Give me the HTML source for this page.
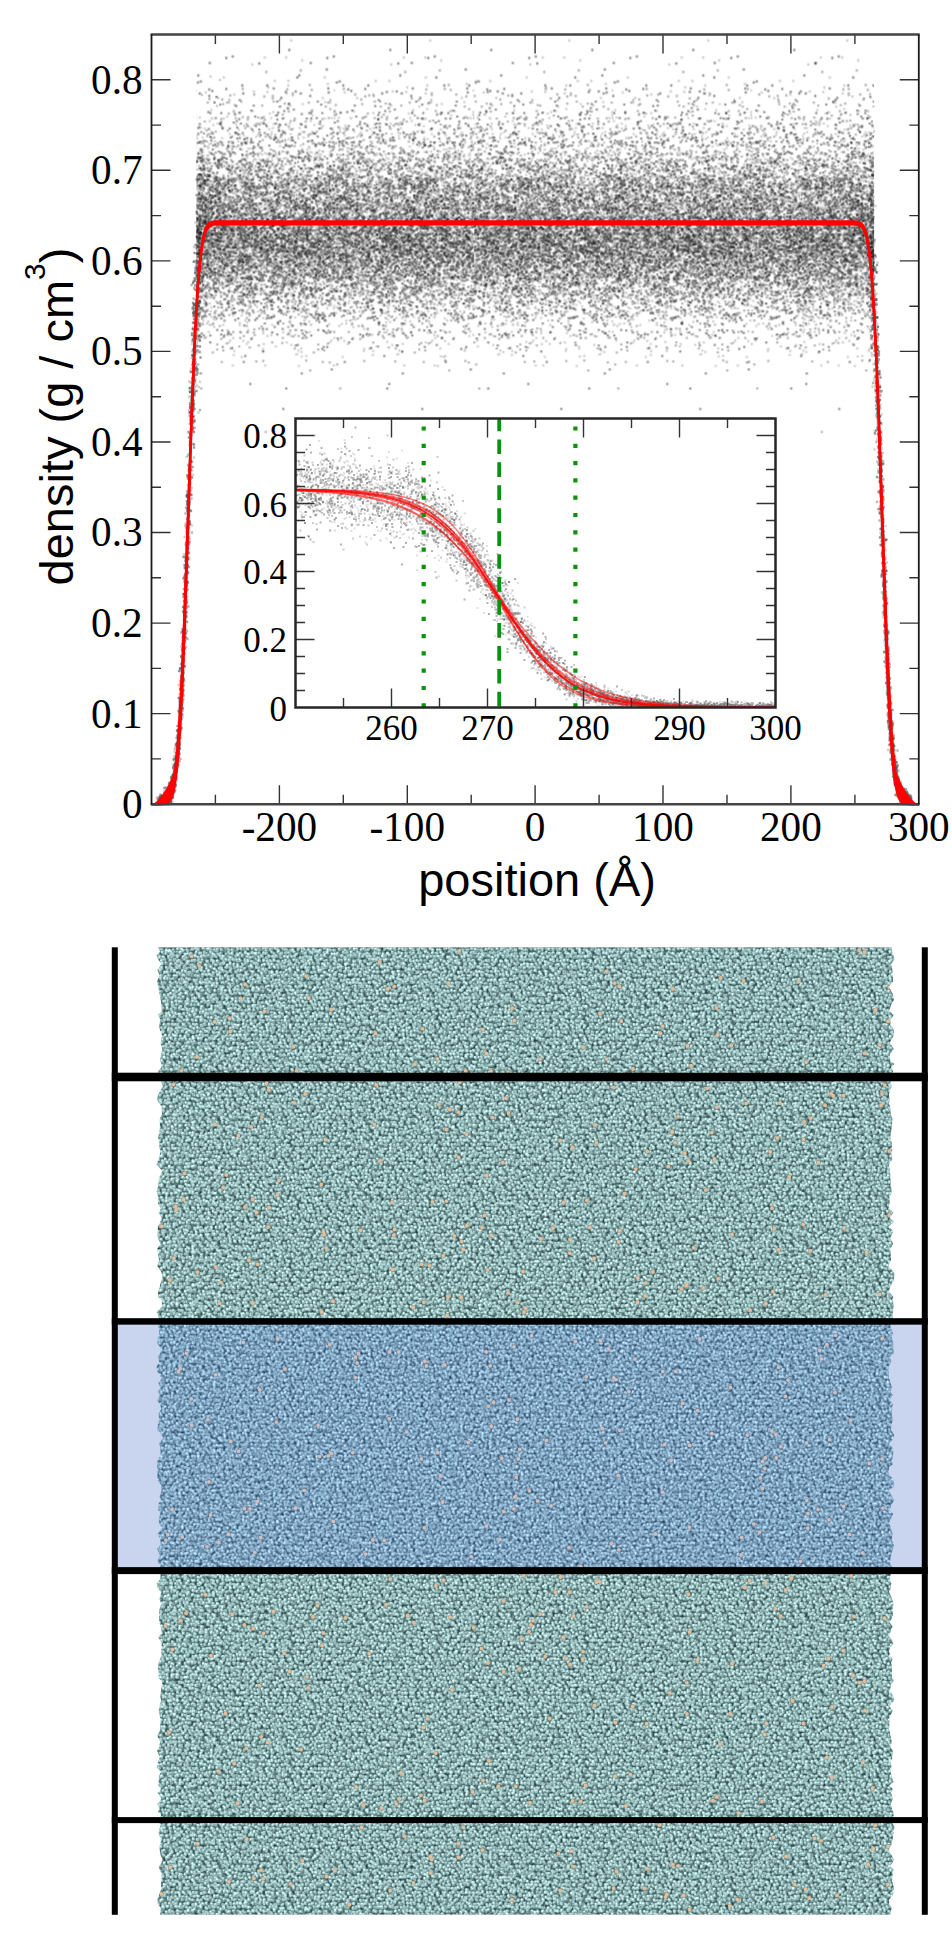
<!DOCTYPE html>
<html><head><meta charset="utf-8"><title>density profile</title>
<style>
html,body{margin:0;padding:0;background:#fff;}
body{width:952px;height:1936px;overflow:hidden;}
svg{display:block;}
</style></head>
<body>
<svg width="952" height="1936" viewBox="0 0 952 1936">
<defs>
<pattern id="cp1" patternUnits="userSpaceOnUse" x="196.3" y="34.5" width="101" height="769.7"><g transform="scale(.5)" stroke="#000" stroke-width="4.6" stroke-linecap="square"><path d="M13 320h0M54 291h0M140 569h0M194 344h0M116 430h0M105 502h0M52 421h0M23 521h0M101 440h0M76 452h0M20 412h0M25 498h0M153 187h0M5 187h0M42 365h0M171 500h0M162 334h0M202 392h0M200 445h0M146 273h0M97 471h0M131 345h0M24 396h0M159 394h0M67 507h0M196 464h0M62 346h0M128 520h0M18 534h0M140 356h0M60 414h0M137 409h0M66 234h0M46 286h0M60 418h0M8 302h0M171 259h0M63 520h0M128 388h0M179 316h0M74 255h0M56 439h0M43 178h0M110 343h0M22 399h0M109 279h0M173 455h0M40 304h0M14 408h0M21 468h0M109 503h0M174 499h0M50 404h0M97 328h0M103 470h0M156 317h0M98 260h0M35 258h0M58 355h0M134 426h0M106 347h0M99 328h0M41 491h0M84 487h0M86 157h0M129 476h0M191 209h0M86 335h0M89 416h0M102 335h0M185 376h0M108 461h0M112 514h0M79 457h0M187 189h0M41 425h0M127 204h0M45 430h0M185 347h0M67 199h0M9 375h0M146 189h0M103 379h0M187 259h0M23 394h0M157 458h0M52 445h0M16 554h0M104 533h0M19 357h0M78 477h0M162 319h0M6 433h0M148 333h0M183 306h0M64 425h0M186 575h0M135 301h0M185 310h0M201 369h0M174 476h0M55 86h0M9 384h0M191 407h0M190 206h0M153 431h0M87 400h0M116 268h0M100 376h0M125 292h0M36 431h0M9 282h0M42 385h0M98 572h0M11 324h0M46 444h0M156 319h0M1 470h0M99 218h0M155 512h0M58 426h0M122 468h0M49 409h0M49 259h0M178 403h0M140 364h0M166 381h0M105 285h0M74 477h0M142 282h0M64 446h0M126 357h0M142 263h0M122 510h0M112 424h0M185 517h0M102 552h0M193 390h0M113 468h0M194 421h0M129 559h0M48 539h0M101 619h0M124 316h0M12 405h0M118 410h0M6 337h0M48 259h0M139 330h0M23 429h0M174 596h0M169 385h0M178 326h0M141 316h0M146 348h0M137 513h0M113 228h0M116 422h0M33 433h0M187 390h0M113 334h0M46 378h0M39 478h0M102 246h0M26 411h0M173 498h0M15 321h0M18 428h0M123 459h0M189 428h0M171 476h0M14 380h0M147 352h0M152 464h0M24 329h0M106 321h0M37 555h0M0 544h0M25 595h0M198 462h0M27 414h0M11 442h0M72 348h0M34 301h0M98 450h0M111 456h0M199 292h0M76 358h0M61 493h0M14 251h0M86 455h0M122 395h0M4 348h0M54 487h0M171 264h0M103 406h0M33 345h0M197 352h0M13 206h0M13 252h0M176 350h0M119 354h0M91 230h0M74 404h0M40 258h0M132 240h0M103 302h0M25 461h0M156 377h0M188 381h0M84 396h0M110 459h0M104 240h0M73 473h0M106 351h0M105 267h0M30 218h0M14 403h0M190 415h0M10 195h0M179 413h0M78 467h0M53 393h0M152 251h0M16 408h0M151 459h0M76 304h0M83 368h0M172 405h0M162 430h0M27 333h0M13 405h0M152 284h0M54 422h0M123 449h0M55 168h0M9 403h0M83 386h0M199 358h0M57 297h0M24 462h0M34 503h0M102 482h0M153 368h0M27 581h0M188 142h0M127 275h0M21 439h0M142 548h0M155 342h0M15 348h0M16 262h0M64 416h0M182 378h0M10 564h0M46 488h0M191 321h0M153 424h0M70 444h0M40 433h0M143 394h0M55 355h0M64 296h0M161 338h0M135 254h0M200 418h0M73 548h0M1 285h0M34 181h0M83 413h0M1 440h0M48 438h0M121 319h0M92 471h0M43 349h0M142 445h0M91 412h0M43 511h0M43 361h0M102 456h0M165 435h0M21 365h0M142 603h0M130 443h0M195 485h0M67 500h0M8 383h0M195 301h0M28 350h0M200 640h0M124 554h0M78 377h0M183 249h0M51 309h0M58 489h0M47 302h0M51 183h0M66 425h0M160 429h0M118 510h0M162 459h0M102 447h0M24 574h0M81 401h0M145 457h0M129 402h0M16 538h0M67 316h0M199 344h0M7 507h0M169 266h0M40 442h0M169 453h0M67 272h0M134 433h0M22 342h0M178 381h0M199 454h0M81 437h0M157 264h0M14 427h0M72 514h0M22 442h0M4 198h0M97 368h0M98 462h0M189 363h0M23 551h0M174 400h0M77 287h0M190 522h0M23 224h0M98 340h0M72 426h0M32 348h0M11 376h0M98 372h0M77 341h0M7 322h0M7 423h0M101 514h0M82 480h0M56 337h0M29 268h0M23 473h0M87 449h0M194 386h0M178 288h0M198 506h0M110 471h0M174 264h0M72 279h0M25 439h0M58 504h0M98 509h0M114 442h0M188 324h0M52 207h0M128 379h0M101 432h0M43 251h0M7 426h0M11 304h0M106 340h0M72 420h0M117 338h0M114 194h0M134 629h0M129 488h0M8 635h0M50 470h0M8 423h0M151 262h0M150 255h0M19 444h0M201 397h0M73 662h0M19 505h0M119 325h0M76 464h0M174 358h0M111 527h0M69 428h0M187 399h0M29 236h0M143 428h0M65 616h0M182 496h0M21 507h0M97 387h0M159 241h0M75 370h0M74 607h0M175 459h0M50 251h0M115 343h0M137 449h0M177 367h0M73 346h0M183 312h0M124 243h0M101 414h0M20 433h0M174 315h0M107 228h0M146 416h0M190 603h0M136 375h0M24 370h0M180 349h0M157 479h0M189 199h0M140 469h0M33 324h0M180 358h0M150 369h0M86 427h0M160 364h0M47 219h0M166 285h0M124 200h0M137 407h0M149 265h0M126 383h0M162 387h0M79 427h0M66 136h0M34 291h0M83 469h0M74 372h0M59 392h0M39 321h0M27 173h0M187 447h0M108 512h0M182 437h0M41 440h0M6 475h0M183 412h0M120 414h0M37 374h0M179 247h0M195 529h0M171 409h0M129 391h0M41 412h0M8 581h0M9 306h0M61 344h0M195 317h0M13 514h0M126 481h0M23 475h0M185 474h0M96 182h0M43 382h0M26 506h0M145 369h0M149 293h0M120 204h0M74 562h0M36 431h0M13 579h0M190 621h0M19 370h0M104 228h0M25 441h0M119 408h0M58 400h0M59 384h0M102 299h0M19 374h0M39 448h0M2 632h0M55 464h0M47 314h0M26 467h0M52 431h0M165 319h0M89 408h0M143 337h0M173 441h0M177 558h0M121 409h0M17 352h0M131 330h0M51 402h0M191 310h0M112 607h0M190 310h0M80 321h0M82 377h0M72 457h0M94 613h0M91 222h0M177 389h0M151 461h0M33 361h0M112 450h0M6 325h0M100 326h0M137 481h0M124 498h0M65 447h0M34 358h0M11 433h0M67 441h0M142 439h0M37 385h0M196 430h0M147 396h0M170 457h0M134 589h0M119 361h0M132 367h0M34 508h0M191 460h0M106 403h0M60 399h0M39 352h0M15 400h0M104 471h0M38 289h0M127 436h0M66 387h0M4 435h0M187 401h0M91 645h0M159 624h0M113 153h0M124 459h0M84 389h0M186 402h0M48 290h0M64 357h0M141 406h0M183 367h0M158 322h0M41 466h0M106 404h0M23 550h0M65 326h0M4 348h0M144 396h0M183 478h0M95 494h0M85 359h0M155 179h0M85 190h0M178 480h0M80 351h0M124 303h0M174 333h0M7 370h0M94 348h0M127 286h0M14 572h0M49 399h0M58 416h0M39 444h0M14 546h0M32 423h0M59 495h0M109 514h0M56 395h0M158 332h0M69 290h0M2 389h0M54 422h0M168 431h0M197 364h0M28 580h0M80 504h0M86 392h0M149 565h0M113 310h0M163 501h0M3 310h0M93 412h0M135 382h0M129 225h0M147 494h0M185 420h0M10 229h0M99 422h0M22 362h0M113 536h0M183 407h0M19 379h0M144 429h0M98 444h0M54 373h0M44 339h0M104 282h0M179 247h0M114 453h0M119 281h0M67 330h0M171 401h0M105 483h0M183 502h0M193 410h0M180 301h0M83 285h0M129 397h0M26 290h0M97 413h0M2 208h0M182 556h0M33 311h0M4 549h0M87 387h0M104 340h0M154 495h0M121 402h0M174 431h0M139 374h0M18 346h0M149 344h0M33 355h0M77 161h0M179 466h0M80 438h0M49 302h0M133 633h0M121 433h0M167 433h0M165 298h0M184 453h0M189 295h0M114 506h0M116 433h0M186 599h0M73 394h0M24 498h0M101 278h0M30 455h0M107 369h0M48 415h0M195 375h0M87 356h0M176 380h0M122 366h0M90 340h0M46 312h0M92 479h0M171 454h0M28 300h0M142 398h0M136 341h0M7 385h0M166 469h0M45 475h0M19 300h0M116 444h0M58 312h0M7 459h0M77 444h0M87 395h0M60 519h0M6 423h0M170 422h0M117 314h0M147 287h0M72 558h0M187 178h0M82 383h0M37 370h0M196 352h0M96 283h0M69 491h0M150 200h0M30 151h0M150 601h0M126 372h0M187 390h0M184 508h0M130 304h0M150 412h0M26 349h0M160 238h0M64 340h0M101 352h0M127 196h0M166 326h0M102 338h0M38 293h0M78 557h0M172 450h0M183 439h0M13 431h0M31 306h0M57 440h0M16 334h0M72 339h0M134 512h0M133 367h0M49 407h0M103 408h0M9 444h0M148 426h0M93 407h0M159 402h0M25 315h0M56 353h0M108 485h0M5 393h0M32 322h0M181 454h0M92 371h0M14 441h0M157 357h0M151 368h0M186 344h0M92 384h0M69 389h0M60 548h0M28 385h0M102 487h0M148 319h0M145 448h0M47 425h0M111 466h0M56 405h0M68 612h0M130 428h0M197 414h0M95 202h0M36 239h0M181 308h0M7 297h0M128 314h0M195 431h0M0 452h0M166 364h0M44 219h0M80 438h0M24 452h0M161 507h0M184 93h0M103 456h0M166 498h0M0 639h0M58 385h0M151 195h0M183 359h0M134 326h0M109 447h0M20 326h0M82 511h0M104 282h0M199 374h0M43 410h0M2 389h0M163 330h0M131 371h0M100 362h0M159 307h0M190 459h0M165 391h0M21 248h0M110 468h0M156 368h0M82 379h0M43 417h0M60 269h0M94 272h0M140 348h0M50 525h0M115 366h0M73 410h0M74 273h0M122 518h0M186 367h0M35 416h0M182 475h0M84 214h0M7 237h0M13 469h0M24 403h0M59 440h0M59 394h0M117 505h0M143 287h0M78 398h0M157 93h0M71 224h0M79 513h0M31 565h0M43 321h0M109 387h0M39 386h0M63 361h0M155 376h0M54 281h0M4 397h0M24 474h0M11 300h0M29 333h0M5 433h0M83 529h0M187 279h0M37 338h0M72 262h0M26 235h0M50 421h0M26 250h0M57 292h0M101 376h0M56 346h0M182 345h0M177 425h0M40 511h0M119 250h0M2 302h0M96 314h0M124 477h0M93 466h0M23 362h0M148 349h0M142 406h0M4 361h0" stroke-opacity="0.18"/><path d="M105 391h0M42 620h0M75 472h0M197 245h0M74 557h0M187 463h0M176 407h0M97 485h0M178 376h0M160 444h0M23 525h0M110 395h0M26 423h0M142 379h0M170 456h0M103 595h0M101 346h0M66 361h0M16 473h0M185 428h0M114 385h0M71 527h0M31 306h0M44 396h0M42 368h0M193 368h0M142 256h0M116 466h0M27 457h0M114 398h0M65 436h0M163 318h0M47 300h0M131 410h0M11 438h0M31 424h0M173 607h0M101 370h0M74 595h0M118 370h0M56 439h0M27 396h0M99 317h0M53 458h0M6 453h0M30 385h0M73 470h0M140 263h0M10 471h0M79 476h0M1 356h0M183 315h0M188 479h0M52 337h0M193 402h0M1 423h0M6 406h0M108 376h0M91 219h0M120 485h0M11 415h0M18 557h0M14 461h0M188 482h0M78 350h0M142 387h0M47 369h0M183 404h0M182 238h0M106 328h0M132 440h0M37 558h0M177 364h0M30 432h0M191 491h0M68 457h0M58 424h0M172 475h0M143 438h0M92 368h0M179 444h0M46 406h0M18 371h0M144 332h0M160 482h0M137 452h0M115 372h0M117 389h0M142 462h0M156 467h0M145 316h0M45 294h0M63 458h0M110 280h0M133 211h0M9 367h0M27 375h0M152 384h0M13 470h0M189 411h0M118 457h0M59 445h0M80 389h0M154 434h0M29 459h0M46 454h0M162 377h0M71 462h0M85 540h0M121 313h0M186 401h0M10 303h0M34 327h0M111 507h0M24 462h0M18 524h0M146 297h0M64 406h0M157 301h0M81 329h0M19 606h0M32 522h0M20 481h0M102 331h0M189 401h0M188 565h0M122 400h0M154 370h0M93 109h0M69 388h0M197 223h0M54 632h0M137 404h0M143 327h0M32 300h0M21 527h0M110 367h0M10 232h0M95 278h0M130 338h0M96 421h0M115 398h0M146 531h0M95 391h0M57 306h0M4 387h0M36 469h0M102 271h0M124 283h0M64 534h0M131 468h0M106 349h0M93 361h0M128 436h0M115 537h0M24 370h0M135 298h0M132 425h0M92 316h0M127 226h0M196 435h0M99 317h0M198 372h0M109 438h0M98 250h0M17 607h0M86 456h0M71 344h0M163 286h0M36 322h0M42 411h0M92 249h0M42 312h0M19 395h0M24 426h0M128 399h0M11 309h0M144 274h0M183 600h0M190 335h0M0 203h0M171 413h0M23 242h0M94 462h0M174 491h0M92 477h0M81 329h0M36 400h0M8 514h0M29 374h0M35 442h0M180 297h0M129 417h0M114 521h0M4 376h0M64 352h0M122 402h0M175 373h0M196 405h0M158 206h0M5 438h0M27 307h0M46 414h0M36 489h0M177 498h0M164 488h0M6 376h0M42 352h0M193 509h0M102 256h0M92 347h0M79 303h0M61 419h0M176 433h0M134 653h0M102 312h0M101 298h0M11 506h0M161 320h0M164 575h0M89 362h0M96 380h0M114 372h0M202 398h0M91 426h0M96 430h0M39 447h0M173 234h0M180 463h0M70 391h0M35 508h0M60 478h0M196 341h0M86 552h0M109 443h0M15 565h0M133 251h0M117 502h0M96 419h0M63 592h0M66 131h0M109 504h0M196 427h0M62 136h0M57 456h0M77 329h0M1 410h0M12 286h0M171 261h0M197 423h0M39 553h0M43 354h0M43 297h0M173 380h0M87 425h0M112 408h0M88 412h0M90 379h0M190 505h0M128 410h0M96 381h0M10 476h0M6 341h0M15 336h0M112 385h0M70 291h0M116 398h0M140 434h0M100 441h0M150 567h0M50 169h0M41 445h0M97 488h0M14 311h0M166 405h0M3 387h0M20 564h0M140 519h0M75 153h0M157 402h0M178 346h0M104 387h0M199 534h0M42 487h0M20 390h0M166 482h0M163 391h0M92 304h0M149 279h0M119 432h0M82 462h0M196 365h0M15 363h0M16 378h0M64 306h0M120 183h0M191 485h0M15 449h0M131 406h0M199 418h0M67 343h0M136 304h0M30 368h0M8 555h0M75 318h0M22 203h0M21 214h0M23 200h0M11 328h0M90 501h0M182 459h0M66 289h0M182 456h0M93 296h0M72 326h0M101 234h0M136 465h0M64 284h0M35 419h0M37 497h0M44 382h0M56 332h0M152 616h0M56 564h0M170 409h0M98 409h0M94 456h0M181 390h0M197 397h0M79 487h0M14 301h0M85 291h0M125 415h0M197 445h0M17 433h0M128 340h0M64 299h0M153 482h0M57 369h0M91 454h0M182 415h0M158 366h0M154 426h0M68 411h0M21 249h0M117 352h0M77 141h0M32 327h0M37 287h0M61 494h0M108 486h0M190 435h0M72 229h0M108 312h0M118 541h0M83 311h0M28 398h0M3 560h0M171 383h0M186 410h0M92 428h0M106 397h0M100 242h0M175 431h0M19 414h0M177 138h0M183 223h0M72 378h0M79 314h0M148 254h0M150 400h0M130 389h0M104 520h0M184 278h0M65 425h0M69 409h0M160 346h0M172 469h0M75 529h0M142 536h0M142 398h0M2 396h0M200 424h0M184 453h0M153 351h0M11 432h0M81 425h0M88 273h0M201 427h0M75 288h0M153 502h0M51 403h0M142 282h0M178 413h0M182 554h0M201 508h0M120 506h0M76 531h0M30 509h0M29 335h0M18 343h0M69 398h0M138 416h0M3 370h0M29 461h0M65 539h0M55 396h0M146 384h0M109 498h0M194 339h0M136 400h0M19 331h0M132 555h0M57 316h0M149 230h0M153 383h0M1 467h0M42 381h0M33 636h0M65 513h0M162 514h0M59 391h0M72 254h0M97 520h0M135 297h0M173 495h0M155 415h0M46 512h0M191 452h0M4 532h0M177 290h0M73 344h0M190 564h0M196 322h0M156 465h0M104 455h0M135 545h0M192 495h0M80 388h0M54 321h0M164 394h0M195 554h0M187 365h0M72 204h0M197 392h0M72 443h0M153 123h0M73 386h0M40 423h0M32 478h0M86 441h0M156 272h0M8 463h0M88 607h0M188 275h0M61 618h0M155 134h0M29 443h0M134 367h0M183 433h0M127 362h0M61 522h0M9 290h0M55 470h0M73 216h0M37 437h0M60 426h0M131 429h0M137 475h0M202 288h0M41 403h0M91 451h0M98 187h0M108 378h0M85 366h0M146 204h0M56 573h0M54 402h0M20 439h0M37 479h0M137 381h0M27 199h0M59 371h0M116 120h0M140 408h0M155 241h0M45 471h0M6 424h0M153 425h0M59 462h0M12 325h0M110 414h0M17 295h0M2 410h0M171 306h0M164 579h0M115 389h0M145 529h0M191 419h0M89 444h0M136 367h0M26 344h0M12 525h0M139 528h0M182 313h0M190 378h0M81 355h0M84 222h0M0 419h0M2 290h0M181 453h0M160 462h0M117 412h0M154 397h0M169 296h0M48 436h0M22 450h0M41 421h0M5 289h0M135 377h0M63 502h0M169 205h0M11 254h0M129 378h0M195 272h0M200 508h0M165 471h0M87 283h0M166 193h0M147 487h0M176 501h0M142 255h0M97 474h0M39 236h0M7 344h0M44 261h0M90 330h0M129 508h0M160 431h0M2 478h0M22 404h0M42 366h0M172 315h0M65 494h0M48 534h0M1 457h0M119 273h0M136 417h0M94 497h0M159 416h0M159 400h0M160 382h0M65 443h0M178 453h0M106 489h0M156 372h0M54 432h0M118 273h0M28 409h0M98 476h0M78 493h0M46 448h0M135 165h0M176 395h0M169 552h0M37 454h0M202 430h0M199 344h0M126 258h0M39 194h0M93 438h0M61 256h0M162 483h0M96 326h0M31 351h0M66 349h0M57 458h0M146 363h0M195 379h0M165 480h0M138 272h0M12 486h0M193 361h0M61 447h0M164 291h0M146 377h0M58 441h0M14 467h0M131 584h0M184 388h0M33 463h0M70 347h0M48 335h0M43 217h0M178 381h0M94 552h0M186 472h0M179 520h0M4 320h0M116 297h0M17 174h0M52 413h0M107 316h0M187 340h0M145 429h0M99 522h0M69 390h0M149 532h0M141 465h0M81 267h0M75 292h0M132 321h0M194 604h0M180 382h0M140 431h0M158 295h0M53 474h0M49 480h0M89 449h0M129 476h0M93 473h0M87 433h0M186 455h0M40 374h0M70 346h0M96 404h0M107 257h0M62 369h0M116 521h0M175 368h0M98 208h0M97 428h0M150 463h0M32 304h0M77 512h0M55 413h0M10 437h0M35 374h0M54 377h0M36 525h0M143 444h0M18 402h0M93 540h0M121 419h0M101 558h0M67 494h0M27 363h0M128 513h0M44 388h0M89 500h0M14 521h0M12 493h0M97 434h0M168 296h0M76 348h0M185 222h0M191 435h0M178 334h0M57 572h0M43 368h0M42 630h0M118 422h0M83 323h0M155 478h0M158 471h0M130 464h0M189 430h0M98 274h0M96 437h0M201 464h0M114 289h0M151 373h0M72 312h0M5 308h0M24 373h0M30 353h0M138 450h0M197 168h0M112 449h0M23 414h0M86 388h0M185 184h0M126 338h0M120 304h0M17 350h0M8 334h0M137 332h0M178 198h0M31 476h0M126 271h0M155 324h0M122 358h0M186 454h0M47 501h0M130 501h0M7 396h0M115 556h0M19 399h0M174 384h0M166 374h0M145 522h0M89 378h0M36 507h0M131 501h0M44 400h0M43 508h0M81 496h0M93 341h0M23 136h0M57 304h0M81 315h0M139 475h0M168 398h0M75 416h0M33 454h0M3 492h0M187 331h0M197 399h0M26 371h0M167 485h0M116 484h0M156 423h0M67 349h0M195 453h0M38 323h0M42 428h0M66 561h0M56 373h0M136 393h0M49 381h0M54 383h0M27 309h0M50 561h0M114 556h0M47 356h0M10 421h0M143 249h0M73 392h0M157 308h0M91 267h0M71 287h0M6 400h0M51 250h0M162 311h0M151 495h0M106 421h0M2 438h0M72 355h0M95 440h0M37 512h0M57 388h0M109 484h0M173 160h0M41 567h0M147 318h0M77 364h0M97 477h0M136 124h0M60 491h0M165 424h0M75 487h0M99 346h0M191 367h0M102 417h0M17 481h0M167 144h0M33 392h0M1 296h0M169 373h0M146 305h0M188 416h0M93 525h0M39 412h0M121 568h0M70 331h0M2 385h0M62 376h0M58 363h0M141 184h0M199 387h0M106 518h0M197 628h0M15 413h0M8 268h0M51 655h0M125 452h0M106 341h0M30 408h0M172 424h0M59 326h0M76 362h0M66 311h0M52 495h0M64 445h0M12 343h0M61 363h0M49 464h0M113 431h0M44 358h0M79 301h0M40 262h0M200 550h0M96 261h0M55 466h0M184 426h0M18 342h0M62 465h0M11 508h0M176 395h0M53 356h0M76 385h0M179 403h0M31 195h0M16 282h0M16 327h0M154 496h0M171 302h0M108 471h0M23 496h0M78 159h0M82 464h0M106 572h0M43 266h0M39 414h0M133 323h0M141 184h0M86 288h0M84 385h0M102 400h0M25 455h0M118 359h0M139 339h0M193 543h0M65 292h0M113 305h0M194 277h0M138 375h0M54 499h0M48 368h0M185 154h0M90 451h0M164 211h0M72 389h0M32 346h0M14 358h0M51 308h0M80 340h0M58 386h0M109 545h0M171 524h0M57 288h0M35 490h0M189 504h0M58 445h0M130 470h0M82 347h0M110 238h0M22 415h0" stroke-opacity="0.28"/><path d="M91 454h0M38 436h0M164 156h0M13 552h0M37 288h0M28 439h0M42 276h0M48 140h0M55 338h0M44 429h0M113 298h0M106 558h0M106 486h0M110 353h0M179 180h0M131 271h0M85 358h0M54 309h0M72 490h0M126 351h0M150 361h0M166 430h0M93 381h0M136 481h0M15 602h0M143 411h0M33 314h0M59 302h0M44 305h0M135 435h0M143 447h0M191 393h0M66 452h0M53 625h0M95 402h0M169 424h0M110 361h0M165 388h0M141 279h0M200 477h0M122 257h0M9 512h0M26 512h0M70 302h0M137 374h0M104 401h0M28 471h0M103 183h0M89 399h0M164 390h0M155 380h0M81 173h0M164 337h0M127 376h0M58 379h0M45 326h0M78 273h0M196 386h0M119 368h0M7 578h0M199 622h0M152 565h0M35 434h0M132 369h0M97 296h0M194 346h0M178 418h0M47 296h0M155 392h0M115 142h0M99 470h0M139 435h0M178 421h0M38 476h0M11 348h0M107 464h0M124 393h0M83 444h0M201 382h0M51 483h0M129 286h0M185 493h0M6 280h0M138 444h0M46 329h0M63 425h0M11 598h0M179 115h0M24 352h0M67 488h0M114 235h0M15 509h0M160 400h0M200 284h0M49 412h0M148 448h0M12 341h0M166 337h0M131 363h0M172 357h0M78 276h0M42 491h0M111 311h0M53 221h0M188 468h0M89 253h0M117 461h0M24 434h0M8 482h0M18 292h0M189 432h0M27 305h0M155 497h0M114 436h0M116 349h0M84 399h0M151 376h0M5 443h0M197 548h0M186 436h0M172 213h0M167 317h0M100 348h0M196 469h0M124 415h0M138 334h0M106 309h0M51 540h0M109 423h0M91 390h0M28 483h0M155 482h0M114 243h0M35 494h0M42 263h0M87 441h0M6 317h0M136 303h0M121 466h0M64 292h0M127 373h0M119 339h0M93 426h0M190 493h0M107 378h0M171 454h0M118 384h0M86 447h0M72 310h0M78 450h0M7 268h0M164 336h0M54 507h0M145 439h0M172 391h0M124 436h0M65 596h0M133 486h0M185 397h0M26 369h0M162 430h0M152 531h0M87 156h0M68 243h0M13 352h0M32 322h0M100 385h0M48 413h0M100 452h0M150 453h0M198 378h0M20 408h0M60 248h0M154 364h0M154 382h0M98 265h0M3 342h0M100 404h0M86 324h0M66 415h0M198 257h0M77 302h0M131 493h0M155 499h0M52 399h0M117 369h0M138 436h0M65 489h0M38 323h0M137 349h0M131 508h0M24 355h0M156 395h0M30 366h0M73 473h0M176 389h0M36 308h0M95 519h0M173 510h0M47 262h0M111 464h0M43 307h0M110 609h0M142 442h0M149 454h0M99 414h0M37 391h0M98 444h0M152 361h0M62 365h0M61 267h0M60 47h0M163 470h0M66 343h0M40 316h0M105 278h0M21 540h0M92 240h0M19 459h0M181 434h0M176 434h0M5 302h0M108 343h0M197 403h0M124 402h0M98 370h0M67 188h0M165 191h0M21 432h0M143 370h0M174 425h0M143 457h0M162 161h0M146 267h0M18 436h0M32 360h0M142 311h0M91 365h0M16 353h0M14 291h0M152 484h0M36 544h0M42 460h0M117 371h0M82 537h0M133 386h0M177 402h0M121 374h0M57 364h0M124 266h0M98 398h0M53 342h0M152 414h0M111 489h0M104 445h0M112 291h0M45 450h0M160 300h0M179 369h0M42 318h0M181 395h0M172 385h0M81 371h0M149 452h0M21 283h0M27 381h0M52 454h0M140 505h0M161 215h0M30 212h0M54 388h0M73 354h0M108 444h0M187 499h0M71 403h0M170 201h0M174 324h0M95 503h0M122 402h0M86 354h0M178 407h0M143 434h0M3 290h0M57 388h0M142 102h0M38 220h0M162 170h0M183 278h0M20 401h0M36 249h0M164 309h0M73 392h0M175 437h0M185 139h0M104 306h0M110 419h0M60 366h0M89 348h0M71 411h0M121 534h0M102 509h0M22 346h0M199 463h0M187 403h0M92 441h0M146 222h0M31 366h0M63 408h0M8 411h0M81 340h0M96 402h0M131 428h0M159 178h0M143 299h0M110 152h0M29 520h0M194 390h0M87 452h0M47 408h0M194 457h0M171 428h0M149 534h0M74 465h0M198 395h0M201 399h0M123 414h0M28 448h0M29 419h0M111 264h0M55 399h0M23 412h0M119 321h0M97 393h0M46 562h0M54 561h0M54 358h0M130 319h0M135 271h0M184 299h0M162 275h0M59 389h0M14 484h0M191 418h0M107 375h0M48 396h0M164 527h0M51 557h0M134 330h0M193 444h0M88 333h0M3 525h0M23 438h0M11 451h0M140 305h0M123 420h0M130 538h0M113 290h0M7 365h0M131 167h0M119 402h0M195 394h0M199 342h0M111 332h0M20 378h0M63 409h0M56 352h0M176 342h0M202 321h0M74 437h0M23 267h0M158 306h0M93 365h0M110 398h0M141 543h0M31 473h0M128 462h0M143 458h0M155 315h0M10 398h0M36 459h0M160 408h0M8 498h0M11 298h0M32 421h0M3 246h0M75 393h0M44 413h0M18 386h0M163 408h0M75 400h0M190 442h0M141 589h0M93 402h0M193 376h0M199 435h0M119 486h0M8 457h0M105 467h0M197 357h0M38 482h0M98 216h0M56 429h0M59 320h0M97 359h0M149 521h0M124 221h0M1 255h0M48 318h0M65 215h0M197 477h0M194 473h0M26 391h0M186 420h0M50 157h0M57 484h0M140 181h0M188 330h0M49 316h0M88 281h0M28 507h0M5 538h0M182 394h0M165 435h0M40 287h0M148 421h0M132 394h0M136 382h0M202 328h0M7 179h0M34 409h0M64 270h0M170 408h0M199 591h0M148 426h0M73 435h0M167 550h0M136 430h0M19 339h0M0 543h0M8 247h0M106 375h0M169 464h0M178 446h0M91 378h0M124 219h0M179 328h0M0 367h0M61 424h0M141 447h0M189 326h0M53 379h0M139 407h0M41 300h0M167 268h0M152 360h0M11 252h0M193 497h0M58 381h0M200 343h0M199 114h0M2 393h0M104 444h0M109 322h0M148 515h0M106 417h0M113 552h0M190 350h0M58 361h0M60 344h0M18 297h0M172 433h0M42 411h0M48 430h0M101 443h0M80 309h0M50 261h0M156 373h0M182 377h0M124 404h0M70 456h0M176 409h0M127 214h0M166 360h0M32 326h0M117 426h0M86 388h0M183 147h0M19 332h0M0 340h0M7 118h0M61 448h0M2 437h0M94 320h0M122 488h0M163 577h0M139 319h0M169 455h0M182 355h0M190 499h0M49 351h0M113 355h0M163 467h0M60 343h0M187 270h0M156 489h0M28 602h0M94 323h0M133 482h0M63 291h0M6 383h0M69 240h0M4 82h0M92 102h0M186 415h0M26 123h0M199 487h0M163 463h0M99 394h0M176 153h0M154 515h0M195 150h0M18 355h0M173 589h0M98 331h0M132 419h0M202 367h0M166 239h0M147 453h0M26 348h0M202 451h0M102 207h0M129 457h0M105 470h0M117 418h0M67 419h0M155 476h0M190 293h0M202 408h0M116 419h0M74 296h0M148 386h0M19 410h0M33 422h0M173 328h0M166 408h0M6 472h0M22 481h0M76 335h0M164 322h0M54 476h0M132 452h0M92 410h0M13 485h0M66 312h0M184 319h0M118 164h0M19 365h0M94 412h0M162 600h0M57 433h0M193 428h0M175 326h0M130 442h0M119 349h0M12 235h0M175 407h0M80 289h0M160 474h0M163 408h0M152 515h0M124 420h0M193 245h0M141 452h0M24 290h0M64 297h0M191 212h0M190 416h0M75 437h0M173 425h0M94 421h0M91 408h0M174 485h0M137 257h0M170 466h0M42 316h0M11 427h0M194 498h0M42 477h0M150 337h0M76 332h0M35 356h0M160 271h0M111 313h0M153 259h0M23 379h0M18 466h0M28 157h0M144 394h0M160 339h0M196 426h0M40 398h0M124 285h0M68 271h0M113 216h0M144 475h0M182 482h0M90 289h0M85 444h0M190 333h0M169 429h0M85 463h0M63 381h0M135 492h0M9 409h0M114 384h0M91 374h0M169 408h0M53 384h0M17 440h0M136 403h0M121 366h0M132 413h0M157 450h0M155 430h0M119 499h0M8 437h0M112 342h0M87 504h0M178 446h0M131 394h0M120 465h0M175 504h0M176 500h0M44 420h0M4 517h0M38 487h0M100 285h0M2 467h0M68 363h0M198 414h0M84 386h0M125 361h0M51 216h0M39 514h0M58 400h0M197 429h0M9 445h0M75 176h0M90 327h0M139 253h0M65 341h0M90 487h0M17 268h0M31 392h0M72 468h0M111 397h0M60 439h0M84 452h0M30 336h0M180 316h0M178 342h0M87 530h0M27 57h0M50 568h0M181 412h0M82 478h0M69 435h0M163 342h0M119 500h0M80 437h0M178 357h0M99 304h0M70 477h0M201 447h0M39 366h0M200 414h0M180 376h0M27 283h0M130 411h0M151 330h0M151 346h0M108 500h0M148 534h0M137 386h0M55 450h0M156 564h0M64 222h0M142 396h0M43 507h0M6 533h0M32 349h0M46 372h0M127 492h0M83 267h0M141 316h0M155 354h0M61 374h0M64 482h0M189 442h0M133 413h0M39 308h0M185 300h0M28 311h0M49 467h0M4 237h0M170 397h0M120 351h0M92 260h0M46 386h0M14 502h0M162 333h0M93 391h0M62 382h0M12 415h0M117 314h0M42 591h0M16 337h0M174 406h0M198 337h0M18 373h0M198 456h0M151 549h0M39 167h0M170 557h0M96 315h0M43 303h0M157 370h0M145 376h0M148 487h0M109 216h0M118 395h0M149 489h0M199 480h0M121 343h0M165 251h0M67 376h0M51 265h0M120 340h0M145 342h0M36 469h0M123 239h0M88 408h0M72 523h0M180 708h0M135 178h0M149 484h0M52 592h0M201 488h0M169 552h0M78 293h0M11 510h0M111 300h0M82 208h0M191 413h0M18 479h0M190 348h0M154 519h0M135 284h0M200 350h0M25 273h0M54 288h0M16 308h0M15 479h0M142 567h0M158 476h0M155 488h0M151 354h0M70 420h0M46 315h0M64 433h0M100 456h0M126 563h0M169 517h0M175 325h0M11 297h0M35 357h0M161 422h0M14 261h0M75 427h0M178 492h0M195 449h0M114 339h0M93 197h0M2 344h0M48 371h0M94 394h0M66 385h0M81 482h0M7 442h0M129 201h0M34 425h0M10 390h0M157 441h0M58 462h0M190 315h0M5 439h0M98 309h0M46 465h0M22 460h0M104 452h0M86 411h0M55 348h0M92 417h0M179 524h0M60 503h0M165 185h0M37 409h0M8 349h0M78 426h0M107 417h0M116 397h0M13 460h0M165 366h0M83 375h0M79 419h0M171 372h0M200 426h0M41 291h0M9 407h0M81 197h0M123 308h0M154 351h0M66 264h0M72 485h0M134 456h0M15 399h0M59 435h0M108 330h0M27 560h0M146 567h0M46 474h0M47 463h0M194 212h0M51 316h0M83 407h0M114 349h0M45 482h0M167 318h0M9 678h0M131 510h0M193 306h0M157 444h0M49 480h0M66 337h0M1 404h0M201 447h0M108 336h0M18 352h0M62 400h0M159 320h0M123 305h0M200 392h0M151 286h0M11 549h0M15 376h0M184 532h0M33 198h0M118 464h0M78 376h0M73 44h0M159 498h0M7 407h0M49 424h0M92 486h0M16 509h0M71 336h0M120 338h0M87 450h0M18 506h0M1 551h0M197 285h0M17 391h0M172 460h0M126 379h0M3 526h0M169 473h0M132 331h0M171 200h0M126 426h0M194 434h0M180 536h0M15 293h0M199 443h0M112 190h0M29 294h0M45 561h0M46 447h0M59 296h0M96 455h0M104 335h0M178 364h0M24 252h0M192 206h0M51 365h0M85 265h0M85 325h0M186 31h0M89 403h0M110 333h0M195 522h0M49 441h0M25 432h0M95 655h0M38 333h0M141 421h0M23 381h0M50 387h0M20 404h0M115 305h0M61 425h0" stroke-opacity="0.4"/></g></pattern>
<pattern id="cp2" patternUnits="userSpaceOnUse" x="196.3" y="34.5" width="139" height="769.7"><g transform="scale(.5)" stroke="#000" stroke-width="4.6" stroke-linecap="square"><path d="M228 330h0M61 489h0M45 479h0M165 446h0M261 532h0M101 486h0M221 367h0M163 480h0M111 359h0M231 518h0M34 478h0M41 515h0M52 351h0M109 339h0M99 364h0M95 263h0M184 468h0M173 381h0M235 437h0M221 440h0M278 465h0M246 232h0M6 329h0M58 466h0M42 434h0M113 402h0M150 375h0M170 313h0M58 476h0M103 423h0M79 410h0M24 301h0M30 546h0M120 414h0M230 453h0M139 413h0M197 334h0M126 430h0M72 357h0M40 308h0M211 644h0M28 484h0M75 500h0M114 253h0M278 337h0M31 410h0M236 381h0M276 155h0M185 304h0M272 429h0M112 464h0M53 248h0M101 218h0M167 359h0M64 396h0M69 458h0M54 358h0M162 522h0M222 362h0M112 426h0M116 249h0M125 257h0M93 475h0M122 393h0M3 545h0M260 216h0M186 482h0M26 468h0M54 365h0M26 413h0M163 404h0M139 307h0M207 494h0M246 448h0M221 244h0M190 284h0M2 406h0M249 257h0M261 482h0M91 562h0M107 390h0M230 513h0M47 328h0M114 439h0M194 481h0M181 616h0M227 282h0M227 227h0M29 443h0M20 328h0M92 556h0M229 350h0M207 320h0M91 409h0M177 331h0M244 558h0M106 509h0M122 411h0M3 284h0M10 547h0M72 300h0M122 384h0M135 174h0M196 291h0M153 429h0M200 463h0M62 473h0M75 427h0M232 497h0M175 248h0M257 382h0M134 567h0M195 493h0M104 591h0M192 485h0M155 363h0M211 399h0M69 466h0M223 444h0M181 428h0M180 518h0M255 420h0M115 308h0M13 579h0M3 494h0M246 376h0M149 405h0M276 543h0M144 387h0M193 504h0M26 327h0M83 354h0M67 312h0M153 344h0M184 102h0M99 376h0M130 176h0M7 252h0M257 400h0M142 115h0M89 316h0M205 498h0M164 434h0M277 354h0M131 428h0M56 387h0M69 433h0M79 483h0M190 12h0M277 311h0M143 352h0M137 46h0M158 350h0M184 433h0M207 460h0M142 300h0M244 445h0M183 289h0M19 367h0M262 366h0M215 402h0M7 368h0M85 402h0M56 412h0M209 335h0M27 489h0M198 371h0M270 594h0M155 423h0M248 356h0M50 522h0M14 408h0M73 498h0M153 475h0M31 264h0M116 310h0M133 296h0M222 230h0M170 447h0M89 537h0M66 545h0M51 312h0M274 457h0M39 398h0M197 444h0M91 457h0M18 360h0M74 374h0M161 441h0M212 287h0M60 421h0M6 322h0M91 308h0M22 578h0M15 325h0M161 286h0M183 336h0M142 455h0M255 368h0M209 222h0M277 112h0M180 46h0M249 240h0M23 413h0M256 316h0M174 441h0M242 236h0M220 364h0M114 345h0M141 362h0M255 290h0M101 555h0M149 533h0M156 357h0M72 390h0M233 519h0M123 422h0M128 361h0M249 397h0M225 464h0M24 450h0M104 367h0M197 478h0M107 296h0M35 570h0M109 187h0M6 612h0M229 410h0M272 352h0M96 386h0M207 366h0M83 422h0M191 252h0M140 447h0M44 301h0M91 257h0M182 380h0M50 300h0M0 354h0M269 542h0M210 369h0M184 149h0M205 314h0M245 389h0M36 585h0M247 462h0M17 402h0M100 430h0M128 486h0M8 583h0M100 401h0M181 118h0M246 477h0M197 308h0M199 298h0M50 325h0M153 466h0M151 333h0M40 447h0M131 400h0M36 497h0M73 334h0M86 352h0M239 415h0M225 319h0M162 247h0M226 455h0M149 338h0M220 551h0M102 434h0M19 467h0M188 439h0M24 452h0M134 598h0M92 374h0M25 336h0M88 342h0M213 139h0M32 285h0M265 395h0M188 386h0M225 447h0M233 355h0M138 662h0M219 568h0M269 386h0M258 135h0M266 491h0M119 321h0M108 385h0M276 161h0M214 463h0M183 275h0M12 351h0M100 299h0M121 395h0M42 421h0M213 293h0M221 308h0M264 542h0M245 441h0M231 313h0M52 454h0M129 432h0M253 301h0M170 394h0M58 552h0M130 306h0M212 279h0M8 356h0M185 500h0M231 357h0M228 412h0M137 410h0M184 288h0M154 392h0M95 446h0M221 293h0M156 506h0M3 322h0M35 344h0M26 516h0M88 284h0M8 339h0M63 474h0M140 399h0M7 453h0M236 370h0M224 498h0M146 242h0M203 243h0M70 492h0M166 459h0M185 597h0M229 451h0M2 353h0M141 347h0M212 537h0M62 249h0M111 420h0M245 354h0M62 386h0M200 349h0M199 371h0M210 628h0M267 241h0M44 127h0M97 432h0M154 339h0M20 424h0M62 456h0M65 311h0M109 322h0M232 445h0M1 495h0M102 576h0M92 251h0M90 293h0M275 427h0M100 361h0M222 359h0M111 394h0M107 373h0M89 302h0M118 226h0M165 473h0M70 364h0M104 309h0M83 314h0M191 445h0M16 297h0M154 155h0M63 482h0M39 454h0M235 522h0M118 340h0M95 444h0M210 277h0M126 474h0M274 320h0M70 487h0M36 393h0M218 327h0M16 415h0M33 406h0M168 144h0M243 392h0M248 452h0M205 663h0M222 442h0M83 428h0M190 533h0M72 475h0M238 374h0M186 400h0M117 507h0M115 377h0M198 566h0M189 496h0M7 371h0M54 581h0M89 535h0M97 353h0M121 412h0M12 418h0M132 283h0M93 386h0M203 328h0M49 321h0M22 298h0M266 358h0M95 342h0M265 518h0M85 254h0M274 274h0M156 365h0M47 361h0M225 558h0M235 449h0M53 246h0M247 444h0M6 362h0M13 230h0M96 250h0M185 298h0M237 408h0M48 405h0M220 643h0M228 381h0M62 377h0M21 271h0M117 508h0M8 232h0M14 482h0M8 406h0M42 468h0M59 421h0M270 447h0M45 421h0M139 375h0M212 412h0M135 178h0M147 408h0M185 375h0M232 416h0M103 459h0M3 388h0M143 431h0M196 325h0M161 519h0M179 402h0M33 335h0M102 497h0M270 408h0M145 331h0M124 393h0M251 299h0M146 373h0M234 565h0M262 531h0M112 260h0M264 519h0M253 341h0M139 304h0M193 394h0M121 406h0M87 200h0M196 494h0M159 363h0M220 348h0M123 341h0M209 325h0M194 315h0M50 340h0M80 352h0M67 514h0M196 416h0M200 306h0M125 378h0M81 335h0M263 404h0M102 596h0M105 570h0M104 615h0M76 404h0M63 427h0M93 286h0M79 490h0M139 345h0M262 522h0M263 99h0M103 498h0M166 279h0M77 387h0M250 508h0M276 444h0M147 158h0M73 451h0M16 494h0M102 379h0M130 367h0M239 506h0M93 555h0M120 359h0M254 405h0M230 447h0M137 462h0M57 366h0M118 389h0M55 301h0M212 331h0M238 453h0M275 471h0M174 487h0M26 517h0M124 374h0M237 368h0M17 188h0M210 234h0M141 239h0M28 366h0M216 382h0M238 562h0M4 282h0M29 418h0M69 392h0M266 464h0M208 348h0M18 212h0M177 474h0M212 380h0M49 325h0M240 295h0M8 420h0M101 341h0M50 304h0M204 301h0M265 280h0M253 433h0M100 347h0M17 272h0M277 414h0M60 453h0M176 364h0M148 363h0M16 418h0M127 433h0M10 300h0M58 409h0M155 561h0M148 291h0M92 305h0M167 305h0M1 370h0M1 358h0M231 464h0M133 435h0M89 360h0M52 247h0M215 295h0M110 408h0M32 415h0M229 419h0M177 369h0M252 279h0M267 421h0M125 360h0M126 373h0M23 506h0M147 263h0M221 401h0M103 318h0M110 335h0M16 433h0M131 398h0M252 360h0M52 504h0M85 388h0M261 478h0M129 425h0M138 408h0M247 498h0M87 282h0M222 507h0M25 318h0M83 516h0M211 426h0M76 364h0M19 376h0M121 425h0M107 400h0M18 554h0M137 403h0M156 357h0M8 426h0M11 368h0M44 384h0M128 237h0M186 319h0M123 415h0M199 430h0M179 235h0M218 246h0M211 511h0M204 323h0M203 340h0M247 390h0M56 364h0M157 267h0M86 472h0M196 458h0M218 301h0M188 574h0M72 406h0M157 307h0M70 399h0M241 473h0M81 366h0M129 396h0M49 523h0M159 297h0M233 383h0M53 286h0M39 411h0M96 338h0M9 296h0M67 463h0M97 541h0M108 542h0M209 462h0M168 223h0M150 415h0M39 498h0M55 516h0M92 444h0M267 309h0M179 498h0M240 323h0M12 487h0M155 210h0M43 336h0M73 214h0M277 261h0M189 579h0M126 444h0M194 364h0M34 314h0M216 313h0M55 315h0M260 326h0M220 348h0M245 239h0M29 436h0M1 377h0M239 528h0M247 456h0M71 469h0M123 280h0M253 127h0M172 507h0M149 540h0M90 341h0M227 354h0M109 446h0M234 479h0M133 486h0M184 426h0M237 377h0M54 553h0M133 416h0M158 346h0M72 315h0M274 485h0M184 498h0M270 467h0M173 490h0M129 306h0M254 568h0M218 184h0M32 394h0M162 344h0M46 485h0M111 340h0M160 331h0M219 182h0M70 314h0M27 538h0M190 517h0M32 168h0M255 333h0M154 418h0M115 330h0M26 249h0M124 282h0M164 371h0M278 407h0M236 381h0M132 393h0M87 581h0M277 481h0M24 423h0M161 421h0M22 412h0M182 454h0M17 294h0M127 397h0M13 426h0M76 120h0M216 544h0M248 435h0M264 400h0M40 385h0M75 494h0M71 268h0M269 282h0M7 166h0M100 320h0M5 407h0M167 397h0M115 442h0M69 305h0M30 426h0M198 339h0M56 352h0M53 460h0M83 427h0M76 157h0M236 362h0M232 477h0M243 433h0M64 281h0M13 399h0M53 452h0M188 327h0M133 445h0M49 464h0M29 554h0M89 596h0M33 479h0M209 421h0M237 304h0M127 250h0M93 271h0M275 383h0M151 437h0M75 383h0M43 397h0M14 500h0M58 424h0M104 428h0M22 287h0M218 529h0M224 520h0M87 577h0M83 409h0M162 435h0M40 378h0M55 410h0M98 415h0M19 362h0M249 366h0M198 316h0M138 348h0M152 245h0M144 332h0M156 367h0M74 263h0M274 529h0M230 213h0M40 534h0M118 373h0M144 106h0M230 326h0M239 481h0M269 445h0M97 216h0M70 214h0M264 379h0M245 357h0M262 486h0M190 259h0M179 518h0M126 267h0M180 345h0M178 388h0M267 314h0M119 274h0M177 418h0M11 468h0M72 304h0M16 326h0M258 386h0M131 399h0M271 167h0M238 445h0M212 372h0M217 437h0M193 399h0M135 619h0M9 186h0M232 281h0M275 269h0M197 368h0M232 294h0M175 167h0M131 327h0M189 358h0M79 405h0M181 531h0M114 474h0M27 401h0M15 552h0M49 524h0M31 167h0M22 455h0M175 388h0M99 426h0M269 537h0M22 427h0M201 334h0M36 359h0M202 484h0M55 314h0M196 360h0M93 390h0M230 391h0M110 348h0M103 509h0M37 294h0M177 502h0M55 431h0M133 414h0M214 301h0M0 431h0M106 548h0M79 198h0M75 641h0M143 333h0M24 227h0M82 366h0M210 426h0M255 480h0M10 373h0M234 523h0M64 597h0M236 246h0M119 449h0M178 439h0M7 436h0M141 372h0M133 515h0M109 315h0M68 378h0M3 347h0M62 322h0M121 424h0M29 328h0M109 321h0M151 299h0M249 511h0M51 473h0M240 437h0M207 481h0M178 318h0M22 437h0M173 318h0M99 364h0M134 407h0M26 219h0M183 330h0M4 456h0M81 225h0M245 316h0M242 376h0M178 410h0M128 357h0M261 471h0M62 471h0M13 460h0M18 325h0M155 361h0M72 358h0M66 290h0M206 383h0M81 466h0M29 274h0M40 570h0M102 416h0M140 439h0M21 480h0M204 372h0M202 272h0M269 242h0M252 372h0M232 162h0M193 188h0M181 487h0M163 340h0M50 414h0M22 399h0M238 369h0M266 358h0M156 396h0M161 513h0M18 351h0M190 395h0M185 209h0M37 214h0M160 456h0M107 378h0M197 478h0M215 291h0M49 537h0M188 387h0M202 461h0M169 286h0M239 301h0M92 448h0M134 321h0M120 362h0M9 393h0M180 291h0M165 497h0M89 344h0M154 383h0M31 405h0M29 322h0M209 322h0M203 551h0M245 464h0M80 180h0M164 461h0M260 479h0M160 419h0M150 167h0M218 593h0M4 410h0M262 478h0M272 446h0M258 595h0M212 52h0M242 441h0M196 426h0M203 433h0M159 479h0M168 367h0M130 338h0M83 380h0M16 386h0M165 367h0M157 381h0M174 323h0M249 400h0M139 364h0M186 554h0M93 438h0M19 296h0M202 377h0M247 453h0M275 456h0M97 317h0M209 534h0M57 439h0M106 340h0M226 253h0M10 195h0M138 237h0M31 401h0M169 339h0M237 288h0M176 321h0M99 505h0M238 416h0M6 328h0M119 458h0M110 272h0M115 114h0M128 368h0M161 277h0M238 370h0M94 326h0M23 363h0M221 434h0M2 328h0M257 340h0M111 423h0M61 331h0M25 501h0M30 366h0M107 483h0M256 507h0M121 321h0M102 213h0M144 533h0M104 509h0M76 394h0M154 303h0M204 541h0M90 419h0M136 468h0M129 364h0M70 280h0M25 485h0M83 258h0M164 454h0M136 448h0M96 402h0M76 633h0M134 594h0M262 259h0M214 455h0M229 346h0M173 311h0M139 321h0M33 375h0M201 400h0M28 418h0M103 448h0M14 371h0M132 319h0M152 383h0M173 420h0M198 480h0M264 435h0M19 116h0M131 428h0M10 291h0M213 387h0M100 300h0M82 342h0M67 261h0M155 484h0M269 238h0M191 287h0M94 446h0M269 413h0M230 326h0M214 426h0M71 294h0M143 519h0M148 389h0M210 380h0M15 278h0M85 334h0M31 413h0M266 579h0M81 322h0M150 427h0M162 362h0M271 471h0M104 527h0M128 389h0M150 432h0M275 197h0M63 491h0M176 431h0M118 430h0M162 378h0M229 307h0M230 323h0M57 369h0M147 386h0M66 313h0M276 559h0M152 581h0M270 463h0M4 415h0M114 237h0M206 359h0M74 350h0M196 471h0M34 452h0M243 491h0M24 367h0M142 447h0M215 407h0M23 407h0M122 567h0M216 473h0M28 339h0M174 422h0M101 240h0M41 279h0M259 350h0M191 472h0M171 507h0M223 318h0M112 60h0M96 502h0M99 451h0M79 444h0M94 467h0M213 395h0M274 482h0M222 423h0M25 446h0M129 375h0M91 371h0M188 313h0M239 265h0M172 555h0M237 485h0M169 410h0M56 453h0M278 508h0M246 388h0M62 164h0M18 317h0M185 413h0M217 519h0M182 433h0M122 545h0M170 430h0M236 371h0M41 341h0M220 463h0M219 428h0M111 431h0M126 196h0M164 336h0M243 371h0M170 536h0M195 345h0M167 330h0M22 421h0M198 601h0M92 359h0M104 543h0M81 382h0M23 453h0M147 505h0M145 408h0M56 449h0M250 474h0M127 337h0M264 380h0M104 458h0M17 438h0M41 421h0M123 317h0M238 515h0M42 298h0M197 440h0M260 417h0M16 366h0M27 401h0" stroke-opacity="0.18"/><path d="M132 142h0M5 496h0M131 304h0M101 488h0M9 217h0M202 501h0M274 408h0M262 274h0M234 487h0M47 419h0M73 397h0M147 456h0M97 330h0M222 382h0M265 332h0M95 603h0M166 304h0M83 325h0M146 473h0M65 383h0M220 308h0M152 405h0M253 310h0M181 547h0M256 397h0M111 486h0M272 404h0M275 348h0M181 361h0M8 418h0M253 279h0M212 423h0M74 472h0M172 617h0M164 444h0M62 308h0M225 417h0M78 422h0M199 417h0M213 332h0M13 481h0M22 441h0M222 368h0M7 373h0M50 345h0M14 501h0M256 339h0M247 443h0M92 522h0M19 521h0M266 481h0M252 276h0M241 541h0M117 601h0M193 535h0M216 313h0M259 333h0M257 315h0M9 254h0M99 270h0M195 492h0M103 291h0M162 407h0M104 334h0M175 314h0M260 297h0M131 442h0M114 228h0M91 461h0M65 533h0M135 286h0M250 315h0M266 462h0M258 379h0M6 263h0M9 312h0M186 384h0M199 412h0M186 298h0M263 340h0M81 431h0M91 349h0M63 413h0M176 426h0M183 381h0M206 460h0M41 407h0M165 286h0M232 510h0M151 352h0M4 280h0M138 390h0M239 484h0M146 273h0M86 624h0M197 480h0M245 430h0M241 510h0M209 72h0M81 506h0M219 395h0M134 307h0M4 292h0M69 315h0M150 516h0M107 256h0M128 430h0M52 186h0M217 578h0M247 245h0M44 546h0M93 369h0M107 305h0M171 289h0M82 331h0M36 436h0M121 534h0M103 423h0M154 232h0M64 294h0M166 381h0M214 428h0M271 398h0M271 198h0M24 299h0M121 445h0M33 376h0M45 393h0M71 415h0M57 343h0M85 460h0M211 268h0M265 326h0M100 309h0M37 372h0M32 421h0M121 377h0M36 206h0M106 416h0M214 379h0M142 451h0M215 364h0M245 477h0M264 342h0M135 414h0M21 192h0M141 359h0M71 390h0M158 201h0M161 481h0M147 524h0M194 412h0M220 395h0M218 438h0M210 519h0M160 450h0M111 278h0M90 501h0M175 326h0M179 370h0M68 389h0M271 438h0M71 365h0M67 435h0M109 455h0M116 423h0M275 323h0M24 310h0M51 456h0M21 363h0M214 219h0M71 348h0M261 344h0M210 480h0M272 472h0M278 514h0M92 297h0M26 478h0M107 379h0M31 522h0M206 367h0M237 436h0M186 441h0M198 443h0M79 167h0M156 447h0M202 371h0M263 281h0M31 348h0M112 490h0M107 345h0M72 235h0M106 398h0M126 588h0M98 393h0M43 329h0M134 452h0M26 335h0M197 514h0M128 338h0M144 282h0M13 564h0M66 276h0M257 349h0M20 447h0M232 498h0M22 454h0M205 402h0M95 358h0M171 400h0M220 652h0M34 502h0M16 382h0M9 384h0M178 211h0M198 344h0M191 376h0M80 510h0M45 321h0M259 280h0M88 311h0M22 349h0M36 507h0M105 402h0M28 356h0M230 427h0M19 537h0M274 271h0M88 453h0M264 490h0M110 481h0M263 347h0M221 550h0M159 162h0M111 259h0M101 179h0M224 358h0M100 440h0M192 244h0M260 359h0M127 414h0M207 346h0M6 432h0M208 471h0M46 430h0M91 358h0M83 468h0M153 381h0M268 410h0M10 527h0M110 425h0M240 572h0M96 341h0M185 342h0M44 423h0M18 343h0M205 443h0M152 371h0M49 382h0M94 533h0M132 441h0M52 407h0M225 241h0M274 195h0M101 567h0M135 452h0M130 253h0M31 462h0M115 533h0M44 330h0M100 217h0M116 590h0M8 441h0M275 277h0M15 458h0M113 462h0M107 562h0M267 225h0M107 418h0M142 430h0M253 454h0M275 400h0M207 434h0M241 405h0M68 411h0M129 408h0M245 348h0M216 431h0M207 200h0M142 374h0M266 563h0M4 334h0M6 185h0M213 517h0M119 424h0M183 545h0M14 439h0M150 385h0M43 380h0M10 324h0M65 438h0M97 398h0M43 347h0M175 401h0M24 378h0M69 437h0M211 180h0M42 398h0M259 297h0M7 285h0M102 375h0M111 402h0M16 531h0M87 367h0M2 395h0M11 256h0M205 240h0M231 435h0M145 493h0M255 416h0M67 443h0M22 292h0M249 427h0M101 308h0M90 403h0M178 453h0M151 405h0M187 473h0M55 309h0M90 445h0M171 368h0M147 347h0M8 408h0M26 327h0M266 464h0M106 320h0M181 455h0M128 427h0M51 258h0M112 327h0M260 409h0M180 485h0M265 351h0M245 453h0M159 263h0M271 208h0M229 244h0M186 138h0M111 378h0M273 404h0M70 379h0M178 212h0M148 403h0M74 353h0M180 522h0M9 486h0M244 566h0M140 404h0M238 412h0M52 498h0M61 461h0M197 501h0M17 371h0M220 436h0M48 362h0M141 296h0M196 374h0M38 388h0M61 300h0M244 459h0M65 325h0M171 341h0M65 447h0M272 329h0M65 158h0M223 410h0M19 357h0M199 462h0M181 445h0M240 500h0M133 370h0M179 490h0M201 342h0M176 427h0M243 353h0M84 371h0M99 337h0M249 219h0M69 450h0M53 356h0M104 462h0M31 207h0M164 359h0M124 178h0M186 460h0M224 369h0M101 583h0M189 364h0M178 341h0M58 328h0M258 294h0M105 396h0M120 464h0M206 389h0M249 511h0M103 170h0M254 445h0M28 470h0M171 447h0M242 275h0M193 118h0M236 420h0M274 338h0M218 472h0M77 379h0M235 487h0M60 323h0M164 435h0M70 427h0M205 329h0M203 413h0M45 409h0M140 522h0M243 400h0M113 355h0M255 461h0M73 433h0M35 324h0M193 121h0M238 313h0M97 414h0M192 453h0M195 398h0M84 369h0M153 128h0M54 374h0M238 329h0M191 408h0M191 267h0M18 467h0M194 519h0M26 273h0M21 387h0M240 423h0M24 462h0M37 283h0M94 451h0M209 400h0M247 379h0M121 490h0M120 179h0M216 195h0M116 393h0M243 349h0M205 603h0M188 450h0M11 241h0M8 335h0M22 441h0M263 339h0M201 431h0M130 519h0M111 489h0M259 450h0M194 381h0M147 333h0M158 465h0M274 399h0M227 483h0M168 251h0M264 341h0M153 519h0M56 263h0M167 347h0M265 167h0M174 381h0M196 455h0M35 278h0M231 436h0M64 421h0M107 355h0M255 364h0M168 343h0M216 377h0M25 361h0M10 708h0M250 415h0M104 484h0M108 238h0M176 290h0M180 221h0M157 359h0M157 234h0M52 450h0M198 335h0M35 296h0M20 257h0M250 187h0M220 407h0M185 447h0M84 363h0M195 331h0M74 425h0M239 503h0M2 304h0M139 795h0M92 469h0M8 427h0M147 289h0M229 423h0M94 537h0M47 414h0M56 371h0M92 379h0M82 510h0M94 519h0M272 440h0M274 444h0M125 272h0M170 424h0M265 420h0M268 324h0M29 327h0M261 327h0M106 514h0M138 440h0M4 199h0M248 447h0M205 459h0M273 215h0M188 567h0M17 419h0M258 415h0M2 332h0M174 578h0M231 373h0M272 509h0M101 407h0M55 284h0M63 233h0M136 475h0M102 413h0M97 330h0M269 225h0M81 362h0M3 342h0M262 470h0M278 495h0M268 532h0M197 488h0M104 361h0M138 433h0M79 268h0M130 412h0M197 474h0M81 259h0M194 453h0M276 463h0M131 352h0M110 396h0M68 426h0M177 195h0M38 508h0M73 542h0M133 589h0M231 561h0M52 244h0M93 165h0M5 466h0M208 519h0M165 302h0M71 277h0M241 245h0M194 387h0M88 296h0M154 364h0M47 583h0M88 495h0M25 387h0M84 312h0M28 280h0M266 320h0M40 224h0M76 389h0M95 421h0M116 518h0M68 122h0M23 501h0M224 462h0M231 111h0M222 446h0M22 259h0M83 374h0M46 435h0M64 346h0M172 499h0M233 447h0M132 439h0M227 101h0M102 425h0M238 516h0M104 457h0M18 411h0M272 414h0M39 322h0M14 382h0M246 527h0M123 275h0M66 483h0M4 392h0M274 284h0M257 300h0M106 450h0M243 390h0M210 362h0M61 228h0M278 167h0M256 594h0M145 431h0M268 461h0M7 379h0M90 533h0M17 448h0M131 365h0M88 395h0M44 323h0M23 366h0M149 473h0M49 482h0M115 361h0M59 442h0M65 437h0M152 389h0M258 469h0M152 300h0M141 368h0M4 660h0M116 476h0M184 307h0M154 430h0M277 226h0M2 250h0M44 412h0M186 319h0M239 249h0M120 424h0M221 479h0M43 223h0M74 326h0M257 457h0M277 220h0M164 485h0M254 337h0M62 444h0M99 289h0M48 214h0M108 537h0M49 439h0M184 409h0M68 414h0M175 466h0M116 430h0M54 395h0M189 421h0M64 402h0M176 473h0M166 235h0M146 336h0M48 341h0M231 153h0M195 529h0M223 347h0M215 392h0M19 369h0M209 482h0M167 366h0M184 535h0M107 626h0M198 539h0M83 336h0M194 499h0M142 319h0M55 354h0M119 373h0M30 411h0M264 430h0M225 317h0M103 458h0M150 296h0M83 415h0M175 495h0M116 303h0M51 303h0M48 430h0M261 333h0M248 522h0M211 426h0M215 379h0M14 378h0M228 486h0M203 429h0M196 172h0M87 428h0M232 446h0M252 416h0M234 435h0M191 426h0M114 285h0M192 251h0M243 473h0M159 402h0M186 346h0M166 180h0M20 256h0M35 474h0M54 139h0M158 355h0M117 385h0M103 376h0M173 270h0M12 389h0M163 332h0M244 353h0M4 485h0M28 321h0M71 379h0M252 370h0M167 131h0M226 436h0M138 538h0M70 493h0M163 330h0M179 278h0M225 213h0M23 391h0M55 459h0M263 376h0M87 383h0M252 449h0M63 261h0M119 317h0M152 499h0M55 254h0M191 190h0M192 321h0M6 462h0M69 273h0M180 561h0M146 342h0M28 487h0M50 248h0M204 400h0M14 414h0M189 387h0M65 412h0M184 366h0M202 277h0M97 443h0M259 403h0M267 390h0M110 208h0M6 492h0M19 407h0M98 302h0M70 467h0M35 398h0M140 393h0M39 313h0M219 340h0M71 415h0M29 356h0M69 628h0M239 224h0M128 378h0M157 206h0M16 298h0M250 433h0M78 302h0M262 462h0M11 450h0M178 524h0M78 377h0M30 412h0M241 418h0M181 383h0M17 366h0M174 367h0M6 429h0M123 407h0M2 461h0M275 453h0M201 336h0M9 229h0M11 351h0M67 451h0M71 534h0M137 500h0M187 287h0M81 392h0M157 508h0M177 426h0M165 419h0M250 330h0M29 371h0M203 445h0M153 549h0M225 364h0M20 404h0M179 219h0M93 291h0M5 328h0M165 279h0M96 416h0M106 454h0M169 466h0M11 449h0M211 434h0M11 323h0M180 459h0M171 391h0M71 341h0M214 370h0M140 297h0M214 273h0M70 251h0M230 537h0M64 413h0M169 441h0M236 252h0M89 438h0M188 592h0M257 416h0M133 490h0M94 488h0M99 252h0M196 264h0M269 268h0M78 423h0M265 518h0M172 445h0M165 388h0M161 457h0M115 369h0M44 446h0M265 446h0M173 368h0M58 429h0M272 515h0M38 423h0M208 493h0M121 273h0M242 417h0M193 410h0M61 398h0M51 346h0M95 341h0M49 329h0M94 284h0M9 389h0M197 473h0M72 498h0M101 500h0M223 394h0M208 334h0M114 339h0M265 393h0M132 410h0M268 149h0M230 268h0M149 414h0M274 376h0M3 409h0M140 75h0M121 504h0M130 316h0M117 182h0M147 405h0M277 329h0M53 342h0M184 585h0M50 435h0M128 490h0M128 420h0M17 331h0M183 433h0M177 361h0M66 403h0M243 547h0M222 523h0M115 416h0M137 558h0M13 361h0M232 418h0M144 422h0M192 417h0M6 390h0M138 328h0M102 423h0M165 325h0M222 281h0M202 441h0M169 407h0M268 423h0M108 358h0M142 401h0M212 323h0M259 341h0M37 303h0M272 232h0M249 284h0M78 238h0M217 356h0M199 416h0M179 259h0M99 371h0M202 337h0M88 595h0M1 285h0M102 306h0M104 165h0M125 534h0M51 389h0M267 462h0M186 480h0M220 287h0M38 331h0M199 407h0M103 507h0M128 426h0M118 316h0M68 497h0M117 413h0M237 425h0M228 399h0M266 392h0M233 535h0M1 475h0M66 515h0M91 347h0M220 381h0M93 440h0M220 442h0M151 355h0M27 374h0M167 518h0M120 368h0M67 399h0M193 373h0M103 167h0M63 192h0M220 332h0M115 450h0M215 449h0M241 288h0M193 273h0M5 452h0M119 263h0M74 444h0M170 414h0M27 384h0M136 415h0M2 371h0M45 472h0M173 325h0M180 500h0M50 436h0M67 411h0M7 301h0M277 417h0M182 539h0M65 499h0M102 484h0M55 470h0M18 479h0M196 438h0M1 294h0M175 306h0M2 425h0M63 227h0M70 531h0M39 521h0M98 300h0M32 400h0M228 672h0M122 318h0M137 349h0M248 179h0M134 406h0M255 374h0M72 387h0M183 346h0M106 501h0M18 256h0M25 323h0M40 385h0M98 488h0M103 457h0M70 385h0M132 232h0M157 478h0M133 481h0M63 502h0M68 334h0M29 526h0M4 240h0M278 487h0M159 437h0M63 339h0M138 427h0M240 371h0M186 288h0M238 395h0M197 371h0M267 284h0M149 239h0M15 269h0M236 323h0M62 452h0M93 425h0M267 405h0M21 319h0M167 249h0M44 479h0M249 366h0M9 427h0M106 378h0M151 542h0M166 336h0M21 345h0M274 224h0M130 396h0M265 410h0M57 439h0M10 514h0M15 277h0M147 417h0M45 336h0M50 382h0M197 403h0M39 378h0M143 419h0M89 376h0M276 367h0M189 173h0M125 622h0M137 170h0M141 370h0M69 498h0M197 347h0M216 489h0M124 166h0M183 291h0M172 515h0M140 314h0M43 352h0M50 609h0M176 317h0M212 495h0M62 384h0M215 248h0M246 334h0M67 348h0M119 505h0M44 455h0M0 495h0M137 360h0M2 513h0M264 382h0M75 403h0M236 316h0M164 420h0M117 402h0M236 362h0M157 413h0M151 400h0M106 440h0M44 317h0M125 347h0M46 370h0M65 538h0M141 394h0M33 580h0M34 334h0M259 144h0M94 449h0M100 425h0M129 435h0M162 420h0M52 130h0M252 387h0M26 310h0M120 387h0M43 287h0M104 346h0M224 393h0M229 388h0M210 498h0M105 408h0M143 297h0M227 425h0M193 364h0M65 512h0M152 429h0M11 250h0M169 531h0M81 447h0M167 431h0M31 381h0M139 204h0M278 308h0M191 353h0M12 270h0M63 462h0M29 238h0M97 389h0M136 421h0M83 452h0M67 418h0M163 366h0M90 134h0M59 256h0M73 218h0M84 283h0M148 387h0M228 386h0M94 456h0M34 578h0M116 390h0M239 266h0M59 377h0M46 255h0M272 429h0M163 357h0M105 267h0M209 479h0M272 189h0M218 365h0M272 503h0M2 507h0M2 217h0M173 193h0M83 495h0M173 513h0M244 367h0M5 315h0M174 560h0M276 440h0M109 346h0M235 467h0M230 388h0M182 110h0M136 439h0M88 287h0M214 363h0M63 460h0M141 469h0M262 377h0M72 382h0M176 421h0M170 484h0M66 299h0M73 465h0M86 536h0M82 280h0M251 389h0M22 463h0M1 298h0M145 411h0M127 354h0M118 386h0M57 329h0M33 450h0M177 423h0M117 424h0M269 457h0M16 253h0M123 307h0M24 341h0M235 217h0M7 491h0M164 257h0M98 330h0M163 275h0M101 394h0M14 217h0M44 254h0M62 524h0M88 464h0M51 499h0M5 439h0M25 375h0M149 326h0M258 418h0M246 439h0M70 380h0M71 551h0M243 311h0M29 337h0M196 369h0M24 444h0M120 654h0M40 386h0M117 508h0M108 347h0M237 264h0M115 596h0M253 234h0M118 408h0M76 365h0M137 438h0M249 301h0M35 528h0M31 461h0M267 409h0M267 656h0M21 360h0M143 450h0M65 331h0M267 395h0M37 368h0M174 279h0M7 399h0M272 379h0M261 421h0M157 463h0M93 242h0M224 369h0M129 488h0M221 478h0M212 399h0M34 436h0M141 529h0M209 466h0M52 248h0M185 440h0M96 249h0M122 403h0M127 180h0M137 422h0M257 244h0M145 379h0M178 361h0" stroke-opacity="0.28"/><path d="M134 332h0M263 391h0M10 271h0M78 356h0M219 360h0M149 433h0M82 503h0M92 488h0M260 314h0M9 370h0M237 358h0M107 409h0M262 583h0M12 322h0M48 428h0M76 473h0M171 300h0M35 433h0M221 398h0M32 491h0M230 168h0M157 421h0M175 544h0M88 383h0M17 223h0M200 330h0M121 510h0M38 469h0M68 482h0M55 605h0M243 462h0M136 360h0M86 453h0M205 347h0M237 454h0M202 397h0M187 255h0M63 538h0M145 356h0M262 316h0M112 511h0M36 342h0M265 302h0M14 297h0M35 442h0M31 344h0M212 433h0M233 543h0M12 327h0M232 416h0M14 352h0M154 416h0M142 473h0M22 302h0M192 474h0M153 421h0M181 338h0M0 470h0M245 456h0M92 372h0M4 347h0M78 556h0M184 465h0M100 381h0M106 274h0M234 270h0M153 380h0M217 378h0M140 285h0M209 500h0M246 314h0M161 437h0M50 391h0M115 224h0M144 375h0M42 312h0M225 399h0M203 447h0M209 392h0M121 377h0M237 543h0M130 388h0M45 254h0M58 391h0M115 533h0M66 476h0M249 249h0M96 582h0M42 355h0M207 489h0M32 305h0M188 321h0M270 466h0M54 415h0M29 269h0M45 292h0M4 329h0M101 317h0M210 393h0M99 361h0M29 467h0M58 365h0M70 293h0M33 230h0M64 269h0M138 416h0M108 410h0M129 270h0M227 340h0M171 417h0M140 379h0M115 526h0M160 440h0M108 310h0M261 532h0M13 485h0M110 304h0M275 477h0M13 286h0M25 189h0M76 516h0M242 343h0M268 409h0M209 441h0M192 501h0M192 504h0M151 437h0M150 315h0M240 481h0M36 248h0M275 376h0M142 504h0M187 461h0M168 181h0M87 131h0M45 330h0M55 366h0M138 416h0M189 334h0M8 350h0M131 431h0M115 476h0M85 417h0M140 295h0M262 202h0M107 447h0M12 377h0M58 301h0M171 370h0M43 537h0M204 439h0M196 305h0M171 367h0M7 431h0M159 498h0M182 443h0M243 470h0M187 452h0M90 400h0M170 469h0M64 494h0M109 270h0M198 290h0M253 456h0M77 308h0M222 403h0M150 352h0M63 484h0M98 411h0M209 503h0M7 246h0M207 521h0M78 571h0M135 530h0M84 400h0M90 536h0M20 537h0M42 351h0M51 546h0M238 221h0M47 251h0M177 425h0M205 264h0M12 513h0M87 330h0M17 325h0M33 481h0M187 326h0M183 281h0M276 262h0M218 494h0M237 470h0M36 499h0M271 282h0M108 699h0M156 516h0M117 239h0M239 358h0M143 433h0M185 449h0M120 467h0M273 369h0M5 474h0M60 354h0M245 444h0M128 260h0M270 425h0M56 519h0M198 349h0M232 365h0M143 562h0M12 491h0M158 308h0M39 402h0M150 284h0M110 496h0M262 475h0M262 625h0M27 477h0M88 436h0M277 442h0M129 445h0M153 444h0M106 515h0M183 294h0M158 322h0M66 404h0M54 239h0M78 419h0M160 437h0M168 481h0M136 292h0M28 405h0M268 351h0M43 426h0M34 417h0M127 308h0M203 425h0M136 277h0M235 486h0M142 370h0M244 375h0M89 406h0M174 506h0M15 475h0M152 409h0M133 386h0M200 416h0M132 378h0M174 749h0M119 473h0M168 357h0M257 425h0M158 304h0M254 419h0M148 402h0M260 317h0M148 456h0M84 507h0M91 462h0M159 519h0M125 473h0M161 504h0M221 168h0M193 469h0M163 420h0M5 608h0M250 374h0M55 305h0M3 514h0M193 292h0M98 494h0M63 600h0M242 426h0M118 520h0M256 221h0M103 358h0M263 347h0M233 425h0M31 399h0M165 326h0M149 382h0M156 210h0M7 548h0M190 399h0M165 554h0M15 213h0M32 113h0M84 457h0M36 441h0M7 288h0M22 486h0M267 337h0M163 374h0M235 438h0M255 472h0M224 459h0M20 517h0M157 453h0M27 427h0M19 441h0M262 400h0M121 427h0M170 295h0M45 258h0M191 222h0M197 547h0M19 524h0M119 438h0M103 423h0M155 108h0M139 308h0M34 222h0M109 451h0M180 303h0M60 109h0M179 311h0M230 519h0M107 306h0M251 380h0M75 343h0M50 406h0M137 389h0M107 368h0M84 568h0M55 385h0M254 566h0M232 441h0M79 425h0M36 425h0M88 480h0M18 301h0M208 449h0M246 484h0M56 246h0M28 441h0M58 529h0M67 374h0M218 244h0M148 450h0M126 58h0M221 510h0M39 418h0M266 459h0M246 188h0M106 405h0M71 390h0M131 227h0M98 643h0M23 437h0M157 514h0M215 310h0M54 380h0M45 364h0M166 465h0M157 350h0M87 254h0M197 422h0M166 467h0M156 353h0M110 508h0M90 388h0M167 366h0M194 475h0M50 399h0M91 515h0M39 402h0M261 278h0M244 333h0M92 450h0M190 271h0M174 425h0M164 530h0M114 368h0M82 350h0M20 347h0M89 516h0M241 262h0M65 545h0M214 386h0M196 499h0M277 562h0M203 621h0M2 384h0M232 407h0M130 424h0M251 510h0M89 396h0M27 427h0M213 607h0M255 314h0M6 397h0M21 502h0M220 355h0M123 360h0M237 453h0M265 319h0M271 558h0M121 280h0M225 276h0M163 427h0M208 412h0M228 433h0M217 428h0M266 438h0M182 337h0M54 366h0M246 575h0M40 496h0M212 334h0M45 234h0M140 483h0M123 489h0M98 541h0M233 525h0M11 490h0M76 548h0M142 527h0M91 386h0M145 441h0M129 482h0M183 235h0M202 408h0M258 394h0M160 207h0M237 567h0M225 302h0M122 391h0M171 354h0M225 371h0M125 451h0M235 347h0M257 479h0M15 268h0M102 488h0M266 444h0M143 332h0M157 468h0M114 383h0M168 573h0M177 300h0M37 476h0M82 186h0M38 257h0M74 399h0M152 596h0M244 304h0M111 298h0M241 339h0M72 266h0M195 477h0M121 390h0M87 504h0M143 200h0M115 303h0M142 358h0M2 391h0M165 401h0M190 451h0M20 329h0M71 352h0M66 369h0M258 485h0M86 169h0M249 396h0M194 332h0M247 413h0M95 413h0M104 375h0M27 257h0M232 471h0M181 434h0M186 409h0M95 427h0M104 389h0M222 348h0M23 336h0M233 437h0M64 224h0M258 538h0M262 447h0M230 423h0M170 127h0M269 431h0M95 304h0M226 329h0M214 373h0M79 351h0M147 421h0M88 380h0M228 391h0M112 332h0M236 543h0M161 464h0M152 300h0M211 592h0M243 204h0M161 401h0M214 422h0M169 332h0M50 237h0M148 298h0M29 428h0M85 503h0M162 350h0M205 438h0M257 414h0M110 297h0M98 359h0M219 185h0M53 188h0M126 190h0M22 447h0M270 325h0M157 394h0M125 258h0M123 445h0M186 480h0M39 514h0M152 493h0M164 545h0M276 510h0M104 444h0M198 216h0M54 391h0M142 432h0M103 401h0M273 308h0M102 520h0M243 376h0M69 409h0M13 490h0M199 295h0M16 446h0M89 435h0M56 602h0M240 333h0M243 134h0M227 369h0M94 396h0M82 348h0M206 394h0M9 214h0M64 391h0M77 437h0M240 417h0M1 432h0M78 196h0M276 447h0M13 288h0M75 236h0M165 527h0M76 371h0M47 357h0M93 466h0M274 288h0M52 446h0M197 431h0M23 458h0M146 405h0M246 264h0M2 368h0M37 246h0M171 374h0M149 207h0M58 383h0M202 374h0M121 397h0M206 464h0M94 414h0M105 474h0M19 364h0M21 553h0M194 523h0M126 300h0M210 371h0M116 388h0M188 359h0M86 457h0M202 424h0M249 348h0M76 423h0M101 525h0M20 395h0M205 387h0M21 331h0M1 368h0M275 450h0M114 373h0M107 291h0M252 484h0M48 449h0M49 236h0M43 439h0M215 515h0M192 583h0M25 412h0M222 392h0M252 629h0M190 337h0M217 389h0M166 479h0M46 496h0M23 292h0M26 110h0M40 449h0M192 547h0M53 423h0M215 391h0M194 474h0M8 524h0M222 397h0M252 370h0M60 458h0M103 297h0M5 473h0M155 536h0M248 459h0M228 479h0M235 357h0M258 414h0M155 411h0M21 432h0M102 450h0M154 334h0M183 253h0M116 439h0M174 400h0M203 380h0M67 313h0M230 323h0M225 247h0M218 338h0M158 410h0M255 436h0M9 385h0M130 479h0M9 449h0M261 597h0M18 375h0M57 322h0M119 443h0M262 309h0M140 262h0M212 458h0M172 422h0M229 268h0M70 417h0M171 481h0M100 446h0M252 529h0M16 424h0M87 393h0M184 403h0M13 364h0M217 342h0M268 312h0M155 243h0M248 174h0M216 427h0M172 384h0M220 344h0M14 271h0M52 347h0M271 670h0M238 378h0M246 356h0M207 370h0M179 429h0M74 426h0M68 443h0M25 315h0M77 464h0M115 322h0M80 143h0M98 407h0M201 402h0M234 404h0M67 347h0M12 363h0M105 491h0M119 426h0M10 547h0M102 410h0M14 439h0M25 415h0M57 239h0M187 254h0M101 371h0M55 430h0M56 530h0M226 157h0M11 346h0M153 471h0M88 229h0M54 382h0M150 505h0M130 288h0M232 359h0M155 459h0M24 155h0M101 259h0M40 498h0M176 380h0M244 282h0M129 428h0M189 352h0M114 514h0M128 292h0M70 394h0M190 268h0M153 457h0M81 475h0M51 373h0M19 327h0M132 360h0M186 510h0M186 376h0M151 389h0M267 378h0M259 352h0M177 388h0M163 504h0M121 423h0M9 94h0M214 411h0M173 368h0M222 328h0M84 200h0M72 452h0M239 470h0M186 427h0M11 441h0M171 434h0M151 389h0M41 366h0M173 168h0M119 385h0M150 426h0M215 348h0M227 439h0M36 432h0M142 460h0M142 260h0M265 392h0M71 372h0M257 372h0M63 394h0M175 387h0M213 367h0M76 352h0M162 329h0M213 322h0M200 351h0M159 274h0M164 362h0M154 423h0M167 215h0M232 403h0M179 222h0M158 364h0M218 438h0M115 459h0M180 442h0M214 427h0M264 108h0M257 571h0M126 479h0M276 348h0M25 397h0M132 460h0M9 396h0M128 453h0M263 435h0M241 560h0M188 355h0M119 416h0M119 308h0M222 444h0M164 361h0M260 521h0M253 373h0M106 490h0M218 364h0M70 491h0M222 405h0M112 409h0M22 460h0M110 291h0M101 469h0M97 425h0M184 327h0M225 346h0M50 175h0M130 359h0M159 335h0M7 280h0M271 379h0M240 321h0M23 280h0M215 408h0M96 301h0M49 516h0M89 393h0M1 371h0M58 340h0M201 424h0M151 430h0M1 400h0M169 434h0M142 289h0M108 522h0M137 578h0M169 511h0M268 483h0M187 224h0M221 596h0M38 310h0M89 524h0M205 440h0M125 463h0M183 519h0M254 486h0M31 456h0M216 393h0M163 389h0M224 431h0M238 198h0M125 324h0M108 387h0M268 287h0M276 562h0M98 295h0M46 349h0M128 320h0M112 406h0M41 413h0M112 365h0M142 412h0M133 264h0M185 282h0M115 441h0M162 405h0M56 468h0M127 264h0M184 548h0M128 305h0M146 462h0M160 368h0M134 251h0M79 336h0M201 448h0M228 507h0M87 207h0M183 453h0M161 420h0M217 455h0M266 357h0M222 237h0M223 387h0M270 514h0M96 521h0M15 264h0M168 382h0M69 600h0M264 533h0M25 420h0M199 247h0M139 406h0M264 347h0M244 415h0M228 399h0M169 504h0M168 314h0M20 502h0M275 437h0M161 303h0M277 384h0M40 412h0M208 458h0M109 373h0M177 488h0M149 340h0M270 528h0M165 404h0M89 362h0M58 462h0M94 509h0M101 353h0M162 516h0M153 407h0M117 410h0M183 299h0M171 434h0M171 282h0M45 492h0M238 426h0M155 277h0M10 333h0M62 406h0M78 510h0M112 396h0M247 303h0M261 387h0M18 397h0M47 399h0M185 377h0M242 535h0M161 493h0M136 553h0M151 535h0M91 217h0M172 254h0M50 453h0M169 456h0M264 411h0M137 197h0M96 477h0M181 353h0M120 327h0M266 367h0M63 462h0M151 411h0M89 178h0M244 570h0M113 375h0M144 370h0M204 423h0M258 371h0M236 418h0M174 384h0M176 444h0M172 301h0M100 460h0M253 423h0M233 426h0M219 580h0M85 524h0M22 485h0M1 397h0M107 266h0M195 437h0M21 381h0M256 210h0M264 425h0M74 290h0M83 420h0M264 284h0M194 522h0M275 338h0M146 238h0M110 489h0M62 537h0M10 328h0M180 476h0M242 472h0M96 444h0M119 413h0M197 350h0M173 403h0M136 546h0M21 473h0M178 456h0M156 350h0M246 420h0M253 518h0M24 374h0M65 305h0M160 450h0M91 551h0M176 313h0M142 288h0M101 299h0M82 391h0M27 415h0M169 380h0M226 478h0M174 294h0M170 418h0M126 451h0M32 239h0M3 96h0M88 471h0M204 392h0M200 461h0M23 465h0M268 263h0M94 344h0M32 398h0M254 454h0M102 288h0M255 440h0M237 308h0M14 306h0M221 420h0M192 475h0M105 476h0M236 328h0M68 325h0M154 382h0M61 551h0M173 305h0M256 459h0M148 400h0M93 455h0M212 343h0M265 116h0M50 372h0M129 551h0M137 518h0M236 320h0M114 393h0M67 440h0M30 473h0M35 387h0M107 262h0M88 272h0M258 439h0M165 317h0M7 489h0M182 414h0M207 393h0M153 346h0M119 350h0M116 391h0M142 432h0M199 498h0M137 321h0M83 430h0M185 488h0M63 423h0M209 444h0M122 375h0M243 369h0M246 392h0M19 542h0M58 320h0M112 517h0M204 496h0M189 314h0M73 454h0M147 413h0M145 492h0M153 368h0M46 298h0M185 365h0M216 409h0M183 387h0M211 159h0M201 283h0M75 557h0M168 375h0M201 312h0M193 582h0M140 422h0M141 301h0M221 527h0M134 316h0M17 562h0M26 469h0M46 318h0M29 484h0M64 350h0M270 347h0M242 431h0M202 86h0M171 533h0M274 358h0M252 298h0M25 358h0M230 513h0M241 370h0M54 481h0M162 134h0M50 600h0M140 358h0M104 328h0M16 328h0M161 261h0M238 541h0M277 354h0M238 441h0M189 243h0M53 437h0M223 410h0M112 422h0M69 206h0M217 435h0M206 246h0M178 383h0M49 180h0M151 542h0M11 343h0M26 283h0M179 486h0M266 404h0M118 571h0M107 534h0M17 292h0M195 522h0M262 404h0M107 303h0M234 328h0M204 386h0M94 118h0M143 332h0M83 471h0M175 226h0M151 477h0M13 372h0M31 475h0M69 364h0M275 364h0M110 212h0M77 434h0M37 447h0M6 247h0M196 295h0M63 421h0M228 417h0M126 492h0M246 561h0M54 298h0M78 413h0M244 407h0M190 497h0M116 348h0M174 196h0M127 355h0M213 360h0M223 275h0M93 530h0M205 233h0M44 343h0M119 360h0M152 390h0M99 383h0M277 355h0M199 412h0M67 237h0M200 297h0M96 379h0M11 465h0M193 362h0M159 413h0M41 401h0M28 348h0M109 466h0M168 374h0M96 210h0M227 302h0M75 224h0M72 627h0M199 414h0M157 585h0M221 372h0M182 330h0M261 70h0M108 324h0M28 616h0M37 565h0M266 408h0M50 374h0M123 422h0M226 457h0M134 634h0M198 548h0M180 327h0M202 461h0M130 419h0M152 390h0M98 542h0M174 408h0M71 377h0M144 254h0M206 447h0" stroke-opacity="0.4"/></g></pattern>
<path id="molp" d="M59.4 31h0M104.5 44.1h0M83.1 91.5h0M139.4 15.7h0M109.6 74.8h0M38.2 112.4h0M74.8 108.7h0M86.5 119.5h0M63.1 115.2h0M109.9 116.6h0M82.1 105.2h0M25.1 56.9h0M118.5 27.5h0M112.8 38.3h0M55.3 19.7h0M5 -0.5h0M5 123.5h0M113.9 101.4h0M140.9 109.8h0M38.9 57.3h0M-2.5 119.4h0M144.5 119.4h0M118.2 93.4h0M120.3 -2.8h0M120.3 121.2h0M34.8 42.4h0M76.7 26.2h0M143.4 61.2h0M91.7 13.8h0M84.3 94.4h0M13.4 85.5h0M68.9 29h0M-2.6 83.5h0M144.4 83.5h0M16.3 2.8h0M16.3 126.8h0M42.5 29.5h0M80.2 68.1h0M43 34.8h0M75 31.1h0M60.3 82.3h0M100 72.3h0M57.7 100.5h0M120.6 53.4h0M123.4 52.2h0M17.2 55.3h0M73.4 5h0M90.6 1.2h0M90.6 125.2h0M94.3 76.3h0M55.6 93h0M56.8 16.1h0M129.5 71h0M133.2 37h0M91.8 41.6h0M54.4 70.4h0M128.7 59.6h0M21.9 48.9h0M34.9 46h0M-1.3 72.3h0M145.7 72.3h0M42 0.2h0M42 124.2h0M49 91.5h0M129 63.8h0M61.6 100.5h0M69.8 108.7h0M55.3 90.2h0M27.7 117.2h0M127.1 116.6h0M44.2 97.7h0M65.7 3.7h0M90.3 105.1h0M63.1 0.8h0M63.1 124.8h0M5 86.7h0M16.3 41.3h0M127 3.6h0M119.5 105.9h0M72.7 10.8h0M85.3 85.2h0M95.7 4h0M137.8 40.2h0M142.3 95h0M105.7 0.1h0M105.7 124.1h0M121.6 41h0M124 98h0M132.4 105.7h0M85.9 71.5h0M32.3 86.7h0M127.1 34.2h0M87.5 105.8h0M96.9 116.3h0M15.4 44.6h0M70.5 25.7h0M55.3 22.2h0M58.6 109.3h0M17.9 83.2h0M39.5 40.6h0M106.6 94.5h0M115.6 27.1h0M92.9 63.1h0M42.8 102.3h0M138.1 34h0M110.3 51.5h0M70.4 -0.3h0M70.4 123.7h0M81.6 99h0M-0.7 56.4h0M146.3 56.4h0M0.8 98.5h0M147.8 98.5h0M52 96.5h0M37.4 14.4h0M44.9 45.8h0M113.9 29.3h0M31 19.6h0M21.9 114h0M89 25h0M94.7 61.1h0M66.2 49.8h0M87.8 80.1h0M98.2 22.2h0M19.5 -0.6h0M19.5 123.4h0M133.1 86.3h0M131.3 60.4h0M19.9 8.4h0M15.8 94.8h0M5 113.2h0M79.1 106.3h0M6.5 42.3h0M15.1 59.9h0M87.6 -0.7h0M87.6 123.3h0M133.1 91.3h0M49 21.8h0M31.7 94.8h0M49.8 78.6h0M119.6 79.8h0M59.7 49h0M16.4 6.5h0M141.4 25.2h0M138.6 57.2h0M101.1 17.5h0M131.8 16h0M10.6 51.9h0M29.2 104.5h0M76 66.7h0M122.3 32.7h0M38.8 33.9h0M114.1 63.2h0M130.9 87.2h0M22 37.1h0M72 112.9h0M56.3 -2.8h0M56.3 121.2h0M93.5 71.2h0M97.2 44.9h0M133.9 3.7h0M119.8 68.1h0M11.7 89.7h0M106.6 28.8h0M121.3 77.9h0M46.1 112.7h0M80.3 17.8h0M139.4 46.3h0M53.1 91.2h0M124.8 22.9h0M28.5 108h0M1.3 10.6h0M148.3 10.6h0M33.2 98.7h0M114.3 55.4h0M122.5 11.1h0M95.2 105.8h0M79.6 22.3h0M5.5 93.9h0M60.9 37.1h0M8.2 0.5h0M8.2 124.5h0M88 37.3h0M74.2 23.2h0M47.2 93.7h0M98.4 38h0M24.2 35h0M84.8 11.1h0M49.1 8.3h0M38.7 -0.9h0M38.7 123.1h0M82.1 47.7h0M115.6 68.4h0M54 7.3h0M96.4 48.3h0M60.2 1.3h0M60.2 125.3h0M126.6 10.3h0M35.2 83.9h0M-1.3 100.8h0M145.7 100.8h0M41.4 96.8h0M127.9 7.8h0M71.4 44.1h0M10 25.8h0M96.5 87.2h0M0.8 33.8h0M147.8 33.8h0M1.5 116.4h0M148.5 116.4h0M2.1 42.5h0M149.1 42.5h0M134 108.7h0M124.2 83.8h0M127.7 67.6h0M80 14h0M131.2 29.4h0M88.3 109.8h0M85.7 91.1h0M35.3 12.2h0M34.6 89.7h0M128.8 37h0M63.7 60.8h0M7.3 74.6h0M10.6 4h0M108.3 63.9h0M86.1 45.5h0M113.4 83.9h0M107.1 42.4h0M102.4 94.4h0M132.9 -2.7h0M132.9 121.3h0M22 67.8h0M98.1 81.9h0M8.8 15h0M23.2 48.8h0M29 86.9h0M21.6 109.4h0M128.7 82.3h0M70.6 120.4h0M19.9 12.4h0M6.8 19.4h0M27.6 53.3h0M14.9 53.1h0M60.2 68.2h0M-2.1 48.7h0M144.9 48.7h0M77.3 55.3h0M110.7 33.6h0M6.1 48.3h0M136.6 75.9h0M38.5 67.5h0M45.6 59.3h0M59.7 104h0M97.2 61.3h0M73.3 86.2h0M15.5 82h0M57.3 111.6h0M0.6 82.1h0M147.6 82.1h0M126.2 101.9h0M104.6 12.4h0M8.1 10.3h0M35.7 95.1h0M9.6 101.8h0M90.9 53.8h0M40.2 75.3h0M55.5 1.1h0M55.5 125.1h0M6.3 64h0M120 57.6h0M6.3 7.4h0M26.5 29.3h0M129.4 115.3h0M95.9 94.6h0M138.1 19.9h0M92.9 115.2h0M49.4 75.6h0M84.3 115.4h0M20.1 33.2h0M132.9 18.8h0M112 19.2h0M131.1 34h0M100.2 25.9h0M28.9 93.6h0M51.8 113.8h0M135.8 14.6h0M121.9 59.8h0M85.9 74.5h0M134.7 30.1h0M68.4 74h0M46.4 -0.8h0M46.4 123.2h0M127.1 52.9h0M96.1 102h0M51.3 56.8h0M88.3 86.1h0M123.2 37.3h0M76.6 13.8h0M4.5 78.8h0M20.9 71.8h0M88.1 48.2h0M79.7 82h0M104.9 101.3h0M139.5 105.4h0M62.8 113.2h0M49.1 16.1h0M143.5 45.2h0M133.9 116.8h0M143 90.9h0M133.1 11h0M54 101.3h0M6.6 29.9h0M59.2 70.4h0M93.5 108.4h0M70.7 56.4h0M43.9 72.4h0M10.4 36.5h0M13.8 -0.3h0M13.8 123.7h0M89.9 45.7h0M41.6 15.8h0M27 83.3h0M137.6 26.5h0M77.1 95.1h0M21.7 74.7h0M97.7 52.9h0M68.7 51.5h0M79.3 112.4h0M79.9 64h0M68.4 97.5h0M86.4 15.3h0M105.8 119.7h0M1.9 108.3h0M148.9 108.3h0M74.2 0.7h0M74.2 124.7h0M2.4 56.1h0M149.4 56.1h0M105.1 60.5h0M100.8 63.7h0M0.2 120.9h0M147.2 120.9h0M100.4 116.6h0M69.5 12.3h0M127.8 -0.1h0M127.8 123.9h0M44.3 105.7h0M23.3 64.2h0M75.8 61h0M112.1 14h0M16 25.6h0M41.4 90.5h0M2.1 4.2h0M149.1 4.2h0M119.8 72.5h0M43.4 56.3h0M69.6 63.8h0M78.3 48.6h0M88.3 57.2h0M-2.5 26.6h0M144.5 26.6h0M44.6 7.1h0M131.1 40.7h0M70.9 35h0M125.2 75.9h0M59.8 59h0M-0.8 6.9h0M146.2 6.9h0M68 119h0M14.9 68.7h0M28.9 79.6h0M61.5 15.7h0M24.8 94.3h0M0.5 60.1h0M147.5 60.1h0M140.2 119.8h0M95.3 70.9h0M74.2 -2.9h0M74.2 121.1h0M10.8 59.9h0M39 49.1h0M65.4 86.6h0M134.8 65.1h0M143.4 67.3h0M63.2 120.6h0M19.8 19.9h0M132.1 22.4h0M127.5 90.8h0M101 15.8h0M116 109.6h0M81.9 6.9h0M62.4 55.7h0M34.9 115.7h0M0.6 89.4h0M147.6 89.4h0M74.7 27.2h0M95 110.1h0M25.1 117h0M12.4 29.6h0M101.2 7.3h0M51.6 21.5h0M23.6 120.5h0M68.9 83.1h0M80.7 94.4h0M16.4 112.9h0M6.9 25.1h0M36.6 75.6h0M1.3 70.8h0M148.3 70.8h0M51.1 116.2h0M30.6 112.4h0M142.1 52.1h0M138.8 63.3h0M86.7 98.7h0M15.4 38.3h0M68.4 7h0M29.6 46.1h0M120.1 8.3h0M33.3 14.5h0M130.9 109.8h0M59.9 21.8h0M78.8 1.2h0M78.8 125.2h0M140.6 29.1h0M85.9 102.1h0M119.1 109.8h0M18.1 85.8h0M57.4 66.4h0M64.9 102.1h0M11.6 82.9h0M125.4 8.7h0M85.5 26.1h0M71.2 7.1h0M22.6 -0.5h0M22.6 123.5h0M48.6 82.6h0M94.9 30h0M65.7 57.6h0M42.4 10.2h0M28.4 48.6h0M42.9 85.4h0M97.4 0.7h0M97.4 124.7h0M48.3 57.1h0M108.5 34.4h0M123.1 90h0M11.7 -1h0M11.7 123h0M66.6 105.7h0M107.2 56.6h0M8.2 97.3h0M141.6 33.5h0M54.4 48.3h0M40.7 11.3h0M101.2 36.6h0M64.8 98.2h0M27.7 18.6h0M6.5 71.9h0M61.1 107.8h0M121 14.5h0M33.2 11.9h0M85.9 113.1h0M112.3 48.8h0M40.1 64.4h0M118.2 86.9h0M80.8 72.5h0M106.1 53.8h0M110.7 71h0M65 25.8h0M13.9 76.3h0M70.2 70.3h0M48.5 96.5h0M51.6 120h0M77.7 34.8h0M38.5 116.7h0M51.3 12h0M136.3 -0.5h0M136.3 123.5h0M132.6 74h0M25.4 3.9h0M88 19.3h0M114 59.8h0M-2.8 14h0M144.2 14h0M66.4 64.8h0M141.8 10.6h0M75.8 106.2h0M24.4 85.8h0M49.8 120.1h0M117.1 83.8h0M95.6 26.6h0M119.8 99h0M110.3 78.1h0M131.3 48.7h0M88 10.8h0M19.9 119.8h0M72.4 106.4h0M64.9 6.3h0M134.8 25.7h0M4.4 108.2h0M62 49.9h0M25.4 22.5h0M119.7 37.2h0M29.3 100.5h0M67.4 111.5h0M127.5 110.1h0M110.4 36.3h0M-0.7 12.4h0M146.3 12.4h0M-3 74.5h0M144 74.5h0M28.9 38.6h0M109.4 8.2h0M127.1 13.7h0M72.8 33h0M117.3 30.8h0M50.7 48.4h0M-2.4 85.3h0M144.6 85.3h0M47 107.9h0M5 10.5h0M33.1 74.1h0M66.4 70.7h0M-0.3 22h0M146.7 22h0M119.3 42.4h0M50.3 93.3h0M5.6 100.2h0M70.3 23.6h0M49.1 30.2h0M122.8 19.6h0M40.8 51.4h0M4.8 55.4h0M86 40.9h0M84.5 2.5h0M84.5 126.5h0M80.8 102.2h0M53.7 53.4h0M0.7 44.8h0M147.7 44.8h0M125.5 72.3h0M18.5 29.3h0M67.8 14.6h0M106.5 105.8h0M40.3 95.2h0M50.2 36.7h0M86.6 30.6h0M131 83.2h0M32.1 78.3h0M80.9 110.1h0M72.8 82.4h0M21.6 90.9h0M117.9 111.9h0M117.8 38.3h0M51.7 71.2h0M38.7 31.3h0M125.9 49.9h0M100.6 23.4h0M12.8 33h0M139.5 38.1h0M125.6 119.8h0M114.6 33.1h0M108.2 112.5h0M57.4 116.7h0M66.4 79h0M82.5 22.7h0M108.6 49.5h0M102.5 82.1h0M29.1 4.9h0M93 67.2h0M82.6 0.7h0M82.6 124.7h0M78.2 108.8h0M72.7 18.6h0M109.4 58.9h0M12.4 7.8h0M19.3 98.7h0M111.1 42.6h0M102.3 75.4h0M135.1 48h0M24.2 26.3h0M53.4 59.8h0M104.7 97h0M104.8 116h0M91.3 86.5h0M106.9 25.6h0M131.1 8.1h0M101 0.3h0M101 124.3h0M21.9 27.1h0M59.3 120.7h0M-2.7 -1.2h0M-2.7 122.8h0M144.3 -1.2h0M144.3 122.8h0M81.9 79.3h0M136.1 104.5h0M-0.7 75.5h0M146.3 75.5h0M54.7 116h0M23.4 10.9h0M59.2 94h0M4.9 83.8h0M125 29.1h0M66.8 40.4h0M46 2.7h0M46 126.7h0M3.8 8h0M59.3 19.2h0M104.9 49.4h0M2.9 89.2h0M149.9 89.2h0M74.7 46.2h0M119.5 117h0M62.4 33.4h0M99 90.1h0M20 90.2h0M49.3 112.6h0M29 10.8h0M117.5 52.3h0M95 82.1h0M92.1 4.8h0M49.1 1h0M49.1 125h0M63.2 23.4h0M57.7 57.1h0M14.4 71.5h0M89 40.9h0M78.4 74h0M22.5 21.5h0M102.4 70.8h0M3.7 67.7h0M90.9 90.5h0M135.2 112.4h0M108.3 0.4h0M108.3 124.4h0M121.9 70.7h0M106.3 82h0M57.5 83.6h0M16 63.4h0M39.6 18.6h0M10.5 105.7h0M129.8 93.6h0M111.6 64.1h0M83 14.1h0M46.4 18.8h0M139.5 52.4h0M8.1 51.5h0M121.4 63.7h0M-2.2 19.2h0M144.8 19.2h0M116 7.6h0M77.9 3.1h0M70.2 79.1h0M48.8 60.1h0M25.5 -2.9h0M25.5 121.1h0M0.1 0.8h0M0.1 124.8h0M147.1 0.8h0M147.1 124.8h0M46.1 115.7h0M74.6 70.9h0M47.9 27.4h0M69.1 42.4h0M34.5 120.3h0M84.3 35h0M83.7 48.1h0M116 98.5h0M18.9 52.3h0M143.3 31.1h0M21.4 14.1h0M127.5 55.6h0M72.9 49.3h0M76.1 74.3h0M40 109.3h0M38.6 71.7h0M19.5 112.9h0M122.8 101.7h0M67.2 68.2h0M37.6 119.3h0M37 45h0M69 59.8h0M12.9 3h0M12.9 127h0M80.1 33.9h0M8.6 37.1h0M65.1 34h0M79.8 119.7h0M44.1 49.1h0M7.8 23.7h0M33 36.5h0M3.7 14.8h0M30.9 71h0M59 45.9h0M16.5 17.6h0M45.6 30.2h0M63 52.8h0M62.1 70.4h0M55.4 10.6h0M127.6 31h0M68.8 95.2h0M121.5 116.5h0M23.3 40.8h0M28.5 25.8h0M72.3 115.7h0M45.7 90.6h0M18 45h0M55 42h0M115.1 40.7h0M97.8 105h0M42.8 66.8h0M62.8 3.7h0M27 67.5h0M6.3 66.5h0M13.2 11.1h0M110.5 26.3h0M29.6 51.5h0M88.6 95.1h0M134.2 41.7h0M142.8 98.9h0M47.4 77.9h0M48.3 106h0M21.4 41.3h0M133.1 111.4h0M132.3 97.9h0M21.9 97.4h0M24.1 109.6h0M112.4 91.5h0M91.7 48.9h0M57.2 62.9h0M116 104.6h0M143.8 23.3h0M22.4 53.5h0M120.8 -0.6h0M120.8 123.4h0M141.6 117h0M71.8 66.3h0M103.9 34.2h0M65.8 93.9h0M110.7 109.8h0M66.9 115.5h0M10.6 48.2h0M57.1 42.3h0M83.7 113h0M39 102.2h0M107 19h0M37.4 104.5h0M104.2 63.2h0M52.6 68.7h0M34.2 51.3h0M136.9 83.5h0M37 51.6h0M134.5 53.7h0M32.8 0.8h0M32.8 124.8h0M139 8.2h0M116.4 21.9h0M78.8 45.8h0M50 51.3h0M14 30.8h0M17.9 79.8h0M25.8 60.6h0M26 44.2h0M75.2 51.8h0M41.6 36.4h0M-2.5 32.6h0M144.5 32.6h0M94.3 -0.4h0M94.3 123.6h0M39.9 27.1h0M57.5 106.4h0M136.1 59.9h0M55.5 108.2h0M54.7 3.1h0M53.8 56.5h0M110.9 11.2h0M108 117.4h0M-2 4.4h0M145 4.4h0M96.8 10.5h0M-0.2 37.6h0M146.8 37.6h0M128.7 21.8h0M43.8 3.5h0M3.1 44.3h0M53.5 26.5h0M114.9 94h0M123.7 112.4h0M40.2 -2.7h0M40.2 121.3h0M111.5 102.3h0M108.7 16.3h0M137.9 109.1h0M116.4 1.1h0M116.4 125.1h0M72.3 38.4h0M78.8 52.2h0M27.7 33h0M31.1 98.6h0M13 40.5h0M80 61.3h0M110.1 66.8h0M28.8 64h0M19.6 93.1h0M74.5 77.6h0M2.9 38.7h0M149.9 38.7h0M63.4 37.1h0M96.9 74h0M-0.3 30.6h0M146.7 30.6h0M104.7 75.1h0M113.7 53.1h0M135.9 44.8h0M1.3 50h0M148.3 50h0M114 23.7h0M59.6 74.9h0M132.7 72.3h0M7.9 113.3h0M30.8 48h0M135.7 37.7h0M31 108.8h0M53.1 -0.5h0M53.1 123.5h0M30.8 89.5h0M43.9 108.8h0M65.2 17.7h0M116.3 45h0M45.5 76.4h0M95.1 63.5h0M101 120h0M42.5 59.5h0M121.5 82.2h0M82.1 40.3h0M138.5 71.8h0M101 51.7h0M3 23.1h0M150 23.1h0M136.7 22.1h0M25.4 71.3h0M18 60.3h0M138.4 1.3h0M138.4 125.3h0M89.6 119.9h0M105.6 7.2h0M94.6 119.5h0M81.8 25h0M124.3 68.2h0M-2.9 63.5h0M144.1 63.5h0M40.9 85.8h0M135.5 98.9h0M142 57.4h0M141.6 64.9h0M10.9 22.5h0M18 11h0M129 97.9h0M14.2 102.3h0M62.1 19.5h0M56.6 59.8h0M118.3 34.3h0M112.2 7.7h0M81.8 45.9h0M81.2 56.4h0M104.4 16h0M103.4 109.2h0M20 66.9h0M83.7 119.7h0M89.7 7.2h0M2.9 79.6h0M149.9 79.6h0M137.7 78.3h0M19.7 3h0M95.1 52.7h0M22.7 83.5h0M127.1 94.2h0M127.3 64.6h0M98.9 98.2h0M116.8 14.5h0M12.6 63h0M84.7 57.1h0M134.6 100.7h0M53.9 64.5h0M46.7 71.3h0M76.8 40.4h0M116.4 89.2h0M121.4 113h0M85.3 78.4h0M8.5 -2.8h0M8.5 121.2h0M2.3 18.3h0M149.3 18.3h0M76.1 11.5h0M63.3 89h0M3.4 104.6h0M123.1 55.9h0M34.7 67h0M98.6 77.7h0M80.3 117.3h0M128 106h0M30.5 8.4h0M93.5 32.9h0M66.2 109.9h0M38.1 37.1h0M32.4 56.7h0M33.6 111.8h0M59.8 53.2h0M103.9 3.4h0M32.8 2.6h0M32.8 126.6h0M70.5 50.1h0M36.5 7.6h0M21.6 55.5h0M15.6 -2.7h0M15.6 121.3h0M94.9 18.9h0M8.9 116.8h0M19.6 101.9h0M112.2 97h0M119.3 49.3h0M88.4 101.9h0M43.1 93.9h0M72.5 59.2h0M50.6 33.6h0M15.7 109.9h0M63.8 105.4h0M17.8 48.3h0M108.1 29.6h0M8.5 45.4h0M57.4 85.3h0M54.8 85.6h0M103.2 55.1h0M108.9 104.3h0M43.7 64.1h0M101.5 29.3h0M103.2 85.8h0M96 56.2h0M77.8 72.5h0M119.5 12.4h0M140.1 74.1h0M18.2 23.1h0M110.1 97.3h0M32.1 115.2h0M56.4 46.1h0M125.5 87.5h0M127.1 45.9h0M14.4 50h0M33.3 31.3h0M134.5 89.1h0M43 79.2h0M62.3 25.9h0M132.8 94.5h0M35.5 71.7h0M34.1 105h0M70.8 90.8h0M114.1 71.8h0M91.7 57.1h0M89.2 3.9h0M123.9 13.8h0M98.6 14.1h0M64.5 29.6h0M47.9 68h0M102.8 45.4h0M97.1 78.1h0M102.1 113.6h0M110 89.5h0M126.2 42.4h0M87.2 7h0M104.4 38.1h0M101.1 93.2h0M34.8 59h0M59 79.9h0M114.2 11.8h0M138.4 97.9h0M29.7 21.9h0M13.9 15h0M55.4 30.6h0M16.3 23.1h0M99.4 101.1h0M35.9 85.4h0M114.2 -0.5h0M114.2 123.5h0M69.9 3.8h0M61.7 94.3h0M9 94.6h0M69.2 116.1h0M90.1 98.1h0M10.6 41.7h0M120.5 23.4h0M123.8 93.6h0M105.4 68.2h0M85.7 108.1h0M47.2 48.1h0M98.7 6.6h0M48 101h0M-1.6 79.5h0M145.4 79.5h0M75.8 36.8h0M131.3 0.3h0M131.3 124.3h0M129.7 55.1h0M35.2 108.1h0M100.9 50.1h0M112 45h0M18.7 38.3h0M22.6 31.1h0M40.3 4.6h0M0.6 51.4h0M147.6 51.4h0M50.2 44.2h0M86.9 23.4h0M92.5 93.7h0M19.9 116.6h0M112.4 85.8h0M68 22.8h0M50.8 65.1h0M56.7 75.1h0M100.2 108.4h0M8.7 63.3h0M88.6 64h0M143.9 8.3h0M123.5 46.2h0M89.3 21.5h0M-1.8 116.8h0M145.2 116.8h0M12.2 44.9h0M89.8 68.3h0M21.3 61.4h0M131 12h0M73.4 102.2h0M137.3 93.1h0M55.5 79.3h0M31.1 26.2h0M34.7 7.3h0M119 19.2h0M29.3 67.8h0M0.9 15h0M147.9 15h0M24.7 18h0M5.4 4.4h0M39.7 78.4h0M1.1 87.1h0M148.1 87.1h0M9.4 85.8h0M63.1 14.7h0M50.4 110h0M36.9 2.7h0M36.9 126.7h0M77 78.7h0M95.5 35h0M35.1 48.4h0M7.5 82.5h0M102.3 105.4h0M29.1 -2.7h0M29.1 121.3h0M47.6 62.8h0M102.9 59.7h0M75.5 6.8h0M104 20.1h0M50.1 101.7h0M130.6 101.5h0M51.2 3.1h0M29.2 56.6h0M18 75.9h0M99.6 55.5h0M99.5 35h0M35.4 55.7h0M90.9 38.3h0M19.1 104.1h0M138.8 112h0M47.9 12.3h0M0.4 68h0M147.4 68h0M140.8 71.9h0M60.9 64.9h0M86.8 82.5h0M2.5 101.9h0M149.5 101.9h0M137.5 12.2h0M5.9 115.9h0M41.9 44.2h0M18.2 115.4h0M3.7 120.8h0M25.7 36.3h0M33.1 102.7h0M28.4 40.5h0M63.5 41h0M27.3 1.2h0M27.3 125.2h0M106.5 101.3h0M115.5 117.3h0M27.3 104.6h0M106.7 11.6h0M42.3 41.4h0M140.2 79.5h0M51.9 75.5h0M115.2 3.8h0M134.9 79h0M139.4 67.5h0M94.8 46.4h0M9.9 109.1h0M30.1 60.7h0M99.1 10.9h0M44.1 37.5h0M65.4 10.2h0M93.4 12.4h0M93.2 18.5h0M55.3 8.2h0M118.8 3h0M118.8 127h0M20 78.4h0M34.8 79h0M92.7 25.2h0M136.3 3.1h0M113.3 120.4h0M8.5 91.4h0M44.6 21.7h0M-2.3 94.8h0M144.7 94.8h0M62.9 76.3h0M68.5 45.8h0M57.2 33.2h0M129.9 3.8h0M121.4 74.1h0M90.9 29h0M34.5 21.9h0M10.5 77.9h0M97.8 120.4h0M58.4 26.5h0M136.2 66.5h0M138 87h0M89.4 117.5h0M27.1 72.3h0M48.4 33.7h0M18.1 14.4h0M3.9 53.1h0M45.7 119.9h0M138.8 101h0M0.4 105h0M147.4 105h0M73.4 95.2h0M61.6 80.2h0M57.2 37.6h0M12.5 14.2h0M94.9 89.7h0M91.2 60.7h0M138.8 89.1h0M85.8 60.6h0M124.9 106.4h0M110.3 56h0M109.9 23.6h0M108.1 120.2h0M140.2 81.8h0M102.5 67h0M72 96.6h0M90.6 74.8h0M44.1 53.8h0M72.9 55.6h0M114.1 19.5h0M14.2 103.9h0M139.6 22.9h0M104.1 42.6h0M44.9 66.9h0M97.2 41.7h0M61.5 113.5h0M81.7 66.4h0M1.7 63.3h0M148.7 63.3h0M38.5 83.3h0M120.9 29.8h0M31.8 62.6h0M86.5 52.9h0M50.6 17.8h0M78.1 115.9h0M84 61h0M59.9 8.2h0M89 72.1h0M112.8 76.3h0M94.6 22h0M26.2 14h0M41.7 105.5h0M74.8 64.2h0M31.8 33.9h0M106.4 79h0M70.2 102.7h0M113.4 113.5h0M124.7 61.2h0M72.3 15h0M93.4 101.6h0M17 35h0M4.1 74.8h0M10.6 113.4h0M21.8 45h0M64.9 44.8h0M110.7 3.4h0M111.1 93.5h0M79.9 11.7h0M45 82.9h0M108 107.8h0M61 86.9h0M136.4 7.3h0M109.6 82.3h0M135.1 55.5h0M40.2 23.3h0M112.8 104.2h0M102.6 78.5h0M36.8 61.3h0M-2.5 42.5h0M144.5 42.5h0M76.2 86.5h0M21.4 7.6h0M70.1 86.4h0M23.6 104.7h0M97 68.2h0M8.5 61h0M25.2 76.2h0M79.6 98h0M72.8 41h0M103 26h0M101 98h0M131.4 53.3h0M29.9 1.3h0M29.9 125.3h0M108.6 72h0M131.1 26.6h0M105.8 90h0M57.7 96.9h0M80.2 90.4h0M44.5 117.3h0M78.1 19.1h0M12.7 110.1h0M11.9 -2.6h0M11.9 121.4h0M140.1 59h0M79.7 36.9h0M68.7 1.1h0M68.7 125.1h0M9.6 55.1h0M12.2 25.9h0M10.2 71.4h0M127.8 120.8h0M75.6 90.1h0M63.1 11.1h0M50.5 42.3h0M35.5 17.6h0M138.9 115.7h0M4.4 30.2h0M142.8 112.6h0M83.3 75.7h0M93.5 8.8h0M22 63.8h0M67.3 37.8h0M30.1 82.1h0M141.1 85.7h0M108.7 4.4h0M142 48.3h0M80.5 86h0M44 15.1h0M37.6 22.6h0M10.7 98h0M16.5 101.9h0M29.6 15.3h0M53.8 83.1h0M61.1 96.4h0M125.4 78.7h0M10.5 66.5h0M127.3 74.2h0M119.9 100.4h0M22 86.2h0M91.1 78.8h0M82.7 82.3h0M36.7 27.5h0M129 77.8h0M115.2 86h0M27.1 6.8h0M36.4 63.3h0M63.1 68.1h0M51.8 38.3h0M89.7 33.2h0M83.5 17.6h0M141.1 42.4h0M70.8 30.8h0M65 83.7h0M36.7 88.9h0M133.4 34.6h0M10.7 76.3h0M120.6 45.5h0M140.1 17.5h0M98.5 28.8h0M3.6 98.3h0M79.1 7h0M13.9 17.7h0M72.8 75.2h0M76.6 100.7h0M48.3 86.9h0M35.5 101.5h0M82 37.4h0M84 31.3h0M48.3 40.9h0M52 29.2h0M61.5 91.3h0M129 112.7h0M17.9 71.6h0M13.6 93.5h0M75.7 113.3h0M127.1 27h0M106 111.5h0M53.3 14.4h0M99.1 41.6h0M80.6 2.9h0M80.6 126.9h0M93.8 98h0M69 18.9h0M130.7 68.6h0M29 76.4h0M13.4 116.7h0M122.1 27.2h0M79.1 28.8h0M122.6 108.3h0M102.9 89.2h0M93.3 113.2h0M38.3 98.6h0M51.6 85.8h0M143.7 105h0M117.9 64.2h0M9.7 19.2h0M57.5 3.2h0M51.8 104.5h0M3.4 59.8h0M57.7 12.2h0M26 96.7h0M44 18.2h0M24.2 78.2h0M6.7 104.5h0M70.8 53.7h0M27.3 112.2h0M123.1 0.7h0M123.1 124.7h0M121.5 49.7h0M122.7 4.3h0M93.9 14h0M14.3 91h0M74.4 96.8h0M101 3.9h0M12.9 79.3h0M83.7 63.9h0M50.1 26.4h0M94.6 36.7h0M112.3 67.6h0M126.5 19.9h0M0.1 113.5h0M147.1 113.5h0M14.9 97.6h0M142.6 4.6h0M81.7 53.5h0M-1.6 109.3h0M145.4 109.3h0M28.9 29.9h0M57.7 53.4h0M115.7 74.7h0M117.8 119.6h0M2.1 94.6h0M149.1 94.6h0M13.4 56.3h0M99.2 112.9h0M25.2 100.6h0M116.2 47.6h0M40.7 7.6h0M10.6 35h0M89.2 81.9h0M35.1 34.5h0M27.6 90.5h0M121.4 91h0M86 68h0M104.7 22.1h0M123.1 87.5h0M55 32.9h0M143.3 38.4h0M99.7 85.9h0M141.3 101.1h0M52.8 45.1h0M43.1 27h0M89.3 112.7h0M77.1 63.5h0M40.5 111.8h0M134.9 -2.5h0M134.9 121.5h0M5.1 33.9h0M129 17.5h0M69.1 89.9h0M114 79h0M117.2 60.7h0M136.8 49.8h0M76.4 82.9h0M42.2 82.1h0M33 40.8h0M2.5 25.3h0M149.5 25.3h0M131.7 45h0M106.8 86.6h0M109.6 44.1h0"/>
<pattern id="mt" patternUnits="userSpaceOnUse" x="158" y="1077" width="147" height="124"><rect width="147" height="124" fill="#587575"/><use href="#molp" stroke="#90b6b6" stroke-width="3.9" stroke-linecap="round"/><use href="#molp" x="-0.6" y="-0.6" stroke="#bde0e0" stroke-width="2.1" stroke-linecap="round"/></pattern>
<pattern id="mb" patternUnits="userSpaceOnUse" x="158" y="1077" width="147" height="124"><rect width="147" height="124" fill="#5c7d99"/><use href="#molp" stroke="#81a7c3" stroke-width="3.9" stroke-linecap="round"/><use href="#molp" x="-0.6" y="-0.6" stroke="#9ec3df" stroke-width="2.1" stroke-linecap="round"/></pattern>
<filter id="grain" x="0" y="0" width="1" height="1" color-interpolation-filters="sRGB">
<feTurbulence type="fractalNoise" baseFrequency="0.38" numOctaves="1" seed="9" result="n"/>
<feColorMatrix in="n" type="matrix" values="1 0 0 0 0  1 0 0 0 0  1 0 0 0 0  0 0 0 0 1" result="g"/>
<feComposite in="SourceGraphic" in2="g" operator="arithmetic" k1="0" k2="1" k3="0.75" k4="-0.375" result="m"/>
<feComposite in="m" in2="SourceGraphic" operator="in"/>
</filter>
</defs>
<rect x="196.3" y="34.5" width="677.8" height="769.7" fill="url(#cp1)"/>
<rect x="196.3" y="34.5" width="677.8" height="769.7" fill="url(#cp2)"/>
<g transform="scale(.5)" stroke="#000" stroke-width="4.6" stroke-linecap="square"><path d="M396 256h0M437 444h0M434 212h0M440 414h0M393 533h0M433 439h0M401 466h0M397 360h0M406 425h0M442 443h0M435 365h0M397 285h0M411 424h0M423 332h0M407 312h0M400 371h0M416 465h0M418 452h0M421 463h0M407 456h0M400 541h0M395 484h0M393 628h0M414 358h0M395 513h0M439 357h0M421 153h0M425 395h0M414 354h0M409 511h0M440 160h0M430 468h0M404 190h0M398 546h0M432 406h0M414 387h0M397 472h0M407 382h0M437 473h0M425 450h0M395 339h0M433 393h0M443 450h0M423 422h0M428 311h0M406 400h0M434 362h0M422 466h0M344 1551h0M344 1587h0M383 716h0M393 601h0M322 1608h0M340 1584h0M388 766h0M341 1588h0M326 1606h0M378 820h0M359 1413h0M325 1591h0M357 1476h0M328 1582h0M374 1044h0M341 1595h0M347 1548h0M384 941h0M391 732h0M377 973h0M330 1608h0M357 1497h0M359 1409h0M323 1608h0M336 1581h0M355 1513h0M336 1606h0M334 1593h0M373 1294h0M368 1281h0M369 1259h0M321 1607h0M328 1602h0M323 1602h0M370 1285h0M332 1608h0M323 1606h0M379 930h0M320 1603h0M353 1542h0M385 863h0M330 1589h0M321 1608h0M333 1608h0M333 1606h0M378 995h0M344 1575h0M330 1599h0M374 1098h0M369 1188h0M397 429h0M336 1602h0M389 654h0M361 1464h0M391 570h0M389 792h0M384 825h0M373 1101h0M321 1589h0M339 1599h0M361 1413h0M320 1607h0M372 1251h0M346 1569h0M363 1385h0M363 1412h0M381 777h0M369 1363h0M388 668h0M356 1494h0M363 1448h0M397 825h0M397 633h0M338 1585h0M346 1574h0M332 1608h0M388 494h0M400 398h0M372 992h0M373 1173h0M343 1572h0M396 403h0M399 445h0M397 661h0M351 1532h0M373 914h0M388 617h0M364 1310h0M370 1226h0M341 1586h0M395 680h0M380 932h0M342 1566h0M321 1602h0M345 1570h0M393 608h0M334 1606h0M314 1606h0M360 1476h0M349 1560h0M343 1577h0M360 1487h0M399 606h0M394 508h0M367 1271h0M387 524h0M334 1601h0M327 1591h0M319 1598h0M387 781h0M334 1595h0M329 1605h0M364 1372h0M352 1526h0M351 1549h0M327 1594h0M379 925h0M325 1607h0M384 976h0M356 1494h0M328 1590h0M389 632h0M352 1538h0M355 1480h0M331 1601h0M396 610h0M364 1356h0M332 1597h0M352 1527h0M329 1606h0M325 1599h0M346 1559h0M336 1594h0M336 1587h0M399 507h0M349 1521h0M354 1524h0M339 1608h0M346 1559h0M399 671h0M356 1517h0M369 1248h0M393 684h0M320 1607h0M354 1486h0M352 1514h0M348 1541h0M360 1398h0M385 811h0M351 1527h0M342 1592h0M330 1596h0M391 445h0M316 1608h0M322 1608h0M382 887h0M345 1592h0M343 1581h0M388 764h0M330 1595h0M347 1562h0M364 1424h0M360 1464h0M382 839h0M392 561h0M366 1385h0M332 1603h0M345 1568h0M331 1607h0M368 1154h0M366 1337h0M352 1558h0M350 1555h0M358 1448h0M346 1568h0M386 950h0M381 897h0M395 473h0M350 1544h0M391 757h0M345 1604h0M390 675h0M331 1595h0M346 1575h0M342 1586h0M363 1410h0M346 1572h0M400 764h0M322 1595h0M401 476h0M365 1405h0M346 1559h0M347 1548h0M329 1607h0M336 1586h0M329 1593h0M341 1589h0M371 1132h0M370 1133h0M363 1330h0M372 1231h0M379 934h0M353 1507h0M381 820h0M360 1422h0M341 1571h0M354 1504h0M383 850h0M324 1604h0M393 578h0M347 1551h0M332 1593h0M320 1599h0M322 1608h0M378 777h0M364 1355h0M332 1583h0M318 1603h0M360 1437h0M344 1565h0M334 1591h0M356 1478h0M347 1576h0M398 605h0M323 1600h0M355 1507h0M364 1383h0M384 1051h0M360 1482h0M351 1490h0M340 1578h0M321 1607h0M345 1587h0M389 700h0M383 778h0M398 632h0M394 667h0M335 1605h0M397 561h0M378 941h0M349 1548h0M327 1607h0M387 610h0M369 1274h0M338 1579h0M381 966h0M325 1593h0M398 431h0M367 1315h0M380 811h0M364 1258h0M349 1541h0M399 629h0M337 1601h0M371 1123h0M330 1608h0M340 1577h0M353 1554h0M325 1608h0M342 1583h0M384 861h0M325 1604h0M387 746h0M327 1602h0M374 1037h0M343 1572h0M337 1584h0M344 1584h0M403 533h0M350 1574h0M342 1577h0M403 516h0M388 673h0M399 516h0M327 1608h0M366 1382h0M392 677h0M370 1237h0M330 1607h0M361 1380h0M400 487h0M342 1583h0M354 1516h0M331 1590h0M334 1595h0M324 1607h0M372 1235h0M373 1276h0M386 745h0M339 1586h0M388 709h0M378 763h0M341 1589h0M382 799h0M374 1060h0M328 1607h0M387 625h0M356 1471h0M349 1543h0M333 1608h0M340 1578h0M343 1581h0M385 773h0M388 630h0M381 950h0M332 1603h0M317 1604h0M367 1240h0M371 1047h0M375 951h0M387 800h0M395 436h0M328 1597h0M354 1494h0M330 1597h0M392 656h0M395 554h0M363 1314h0M358 1483h0M374 1162h0M341 1586h0M390 690h0M398 613h0M380 1010h0M322 1598h0M396 513h0M389 622h0M364 1410h0M374 1168h0M319 1608h0M395 517h0M374 1213h0M397 646h0M363 1413h0M343 1574h0M393 473h0M377 1146h0M339 1588h0M362 1394h0M384 688h0M389 616h0M339 1575h0M359 1497h0M375 1103h0M386 686h0M377 1009h0M324 1597h0M397 532h0M344 1560h0M335 1589h0M325 1606h0M347 1565h0M367 1306h0M373 1148h0M346 1564h0M352 1533h0M388 789h0M397 639h0M392 702h0M359 1468h0M324 1602h0M340 1573h0M323 1604h0M366 1289h0M387 706h0M376 986h0M361 1342h0M393 729h0M325 1608h0M335 1603h0M352 1540h0M375 991h0M390 688h0M392 699h0M342 1570h0M333 1607h0M378 1134h0M371 1181h0M371 1090h0M364 1303h0M337 1596h0M330 1604h0M355 1509h0M362 1475h0M341 1577h0M352 1533h0M393 522h0M325 1608h0M367 1188h0M389 760h0M397 495h0M389 667h0M376 993h0M355 1510h0M332 1606h0M322 1608h0M362 1440h0M374 1206h0M357 1483h0M329 1586h0M326 1599h0M384 823h0M388 915h0M325 1607h0M399 620h0M388 783h0M338 1568h0M394 771h0M347 1578h0M365 1305h0M359 1444h0M321 1605h0M328 1607h0M380 821h0M393 687h0M370 1252h0M331 1590h0M374 1108h0M342 1585h0M387 815h0M374 953h0M371 1158h0M365 1339h0M351 1540h0M394 659h0M382 824h0M353 1511h0M395 610h0M399 534h0M392 653h0M380 793h0M359 1388h0M365 1320h0M377 968h0M344 1579h0M391 673h0M321 1607h0M323 1608h0M394 549h0M335 1602h0M319 1603h0M394 685h0M382 880h0M398 466h0M378 794h0M368 1109h0M335 1596h0M392 661h0M365 1347h0M319 1607h0M328 1601h0M366 1434h0M383 777h0M330 1602h0M335 1589h0M367 1367h0M372 1240h0M335 1607h0M330 1605h0M328 1607h0M367 1257h0M391 743h0M347 1577h0M380 926h0M380 938h0M385 683h0M362 1377h0M337 1593h0M367 1317h0M330 1607h0M334 1607h0M331 1586h0M345 1569h0M392 734h0M389 705h0M387 608h0M336 1590h0M321 1608h0M343 1589h0M372 1223h0M345 1567h0M388 780h0M386 655h0M387 834h0M322 1607h0M343 1565h0M379 923h0M348 1563h0M351 1516h0M379 832h0M391 717h0M337 1589h0M361 1437h0M332 1602h0M386 717h0M326 1608h0M344 1589h0M367 1398h0M358 1463h0M398 512h0M350 1530h0M358 1483h0M399 563h0M349 1503h0M367 1297h0M378 1115h0M365 1356h0M353 1537h0M397 594h0M398 557h0M334 1599h0M319 1607h0M378 1016h0M376 980h0M399 624h0M376 969h0M323 1599h0M339 1585h0M389 716h0M385 924h0M390 535h0M354 1520h0M325 1605h0M379 883h0M382 952h0M401 606h0M376 1061h0M347 1549h0M388 685h0M332 1606h0M374 1194h0M349 1522h0M337 1591h0M345 1588h0M364 1368h0M375 1008h0M384 703h0M328 1607h0M348 1577h0M399 500h0M372 1116h0M398 774h0M370 1264h0M347 1582h0M339 1608h0M380 869h0M369 1284h0M396 604h0M330 1592h0M391 765h0M335 1600h0M323 1608h0M344 1562h0M400 507h0M327 1598h0M359 1423h0M322 1607h0M328 1606h0M387 815h0M334 1595h0M372 1209h0M381 858h0M368 1279h0M340 1589h0M349 1518h0M365 1352h0M385 712h0M352 1530h0M317 1594h0M339 1588h0M322 1606h0M354 1535h0M367 1293h0M332 1608h0M345 1567h0M357 1370h0M360 1468h0M398 630h0M321 1608h0M339 1583h0M351 1543h0M382 737h0M333 1600h0M390 749h0M387 617h0M327 1601h0M346 1554h0M321 1603h0M345 1578h0M382 831h0M356 1504h0M336 1591h0M336 1597h0M376 1064h0M386 645h0M355 1461h0M333 1594h0M369 1074h0M359 1484h0M370 1149h0M355 1464h0M396 394h0M374 1017h0M339 1590h0M400 552h0M374 1146h0M366 1262h0M377 1001h0M365 1262h0M357 1467h0M392 638h0M349 1521h0M368 1217h0M352 1526h0M352 1490h0M384 760h0M364 1325h0M333 1595h0M333 1589h0M326 1602h0M379 1118h0M361 1379h0M374 1003h0M377 1003h0M365 1359h0M332 1601h0M343 1579h0M389 839h0M363 1337h0M336 1597h0M398 632h0M353 1513h0M389 719h0M341 1581h0M359 1475h0M319 1606h0M340 1608h0M1747 408h0M1746 316h0M1722 486h0M1747 213h0M1712 358h0M1746 468h0M1708 484h0M1701 230h0M1707 249h0M1721 487h0M1703 371h0M1743 586h0M1705 193h0M1738 444h0M1700 392h0M1707 435h0M1740 270h0M1712 443h0M1709 417h0M1740 188h0M1724 431h0M1736 439h0M1703 376h0M1717 459h0M1716 402h0M1723 493h0M1717 337h0M1698 470h0M1744 557h0M1719 307h0M1741 195h0M1708 463h0M1720 325h0M1745 352h0M1743 464h0M1748 263h0M1726 432h0M1710 249h0M1702 380h0M1705 441h0M1707 406h0M1708 467h0M1700 325h0M1743 278h0M1744 410h0M1702 307h0M1739 265h0M1706 278h0M1742 554h0M1723 354h0M1715 410h0M1713 315h0M1698 466h0M1715 447h0M1739 519h0M1785 1449h0M1739 398h0M1761 866h0M1816 1600h0M1795 1545h0M1809 1607h0M1778 1410h0M1821 1607h0M1794 1549h0M1809 1600h0M1811 1608h0M1754 634h0M1753 763h0M1797 1586h0M1778 1450h0M1789 1522h0M1776 1350h0M1752 831h0M1764 966h0M1743 550h0M1751 642h0M1769 1172h0M1781 1500h0M1750 611h0M1751 630h0M1772 1251h0M1746 680h0M1744 518h0M1763 1027h0M1752 662h0M1757 929h0M1756 772h0M1762 1007h0M1770 1220h0M1820 1605h0M1776 1402h0M1794 1550h0M1745 510h0M1816 1590h0M1805 1592h0M1812 1602h0M1740 496h0M1770 1216h0M1768 1211h0M1817 1607h0M1819 1608h0M1775 1353h0M1739 514h0M1761 1066h0M1776 1340h0M1763 1027h0M1808 1608h0M1757 719h0M1797 1570h0M1826 1607h0M1810 1605h0M1821 1593h0M1798 1585h0M1745 482h0M1747 566h0M1748 550h0M1779 1428h0M1819 1607h0M1772 1133h0M1745 515h0M1805 1591h0M1771 1100h0M1790 1547h0M1805 1587h0M1806 1593h0M1776 1314h0M1815 1604h0M1752 723h0M1745 558h0M1794 1579h0M1760 793h0M1763 922h0M1821 1608h0M1814 1602h0M1792 1552h0M1786 1547h0M1750 618h0M1758 897h0M1761 928h0M1808 1600h0M1794 1534h0M1755 707h0M1776 1367h0M1761 1007h0M1752 688h0M1816 1607h0M1754 646h0M1747 540h0M1785 1473h0M1821 1605h0M1743 576h0M1741 664h0M1741 474h0M1790 1514h0M1809 1606h0M1794 1544h0M1807 1605h0M1780 1475h0M1814 1607h0M1797 1557h0M1823 1597h0M1818 1603h0M1782 1462h0M1770 1167h0M1761 1019h0M1813 1596h0M1807 1602h0M1820 1605h0M1755 781h0M1774 1277h0M1785 1522h0M1767 1215h0M1813 1601h0M1807 1586h0M1766 1040h0M1816 1608h0M1801 1593h0M1813 1608h0M1756 873h0M1775 1318h0M1769 1096h0M1816 1596h0M1793 1526h0M1792 1560h0M1777 1408h0M1796 1592h0M1755 651h0M1761 846h0M1763 1091h0M1743 411h0M1774 1294h0M1810 1602h0M1803 1584h0M1776 1398h0M1817 1602h0M1822 1608h0M1758 792h0M1803 1600h0M1766 1198h0M1822 1607h0M1793 1536h0M1745 773h0M1752 673h0M1802 1580h0M1785 1509h0M1757 938h0M1749 618h0M1819 1602h0M1794 1566h0M1750 674h0M1818 1599h0M1801 1587h0M1802 1577h0M1795 1572h0M1752 541h0M1745 604h0M1763 1150h0M1818 1608h0M1781 1444h0M1745 585h0M1820 1608h0M1823 1598h0M1754 709h0M1740 526h0M1810 1603h0M1783 1442h0M1805 1601h0M1774 1313h0M1776 1442h0M1817 1604h0M1776 1327h0M1777 1432h0M1823 1607h0M1765 1141h0M1780 1375h0M1770 1280h0M1788 1522h0M1815 1608h0M1785 1502h0M1774 1251h0M1816 1608h0M1739 474h0M1768 1090h0M1771 1118h0M1772 1267h0M1781 1430h0M1816 1599h0M1795 1562h0M1746 568h0M1812 1593h0M1800 1597h0M1752 610h0M1789 1560h0M1751 754h0M1741 558h0M1745 442h0M1772 1256h0M1778 1347h0M1747 645h0M1768 1065h0M1767 1110h0M1797 1556h0M1813 1608h0M1762 845h0M1776 1298h0M1743 692h0M1781 1404h0M1818 1597h0M1757 832h0M1753 693h0M1746 454h0M1803 1608h0M1801 1584h0M1752 787h0M1764 1030h0M1774 1234h0M1811 1606h0M1821 1607h0M1812 1588h0M1763 867h0M1791 1568h0M1788 1546h0M1788 1511h0M1791 1518h0M1757 744h0M1755 701h0M1755 843h0M1764 1106h0M1784 1481h0M1754 806h0M1765 1020h0M1801 1588h0M1745 551h0M1797 1559h0M1761 920h0M1771 1298h0M1790 1530h0M1789 1552h0M1794 1563h0M1768 1067h0M1754 809h0M1748 663h0M1800 1573h0M1750 658h0M1757 693h0M1765 1115h0M1772 1217h0M1787 1534h0M1761 982h0M1745 549h0M1756 679h0M1783 1409h0M1751 773h0M1742 602h0M1796 1577h0M1818 1608h0M1811 1603h0M1773 1385h0M1746 573h0M1809 1589h0M1780 1463h0M1784 1489h0M1796 1571h0M1767 1060h0M1766 1151h0M1792 1546h0M1763 886h0M1756 769h0M1814 1605h0M1788 1553h0M1763 898h0M1806 1602h0M1779 1448h0M1823 1608h0M1742 424h0M1774 1125h0M1795 1576h0M1741 394h0M1770 1178h0M1745 603h0M1766 1167h0M1766 994h0M1781 1431h0M1738 490h0M1805 1596h0M1812 1602h0M1810 1598h0M1801 1586h0M1742 589h0M1781 1499h0M1824 1606h0M1777 1295h0M1802 1577h0M1785 1482h0M1768 1171h0M1817 1608h0M1797 1568h0M1817 1600h0M1771 1238h0M1793 1568h0M1814 1600h0M1789 1534h0M1757 812h0M1812 1608h0M1804 1589h0M1780 1453h0M1757 695h0M1814 1607h0M1775 1413h0M1771 1181h0M1755 848h0M1761 908h0M1750 568h0M1799 1577h0M1808 1595h0M1768 1221h0M1783 1427h0M1793 1533h0M1798 1580h0M1752 803h0M1800 1591h0M1811 1590h0M1801 1589h0M1781 1445h0M1747 728h0M1799 1589h0M1748 645h0M1742 563h0M1770 1081h0M1791 1551h0M1745 560h0M1770 1116h0M1756 681h0M1800 1582h0M1749 863h0M1752 702h0M1793 1576h0M1737 475h0M1753 625h0M1775 1377h0M1763 946h0M1769 1086h0M1822 1608h0M1743 566h0M1780 1444h0M1812 1602h0M1761 991h0M1813 1606h0M1799 1585h0M1760 841h0M1804 1593h0M1813 1605h0M1818 1607h0M1770 1315h0M1821 1608h0M1811 1602h0M1811 1599h0M1766 1049h0M1749 648h0M1814 1590h0M1742 581h0M1798 1576h0M1772 1221h0M1745 493h0M1803 1584h0M1808 1599h0M1808 1597h0M1768 1102h0M1812 1592h0M1787 1511h0M1812 1601h0M1759 900h0M1776 1409h0M1749 761h0M1788 1526h0M1809 1608h0M1828 1608h0M1757 813h0M1783 1501h0M1801 1587h0M1802 1594h0M1761 904h0M1748 589h0M1777 1399h0M1792 1536h0M1803 1587h0M1788 1499h0M1748 665h0M1777 1455h0M1799 1593h0M1755 525h0M1784 1443h0M1816 1606h0M1815 1605h0M1794 1561h0M1759 741h0M1818 1607h0M1742 574h0M1805 1592h0M1741 610h0M1768 1124h0M1816 1608h0M1746 617h0M1770 1254h0M1777 1342h0M1812 1593h0M1767 1133h0M1747 394h0M1754 832h0M1806 1589h0M1819 1603h0M1814 1607h0M1753 599h0M1785 1467h0M1794 1534h0M1792 1557h0M1772 1166h0M1802 1601h0M1792 1540h0M1753 756h0M1759 832h0M1748 509h0M1809 1608h0M1748 491h0M1804 1601h0M1755 762h0M1756 719h0M1752 721h0M1763 933h0M1813 1600h0M1808 1588h0M1793 1540h0M1771 1242h0M1760 879h0M1800 1593h0M1781 1429h0M1763 829h0M1780 1457h0M1743 706h0M1800 1584h0M1793 1557h0M1803 1597h0M1796 1581h0M1810 1593h0M1741 623h0M1744 430h0M1820 1606h0M1743 497h0M1818 1607h0M1768 1304h0M1760 916h0M1774 1282h0M1820 1607h0M1761 816h0M1789 1546h0M1815 1606h0M1773 1331h0M1793 1560h0M1759 841h0M1777 1447h0M1772 1295h0M1805 1606h0M1815 1594h0M1823 1597h0M1771 1052h0M1802 1587h0M1814 1602h0M1798 1561h0M1757 727h0M1747 511h0M1772 1202h0M1752 657h0M1764 896h0M1745 624h0M1765 1059h0M1811 1608h0M1757 725h0M1748 757h0M1759 887h0M1793 1587h0M1776 1500h0M1791 1533h0M1754 879h0M1762 1017h0M1797 1582h0M1745 629h0M1745 641h0M1781 1453h0M1796 1578h0M1760 1027h0M1819 1591h0M1776 1305h0M1821 1603h0M1746 548h0M1807 1578h0M1772 1279h0M1765 1017h0M1775 1281h0M1755 786h0M1749 612h0M1754 661h0M1806 1593h0M1753 739h0M1762 871h0M1763 918h0M1811 1608h0M1789 1532h0M1815 1608h0M1772 1207h0M1804 1579h0M1820 1608h0M1769 1285h0M1791 1528h0M1820 1608h0M1789 1551h0M1790 1545h0M1782 1467h0M1814 1602h0M1813 1603h0M1771 1202h0M1770 1291h0M1776 1361h0M1789 1492h0M1755 698h0M1758 889h0M1792 1559h0M1787 1512h0M1774 1367h0M1764 1032h0M1764 996h0M1806 1589h0M1824 1607h0M1779 1379h0M1786 1497h0M1741 620h0M1785 1525h0M1790 1539h0M1806 1591h0M1801 1570h0M1757 896h0M1787 1513h0M1772 1248h0M1802 1600h0M1814 1606h0M1799 1588h0M1777 1267h0M1804 1592h0M1815 1604h0M1820 1599h0M1822 1605h0M1776 1265h0M1805 1591h0M1820 1600h0M1755 715h0M1771 1290h0M1796 1586h0M1800 1593h0M1798 1571h0M1756 722h0M1755 696h0M1799 1575h0M1810 1595h0M1754 826h0M1797 1553h0M1800 1584h0M1751 691h0M1816 1603h0M1761 831h0M1760 771h0M1775 1341h0M1751 613h0M1749 485h0M1749 899h0M1744 643h0M1783 1514h0M1751 412h0M1754 738h0M1761 925h0M1782 1435h0M1786 1497h0M1795 1547h0M1779 1417h0M1762 1033h0M1759 772h0M1750 641h0M1766 1068h0M1766 1234h0M1753 588h0M1809 1605h0M1780 1428h0M1761 1009h0M1769 1281h0M1765 1101h0M1808 1605h0M1800 1597h0M1789 1529h0M1801 1580h0M1820 1608h0M1783 1487h0M1769 1220h0M1817 1606h0M1767 1232h0M1777 1458h0M1823 1606h0M1758 956h0M1790 1540h0M1805 1601h0M1796 1569h0M1808 1596h0M1746 624h0M1814 1608h0M1787 1489h0M1748 665h0M1775 1358h0M1787 1539h0M1812 1588h0M1800 1584h0M1788 1567h0M1744 569h0M1788 1560h0M1754 718h0M1747 672h0M1811 1607h0M1803 1586h0M1780 1465h0M1746 584h0M1785 1479h0M1756 868h0M1808 1595h0M1771 1161h0M1784 1508h0M1820 1600h0M1795 1531h0M1749 620h0M1786 1478h0M1742 581h0M1742 553h0M1808 1597h0M1802 1591h0M1792 1565h0M1794 1574h0M1749 539h0M1745 538h0M1794 1547h0M1793 1556h0M1786 1499h0M1790 1559h0M1761 810h0M1802 1591h0M1791 1536h0M1791 1535h0M1818 1596h0M1795 1574h0M1810 1604h0M1767 1031h0M1809 1597h0M1757 877h0M1779 1406h0M1762 881h0M1807 1607h0M1818 1605h0M1771 1250h0M1814 1608h0M1774 1390h0M1784 1477h0M1790 1543h0M1744 711h0M1767 1168h0M1787 1476h0M1781 1475h0M1806 1602h0M1755 746h0M1754 654h0M1815 1594h0M1767 1038h0M1817 1607h0" stroke-opacity="0.18"/><path d="M421 407h0M407 318h0M426 345h0M440 385h0M398 285h0M401 377h0M419 198h0M400 536h0M440 396h0M416 401h0M402 351h0M410 495h0M438 429h0M393 359h0M430 362h0M429 481h0M429 415h0M430 442h0M423 380h0M416 456h0M433 359h0M423 452h0M434 432h0M399 469h0M402 522h0M424 432h0M400 434h0M429 458h0M404 386h0M430 406h0M426 470h0M400 440h0M419 353h0M408 267h0M410 361h0M425 469h0M401 508h0M410 350h0M439 412h0M402 336h0M435 444h0M443 438h0M401 532h0M342 1572h0M332 1583h0M387 758h0M347 1569h0M362 1381h0M338 1566h0M360 1362h0M369 1233h0M343 1597h0M338 1589h0M321 1590h0M342 1586h0M327 1593h0M350 1527h0M355 1534h0M346 1550h0M374 989h0M380 974h0M391 630h0M365 1356h0M319 1605h0M343 1560h0M397 633h0M323 1605h0M324 1595h0M348 1571h0M365 1421h0M380 783h0M373 1064h0M345 1561h0M357 1396h0M385 756h0M344 1576h0M379 943h0M398 523h0M361 1403h0M332 1600h0M337 1601h0M394 451h0M332 1599h0M325 1600h0M331 1596h0M347 1572h0M382 803h0M355 1498h0M398 627h0M377 971h0M334 1595h0M341 1596h0M387 771h0M335 1585h0M370 1266h0M351 1512h0M351 1548h0M346 1570h0M401 372h0M367 1268h0M318 1607h0M336 1584h0M349 1532h0M388 577h0M351 1530h0M335 1579h0M399 451h0M388 576h0M388 621h0M385 828h0M362 1353h0M396 436h0M361 1336h0M359 1523h0M337 1584h0M365 1296h0M338 1590h0M340 1575h0M347 1550h0M324 1607h0M322 1598h0M343 1595h0M356 1489h0M321 1608h0M321 1605h0M384 827h0M359 1446h0M319 1601h0M342 1576h0M386 766h0M330 1590h0M343 1573h0M347 1560h0M356 1461h0M364 1337h0M385 888h0M394 573h0M333 1595h0M373 1201h0M371 1152h0M345 1564h0M349 1544h0M385 778h0M356 1496h0M328 1601h0M328 1598h0M377 910h0M342 1555h0M332 1585h0M336 1602h0M360 1441h0M382 886h0M353 1514h0M357 1469h0M356 1512h0M373 1119h0M324 1608h0M381 988h0M392 677h0M338 1604h0M338 1581h0M344 1580h0M354 1534h0M371 1226h0M353 1522h0M401 348h0M386 725h0M346 1582h0M369 1332h0M378 944h0M385 681h0M323 1607h0M385 806h0M346 1595h0M335 1603h0M349 1535h0M380 831h0M320 1595h0M360 1377h0M336 1586h0M330 1597h0M382 889h0M349 1557h0M320 1607h0M334 1590h0M404 637h0M358 1505h0M320 1600h0M373 1182h0M362 1351h0M390 610h0M394 463h0M370 1239h0M367 1264h0M323 1608h0M324 1599h0M379 1078h0M332 1575h0M391 738h0M389 672h0M356 1473h0M325 1602h0M346 1574h0M379 1043h0M397 484h0M394 569h0M383 798h0M385 786h0M341 1587h0M357 1522h0M380 974h0M340 1576h0M351 1496h0M363 1418h0M330 1608h0M378 974h0M351 1552h0M388 778h0M396 701h0M346 1565h0M366 1383h0M355 1504h0M320 1605h0M392 557h0M383 997h0M354 1487h0M392 551h0M333 1589h0M378 1076h0M363 1408h0M357 1516h0M336 1600h0M381 811h0M362 1378h0M369 1213h0M334 1596h0M355 1521h0M347 1582h0M337 1603h0M386 646h0M334 1593h0M376 1144h0M357 1530h0M328 1595h0M384 773h0M388 841h0M382 826h0M384 1065h0M346 1560h0M396 656h0M336 1589h0M397 558h0M339 1595h0M383 793h0M396 641h0M365 1275h0M383 784h0M368 1296h0M351 1568h0M382 765h0M399 704h0M398 546h0M375 1056h0M374 1165h0M340 1607h0M388 753h0M372 1157h0M323 1608h0M395 594h0M378 1028h0M380 964h0M326 1598h0M332 1582h0M389 666h0M346 1567h0M385 818h0M334 1588h0M375 1130h0M380 1020h0M337 1584h0M375 1057h0M350 1498h0M349 1570h0M373 1139h0M378 1088h0M350 1557h0M384 833h0M317 1608h0M368 1226h0M333 1607h0M340 1583h0M363 1293h0M399 652h0M395 526h0M358 1499h0M325 1607h0M389 665h0M361 1416h0M344 1573h0M362 1439h0M381 889h0M365 1281h0M337 1593h0M324 1600h0M323 1608h0M376 1084h0M317 1605h0M321 1602h0M395 480h0M319 1604h0M365 1388h0M394 475h0M335 1587h0M383 570h0M351 1552h0M357 1446h0M343 1557h0M325 1608h0M364 1414h0M375 1120h0M393 390h0M353 1518h0M362 1452h0M326 1604h0M380 969h0M343 1569h0M342 1575h0M386 800h0M401 505h0M328 1599h0M369 1257h0M348 1586h0M398 612h0M383 923h0M373 1216h0M334 1592h0M385 807h0M381 981h0M384 730h0M372 1194h0M339 1604h0M367 1268h0M360 1435h0M348 1578h0M337 1587h0M342 1602h0M395 490h0M378 1011h0M351 1533h0M369 1136h0M373 1081h0M321 1603h0M332 1586h0M334 1582h0M361 1422h0M391 628h0M351 1559h0M362 1401h0M350 1570h0M352 1525h0M336 1608h0M341 1607h0M369 1256h0M371 1201h0M355 1489h0M323 1608h0M400 485h0M358 1486h0M376 1054h0M345 1586h0M362 1408h0M375 1098h0M329 1602h0M386 842h0M355 1496h0M349 1532h0M374 1201h0M394 606h0M343 1568h0M372 1113h0M341 1584h0M321 1603h0M364 1375h0M345 1583h0M321 1605h0M323 1602h0M333 1597h0M360 1430h0M374 1225h0M395 566h0M386 810h0M314 1596h0M351 1539h0M387 563h0M326 1608h0M393 530h0M392 741h0M344 1564h0M389 856h0M325 1607h0M330 1608h0M370 1212h0M354 1499h0M329 1597h0M389 661h0M367 1328h0M349 1546h0M365 1429h0M371 1200h0M368 1308h0M362 1417h0M388 832h0M335 1605h0M331 1601h0M356 1496h0M326 1603h0M383 870h0M390 742h0M392 642h0M349 1548h0M348 1584h0M365 1288h0M398 631h0M329 1608h0M386 626h0M371 1168h0M323 1608h0M390 571h0M388 646h0M366 1400h0M367 1356h0M342 1570h0M362 1420h0M362 1432h0M340 1589h0M327 1594h0M355 1508h0M396 631h0M320 1608h0M330 1608h0M335 1599h0M346 1558h0M378 909h0M355 1514h0M390 616h0M360 1447h0M392 621h0M341 1584h0M341 1597h0M371 1230h0M351 1557h0M399 627h0M316 1598h0M336 1608h0M326 1600h0M394 739h0M340 1581h0M325 1607h0M336 1583h0M350 1534h0M335 1600h0M367 1260h0M325 1606h0M365 1392h0M360 1425h0M341 1590h0M369 1273h0M384 818h0M339 1603h0M320 1606h0M402 465h0M364 1402h0M370 1169h0M371 1164h0M338 1581h0M338 1596h0M367 1343h0M328 1587h0M400 442h0M367 1274h0M370 1229h0M325 1607h0M367 1189h0M329 1607h0M368 1303h0M361 1365h0M320 1607h0M363 1410h0M315 1608h0M360 1411h0M322 1604h0M324 1599h0M377 941h0M387 597h0M378 1074h0M396 461h0M322 1608h0M349 1553h0M365 1382h0M350 1544h0M355 1490h0M324 1607h0M377 1134h0M319 1608h0M327 1595h0M385 794h0M390 710h0M336 1597h0M343 1571h0M389 741h0M354 1534h0M391 607h0M345 1566h0M324 1607h0M400 505h0M400 448h0M389 728h0M400 578h0M352 1515h0M374 1262h0M393 574h0M397 704h0M353 1559h0M339 1592h0M323 1592h0M319 1604h0M362 1328h0M356 1516h0M385 658h0M391 609h0M369 1228h0M352 1536h0M355 1508h0M393 591h0M354 1531h0M376 1029h0M338 1591h0M388 610h0M330 1598h0M329 1597h0M361 1435h0M348 1548h0M334 1598h0M396 481h0M348 1549h0M381 816h0M322 1608h0M335 1587h0M352 1540h0M380 825h0M341 1593h0M360 1441h0M361 1435h0M371 1226h0M388 706h0M335 1605h0M390 774h0M370 1149h0M353 1476h0M388 697h0M385 821h0M322 1602h0M329 1596h0M350 1549h0M400 411h0M382 851h0M364 1410h0M329 1600h0M390 599h0M353 1516h0M401 483h0M392 635h0M326 1606h0M386 736h0M322 1602h0M361 1372h0M368 1371h0M369 1307h0M345 1587h0M359 1423h0M335 1605h0M318 1601h0M387 807h0M365 1378h0M380 1049h0M398 673h0M328 1602h0M349 1535h0M346 1556h0M344 1568h0M377 1134h0M349 1513h0M369 1153h0M391 741h0M397 557h0M387 623h0M363 1351h0M323 1605h0M387 660h0M388 726h0M398 606h0M367 1323h0M400 604h0M396 550h0M372 1108h0M376 1146h0M363 1359h0M381 743h0M387 747h0M371 1027h0M362 1456h0M335 1597h0M402 538h0M395 542h0M362 1363h0M372 1015h0M379 890h0M400 820h0M376 911h0M358 1480h0M376 957h0M374 1002h0M371 1052h0M378 973h0M326 1601h0M371 1164h0M365 1416h0M357 1508h0M336 1607h0M365 1361h0M352 1537h0M390 646h0M356 1516h0M322 1602h0M390 546h0M333 1593h0M379 974h0M386 742h0M323 1607h0M322 1607h0M334 1608h0M362 1414h0M376 1028h0M370 1222h0M321 1607h0M355 1509h0M364 1386h0M395 701h0M384 812h0M326 1606h0M330 1606h0M380 1002h0M319 1607h0M394 608h0M359 1403h0M375 1278h0M377 1049h0M354 1485h0M338 1583h0M373 1172h0M330 1606h0M333 1602h0M327 1608h0M337 1586h0M351 1530h0M380 841h0M376 930h0M374 1105h0M386 757h0M336 1602h0M320 1600h0M332 1594h0M385 711h0M328 1608h0M347 1564h0M395 441h0M377 1213h0M348 1535h0M374 1086h0M382 939h0M382 848h0M374 994h0M382 849h0M328 1608h0M363 1402h0M366 1263h0M338 1589h0M348 1549h0M359 1465h0M332 1599h0M333 1591h0M356 1474h0M320 1608h0M397 650h0M349 1542h0M374 983h0M361 1518h0M336 1582h0M319 1607h0M356 1504h0M370 1237h0M328 1602h0M394 582h0M387 822h0M321 1597h0M357 1510h0M374 1106h0M388 625h0M342 1559h0M380 901h0M351 1538h0M321 1597h0M373 1050h0M363 1359h0M344 1584h0M361 1369h0M1731 336h0M1743 538h0M1734 498h0M1734 428h0M1732 363h0M1728 197h0M1704 304h0M1711 461h0M1704 370h0M1721 465h0M1748 524h0M1732 451h0M1714 342h0M1705 481h0M1745 273h0M1718 254h0M1743 307h0M1725 308h0M1721 369h0M1740 434h0M1731 221h0M1741 508h0M1697 367h0M1744 243h0M1700 272h0M1709 279h0M1698 314h0M1727 199h0M1742 411h0M1708 469h0M1722 480h0M1708 469h0M1739 372h0M1704 457h0M1711 450h0M1710 483h0M1713 332h0M1710 297h0M1720 264h0M1712 391h0M1732 516h0M1697 390h0M1745 351h0M1722 353h0M1816 1608h0M1749 710h0M1818 1607h0M1754 609h0M1752 709h0M1792 1562h0M1784 1458h0M1743 607h0M1752 767h0M1769 1118h0M1787 1501h0M1816 1608h0M1796 1583h0M1800 1581h0M1803 1607h0M1779 1364h0M1769 1246h0M1775 1339h0M1821 1606h0M1782 1428h0M1803 1581h0M1808 1601h0M1769 1115h0M1751 667h0M1743 693h0M1808 1599h0M1757 778h0M1763 1082h0M1796 1584h0M1803 1597h0M1764 1042h0M1751 607h0M1770 1202h0M1815 1597h0M1772 1148h0M1764 1062h0M1802 1586h0M1805 1598h0M1750 510h0M1800 1597h0M1802 1588h0M1782 1376h0M1764 1052h0M1791 1554h0M1762 925h0M1777 1316h0M1785 1517h0M1808 1593h0M1774 1343h0M1788 1529h0M1757 895h0M1756 767h0M1807 1588h0M1801 1592h0M1783 1457h0M1787 1541h0M1774 1325h0M1775 1374h0M1755 667h0M1743 385h0M1754 826h0M1788 1517h0M1799 1584h0M1749 667h0M1791 1526h0M1770 1185h0M1791 1544h0M1785 1509h0M1755 830h0M1819 1605h0M1802 1591h0M1774 1380h0M1800 1590h0M1815 1607h0M1799 1575h0M1805 1588h0M1743 598h0M1761 1028h0M1788 1545h0M1800 1583h0M1783 1468h0M1804 1608h0M1793 1557h0M1770 1237h0M1817 1603h0M1780 1429h0M1749 542h0M1777 1296h0M1744 581h0M1789 1545h0M1753 698h0M1742 678h0M1789 1521h0M1766 1037h0M1792 1578h0M1740 572h0M1758 894h0M1809 1597h0M1744 505h0M1800 1599h0M1802 1587h0M1816 1589h0M1820 1608h0M1741 570h0M1778 1372h0M1806 1588h0M1755 803h0M1749 685h0M1795 1501h0M1795 1583h0M1814 1607h0M1766 1164h0M1798 1585h0M1800 1586h0M1771 1175h0M1779 1417h0M1814 1608h0M1752 773h0M1754 786h0M1779 1473h0M1780 1460h0M1738 501h0M1795 1579h0M1743 653h0M1754 568h0M1743 532h0M1754 692h0M1751 676h0M1762 1020h0M1789 1501h0M1755 854h0M1814 1606h0M1814 1603h0M1765 958h0M1743 439h0M1789 1522h0M1793 1575h0M1749 591h0M1763 943h0M1788 1535h0M1764 1126h0M1820 1608h0M1810 1600h0M1786 1540h0M1826 1608h0M1749 608h0M1826 1606h0M1755 635h0M1750 652h0M1797 1575h0M1752 811h0M1786 1528h0M1793 1556h0M1809 1604h0M1810 1599h0M1743 432h0M1800 1584h0M1778 1384h0M1776 1390h0M1745 482h0M1793 1565h0M1749 599h0M1740 500h0M1812 1606h0M1806 1597h0M1786 1527h0M1749 554h0M1808 1608h0M1741 494h0M1786 1491h0M1789 1549h0M1758 817h0M1806 1593h0M1789 1525h0M1811 1600h0M1753 884h0M1796 1583h0M1763 956h0M1739 501h0M1754 816h0M1756 867h0M1767 1040h0M1787 1510h0M1799 1581h0M1809 1605h0M1751 604h0M1781 1375h0M1803 1603h0M1805 1601h0M1798 1576h0M1761 790h0M1794 1553h0M1798 1582h0M1790 1531h0M1793 1565h0M1803 1591h0M1794 1566h0M1819 1596h0M1792 1570h0M1775 1429h0M1765 1007h0M1800 1588h0M1754 761h0M1787 1478h0M1819 1600h0M1777 1436h0M1788 1543h0M1811 1605h0M1781 1423h0M1755 837h0M1756 869h0M1779 1402h0M1807 1595h0M1760 892h0M1819 1607h0M1803 1589h0M1812 1606h0M1817 1608h0M1749 584h0M1769 1126h0M1747 583h0M1811 1607h0M1764 1047h0M1791 1559h0M1817 1602h0M1814 1598h0M1743 690h0M1817 1596h0M1804 1607h0M1751 636h0M1756 735h0M1740 571h0M1813 1599h0M1748 556h0M1802 1590h0M1821 1604h0M1817 1608h0M1797 1558h0M1776 1446h0M1754 726h0M1812 1608h0M1814 1602h0M1773 1288h0M1786 1505h0M1817 1608h0M1773 1208h0M1817 1597h0M1801 1585h0M1769 1252h0M1754 748h0M1813 1608h0M1745 600h0M1771 1268h0M1785 1482h0M1770 1274h0M1768 1081h0M1789 1544h0M1804 1592h0M1804 1589h0M1770 1273h0M1760 1013h0M1763 1057h0M1761 918h0M1816 1608h0M1819 1608h0M1806 1591h0M1815 1603h0M1786 1504h0M1766 1225h0M1773 1079h0M1781 1444h0M1797 1595h0M1777 1344h0M1784 1504h0M1762 953h0M1821 1597h0M1754 780h0M1776 1349h0M1793 1568h0M1813 1591h0M1741 469h0M1778 1364h0M1785 1497h0M1813 1606h0M1770 1225h0M1761 1003h0M1808 1595h0M1771 1247h0M1804 1601h0M1760 908h0M1758 915h0M1804 1597h0M1820 1604h0M1804 1579h0M1778 1390h0M1743 391h0M1759 789h0M1820 1607h0M1807 1606h0M1765 1044h0M1785 1501h0M1801 1603h0M1764 1047h0M1755 924h0M1768 1014h0M1796 1569h0M1764 928h0M1780 1390h0M1767 1045h0M1769 1189h0M1750 593h0M1805 1596h0M1817 1603h0M1785 1506h0M1789 1559h0M1789 1522h0M1780 1428h0M1811 1599h0M1781 1393h0M1760 860h0M1769 1182h0M1774 1290h0M1755 700h0M1816 1606h0M1759 819h0M1760 800h0M1756 769h0M1765 1141h0M1764 1087h0M1765 1061h0M1743 653h0M1807 1595h0M1780 1434h0M1795 1572h0M1776 1277h0M1752 544h0M1772 1244h0M1765 1104h0M1747 566h0M1751 723h0M1806 1599h0M1776 1368h0M1765 971h0M1743 494h0M1763 955h0M1794 1551h0M1759 815h0M1813 1598h0M1796 1575h0M1751 535h0M1754 660h0M1779 1475h0M1801 1587h0M1782 1469h0M1821 1607h0M1763 1001h0M1760 846h0M1811 1599h0M1763 1058h0M1777 1414h0M1786 1501h0M1803 1594h0M1813 1597h0M1768 1179h0M1751 779h0M1813 1585h0M1798 1581h0M1799 1577h0M1740 720h0M1780 1403h0M1784 1472h0M1807 1591h0M1812 1597h0M1758 719h0M1784 1493h0M1751 712h0M1820 1600h0M1770 1279h0M1757 821h0M1807 1595h0M1815 1603h0M1802 1581h0M1759 812h0M1765 906h0M1782 1433h0M1802 1587h0M1818 1601h0M1761 983h0M1784 1507h0M1743 696h0M1747 598h0M1760 773h0M1778 1490h0M1803 1583h0M1816 1607h0M1823 1602h0M1811 1598h0M1806 1592h0M1818 1607h0M1753 756h0M1810 1598h0M1772 1291h0M1776 1386h0M1817 1599h0M1749 582h0M1805 1593h0M1745 575h0M1823 1607h0M1754 835h0M1810 1608h0M1779 1446h0M1818 1594h0M1818 1608h0M1763 1035h0M1761 961h0M1808 1596h0M1747 572h0M1773 1355h0M1803 1590h0M1769 1180h0M1809 1608h0M1810 1589h0M1742 422h0M1793 1547h0M1808 1589h0M1751 683h0M1763 983h0M1780 1366h0M1822 1606h0M1795 1593h0M1821 1604h0M1753 599h0M1778 1448h0M1745 530h0M1760 902h0M1807 1608h0M1742 487h0M1812 1608h0M1747 542h0M1801 1578h0M1748 518h0M1770 1214h0M1819 1608h0M1787 1501h0M1807 1595h0M1744 594h0M1788 1513h0M1766 1094h0M1803 1595h0M1778 1454h0M1800 1600h0M1759 833h0M1810 1597h0M1752 765h0M1795 1565h0M1788 1500h0M1817 1597h0M1801 1581h0M1776 1427h0M1780 1456h0M1787 1489h0M1811 1608h0M1806 1595h0M1760 910h0M1787 1498h0M1771 1137h0M1764 990h0M1762 887h0M1804 1595h0M1812 1599h0M1769 1225h0M1742 540h0M1791 1560h0M1803 1607h0M1741 398h0M1775 1305h0M1800 1600h0M1757 818h0M1767 1119h0M1805 1600h0M1818 1598h0M1767 959h0M1760 749h0M1775 1347h0M1751 642h0M1771 1189h0M1751 782h0M1821 1605h0M1821 1598h0M1746 766h0M1768 1063h0M1773 1270h0M1765 1052h0M1777 1348h0M1823 1608h0M1787 1512h0M1780 1450h0M1745 507h0M1791 1551h0M1756 893h0M1761 1017h0M1761 989h0M1772 1174h0M1787 1508h0M1749 542h0M1761 984h0M1764 1004h0M1816 1598h0M1767 1104h0M1779 1480h0M1763 848h0M1788 1471h0M1775 1383h0M1759 839h0M1812 1599h0M1807 1603h0M1783 1468h0M1797 1565h0M1755 805h0M1809 1601h0M1792 1562h0M1745 532h0M1804 1600h0M1782 1435h0M1801 1579h0M1809 1607h0M1789 1519h0M1803 1578h0M1749 634h0M1759 1041h0M1771 1332h0M1801 1597h0M1788 1553h0M1772 1257h0M1770 1209h0M1767 1211h0M1817 1599h0M1772 1184h0M1777 1452h0M1753 607h0M1760 878h0M1801 1591h0M1744 577h0M1821 1607h0M1742 661h0M1810 1597h0M1769 1249h0M1759 749h0M1814 1591h0M1814 1607h0M1768 1157h0M1780 1432h0M1746 608h0M1802 1590h0M1766 973h0M1768 1111h0M1742 677h0M1779 1467h0M1818 1603h0M1817 1608h0M1784 1481h0M1821 1608h0M1764 1008h0M1788 1508h0M1806 1602h0M1761 966h0M1769 1165h0M1812 1607h0M1791 1538h0M1826 1604h0M1816 1607h0M1805 1599h0M1821 1605h0M1773 1332h0M1801 1580h0M1775 1271h0M1798 1567h0M1802 1593h0M1791 1532h0M1790 1568h0M1761 846h0M1807 1603h0M1779 1481h0M1792 1536h0M1749 685h0M1771 1173h0M1761 914h0M1815 1608h0M1774 1339h0M1767 927h0M1745 511h0M1751 658h0M1772 1141h0M1806 1601h0M1819 1608h0M1815 1598h0M1792 1536h0M1744 502h0M1750 687h0M1740 477h0M1766 922h0M1810 1604h0M1813 1606h0M1803 1599h0M1749 590h0M1791 1560h0M1784 1493h0M1764 1185h0M1742 480h0M1780 1379h0M1780 1429h0M1783 1450h0M1764 1009h0M1797 1541h0M1782 1443h0M1742 387h0M1820 1600h0M1761 955h0M1757 858h0M1801 1585h0M1792 1551h0M1786 1501h0M1798 1586h0M1821 1607h0M1767 1070h0M1771 1208h0M1765 1003h0M1794 1564h0M1763 955h0M1785 1499h0M1781 1451h0M1762 973h0M1754 1004h0M1790 1524h0M1766 1056h0M1809 1599h0M1748 742h0M1755 761h0M1754 709h0M1783 1455h0M1747 650h0M1790 1547h0M1782 1494h0M1786 1518h0M1765 1018h0M1796 1554h0M1779 1385h0M1809 1607h0M1790 1547h0M1782 1406h0M1761 993h0M1765 1048h0M1819 1604h0M1766 1166h0" stroke-opacity="0.28"/><path d="M433 411h0M417 471h0M436 474h0M393 496h0M433 194h0M394 323h0M393 424h0M406 406h0M417 454h0M437 320h0M429 205h0M399 449h0M432 405h0M417 351h0M399 472h0M408 443h0M398 577h0M420 391h0M442 359h0M422 401h0M403 545h0M396 457h0M421 274h0M441 403h0M430 463h0M433 354h0M411 445h0M400 373h0M420 390h0M403 350h0M405 525h0M404 315h0M437 336h0M405 452h0M406 481h0M410 483h0M411 447h0M402 467h0M424 486h0M399 478h0M412 444h0M398 459h0M441 469h0M394 612h0M401 431h0M400 465h0M411 411h0M423 470h0M443 459h0M402 470h0M440 247h0M397 494h0M426 427h0M325 1607h0M320 1607h0M362 1388h0M376 1096h0M332 1595h0M397 483h0M352 1489h0M336 1601h0M328 1594h0M376 1089h0M348 1547h0M331 1603h0M386 615h0M342 1572h0M350 1566h0M346 1559h0M384 846h0M351 1537h0M371 1173h0M393 735h0M366 1295h0M326 1592h0M375 1062h0M363 1404h0M396 514h0M348 1583h0M390 761h0M381 865h0M341 1574h0M354 1516h0M374 1073h0M325 1607h0M380 868h0M381 900h0M385 756h0M387 632h0M351 1548h0M357 1502h0M342 1588h0M366 1261h0M343 1574h0M393 623h0M387 802h0M334 1603h0M383 859h0M391 580h0M351 1551h0M343 1578h0M357 1513h0M325 1601h0M335 1582h0M364 1299h0M336 1593h0M388 895h0M391 631h0M399 501h0M395 573h0M397 492h0M365 1330h0M398 508h0M351 1551h0M329 1591h0M335 1600h0M376 1118h0M348 1568h0M340 1590h0M386 720h0M333 1594h0M379 990h0M360 1497h0M386 752h0M334 1598h0M369 1178h0M320 1599h0M396 582h0M338 1603h0M348 1542h0M341 1588h0M396 556h0M319 1597h0M366 1347h0M337 1589h0M378 991h0M389 610h0M340 1591h0M353 1527h0M388 864h0M380 847h0M353 1516h0M368 1263h0M360 1470h0M361 1379h0M334 1588h0M371 1136h0M384 801h0M391 608h0M343 1577h0M334 1590h0M327 1603h0M370 1182h0M394 651h0M356 1478h0M385 934h0M342 1600h0M340 1586h0M328 1606h0M378 1033h0M390 738h0M365 1335h0M317 1606h0M354 1534h0M359 1426h0M340 1597h0M342 1605h0M378 937h0M346 1551h0M336 1576h0M375 951h0M384 667h0M389 736h0M355 1491h0M324 1608h0M357 1422h0M332 1608h0M364 1342h0M367 1157h0M327 1600h0M345 1573h0M385 710h0M373 1171h0M366 1214h0M362 1313h0M388 889h0M346 1590h0M368 1321h0M321 1607h0M345 1573h0M347 1567h0M381 904h0M397 583h0M389 557h0M336 1604h0M374 991h0M381 958h0M337 1598h0M336 1582h0M341 1572h0M338 1585h0M384 670h0M365 1335h0M365 1299h0M393 619h0M351 1532h0M335 1596h0M374 1164h0M341 1570h0M357 1503h0M384 955h0M351 1530h0M322 1599h0M331 1600h0M380 1047h0M351 1550h0M361 1444h0M363 1456h0M389 673h0M337 1596h0M320 1599h0M333 1601h0M395 739h0M384 804h0M347 1519h0M360 1402h0M332 1595h0M321 1605h0M349 1545h0M366 1363h0M377 1019h0M322 1607h0M354 1525h0M373 1097h0M324 1608h0M336 1585h0M326 1599h0M340 1585h0M395 745h0M368 1202h0M362 1435h0M361 1428h0M342 1597h0M337 1596h0M377 1015h0M342 1569h0M394 629h0M386 726h0M378 935h0M353 1489h0M340 1591h0M385 859h0M366 1223h0M372 1151h0M396 659h0M368 1279h0M394 618h0M323 1603h0M389 843h0M323 1606h0M349 1573h0M383 838h0M333 1605h0M345 1562h0M354 1536h0M320 1594h0M364 1337h0M331 1592h0M386 699h0M362 1395h0M348 1566h0M354 1506h0M370 1259h0M357 1459h0M328 1599h0M337 1583h0M389 645h0M345 1553h0M353 1525h0M368 1294h0M337 1588h0M378 933h0M369 1163h0M318 1608h0M336 1605h0M393 693h0M363 1438h0M338 1593h0M350 1535h0M329 1576h0M323 1605h0M401 398h0M360 1407h0M355 1521h0M338 1585h0M321 1606h0M327 1604h0M338 1590h0M346 1536h0M369 1233h0M328 1606h0M371 1115h0M344 1583h0M359 1508h0M368 1308h0M342 1589h0M377 1052h0M353 1513h0M363 1409h0M333 1603h0M369 1215h0M389 788h0M359 1455h0M387 813h0M349 1549h0M367 1194h0M366 1344h0M333 1607h0M376 1165h0M319 1602h0M389 750h0M318 1607h0M351 1547h0M386 834h0M365 1373h0M335 1599h0M382 822h0M355 1473h0M377 957h0M391 490h0M370 1281h0M353 1508h0M330 1608h0M395 524h0M365 1345h0M328 1593h0M383 744h0M398 476h0M394 594h0M335 1607h0M367 1380h0M354 1504h0M350 1581h0M321 1608h0M368 1223h0M367 1299h0M339 1584h0M373 1205h0M353 1525h0M374 1068h0M337 1600h0M369 1130h0M381 836h0M388 673h0M397 555h0M374 1085h0M354 1525h0M390 720h0M357 1471h0M370 1255h0M352 1543h0M337 1583h0M342 1571h0M343 1567h0M390 669h0M325 1608h0M359 1396h0M394 507h0M345 1595h0M371 1168h0M391 541h0M322 1602h0M322 1604h0M348 1530h0M364 1404h0M365 1355h0M339 1590h0M371 1185h0M332 1608h0M323 1608h0M350 1545h0M316 1601h0M379 1043h0M374 1144h0M401 715h0M387 755h0M367 1292h0M394 540h0M334 1600h0M367 1324h0M363 1265h0M322 1608h0M325 1607h0M330 1595h0M373 1167h0M398 487h0M345 1572h0M347 1553h0M367 1268h0M325 1603h0M379 825h0M344 1577h0M402 509h0M386 817h0M332 1604h0M321 1602h0M348 1559h0M353 1488h0M396 564h0M376 1064h0M361 1460h0M400 681h0M373 1233h0M369 1269h0M373 1056h0M393 782h0M355 1471h0M338 1602h0M327 1602h0M363 1398h0M370 1297h0M336 1607h0M375 1164h0M339 1581h0M380 784h0M396 628h0M380 916h0M367 1288h0M382 1022h0M338 1582h0M359 1488h0M343 1590h0M377 1000h0M397 459h0M377 1028h0M387 713h0M342 1588h0M325 1603h0M364 1395h0M344 1580h0M377 1056h0M337 1587h0M387 730h0M400 506h0M332 1585h0M353 1507h0M360 1427h0M322 1593h0M388 693h0M319 1607h0M328 1608h0M394 427h0M339 1603h0M375 1179h0M335 1595h0M366 1272h0M371 1225h0M393 525h0M386 762h0M333 1608h0M334 1592h0M381 886h0M340 1578h0M372 1086h0M386 606h0M368 1278h0M335 1591h0M388 523h0M325 1607h0M350 1528h0M350 1539h0M337 1607h0M325 1607h0M342 1583h0M320 1599h0M369 1333h0M394 593h0M395 567h0M335 1599h0M362 1459h0M359 1427h0M357 1472h0M346 1572h0M371 1121h0M355 1515h0M376 1020h0M384 840h0M338 1600h0M374 1244h0M388 752h0M380 807h0M348 1566h0M349 1568h0M347 1571h0M371 1274h0M367 1347h0M378 1106h0M389 784h0M383 990h0M368 1285h0M400 602h0M389 562h0M376 1084h0M330 1602h0M334 1590h0M352 1534h0M348 1555h0M337 1598h0M388 808h0M387 627h0M395 645h0M365 1287h0M351 1533h0M372 1152h0M386 855h0M336 1608h0M392 538h0M393 522h0M386 678h0M324 1599h0M352 1571h0M379 1084h0M372 1267h0M350 1550h0M366 1319h0M318 1607h0M341 1573h0M352 1540h0M392 536h0M326 1598h0M325 1602h0M360 1491h0M343 1588h0M385 617h0M368 1178h0M363 1355h0M386 566h0M390 625h0M318 1602h0M339 1581h0M373 1093h0M374 1009h0M375 1089h0M369 1236h0M345 1596h0M354 1543h0M391 724h0M388 638h0M340 1566h0M387 701h0M321 1603h0M368 1226h0M380 815h0M377 864h0M357 1452h0M389 818h0M321 1599h0M355 1452h0M380 920h0M343 1555h0M350 1518h0M330 1603h0M377 952h0M375 1116h0M322 1607h0M352 1554h0M380 908h0M341 1600h0M366 1260h0M389 696h0M325 1608h0M355 1503h0M360 1337h0M343 1577h0M400 566h0M358 1342h0M375 1005h0M358 1496h0M395 620h0M332 1604h0M395 610h0M346 1567h0M390 728h0M375 1018h0M391 675h0M399 388h0M386 761h0M335 1608h0M369 1250h0M358 1489h0M338 1596h0M322 1608h0M322 1594h0M343 1587h0M391 705h0M324 1608h0M400 693h0M345 1566h0M371 1208h0M329 1601h0M345 1578h0M346 1557h0M348 1578h0M349 1541h0M367 1114h0M388 768h0M336 1605h0M318 1605h0M335 1603h0M331 1605h0M354 1461h0M399 551h0M395 606h0M397 612h0M382 922h0M394 474h0M402 564h0M386 857h0M359 1445h0M359 1417h0M371 1193h0M368 1271h0M372 1161h0M363 1429h0M360 1410h0M380 905h0M370 1187h0M365 1417h0M348 1552h0M331 1588h0M367 1391h0M346 1579h0M391 545h0M355 1530h0M349 1583h0M332 1588h0M321 1596h0M328 1597h0M333 1604h0M394 672h0M359 1476h0M344 1571h0M377 1007h0M368 1188h0M332 1606h0M369 1275h0M318 1601h0M364 1379h0M332 1603h0M375 993h0M396 579h0M363 1387h0M317 1606h0M378 875h0M366 1301h0M374 1107h0M389 624h0M345 1567h0M332 1601h0M364 1359h0M340 1581h0M338 1599h0M353 1491h0M328 1601h0M333 1589h0M342 1570h0M337 1578h0M387 790h0M322 1596h0M352 1506h0M371 1258h0M326 1607h0M338 1598h0M343 1587h0M386 846h0M373 1088h0M404 564h0M355 1526h0M368 1321h0M337 1580h0M367 1316h0M320 1605h0M341 1579h0M348 1561h0M368 1359h0M326 1607h0M325 1607h0M380 776h0M354 1518h0M333 1591h0M325 1608h0M375 1038h0M324 1592h0M354 1529h0M319 1608h0M375 1131h0M321 1607h0M332 1590h0M339 1599h0M346 1589h0M335 1588h0M389 664h0M385 821h0M387 658h0M389 506h0M335 1604h0M395 524h0M361 1421h0M365 1387h0M385 670h0M397 535h0M332 1608h0M337 1607h0M370 1267h0M324 1604h0M379 1006h0M375 1104h0M354 1541h0M374 1132h0M334 1591h0M395 492h0M384 822h0M341 1596h0M354 1516h0M330 1601h0M326 1604h0M395 692h0M399 671h0M394 552h0M347 1548h0M374 1022h0M324 1606h0M342 1591h0M394 749h0M356 1485h0M327 1608h0M330 1591h0M392 658h0M366 1325h0M353 1532h0M394 637h0M347 1531h0M402 674h0M1714 429h0M1700 408h0M1742 341h0M1747 559h0M1729 327h0M1740 313h0M1701 437h0M1703 296h0M1736 419h0M1740 495h0M1735 467h0M1737 508h0M1711 447h0M1716 407h0M1747 622h0M1727 442h0M1745 327h0M1723 394h0M1699 454h0M1738 294h0M1725 311h0M1706 413h0M1739 294h0M1707 435h0M1705 308h0M1721 476h0M1700 357h0M1714 376h0M1731 417h0M1746 463h0M1725 397h0M1745 436h0M1745 427h0M1738 286h0M1726 482h0M1701 422h0M1741 277h0M1736 431h0M1744 365h0M1713 370h0M1735 413h0M1722 451h0M1714 455h0M1721 369h0M1769 1262h0M1815 1606h0M1765 1089h0M1767 981h0M1807 1607h0M1815 1602h0M1819 1606h0M1779 1416h0M1794 1585h0M1761 881h0M1754 760h0M1753 795h0M1771 1193h0M1777 1396h0M1750 609h0M1801 1565h0M1808 1592h0M1816 1600h0M1787 1543h0M1785 1420h0M1800 1568h0M1819 1607h0M1788 1535h0M1817 1608h0M1759 919h0M1759 895h0M1785 1517h0M1775 1410h0M1775 1388h0M1801 1598h0M1799 1575h0M1774 1340h0M1761 1058h0M1765 1042h0M1822 1604h0M1744 696h0M1801 1576h0M1802 1603h0M1747 687h0M1801 1577h0M1786 1553h0M1769 1265h0M1765 977h0M1792 1544h0M1759 782h0M1747 603h0M1752 599h0M1776 1365h0M1765 1005h0M1769 1200h0M1748 608h0M1744 673h0M1795 1568h0M1793 1524h0M1758 895h0M1780 1411h0M1792 1571h0M1812 1605h0M1744 455h0M1757 984h0M1778 1388h0M1804 1598h0M1761 890h0M1779 1436h0M1812 1605h0M1757 711h0M1757 945h0M1754 751h0M1815 1604h0M1790 1551h0M1785 1526h0M1774 1266h0M1751 753h0M1758 869h0M1820 1591h0M1777 1340h0M1790 1557h0M1802 1597h0M1792 1552h0M1809 1598h0M1754 545h0M1766 1127h0M1799 1587h0M1795 1581h0M1762 965h0M1756 694h0M1780 1480h0M1796 1556h0M1802 1602h0M1819 1607h0M1772 1250h0M1820 1596h0M1795 1572h0M1761 864h0M1784 1455h0M1795 1568h0M1785 1499h0M1787 1538h0M1775 1261h0M1823 1602h0M1781 1519h0M1754 530h0M1769 1224h0M1769 1251h0M1776 1341h0M1773 1346h0M1797 1591h0M1782 1441h0M1776 1321h0M1819 1608h0M1789 1528h0M1801 1569h0M1769 1144h0M1743 598h0M1781 1476h0M1745 569h0M1803 1608h0M1796 1590h0M1740 620h0M1778 1401h0M1803 1590h0M1756 914h0M1790 1568h0M1815 1588h0M1796 1573h0M1787 1494h0M1768 1076h0M1814 1597h0M1754 735h0M1782 1500h0M1777 1308h0M1811 1606h0M1818 1607h0M1777 1432h0M1764 1065h0M1800 1579h0M1797 1568h0M1790 1571h0M1776 1415h0M1784 1529h0M1756 654h0M1791 1550h0M1819 1608h0M1767 1131h0M1820 1607h0M1745 591h0M1755 857h0M1815 1608h0M1760 986h0M1762 875h0M1786 1517h0M1747 578h0M1757 943h0M1820 1605h0M1784 1471h0M1810 1607h0M1788 1524h0M1766 1016h0M1744 380h0M1806 1592h0M1747 628h0M1780 1409h0M1762 941h0M1744 514h0M1777 1360h0M1788 1521h0M1775 1388h0M1744 350h0M1742 473h0M1812 1598h0M1818 1602h0M1737 483h0M1800 1576h0M1748 629h0M1782 1482h0M1746 636h0M1809 1605h0M1755 821h0M1770 1236h0M1795 1531h0M1810 1608h0M1785 1488h0M1757 706h0M1788 1517h0M1766 1171h0M1820 1606h0M1775 1361h0M1813 1596h0M1795 1560h0M1773 1336h0M1748 539h0M1815 1606h0M1743 424h0M1788 1529h0M1809 1578h0M1760 775h0M1789 1520h0M1792 1549h0M1777 1409h0M1814 1603h0M1773 1163h0M1750 699h0M1764 1112h0M1772 1325h0M1799 1584h0M1797 1563h0M1793 1556h0M1822 1597h0M1739 585h0M1798 1593h0M1797 1575h0M1766 973h0M1789 1551h0M1765 1070h0M1768 1182h0M1802 1589h0M1758 919h0M1783 1471h0M1744 535h0M1771 1251h0M1763 1153h0M1772 1305h0M1746 472h0M1812 1608h0M1785 1513h0M1758 804h0M1775 1315h0M1747 526h0M1808 1593h0M1774 1319h0M1766 1088h0M1771 1325h0M1791 1570h0M1783 1483h0M1795 1557h0M1817 1606h0M1825 1606h0M1784 1489h0M1784 1444h0M1775 1336h0M1783 1449h0M1771 1268h0M1819 1603h0M1777 1352h0M1809 1595h0M1772 1080h0M1750 670h0M1807 1594h0M1814 1591h0M1800 1579h0M1768 1174h0M1811 1600h0M1752 569h0M1806 1600h0M1780 1408h0M1758 709h0M1744 548h0M1813 1608h0M1797 1571h0M1752 861h0M1807 1591h0M1799 1576h0M1769 1323h0M1815 1607h0M1789 1564h0M1759 800h0M1773 1273h0M1769 1147h0M1810 1600h0M1819 1608h0M1777 1326h0M1801 1599h0M1762 1002h0M1817 1608h0M1777 1417h0M1797 1565h0M1788 1531h0M1790 1547h0M1806 1599h0M1761 907h0M1785 1489h0M1757 905h0M1793 1550h0M1754 954h0M1814 1606h0M1750 649h0M1755 699h0M1770 1253h0M1769 1221h0M1749 739h0M1796 1567h0M1824 1602h0M1760 833h0M1782 1458h0M1786 1447h0M1814 1606h0M1748 535h0M1750 621h0M1779 1420h0M1752 767h0M1746 651h0M1812 1607h0M1817 1600h0M1782 1478h0M1812 1608h0M1752 795h0M1764 939h0M1779 1328h0M1752 707h0M1758 703h0M1777 1412h0M1819 1608h0M1767 1195h0M1799 1580h0M1760 1075h0M1787 1514h0M1764 1148h0M1807 1595h0M1754 732h0M1818 1607h0M1776 1395h0M1795 1589h0M1807 1599h0M1800 1597h0M1818 1599h0M1750 639h0M1794 1575h0M1819 1601h0M1766 1172h0M1787 1476h0M1747 579h0M1811 1597h0M1744 506h0M1808 1606h0M1823 1608h0M1798 1580h0M1742 594h0M1810 1608h0M1795 1570h0M1738 402h0M1799 1586h0M1791 1566h0M1765 1143h0M1767 1125h0M1805 1592h0M1750 623h0M1802 1589h0M1816 1596h0M1796 1578h0M1793 1544h0M1764 1018h0M1775 1267h0M1793 1557h0M1739 509h0M1739 568h0M1742 595h0M1759 891h0M1801 1603h0M1784 1518h0M1785 1477h0M1805 1601h0M1755 724h0M1786 1511h0M1811 1605h0M1777 1417h0M1791 1538h0M1760 925h0M1763 782h0M1808 1586h0M1781 1479h0M1742 671h0M1746 526h0M1749 632h0M1748 569h0M1788 1492h0M1747 434h0M1798 1560h0M1785 1452h0M1805 1607h0M1778 1355h0M1786 1495h0M1818 1602h0M1793 1546h0M1776 1442h0M1745 548h0M1770 1225h0M1755 782h0M1763 1070h0M1770 1214h0M1764 1107h0M1789 1558h0M1777 1351h0M1815 1608h0M1745 615h0M1793 1573h0M1775 1311h0M1775 1340h0M1780 1406h0M1772 1206h0M1808 1602h0M1756 744h0M1768 1194h0M1787 1547h0M1774 1312h0M1804 1595h0M1767 1072h0M1750 693h0M1815 1608h0M1763 912h0M1767 1086h0M1759 744h0M1808 1608h0M1796 1556h0M1769 1180h0M1785 1501h0M1812 1604h0M1749 480h0M1818 1608h0M1806 1593h0M1788 1515h0M1786 1509h0M1804 1600h0M1791 1553h0M1793 1548h0M1772 1366h0M1743 536h0M1809 1599h0M1779 1453h0M1794 1534h0M1812 1583h0M1818 1608h0M1747 653h0M1765 1043h0M1816 1601h0M1796 1560h0M1798 1584h0M1767 999h0M1745 658h0M1775 1363h0M1817 1597h0M1818 1592h0M1823 1606h0M1749 702h0M1787 1519h0M1758 882h0M1802 1577h0M1751 710h0M1788 1526h0M1780 1488h0M1803 1592h0M1777 1374h0M1757 669h0M1814 1608h0M1766 994h0M1805 1591h0M1765 928h0M1755 805h0M1788 1535h0M1815 1596h0M1821 1608h0M1746 603h0M1739 536h0M1817 1607h0M1806 1597h0M1814 1584h0M1758 929h0M1802 1574h0M1791 1558h0M1743 494h0M1788 1553h0M1781 1422h0M1745 501h0M1812 1593h0M1770 1128h0M1777 1264h0M1779 1334h0M1815 1608h0M1795 1559h0M1792 1565h0M1744 553h0M1796 1563h0M1758 875h0M1754 635h0M1779 1458h0M1806 1597h0M1749 649h0M1762 931h0M1773 1197h0M1793 1539h0M1819 1603h0M1801 1588h0M1790 1521h0M1743 411h0M1774 1290h0M1773 1291h0M1788 1521h0M1759 1025h0M1773 1142h0M1759 877h0M1762 913h0M1755 860h0M1792 1552h0M1746 420h0M1750 539h0M1774 1364h0M1785 1495h0M1745 537h0M1745 526h0M1754 793h0M1777 1385h0M1799 1571h0M1780 1357h0M1755 674h0M1758 748h0M1791 1590h0M1777 1425h0M1743 406h0M1762 880h0M1801 1581h0M1769 1177h0M1759 909h0M1753 818h0M1784 1492h0M1762 1019h0M1819 1608h0M1792 1552h0M1791 1557h0M1799 1572h0M1797 1587h0M1819 1608h0M1801 1586h0M1800 1590h0M1818 1601h0M1796 1608h0M1746 502h0M1750 628h0M1792 1557h0M1805 1599h0M1806 1602h0M1821 1607h0M1777 1338h0M1744 675h0M1808 1603h0M1813 1596h0M1813 1597h0M1818 1607h0M1816 1604h0M1813 1607h0M1813 1597h0M1817 1605h0M1761 783h0M1753 693h0M1761 928h0M1804 1602h0M1797 1588h0M1812 1596h0M1759 982h0M1769 1304h0M1745 454h0M1786 1518h0M1761 1090h0M1822 1593h0M1777 1320h0M1753 800h0M1749 636h0M1755 776h0M1752 781h0M1811 1605h0M1778 1438h0M1812 1604h0M1780 1404h0M1744 470h0M1807 1586h0M1752 681h0M1781 1505h0M1797 1570h0M1740 528h0M1772 1200h0M1781 1462h0M1818 1608h0M1784 1490h0M1823 1607h0M1759 963h0M1755 793h0M1747 533h0M1805 1603h0M1767 1189h0M1775 1322h0M1811 1607h0M1821 1608h0M1751 752h0M1775 1372h0M1742 597h0M1810 1608h0M1775 1353h0M1782 1453h0M1818 1598h0M1797 1579h0M1747 629h0M1822 1599h0M1812 1579h0M1767 1146h0M1792 1560h0M1784 1451h0M1801 1590h0M1803 1602h0M1774 1310h0M1786 1526h0M1760 846h0M1821 1605h0M1753 761h0M1780 1402h0M1791 1562h0M1782 1519h0M1809 1601h0M1799 1589h0M1762 864h0M1750 867h0M1770 1261h0M1770 1183h0M1761 755h0M1777 1301h0M1806 1584h0M1795 1565h0M1763 942h0M1753 802h0M1746 574h0M1756 784h0M1779 1409h0M1743 571h0M1745 657h0M1804 1586h0M1768 1229h0M1810 1579h0M1751 728h0M1814 1603h0M1785 1490h0M1805 1603h0M1766 1171h0M1758 743h0M1772 1319h0M1797 1579h0M1786 1512h0M1748 690h0M1781 1469h0M1774 1206h0M1818 1601h0M1793 1552h0M1751 513h0M1789 1513h0M1767 1191h0M1774 1329h0M1808 1603h0M1759 869h0M1786 1532h0M1809 1580h0M1757 1018h0M1764 1052h0M1744 485h0M1742 474h0M1744 487h0M1815 1587h0M1765 985h0M1772 1211h0M1764 952h0" stroke-opacity="0.4"/></g>
<path d="M176.1,768 175.9,768.5 175.7,769 175.5,769.5 175.3,770 175,770.5 174.8,771 174.6,771.5 174.4,772 174.2,772.5 174,773 173.7,773.5 173.5,774 173.3,774.5 173.1,775 172.8,775.5 172.6,776 172.4,776.5 172.2,777 171.9,777.5 171.7,778 171.5,778.5 171.2,779 171,779.5 170.7,780 170.5,780.5 170.2,781 170,781.5 169.8,782 169.5,782.5 169.2,783 169,783.5 168.7,784 168.5,784.5 168.2,785 167.9,785.5 167.7,786 167.4,786.5 167.1,787 166.8,787.5 166.6,788 166.3,788.5 166,789 165.7,789.5 165.4,790 165.1,790.5 164.8,791 164.5,791.5 164.2,792 163.9,792.5 163.5,793 163.2,793.5 162.9,794 162.5,794.5 162.2,795 161.8,795.5 161.5,796 161.1,796.5 160.7,797 160.3,797.5 159.9,798 159.5,798.5 159,799 158.6,799.5 158.1,800 157.6,800.5 157.1,801 156.5,801.5 155.9,802 155.3,802.5 154.5,803 153.7,803.5 152.5,804 151.5,804.2 151.5,804.2 161.5,804 164.3,803.5 165.6,803 166.5,802.5 167.2,802 167.7,801.5 168.2,801 168.6,800.5 168.9,800 169.3,799.5 169.5,799 169.8,798.5 170.1,798 170.3,797.5 170.5,797 170.7,796.5 170.9,796 171.1,795.5 171.3,795 171.4,794.5 171.6,794 171.8,793.5 171.9,793 172,792.5 172.2,792 172.3,791.5 172.4,791 172.6,790.5 172.7,790 172.8,789.5 172.9,789 173,788.5 173.1,788 173.2,787.5 173.3,787 173.4,786.5 173.5,786 173.6,785.5 173.7,785 173.8,784.5 173.9,784 174,783.5 174.1,783 174.2,782.5 174.2,782 174.3,781.5 174.4,781 174.5,780.5 174.6,780 174.6,779.5 174.7,779 174.8,778.5 174.9,778 174.9,777.5 175,777 175.1,776.5 175.1,776 175.2,775.5 175.3,775 175.3,774.5 175.4,774 175.5,773.5 175.5,773 175.6,772.5 175.6,772 175.7,771.5 175.8,771 175.8,770.5 175.9,770 175.9,769.5 176,769 176,768.5 176.1,768ZM894.2,768 894.4,768.5 894.6,769 894.8,769.5 895,770 895.3,770.5 895.5,771 895.7,771.5 895.9,772 896.1,772.5 896.3,773 896.6,773.5 896.8,774 897,774.5 897.2,775 897.5,775.5 897.7,776 897.9,776.5 898.1,777 898.4,777.5 898.6,778 898.8,778.5 899.1,779 899.3,779.5 899.6,780 899.8,780.5 900.1,781 900.3,781.5 900.5,782 900.8,782.5 901.1,783 901.3,783.5 901.6,784 901.8,784.5 902.1,785 902.4,785.5 902.6,786 902.9,786.5 903.2,787 903.5,787.5 903.7,788 904,788.5 904.3,789 904.6,789.5 904.9,790 905.2,790.5 905.5,791 905.8,791.5 906.1,792 906.4,792.5 906.8,793 907.1,793.5 907.4,794 907.8,794.5 908.1,795 908.5,795.5 908.8,796 909.2,796.5 909.6,797 910,797.5 910.4,798 910.8,798.5 911.3,799 911.7,799.5 912.2,800 912.7,800.5 913.2,801 913.8,801.5 914.4,802 915,802.5 915.8,803 916.6,803.5 917.8,804 918.8,804.2 918.8,804.2 908.8,804 906,803.5 904.7,803 903.8,802.5 903.1,802 902.6,801.5 902.1,801 901.7,800.5 901.4,800 901,799.5 900.8,799 900.5,798.5 900.2,798 900,797.5 899.8,797 899.6,796.5 899.4,796 899.2,795.5 899,795 898.9,794.5 898.7,794 898.5,793.5 898.4,793 898.3,792.5 898.1,792 898,791.5 897.9,791 897.7,790.5 897.6,790 897.5,789.5 897.4,789 897.3,788.5 897.2,788 897.1,787.5 897,787 896.9,786.5 896.8,786 896.7,785.5 896.6,785 896.5,784.5 896.4,784 896.3,783.5 896.2,783 896.1,782.5 896.1,782 896,781.5 895.9,781 895.8,780.5 895.7,780 895.7,779.5 895.6,779 895.5,778.5 895.4,778 895.4,777.5 895.3,777 895.2,776.5 895.2,776 895.1,775.5 895,775 895,774.5 894.9,774 894.8,773.5 894.8,773 894.7,772.5 894.7,772 894.6,771.5 894.5,771 894.5,770.5 894.4,770 894.4,769.5 894.3,769 894.3,768.5 894.2,768Z" fill="#f00"/>
<path d="M151.5,804.2 L152.8,804.2 L154.1,804.2 L155.3,804.2 L156.6,804.2 L157.9,804.2 L159.2,804.1 L160.5,804.1 L161.7,804 L163,803.8 L164.3,803.5 L165.6,803 L166.8,802.3 L168.1,801.1 L169.4,799.3 L170.7,796.6 L172,792.8 L173.2,787.5 L174.5,780.3 L175.8,770.8 L177.1,758.4 L178.4,742.9 L179.6,723.9 L180.9,701.3 L182.2,675 L183.5,645.3 L184.7,612.5 L186,577.3 L187.3,540.4 L188.6,502.9 L189.9,465.7 L191.1,429.8 L192.4,395.9 L193.7,364.9 L195,337.2 L196.3,313.1 L197.5,292.6 L198.8,275.8 L200.1,262.2 L201.4,251.6 L202.7,243.5 L203.9,237.5 L205.2,233.2 L206.5,230.1 L207.8,228 L209,226.6 L210.3,225.7 L211.6,225.1 L212.9,224.7 L214.2,224.5 L215.4,224.4 L216.7,224.3 L218,224.3 L219.3,224.2 L220.6,224.2 L221.8,224.2 L223.1,224.2 L224.4,224.2 L225.7,224.2 L227,224.2 L228.2,224.2 L229.5,224.2 L230.8,224.2 L232.1,224.2 L233.3,224.2 L234.6,224.2 L235.9,224.2 L237.2,224.2 L238.5,224.2 L239.7,224.2 L241,224.2 L242.3,224.2 L243.6,224.2 L244.9,224.2 L246.1,224.2 L247.4,224.2 L248.7,224.2 L250,224.2 L251.2,224.2 L252.5,224.2 L253.8,224.2 L255.1,224.2 L256.4,224.2 L257.6,224.2 L258.9,224.2 L260.2,224.2 L261.5,224.2 L262.8,224.2 L264,224.2 L265.3,224.2 L266.6,224.2 L267.9,224.2 L269.2,224.2 L270.4,224.2 L271.7,224.2 L273,224.2 L274.3,224.2 L275.5,224.2 L276.8,224.2 L278.1,224.2 L279.4,224.2 L280.7,224.2 L281.9,224.2 L283.2,224.2 L284.5,224.2 L285.8,224.2 L287.1,224.2 L288.3,224.2 L289.6,224.2 L290.9,224.2 L292.2,224.2 L293.5,224.2 L294.7,224.2 L296,224.2 L297.3,224.2 L298.6,224.2 L299.8,224.2 L301.1,224.2 L302.4,224.2 L303.7,224.2 L305,224.2 L306.2,224.2 L307.5,224.2 L308.8,224.2 L310.1,224.2 L311.4,224.2 L312.6,224.2 L313.9,224.2 L315.2,224.2 L316.5,224.2 L317.7,224.2 L319,224.2 L320.3,224.2 L321.6,224.2 L322.9,224.2 L324.1,224.2 L325.4,224.2 L326.7,224.2 L328,224.2 L329.3,224.2 L330.5,224.2 L331.8,224.2 L333.1,224.2 L334.4,224.2 L335.7,224.2 L336.9,224.2 L338.2,224.2 L339.5,224.2 L340.8,224.2 L342,224.2 L343.3,224.2 L344.6,224.2 L345.9,224.2 L347.2,224.2 L348.4,224.2 L349.7,224.2 L351,224.2 L352.3,224.2 L353.6,224.2 L354.8,224.2 L356.1,224.2 L357.4,224.2 L358.7,224.2 L359.9,224.2 L361.2,224.2 L362.5,224.2 L363.8,224.2 L365.1,224.2 L366.3,224.2 L367.6,224.2 L368.9,224.2 L370.2,224.2 L371.5,224.2 L372.7,224.2 L374,224.2 L375.3,224.2 L376.6,224.2 L377.9,224.2 L379.1,224.2 L380.4,224.2 L381.7,224.2 L383,224.2 L384.2,224.2 L385.5,224.2 L386.8,224.2 L388.1,224.2 L389.4,224.2 L390.6,224.2 L391.9,224.2 L393.2,224.2 L394.5,224.2 L395.8,224.2 L397,224.2 L398.3,224.2 L399.6,224.2 L400.9,224.2 L402.2,224.2 L403.4,224.2 L404.7,224.2 L406,224.2 L407.3,224.2 L408.5,224.2 L409.8,224.2 L411.1,224.2 L412.4,224.2 L413.7,224.2 L414.9,224.2 L416.2,224.2 L417.5,224.2 L418.8,224.2 L420.1,224.2 L421.3,224.2 L422.6,224.2 L423.9,224.2 L425.2,224.2 L426.4,224.2 L427.7,224.2 L429,224.2 L430.3,224.2 L431.6,224.2 L432.8,224.2 L434.1,224.2 L435.4,224.2 L436.7,224.2 L438,224.2 L439.2,224.2 L440.5,224.2 L441.8,224.2 L443.1,224.2 L444.4,224.2 L445.6,224.2 L446.9,224.2 L448.2,224.2 L449.5,224.2 L450.7,224.2 L452,224.2 L453.3,224.2 L454.6,224.2 L455.9,224.2 L457.1,224.2 L458.4,224.2 L459.7,224.2 L461,224.2 L462.3,224.2 L463.5,224.2 L464.8,224.2 L466.1,224.2 L467.4,224.2 L468.7,224.2 L469.9,224.2 L471.2,224.2 L472.5,224.2 L473.8,224.2 L475,224.2 L476.3,224.2 L477.6,224.2 L478.9,224.2 L480.2,224.2 L481.4,224.2 L482.7,224.2 L484,224.2 L485.3,224.2 L486.6,224.2 L487.8,224.2 L489.1,224.2 L490.4,224.2 L491.7,224.2 L492.9,224.2 L494.2,224.2 L495.5,224.2 L496.8,224.2 L498.1,224.2 L499.3,224.2 L500.6,224.2 L501.9,224.2 L503.2,224.2 L504.5,224.2 L505.7,224.2 L507,224.2 L508.3,224.2 L509.6,224.2 L510.9,224.2 L512.1,224.2 L513.4,224.2 L514.7,224.2 L516,224.2 L517.2,224.2 L518.5,224.2 L519.8,224.2 L521.1,224.2 L522.4,224.2 L523.6,224.2 L524.9,224.2 L526.2,224.2 L527.5,224.2 L528.8,224.2 L530,224.2 L531.3,224.2 L532.6,224.2 L533.9,224.2 L535.1,224.2 L536.4,224.2 L537.7,224.2 L539,224.2 L540.3,224.2 L541.5,224.2 L542.8,224.2 L544.1,224.2 L545.4,224.2 L546.7,224.2 L547.9,224.2 L549.2,224.2 L550.5,224.2 L551.8,224.2 L553.1,224.2 L554.3,224.2 L555.6,224.2 L556.9,224.2 L558.2,224.2 L559.4,224.2 L560.7,224.2 L562,224.2 L563.3,224.2 L564.6,224.2 L565.8,224.2 L567.1,224.2 L568.4,224.2 L569.7,224.2 L571,224.2 L572.2,224.2 L573.5,224.2 L574.8,224.2 L576.1,224.2 L577.4,224.2 L578.6,224.2 L579.9,224.2 L581.2,224.2 L582.5,224.2 L583.7,224.2 L585,224.2 L586.3,224.2 L587.6,224.2 L588.9,224.2 L590.1,224.2 L591.4,224.2 L592.7,224.2 L594,224.2 L595.3,224.2 L596.5,224.2 L597.8,224.2 L599.1,224.2 L600.4,224.2 L601.6,224.2 L602.9,224.2 L604.2,224.2 L605.5,224.2 L606.8,224.2 L608,224.2 L609.3,224.2 L610.6,224.2 L611.9,224.2 L613.2,224.2 L614.4,224.2 L615.7,224.2 L617,224.2 L618.3,224.2 L619.6,224.2 L620.8,224.2 L622.1,224.2 L623.4,224.2 L624.7,224.2 L625.9,224.2 L627.2,224.2 L628.5,224.2 L629.8,224.2 L631.1,224.2 L632.3,224.2 L633.6,224.2 L634.9,224.2 L636.2,224.2 L637.5,224.2 L638.7,224.2 L640,224.2 L641.3,224.2 L642.6,224.2 L643.9,224.2 L645.1,224.2 L646.4,224.2 L647.7,224.2 L649,224.2 L650.2,224.2 L651.5,224.2 L652.8,224.2 L654.1,224.2 L655.4,224.2 L656.6,224.2 L657.9,224.2 L659.2,224.2 L660.5,224.2 L661.8,224.2 L663,224.2 L664.3,224.2 L665.6,224.2 L666.9,224.2 L668.1,224.2 L669.4,224.2 L670.7,224.2 L672,224.2 L673.3,224.2 L674.5,224.2 L675.8,224.2 L677.1,224.2 L678.4,224.2 L679.7,224.2 L680.9,224.2 L682.2,224.2 L683.5,224.2 L684.8,224.2 L686.1,224.2 L687.3,224.2 L688.6,224.2 L689.9,224.2 L691.2,224.2 L692.4,224.2 L693.7,224.2 L695,224.2 L696.3,224.2 L697.6,224.2 L698.8,224.2 L700.1,224.2 L701.4,224.2 L702.7,224.2 L704,224.2 L705.2,224.2 L706.5,224.2 L707.8,224.2 L709.1,224.2 L710.4,224.2 L711.6,224.2 L712.9,224.2 L714.2,224.2 L715.5,224.2 L716.7,224.2 L718,224.2 L719.3,224.2 L720.6,224.2 L721.9,224.2 L723.1,224.2 L724.4,224.2 L725.7,224.2 L727,224.2 L728.3,224.2 L729.5,224.2 L730.8,224.2 L732.1,224.2 L733.4,224.2 L734.6,224.2 L735.9,224.2 L737.2,224.2 L738.5,224.2 L739.8,224.2 L741,224.2 L742.3,224.2 L743.6,224.2 L744.9,224.2 L746.2,224.2 L747.4,224.2 L748.7,224.2 L750,224.2 L751.3,224.2 L752.6,224.2 L753.8,224.2 L755.1,224.2 L756.4,224.2 L757.7,224.2 L758.9,224.2 L760.2,224.2 L761.5,224.2 L762.8,224.2 L764.1,224.2 L765.3,224.2 L766.6,224.2 L767.9,224.2 L769.2,224.2 L770.5,224.2 L771.7,224.2 L773,224.2 L774.3,224.2 L775.6,224.2 L776.8,224.2 L778.1,224.2 L779.4,224.2 L780.7,224.2 L782,224.2 L783.2,224.2 L784.5,224.2 L785.8,224.2 L787.1,224.2 L788.4,224.2 L789.6,224.2 L790.9,224.2 L792.2,224.2 L793.5,224.2 L794.8,224.2 L796,224.2 L797.3,224.2 L798.6,224.2 L799.9,224.2 L801.1,224.2 L802.4,224.2 L803.7,224.2 L805,224.2 L806.3,224.2 L807.5,224.2 L808.8,224.2 L810.1,224.2 L811.4,224.2 L812.7,224.2 L813.9,224.2 L815.2,224.2 L816.5,224.2 L817.8,224.2 L819.1,224.2 L820.3,224.2 L821.6,224.2 L822.9,224.2 L824.2,224.2 L825.4,224.2 L826.7,224.2 L828,224.2 L829.3,224.2 L830.6,224.2 L831.8,224.2 L833.1,224.2 L834.4,224.2 L835.7,224.2 L837,224.2 L838.2,224.2 L839.5,224.2 L840.8,224.2 L842.1,224.2 L843.3,224.2 L844.6,224.2 L845.9,224.2 L847.2,224.2 L848.5,224.2 L849.7,224.2 L851,224.2 L852.3,224.3 L853.6,224.3 L854.9,224.4 L856.1,224.5 L857.4,224.7 L858.7,225.1 L860,225.7 L861.3,226.6 L862.5,228 L863.8,230.1 L865.1,233.2 L866.4,237.5 L867.6,243.5 L868.9,251.6 L870.2,262.2 L871.5,275.8 L872.8,292.6 L874,313.1 L875.3,337.2 L876.6,364.9 L877.9,395.9 L879.2,429.8 L880.4,465.7 L881.7,502.9 L883,540.4 L884.3,577.3 L885.6,612.5 L886.8,645.3 L888.1,675 L889.4,701.3 L890.7,723.9 L891.9,742.9 L893.2,758.4 L894.5,770.8 L895.8,780.3 L897.1,787.5 L898.3,792.8 L899.6,796.6 L900.9,799.3 L902.2,801.1 L903.5,802.3 L904.7,803 L906,803.5 L907.3,803.8 L908.6,804 L909.8,804.1 L911.1,804.1 L912.4,804.2 L913.7,804.2 L915,804.2 L916.2,804.2 L917.5,804.2 L918.8,804.2" fill="none" stroke="#f00" stroke-width="2.4" stroke-linejoin="round"/>
<path d="M151.5,804.2 L152.8,804.2 L154.1,804.2 L155.3,804.2 L156.6,804.2 L157.9,804.2 L159.2,804.2 L160.5,804.1 L161.7,804.1 L163,804 L164.3,803.8 L165.6,803.5 L166.8,803 L168.1,802.3 L169.4,801 L170.7,799.1 L172,796.2 L173.2,792 L174.5,786.1 L175.8,778 L177.1,767.2 L178.4,753.2 L179.6,735.6 L180.9,714.1 L182.2,688.6 L183.5,659.2 L184.7,626.1 L186,590.2 L187.3,552.1 L188.6,512.8 L189.9,473.6 L191.1,435.5 L192.4,399.5 L193.7,366.5 L195,337.1 L196.3,311.6 L197.5,290.1 L198.8,272.5 L200.1,258.5 L201.4,247.7 L202.7,239.6 L203.9,233.7 L205.2,229.5 L206.5,226.6 L207.8,224.7 L209,223.4 L210.3,222.6 L211.6,222.2 L212.9,221.9 L214.2,221.7 L215.4,221.6 L216.7,221.5 L218,221.5 L219.3,221.5 L220.6,221.5 L221.8,221.5 L223.1,221.5 L224.4,221.5 L225.7,221.5 L227,221.5 L228.2,221.5 L229.5,221.5 L230.8,221.5 L232.1,221.5 L233.3,221.5 L234.6,221.5 L235.9,221.5 L237.2,221.5 L238.5,221.5 L239.7,221.5 L241,221.5 L242.3,221.5 L243.6,221.5 L244.9,221.5 L246.1,221.5 L247.4,221.5 L248.7,221.5 L250,221.5 L251.2,221.5 L252.5,221.5 L253.8,221.5 L255.1,221.5 L256.4,221.5 L257.6,221.5 L258.9,221.5 L260.2,221.5 L261.5,221.5 L262.8,221.5 L264,221.5 L265.3,221.5 L266.6,221.5 L267.9,221.5 L269.2,221.5 L270.4,221.5 L271.7,221.5 L273,221.5 L274.3,221.5 L275.5,221.5 L276.8,221.5 L278.1,221.5 L279.4,221.5 L280.7,221.5 L281.9,221.5 L283.2,221.5 L284.5,221.5 L285.8,221.5 L287.1,221.5 L288.3,221.5 L289.6,221.5 L290.9,221.5 L292.2,221.5 L293.5,221.5 L294.7,221.5 L296,221.5 L297.3,221.5 L298.6,221.5 L299.8,221.5 L301.1,221.5 L302.4,221.5 L303.7,221.5 L305,221.5 L306.2,221.5 L307.5,221.5 L308.8,221.5 L310.1,221.5 L311.4,221.5 L312.6,221.5 L313.9,221.5 L315.2,221.5 L316.5,221.5 L317.7,221.5 L319,221.5 L320.3,221.5 L321.6,221.5 L322.9,221.5 L324.1,221.5 L325.4,221.5 L326.7,221.5 L328,221.5 L329.3,221.5 L330.5,221.5 L331.8,221.5 L333.1,221.5 L334.4,221.5 L335.7,221.5 L336.9,221.5 L338.2,221.5 L339.5,221.5 L340.8,221.5 L342,221.5 L343.3,221.5 L344.6,221.5 L345.9,221.5 L347.2,221.5 L348.4,221.5 L349.7,221.5 L351,221.5 L352.3,221.5 L353.6,221.5 L354.8,221.5 L356.1,221.5 L357.4,221.5 L358.7,221.5 L359.9,221.5 L361.2,221.5 L362.5,221.5 L363.8,221.5 L365.1,221.5 L366.3,221.5 L367.6,221.5 L368.9,221.5 L370.2,221.5 L371.5,221.5 L372.7,221.5 L374,221.5 L375.3,221.5 L376.6,221.5 L377.9,221.5 L379.1,221.5 L380.4,221.5 L381.7,221.5 L383,221.5 L384.2,221.5 L385.5,221.5 L386.8,221.5 L388.1,221.5 L389.4,221.5 L390.6,221.5 L391.9,221.5 L393.2,221.5 L394.5,221.5 L395.8,221.5 L397,221.5 L398.3,221.5 L399.6,221.5 L400.9,221.5 L402.2,221.5 L403.4,221.5 L404.7,221.5 L406,221.5 L407.3,221.5 L408.5,221.5 L409.8,221.5 L411.1,221.5 L412.4,221.5 L413.7,221.5 L414.9,221.5 L416.2,221.5 L417.5,221.5 L418.8,221.5 L420.1,221.5 L421.3,221.5 L422.6,221.5 L423.9,221.5 L425.2,221.5 L426.4,221.5 L427.7,221.5 L429,221.5 L430.3,221.5 L431.6,221.5 L432.8,221.5 L434.1,221.5 L435.4,221.5 L436.7,221.5 L438,221.5 L439.2,221.5 L440.5,221.5 L441.8,221.5 L443.1,221.5 L444.4,221.5 L445.6,221.5 L446.9,221.5 L448.2,221.5 L449.5,221.5 L450.7,221.5 L452,221.5 L453.3,221.5 L454.6,221.5 L455.9,221.5 L457.1,221.5 L458.4,221.5 L459.7,221.5 L461,221.5 L462.3,221.5 L463.5,221.5 L464.8,221.5 L466.1,221.5 L467.4,221.5 L468.7,221.5 L469.9,221.5 L471.2,221.5 L472.5,221.5 L473.8,221.5 L475,221.5 L476.3,221.5 L477.6,221.5 L478.9,221.5 L480.2,221.5 L481.4,221.5 L482.7,221.5 L484,221.5 L485.3,221.5 L486.6,221.5 L487.8,221.5 L489.1,221.5 L490.4,221.5 L491.7,221.5 L492.9,221.5 L494.2,221.5 L495.5,221.5 L496.8,221.5 L498.1,221.5 L499.3,221.5 L500.6,221.5 L501.9,221.5 L503.2,221.5 L504.5,221.5 L505.7,221.5 L507,221.5 L508.3,221.5 L509.6,221.5 L510.9,221.5 L512.1,221.5 L513.4,221.5 L514.7,221.5 L516,221.5 L517.2,221.5 L518.5,221.5 L519.8,221.5 L521.1,221.5 L522.4,221.5 L523.6,221.5 L524.9,221.5 L526.2,221.5 L527.5,221.5 L528.8,221.5 L530,221.5 L531.3,221.5 L532.6,221.5 L533.9,221.5 L535.1,221.5 L536.4,221.5 L537.7,221.5 L539,221.5 L540.3,221.5 L541.5,221.5 L542.8,221.5 L544.1,221.5 L545.4,221.5 L546.7,221.5 L547.9,221.5 L549.2,221.5 L550.5,221.5 L551.8,221.5 L553.1,221.5 L554.3,221.5 L555.6,221.5 L556.9,221.5 L558.2,221.5 L559.4,221.5 L560.7,221.5 L562,221.5 L563.3,221.5 L564.6,221.5 L565.8,221.5 L567.1,221.5 L568.4,221.5 L569.7,221.5 L571,221.5 L572.2,221.5 L573.5,221.5 L574.8,221.5 L576.1,221.5 L577.4,221.5 L578.6,221.5 L579.9,221.5 L581.2,221.5 L582.5,221.5 L583.7,221.5 L585,221.5 L586.3,221.5 L587.6,221.5 L588.9,221.5 L590.1,221.5 L591.4,221.5 L592.7,221.5 L594,221.5 L595.3,221.5 L596.5,221.5 L597.8,221.5 L599.1,221.5 L600.4,221.5 L601.6,221.5 L602.9,221.5 L604.2,221.5 L605.5,221.5 L606.8,221.5 L608,221.5 L609.3,221.5 L610.6,221.5 L611.9,221.5 L613.2,221.5 L614.4,221.5 L615.7,221.5 L617,221.5 L618.3,221.5 L619.6,221.5 L620.8,221.5 L622.1,221.5 L623.4,221.5 L624.7,221.5 L625.9,221.5 L627.2,221.5 L628.5,221.5 L629.8,221.5 L631.1,221.5 L632.3,221.5 L633.6,221.5 L634.9,221.5 L636.2,221.5 L637.5,221.5 L638.7,221.5 L640,221.5 L641.3,221.5 L642.6,221.5 L643.9,221.5 L645.1,221.5 L646.4,221.5 L647.7,221.5 L649,221.5 L650.2,221.5 L651.5,221.5 L652.8,221.5 L654.1,221.5 L655.4,221.5 L656.6,221.5 L657.9,221.5 L659.2,221.5 L660.5,221.5 L661.8,221.5 L663,221.5 L664.3,221.5 L665.6,221.5 L666.9,221.5 L668.1,221.5 L669.4,221.5 L670.7,221.5 L672,221.5 L673.3,221.5 L674.5,221.5 L675.8,221.5 L677.1,221.5 L678.4,221.5 L679.7,221.5 L680.9,221.5 L682.2,221.5 L683.5,221.5 L684.8,221.5 L686.1,221.5 L687.3,221.5 L688.6,221.5 L689.9,221.5 L691.2,221.5 L692.4,221.5 L693.7,221.5 L695,221.5 L696.3,221.5 L697.6,221.5 L698.8,221.5 L700.1,221.5 L701.4,221.5 L702.7,221.5 L704,221.5 L705.2,221.5 L706.5,221.5 L707.8,221.5 L709.1,221.5 L710.4,221.5 L711.6,221.5 L712.9,221.5 L714.2,221.5 L715.5,221.5 L716.7,221.5 L718,221.5 L719.3,221.5 L720.6,221.5 L721.9,221.5 L723.1,221.5 L724.4,221.5 L725.7,221.5 L727,221.5 L728.3,221.5 L729.5,221.5 L730.8,221.5 L732.1,221.5 L733.4,221.5 L734.6,221.5 L735.9,221.5 L737.2,221.5 L738.5,221.5 L739.8,221.5 L741,221.5 L742.3,221.5 L743.6,221.5 L744.9,221.5 L746.2,221.5 L747.4,221.5 L748.7,221.5 L750,221.5 L751.3,221.5 L752.6,221.5 L753.8,221.5 L755.1,221.5 L756.4,221.5 L757.7,221.5 L758.9,221.5 L760.2,221.5 L761.5,221.5 L762.8,221.5 L764.1,221.5 L765.3,221.5 L766.6,221.5 L767.9,221.5 L769.2,221.5 L770.5,221.5 L771.7,221.5 L773,221.5 L774.3,221.5 L775.6,221.5 L776.8,221.5 L778.1,221.5 L779.4,221.5 L780.7,221.5 L782,221.5 L783.2,221.5 L784.5,221.5 L785.8,221.5 L787.1,221.5 L788.4,221.5 L789.6,221.5 L790.9,221.5 L792.2,221.5 L793.5,221.5 L794.8,221.5 L796,221.5 L797.3,221.5 L798.6,221.5 L799.9,221.5 L801.1,221.5 L802.4,221.5 L803.7,221.5 L805,221.5 L806.3,221.5 L807.5,221.5 L808.8,221.5 L810.1,221.5 L811.4,221.5 L812.7,221.5 L813.9,221.5 L815.2,221.5 L816.5,221.5 L817.8,221.5 L819.1,221.5 L820.3,221.5 L821.6,221.5 L822.9,221.5 L824.2,221.5 L825.4,221.5 L826.7,221.5 L828,221.5 L829.3,221.5 L830.6,221.5 L831.8,221.5 L833.1,221.5 L834.4,221.5 L835.7,221.5 L837,221.5 L838.2,221.5 L839.5,221.5 L840.8,221.5 L842.1,221.5 L843.3,221.5 L844.6,221.5 L845.9,221.5 L847.2,221.5 L848.5,221.5 L849.7,221.5 L851,221.5 L852.3,221.5 L853.6,221.5 L854.9,221.6 L856.1,221.7 L857.4,221.9 L858.7,222.2 L860,222.6 L861.3,223.4 L862.5,224.7 L863.8,226.6 L865.1,229.5 L866.4,233.7 L867.6,239.6 L868.9,247.7 L870.2,258.5 L871.5,272.5 L872.8,290.1 L874,311.6 L875.3,337.1 L876.6,366.5 L877.9,399.5 L879.2,435.5 L880.4,473.6 L881.7,512.8 L883,552.1 L884.3,590.2 L885.6,626.1 L886.8,659.2 L888.1,688.6 L889.4,714.1 L890.7,735.6 L891.9,753.2 L893.2,767.2 L894.5,778 L895.8,786.1 L897.1,792 L898.3,796.2 L899.6,799.1 L900.9,801 L902.2,802.3 L903.5,803 L904.7,803.5 L906,803.8 L907.3,804 L908.6,804.1 L909.8,804.1 L911.1,804.2 L912.4,804.2 L913.7,804.2 L915,804.2 L916.2,804.2 L917.5,804.2 L918.8,804.2" fill="none" stroke="#f00" stroke-width="2.4" stroke-linejoin="round"/>
<path d="M151.5,804.2 L152.8,804.2 L154.1,804.2 L155.3,804.2 L156.6,804.2 L157.9,804.1 L159.2,804.1 L160.5,804 L161.7,803.8 L163,803.5 L164.3,803 L165.6,802.3 L166.8,801.2 L168.1,799.5 L169.4,797.1 L170.7,793.7 L172,788.9 L173.2,782.4 L174.5,773.9 L175.8,763 L177.1,749.2 L178.4,732.2 L179.6,712 L180.9,688.3 L182.2,661.3 L183.5,631.2 L184.7,598.5 L186,563.9 L187.3,528 L188.6,491.8 L189.9,456.1 L191.1,421.8 L192.4,389.6 L193.7,360.1 L195,333.8 L196.3,310.8 L197.5,291.2 L198.8,274.9 L200.1,261.7 L201.4,251.2 L202.7,243.2 L203.9,237.1 L205.2,232.6 L206.5,229.4 L207.8,227.1 L209,225.6 L210.3,224.6 L211.6,223.9 L212.9,223.5 L214.2,223.2 L215.4,223.1 L216.7,223 L218,222.9 L219.3,222.9 L220.6,222.9 L221.8,222.9 L223.1,222.9 L224.4,222.9 L225.7,222.9 L227,222.9 L228.2,222.9 L229.5,222.9 L230.8,222.9 L232.1,222.9 L233.3,222.9 L234.6,222.9 L235.9,222.9 L237.2,222.9 L238.5,222.9 L239.7,222.9 L241,222.9 L242.3,222.9 L243.6,222.9 L244.9,222.9 L246.1,222.9 L247.4,222.9 L248.7,222.9 L250,222.9 L251.2,222.9 L252.5,222.9 L253.8,222.9 L255.1,222.9 L256.4,222.9 L257.6,222.9 L258.9,222.9 L260.2,222.9 L261.5,222.9 L262.8,222.9 L264,222.9 L265.3,222.9 L266.6,222.9 L267.9,222.9 L269.2,222.9 L270.4,222.9 L271.7,222.9 L273,222.9 L274.3,222.9 L275.5,222.9 L276.8,222.9 L278.1,222.9 L279.4,222.9 L280.7,222.9 L281.9,222.9 L283.2,222.9 L284.5,222.9 L285.8,222.9 L287.1,222.9 L288.3,222.9 L289.6,222.9 L290.9,222.9 L292.2,222.9 L293.5,222.9 L294.7,222.9 L296,222.9 L297.3,222.9 L298.6,222.9 L299.8,222.9 L301.1,222.9 L302.4,222.9 L303.7,222.9 L305,222.9 L306.2,222.9 L307.5,222.9 L308.8,222.9 L310.1,222.9 L311.4,222.9 L312.6,222.9 L313.9,222.9 L315.2,222.9 L316.5,222.9 L317.7,222.9 L319,222.9 L320.3,222.9 L321.6,222.9 L322.9,222.9 L324.1,222.9 L325.4,222.9 L326.7,222.9 L328,222.9 L329.3,222.9 L330.5,222.9 L331.8,222.9 L333.1,222.9 L334.4,222.9 L335.7,222.9 L336.9,222.9 L338.2,222.9 L339.5,222.9 L340.8,222.9 L342,222.9 L343.3,222.9 L344.6,222.9 L345.9,222.9 L347.2,222.9 L348.4,222.9 L349.7,222.9 L351,222.9 L352.3,222.9 L353.6,222.9 L354.8,222.9 L356.1,222.9 L357.4,222.9 L358.7,222.9 L359.9,222.9 L361.2,222.9 L362.5,222.9 L363.8,222.9 L365.1,222.9 L366.3,222.9 L367.6,222.9 L368.9,222.9 L370.2,222.9 L371.5,222.9 L372.7,222.9 L374,222.9 L375.3,222.9 L376.6,222.9 L377.9,222.9 L379.1,222.9 L380.4,222.9 L381.7,222.9 L383,222.9 L384.2,222.9 L385.5,222.9 L386.8,222.9 L388.1,222.9 L389.4,222.9 L390.6,222.9 L391.9,222.9 L393.2,222.9 L394.5,222.9 L395.8,222.9 L397,222.9 L398.3,222.9 L399.6,222.9 L400.9,222.9 L402.2,222.9 L403.4,222.9 L404.7,222.9 L406,222.9 L407.3,222.9 L408.5,222.9 L409.8,222.9 L411.1,222.9 L412.4,222.9 L413.7,222.9 L414.9,222.9 L416.2,222.9 L417.5,222.9 L418.8,222.9 L420.1,222.9 L421.3,222.9 L422.6,222.9 L423.9,222.9 L425.2,222.9 L426.4,222.9 L427.7,222.9 L429,222.9 L430.3,222.9 L431.6,222.9 L432.8,222.9 L434.1,222.9 L435.4,222.9 L436.7,222.9 L438,222.9 L439.2,222.9 L440.5,222.9 L441.8,222.9 L443.1,222.9 L444.4,222.9 L445.6,222.9 L446.9,222.9 L448.2,222.9 L449.5,222.9 L450.7,222.9 L452,222.9 L453.3,222.9 L454.6,222.9 L455.9,222.9 L457.1,222.9 L458.4,222.9 L459.7,222.9 L461,222.9 L462.3,222.9 L463.5,222.9 L464.8,222.9 L466.1,222.9 L467.4,222.9 L468.7,222.9 L469.9,222.9 L471.2,222.9 L472.5,222.9 L473.8,222.9 L475,222.9 L476.3,222.9 L477.6,222.9 L478.9,222.9 L480.2,222.9 L481.4,222.9 L482.7,222.9 L484,222.9 L485.3,222.9 L486.6,222.9 L487.8,222.9 L489.1,222.9 L490.4,222.9 L491.7,222.9 L492.9,222.9 L494.2,222.9 L495.5,222.9 L496.8,222.9 L498.1,222.9 L499.3,222.9 L500.6,222.9 L501.9,222.9 L503.2,222.9 L504.5,222.9 L505.7,222.9 L507,222.9 L508.3,222.9 L509.6,222.9 L510.9,222.9 L512.1,222.9 L513.4,222.9 L514.7,222.9 L516,222.9 L517.2,222.9 L518.5,222.9 L519.8,222.9 L521.1,222.9 L522.4,222.9 L523.6,222.9 L524.9,222.9 L526.2,222.9 L527.5,222.9 L528.8,222.9 L530,222.9 L531.3,222.9 L532.6,222.9 L533.9,222.9 L535.1,222.9 L536.4,222.9 L537.7,222.9 L539,222.9 L540.3,222.9 L541.5,222.9 L542.8,222.9 L544.1,222.9 L545.4,222.9 L546.7,222.9 L547.9,222.9 L549.2,222.9 L550.5,222.9 L551.8,222.9 L553.1,222.9 L554.3,222.9 L555.6,222.9 L556.9,222.9 L558.2,222.9 L559.4,222.9 L560.7,222.9 L562,222.9 L563.3,222.9 L564.6,222.9 L565.8,222.9 L567.1,222.9 L568.4,222.9 L569.7,222.9 L571,222.9 L572.2,222.9 L573.5,222.9 L574.8,222.9 L576.1,222.9 L577.4,222.9 L578.6,222.9 L579.9,222.9 L581.2,222.9 L582.5,222.9 L583.7,222.9 L585,222.9 L586.3,222.9 L587.6,222.9 L588.9,222.9 L590.1,222.9 L591.4,222.9 L592.7,222.9 L594,222.9 L595.3,222.9 L596.5,222.9 L597.8,222.9 L599.1,222.9 L600.4,222.9 L601.6,222.9 L602.9,222.9 L604.2,222.9 L605.5,222.9 L606.8,222.9 L608,222.9 L609.3,222.9 L610.6,222.9 L611.9,222.9 L613.2,222.9 L614.4,222.9 L615.7,222.9 L617,222.9 L618.3,222.9 L619.6,222.9 L620.8,222.9 L622.1,222.9 L623.4,222.9 L624.7,222.9 L625.9,222.9 L627.2,222.9 L628.5,222.9 L629.8,222.9 L631.1,222.9 L632.3,222.9 L633.6,222.9 L634.9,222.9 L636.2,222.9 L637.5,222.9 L638.7,222.9 L640,222.9 L641.3,222.9 L642.6,222.9 L643.9,222.9 L645.1,222.9 L646.4,222.9 L647.7,222.9 L649,222.9 L650.2,222.9 L651.5,222.9 L652.8,222.9 L654.1,222.9 L655.4,222.9 L656.6,222.9 L657.9,222.9 L659.2,222.9 L660.5,222.9 L661.8,222.9 L663,222.9 L664.3,222.9 L665.6,222.9 L666.9,222.9 L668.1,222.9 L669.4,222.9 L670.7,222.9 L672,222.9 L673.3,222.9 L674.5,222.9 L675.8,222.9 L677.1,222.9 L678.4,222.9 L679.7,222.9 L680.9,222.9 L682.2,222.9 L683.5,222.9 L684.8,222.9 L686.1,222.9 L687.3,222.9 L688.6,222.9 L689.9,222.9 L691.2,222.9 L692.4,222.9 L693.7,222.9 L695,222.9 L696.3,222.9 L697.6,222.9 L698.8,222.9 L700.1,222.9 L701.4,222.9 L702.7,222.9 L704,222.9 L705.2,222.9 L706.5,222.9 L707.8,222.9 L709.1,222.9 L710.4,222.9 L711.6,222.9 L712.9,222.9 L714.2,222.9 L715.5,222.9 L716.7,222.9 L718,222.9 L719.3,222.9 L720.6,222.9 L721.9,222.9 L723.1,222.9 L724.4,222.9 L725.7,222.9 L727,222.9 L728.3,222.9 L729.5,222.9 L730.8,222.9 L732.1,222.9 L733.4,222.9 L734.6,222.9 L735.9,222.9 L737.2,222.9 L738.5,222.9 L739.8,222.9 L741,222.9 L742.3,222.9 L743.6,222.9 L744.9,222.9 L746.2,222.9 L747.4,222.9 L748.7,222.9 L750,222.9 L751.3,222.9 L752.6,222.9 L753.8,222.9 L755.1,222.9 L756.4,222.9 L757.7,222.9 L758.9,222.9 L760.2,222.9 L761.5,222.9 L762.8,222.9 L764.1,222.9 L765.3,222.9 L766.6,222.9 L767.9,222.9 L769.2,222.9 L770.5,222.9 L771.7,222.9 L773,222.9 L774.3,222.9 L775.6,222.9 L776.8,222.9 L778.1,222.9 L779.4,222.9 L780.7,222.9 L782,222.9 L783.2,222.9 L784.5,222.9 L785.8,222.9 L787.1,222.9 L788.4,222.9 L789.6,222.9 L790.9,222.9 L792.2,222.9 L793.5,222.9 L794.8,222.9 L796,222.9 L797.3,222.9 L798.6,222.9 L799.9,222.9 L801.1,222.9 L802.4,222.9 L803.7,222.9 L805,222.9 L806.3,222.9 L807.5,222.9 L808.8,222.9 L810.1,222.9 L811.4,222.9 L812.7,222.9 L813.9,222.9 L815.2,222.9 L816.5,222.9 L817.8,222.9 L819.1,222.9 L820.3,222.9 L821.6,222.9 L822.9,222.9 L824.2,222.9 L825.4,222.9 L826.7,222.9 L828,222.9 L829.3,222.9 L830.6,222.9 L831.8,222.9 L833.1,222.9 L834.4,222.9 L835.7,222.9 L837,222.9 L838.2,222.9 L839.5,222.9 L840.8,222.9 L842.1,222.9 L843.3,222.9 L844.6,222.9 L845.9,222.9 L847.2,222.9 L848.5,222.9 L849.7,222.9 L851,222.9 L852.3,222.9 L853.6,223 L854.9,223.1 L856.1,223.2 L857.4,223.5 L858.7,223.9 L860,224.6 L861.3,225.6 L862.5,227.1 L863.8,229.4 L865.1,232.6 L866.4,237.1 L867.6,243.2 L868.9,251.2 L870.2,261.7 L871.5,274.9 L872.8,291.2 L874,310.8 L875.3,333.8 L876.6,360.1 L877.9,389.6 L879.2,421.8 L880.4,456.1 L881.7,491.8 L883,528 L884.3,563.9 L885.6,598.5 L886.8,631.2 L888.1,661.3 L889.4,688.3 L890.7,712 L891.9,732.2 L893.2,749.2 L894.5,763 L895.8,773.9 L897.1,782.4 L898.3,788.9 L899.6,793.7 L900.9,797.1 L902.2,799.5 L903.5,801.2 L904.7,802.3 L906,803 L907.3,803.5 L908.6,803.8 L909.8,804 L911.1,804.1 L912.4,804.1 L913.7,804.2 L915,804.2 L916.2,804.2 L917.5,804.2 L918.8,804.2" fill="none" stroke="#f00" stroke-width="1.8" stroke-linejoin="round"/>
<path d="M215.4,804.2v-9.5M215.4,34.5v9.5M279.4,804.2v-19M279.4,34.5v19M343.3,804.2v-9.5M343.3,34.5v9.5M407.3,804.2v-19M407.3,34.5v19M471.2,804.2v-9.5M471.2,34.5v9.5M535.1,804.2v-19M535.1,34.5v19M599.1,804.2v-9.5M599.1,34.5v9.5M663,804.2v-19M663,34.5v19M727,804.2v-9.5M727,34.5v9.5M790.9,804.2v-19M790.9,34.5v19M854.9,804.2v-9.5M854.9,34.5v9.5M151.5,758.9h9.5M918.8,758.9h-9.5M151.5,713.6h19M918.8,713.6h-19M151.5,668.4h9.5M918.8,668.4h-9.5M151.5,623.1h19M918.8,623.1h-19M151.5,577.8h9.5M918.8,577.8h-9.5M151.5,532.5h19M918.8,532.5h-19M151.5,487.3h9.5M918.8,487.3h-9.5M151.5,442h19M918.8,442h-19M151.5,396.7h9.5M918.8,396.7h-9.5M151.5,351.4h19M918.8,351.4h-19M151.5,306.2h9.5M918.8,306.2h-9.5M151.5,260.9h19M918.8,260.9h-19M151.5,215.6h9.5M918.8,215.6h-9.5M151.5,170.3h19M918.8,170.3h-19M151.5,125.1h9.5M918.8,125.1h-9.5M151.5,79.8h19M918.8,79.8h-19" stroke="#333" stroke-width="1.4" fill="none"/>
<path d="M150.6,34.5H919.7M150.6,804.2H919.7" stroke="#444" stroke-width="2.6" fill="none"/>
<path d="M151.5,34.5V804.2M918.8,34.5V804.2" stroke="#1a1a1a" stroke-width="1.8" fill="none"/>
<g font-family="Liberation Serif" font-size="41.2" fill="#000">
<text x="142.6" y="782.9" text-anchor="end" transform="scale(1 1.045)">0</text>
<text x="142.6" y="696.2" text-anchor="end" transform="scale(1 1.045)">0.1</text>
<text x="142.6" y="609.6" text-anchor="end" transform="scale(1 1.045)">0.2</text>
<text x="142.6" y="522.9" text-anchor="end" transform="scale(1 1.045)">0.3</text>
<text x="142.6" y="436.3" text-anchor="end" transform="scale(1 1.045)">0.4</text>
<text x="142.6" y="349.6" text-anchor="end" transform="scale(1 1.045)">0.5</text>
<text x="142.6" y="262.9" text-anchor="end" transform="scale(1 1.045)">0.6</text>
<text x="142.6" y="176.3" text-anchor="end" transform="scale(1 1.045)">0.7</text>
<text x="142.6" y="89.6" text-anchor="end" transform="scale(1 1.045)">0.8</text>
<text x="279.4" y="804.6" text-anchor="middle" transform="scale(1 1.045)">-200</text>
<text x="407.3" y="804.6" text-anchor="middle" transform="scale(1 1.045)">-100</text>
<text x="535.1" y="804.6" text-anchor="middle" transform="scale(1 1.045)">0</text>
<text x="663" y="804.6" text-anchor="middle" transform="scale(1 1.045)">100</text>
<text x="790.9" y="804.6" text-anchor="middle" transform="scale(1 1.045)">200</text>
<text x="918.8" y="804.6" text-anchor="middle" transform="scale(1 1.045)">300</text>
</g>
<text font-family="Liberation Sans" font-size="47" x="418.2" y="895.8">position (Å)</text>
<text font-family="Liberation Sans" font-size="47" transform="translate(72.5,585.5) rotate(-90)">density (g / cm<tspan font-size="30" dy="-28">3</tspan><tspan dy="28">)</tspan></text>
<rect x="295.5" y="418.5" width="480" height="289" fill="#fff"/>
<clipPath id="ic"><rect x="295.5" y="418.5" width="480" height="289"/></clipPath>
<g clip-path="url(#ic)">
<g transform="scale(.5)" stroke="#000" stroke-width="4" stroke-linecap="square"><path d="M641 957h0M1184 1388h0M792 992h0M780 956h0M1260 1395h0M646 981h0M1118 1363h0M1026 1240h0M1416 1410h0M1114 1335h0M622 980h0M870 1116h0M1193 1390h0M854 1112h0M1122 1360h0M779 969h0M1197 1379h0M1504 1411h0M958 1125h0M1063 1271h0M967 1157h0M1153 1373h0M1228 1387h0M1269 1402h0M619 993h0M797 990h0M1476 1412h0M951 1058h0M1121 1334h0M894 1119h0M748 933h0M1134 1356h0M1489 1413h0M640 962h0M1259 1406h0M674 984h0M1328 1413h0M1467 1413h0M1378 1410h0M618 936h0M1290 1409h0M1240 1400h0M1522 1413h0M790 1013h0M1054 1273h0M882 1034h0M943 1129h0M1184 1392h0M1062 1261h0M1172 1400h0M1511 1413h0M1356 1403h0M908 1049h0M1392 1410h0M1449 1414h0M593 998h0M1143 1367h0M1276 1414h0M1326 1413h0M1089 1300h0M1536 1415h0M1424 1410h0M1470 1404h0M940 1090h0M662 925h0M780 945h0M814 1026h0M628 957h0M644 930h0M710 986h0M1265 1415h0M1038 1255h0M1467 1414h0M845 1048h0M763 1040h0M1202 1402h0M1499 1414h0M629 942h0M750 1037h0M1020 1245h0M641 1000h0M862 961h0M1094 1321h0M1318 1411h0M1274 1408h0M632 962h0M689 1038h0M1318 1410h0M1447 1414h0M784 982h0M967 1158h0M978 1148h0M682 1004h0M1427 1413h0M882 1073h0M906 1057h0M728 1040h0M1496 1406h0M1027 1230h0M1255 1409h0M1456 1414h0M1404 1413h0M803 993h0M1342 1411h0M626 970h0M898 1015h0M874 1063h0M1229 1403h0M770 978h0M1240 1390h0M719 968h0M1385 1413h0M1447 1414h0M1016 1278h0M1262 1403h0M901 1109h0M812 1039h0M1010 1171h0M880 999h0M896 1029h0M1237 1400h0M1041 1278h0M1409 1414h0M1444 1415h0M1463 1414h0M847 1089h0M1001 1233h0M1064 1252h0M1318 1413h0M907 1064h0M1421 1414h0M1264 1390h0M1547 1415h0M1336 1408h0M717 1021h0M724 977h0M986 1161h0M659 999h0M962 1184h0M1158 1372h0M631 990h0M1132 1347h0M1107 1315h0M1036 1224h0M711 1012h0M1471 1411h0M948 1163h0M1547 1406h0M1340 1409h0M1498 1413h0M1283 1413h0M1002 1145h0M688 946h0M760 980h0M1279 1414h0M1216 1382h0M827 1027h0M1205 1397h0M1135 1350h0M669 976h0M609 933h0M1491 1415h0M715 955h0M1139 1393h0M802 1055h0M1546 1415h0M1452 1415h0M1458 1415h0M772 1050h0M1503 1412h0M1100 1339h0M1322 1404h0M731 960h0M1079 1322h0M1326 1409h0M773 976h0M1374 1415h0M1097 1354h0M1399 1414h0M624 973h0M1115 1358h0M1002 1230h0M670 1061h0M1321 1415h0M1498 1414h0M1466 1404h0M1298 1409h0M621 941h0M1156 1398h0M1478 1413h0M1166 1381h0M1074 1322h0M1107 1336h0M783 1071h0M728 1000h0M869 1085h0M1021 1268h0M1046 1292h0M1339 1409h0M740 993h0M1030 1255h0M1434 1415h0M1422 1414h0M1529 1414h0M902 1087h0M1394 1407h0M1348 1398h0M1285 1415h0M620 959h0M1030 1227h0M778 904h0M1541 1414h0M1438 1414h0M804 1049h0M1373 1413h0M1217 1389h0M1225 1407h0M1275 1408h0M995 1154h0M1385 1415h0M1390 1414h0M1058 1283h0M1354 1406h0M1209 1391h0M1187 1385h0M1318 1410h0M727 955h0M1549 1414h0M1373 1415h0M955 1099h0M1138 1383h0M1462 1414h0M1106 1296h0M1447 1414h0M1499 1413h0M620 962h0M1378 1411h0M1024 1239h0M1505 1414h0M1204 1390h0M1272 1404h0M903 1108h0M1457 1414h0M1222 1398h0M965 1124h0M867 990h0M1055 1243h0M620 982h0M761 1062h0M913 1140h0M661 929h0M1314 1411h0M819 989h0M890 1072h0M1144 1355h0M1423 1414h0M1001 1185h0M983 1122h0M1322 1407h0M591 1013h0M699 1000h0M710 1010h0M1500 1412h0M1175 1390h0M1165 1353h0M920 1133h0M1076 1316h0M808 1008h0M1072 1339h0M932 1104h0M680 918h0M819 990h0M1365 1413h0M1266 1415h0M692 1036h0M1473 1413h0M1508 1415h0M821 1008h0M665 1006h0M1465 1412h0M1117 1315h0M1068 1330h0M1298 1409h0M675 933h0M719 956h0M1217 1377h0M1444 1415h0M1215 1396h0M699 1034h0M771 989h0M1148 1375h0M1211 1407h0M1289 1406h0M1368 1414h0M1306 1405h0M966 1189h0M1266 1402h0M1429 1406h0M698 969h0M1079 1324h0M908 1048h0M1080 1307h0M1246 1397h0M1072 1274h0M819 999h0M1105 1362h0M639 996h0M983 1168h0M724 1004h0M981 1149h0M1522 1415h0M959 1088h0M842 991h0M1201 1403h0M1549 1415h0M714 960h0M1512 1415h0M645 951h0M1529 1415h0M1071 1305h0M1181 1375h0M771 995h0M900 1026h0M1220 1403h0M1049 1298h0M1045 1268h0M678 1016h0M1499 1414h0M1144 1364h0M1081 1301h0M1524 1406h0M1070 1313h0M1467 1414h0M1464 1414h0M1403 1414h0M867 1074h0M1105 1334h0M1164 1366h0M1520 1413h0M922 1070h0M873 1054h0M976 1110h0M1008 1251h0M1299 1407h0M692 911h0M973 1158h0M1384 1413h0M836 985h0M799 1034h0M888 1049h0M1501 1410h0M855 988h0M1115 1341h0M838 1007h0M939 1109h0M654 929h0M630 987h0M756 1061h0M1064 1302h0M881 1072h0M946 1126h0M773 988h0M1080 1332h0M1138 1376h0M1042 1237h0M1422 1414h0M1440 1414h0M1122 1362h0M1209 1374h0M996 1179h0M886 1047h0M699 948h0M774 968h0M1364 1412h0M772 1058h0M1388 1415h0M643 977h0M679 959h0M1235 1396h0M1453 1415h0M1324 1408h0M811 974h0M958 1142h0M877 1068h0M1525 1411h0M931 1087h0M1418 1414h0M1370 1411h0M678 966h0M828 1057h0M836 974h0M1436 1414h0M1364 1411h0M828 1014h0M824 979h0M1460 1413h0M852 1004h0M1523 1408h0M1080 1315h0M990 1220h0M599 1013h0M949 1179h0M909 1040h0M815 1012h0M885 1073h0M782 977h0M754 1031h0M901 1009h0M1227 1403h0M1394 1409h0M1198 1392h0M1022 1187h0M1153 1375h0M816 926h0M1428 1414h0M1449 1410h0M1076 1302h0M619 985h0M1207 1400h0M1449 1415h0M710 917h0M752 1016h0M733 1074h0M1193 1371h0M1396 1415h0M1505 1413h0M1239 1403h0M1056 1283h0M1087 1313h0M1178 1394h0M1478 1415h0M834 975h0M755 1026h0M1253 1402h0M955 1216h0M757 1005h0M1461 1413h0M1012 1230h0M818 1075h0M1272 1407h0M1034 1283h0M1371 1413h0M900 1038h0M601 958h0M1126 1349h0M1036 1245h0M1510 1414h0M1500 1415h0M783 988h0M1294 1408h0M990 1202h0M1192 1388h0M982 1191h0M828 979h0M1480 1411h0M1477 1415h0M630 943h0M977 1171h0M1182 1379h0M692 982h0M694 1058h0M951 1132h0M789 1076h0M1422 1411h0M1045 1301h0M1061 1289h0M742 1036h0M1081 1327h0M902 1131h0M805 1030h0M1181 1371h0M738 979h0M1535 1414h0M1147 1385h0M734 1014h0M1069 1294h0M1243 1406h0M922 1055h0M927 1137h0M1365 1412h0M1281 1413h0M893 1012h0M1279 1400h0M1106 1336h0M1472 1412h0M1134 1386h0M1533 1415h0M1058 1314h0M665 958h0M604 1037h0M1152 1373h0M680 1025h0M1477 1415h0M787 998h0M1240 1414h0M1535 1414h0M1541 1412h0M1413 1403h0M840 1007h0M936 1099h0M1306 1408h0M899 1082h0M683 973h0M684 974h0M870 1064h0M762 1017h0M1315 1409h0M1344 1415h0M726 970h0M1532 1414h0M1220 1392h0M860 1050h0M1374 1410h0M1046 1269h0M1322 1408h0M1163 1375h0M1388 1413h0M759 936h0M1283 1409h0M1283 1414h0M1189 1399h0M1249 1409h0M861 998h0M1349 1409h0M1388 1413h0M893 1020h0M865 1019h0M1219 1410h0M910 1027h0M1511 1414h0M615 963h0M1325 1413h0M1265 1404h0M1428 1412h0M1385 1412h0M1430 1409h0M1462 1414h0M1368 1411h0M945 1087h0M1152 1372h0M1280 1403h0M714 947h0M1136 1365h0M1370 1411h0M1183 1390h0M956 1090h0M956 1154h0M1016 1233h0M1419 1413h0M1021 1236h0M1379 1411h0M731 970h0M1356 1409h0M814 1050h0M1186 1382h0M1371 1414h0M1232 1383h0M618 1012h0M661 1008h0M1501 1411h0M661 949h0M955 1125h0M921 1062h0M991 1200h0M752 967h0M1222 1395h0M1154 1369h0M992 1206h0M669 1026h0M1151 1373h0M877 1111h0M1370 1412h0M1365 1410h0M1112 1355h0M882 1012h0M1138 1388h0M695 956h0M1493 1415h0M1406 1413h0M685 988h0M1344 1414h0M1125 1365h0M1102 1320h0M1000 1238h0M1088 1311h0M973 1173h0M678 953h0M659 944h0M920 1111h0M1206 1384h0M821 1008h0M945 1160h0M787 972h0M1531 1414h0M986 1179h0M1469 1414h0M715 976h0M742 1041h0M1375 1410h0M1154 1374h0M1472 1414h0M1515 1414h0M1399 1414h0M1329 1414h0M1287 1404h0M1233 1406h0M736 1009h0M1191 1394h0M988 1198h0M700 986h0M1364 1415h0M866 1035h0M856 1045h0M1293 1411h0M1322 1409h0M1305 1414h0M1331 1411h0M768 1049h0M924 1090h0M1135 1344h0M1462 1414h0M977 1194h0M1542 1414h0M694 922h0M961 1114h0M1148 1370h0M1033 1250h0M1485 1414h0M1132 1354h0M980 1122h0M1083 1291h0M776 1007h0M781 1061h0M798 998h0M1448 1413h0M1207 1404h0M1282 1410h0M1001 1237h0M1104 1332h0M1064 1323h0M1133 1380h0M1494 1413h0M872 1060h0M1440 1414h0M1010 1189h0M1473 1414h0M1397 1409h0M1201 1393h0M717 1050h0M1348 1415h0M1105 1313h0M1225 1393h0M1102 1336h0M1168 1379h0M603 1001h0M926 1128h0M840 1029h0M1082 1306h0M930 1027h0M1201 1392h0M1006 1198h0M1264 1408h0M1030 1270h0M1238 1409h0M1476 1414h0M1019 1237h0M1478 1413h0M1192 1375h0M1082 1314h0M1311 1404h0M1536 1413h0M1303 1401h0M888 1039h0M688 981h0M1286 1410h0M1393 1402h0M827 1016h0M727 1043h0M1441 1409h0M638 882h0M803 995h0M1472 1410h0M1252 1409h0M1239 1414h0M934 1121h0M1326 1413h0M1421 1414h0M1201 1399h0M741 1003h0M837 1020h0M1268 1409h0M945 1094h0M815 1028h0M633 985h0M1219 1403h0M1457 1409h0M1392 1414h0M872 1026h0M980 1193h0M964 1125h0M1106 1339h0M885 1021h0M768 1023h0M1063 1296h0M721 962h0M788 1075h0M957 1116h0M1509 1415h0M1203 1393h0M1161 1387h0M1216 1392h0M1242 1399h0M1448 1414h0M611 945h0M689 880h0M1397 1414h0M640 948h0M1044 1269h0M868 1035h0M1095 1317h0M1141 1374h0M799 941h0M1341 1414h0M1550 1414h0M709 1057h0M594 1014h0M1540 1410h0M1493 1411h0M760 954h0M1026 1237h0M721 1012h0M1158 1376h0M743 990h0M1424 1414h0M1339 1409h0M1521 1415h0M1319 1415h0M1378 1410h0M1157 1378h0M813 1046h0M1406 1410h0M1461 1414h0M790 1013h0M804 957h0M681 949h0M749 938h0M1131 1354h0M1185 1394h0M1116 1346h0M894 1062h0M1084 1322h0M1018 1261h0M808 1068h0M770 960h0M1001 1167h0M1318 1413h0M1008 1240h0M1321 1409h0M1393 1411h0M803 1043h0M1018 1224h0M1104 1321h0M603 939h0M651 979h0M1422 1413h0M1503 1414h0M1461 1413h0M726 993h0M1451 1415h0M1344 1413h0M1302 1407h0M1418 1414h0M682 949h0M623 1010h0M653 939h0M1462 1413h0M815 1005h0M781 1084h0M1119 1344h0M887 1064h0M1464 1415h0M742 1002h0M764 971h0M1326 1414h0M777 1029h0M758 945h0M669 1044h0M761 1024h0M1300 1411h0M714 957h0M1089 1322h0M820 1026h0M1020 1256h0M617 923h0M798 995h0M1463 1414h0M983 1170h0M1056 1295h0M930 1104h0M948 1134h0M1216 1377h0M1168 1386h0M786 1025h0M630 947h0M1229 1405h0M1183 1384h0M697 960h0M1242 1408h0M1251 1404h0M944 1074h0M1357 1410h0M633 986h0M933 1062h0M1199 1401h0M946 1112h0M630 1011h0M915 1071h0M938 1154h0M1231 1412h0M1103 1361h0M1269 1410h0M1149 1357h0M1253 1397h0M1287 1406h0M1103 1343h0M1502 1413h0M1464 1415h0M960 1198h0M1139 1354h0M886 1048h0M664 1044h0M1065 1303h0M751 992h0M1210 1390h0M1486 1415h0M771 1048h0M1441 1413h0M992 1205h0M1164 1378h0M1439 1415h0M822 1013h0M1019 1201h0M855 1019h0M1017 1245h0M617 940h0M720 1043h0M924 1085h0M1170 1379h0M929 1092h0M1481 1413h0M1124 1351h0M1305 1413h0M1260 1404h0M1253 1406h0M985 1121h0M994 1223h0M1313 1413h0M778 1016h0M722 939h0M1506 1414h0M1307 1405h0M899 1038h0M703 1062h0M1102 1321h0M1464 1415h0M773 1077h0M613 976h0M1260 1403h0M1087 1304h0M1212 1397h0M1364 1408h0M1417 1414h0M1080 1325h0M612 988h0M1193 1374h0M1218 1388h0M1262 1412h0M643 930h0M1146 1370h0M1170 1400h0M838 967h0M674 939h0M746 1007h0M1303 1407h0M1187 1391h0M1330 1410h0M718 995h0M786 997h0M1026 1192h0M1418 1412h0M1506 1415h0M654 969h0M980 1121h0M868 1009h0M1293 1409h0M1046 1289h0M1259 1402h0M670 1039h0M1492 1415h0M711 960h0M1456 1415h0M858 1045h0M1016 1224h0M762 989h0M1348 1413h0M1177 1376h0M963 1131h0M1311 1405h0M1087 1319h0M1096 1314h0M1422 1415h0M1401 1414h0M1018 1239h0M1360 1415h0M696 931h0M661 998h0M891 1070h0M931 1130h0M1108 1317h0M594 969h0M960 1150h0M720 953h0M1454 1414h0M1537 1412h0M616 993h0M763 982h0M953 1111h0M669 1007h0M1249 1409h0M649 941h0M1300 1415h0M1225 1393h0M851 1077h0M1070 1283h0M648 1017h0M1213 1391h0M622 999h0M892 1017h0M925 1096h0M1238 1406h0M1069 1312h0M1322 1415h0M1165 1379h0M1325 1408h0M918 1071h0M1214 1396h0M1396 1415h0M745 970h0M1201 1383h0M1231 1396h0M914 1068h0M1254 1414h0M1442 1414h0M1109 1359h0M675 1012h0M1410 1410h0M1148 1382h0M876 1085h0M1529 1408h0M1271 1407h0M1499 1414h0M738 965h0M1496 1414h0M1064 1303h0M880 1046h0M1342 1408h0M1489 1413h0M1075 1293h0M1309 1410h0M1232 1402h0M1317 1404h0M743 977h0M715 1016h0M1196 1395h0M1120 1370h0M1448 1413h0M1363 1410h0M975 1120h0M633 1002h0M1001 1207h0M1103 1338h0M1401 1413h0M1537 1413h0M846 1066h0M1492 1412h0M755 1030h0M1164 1374h0M1426 1415h0M788 984h0M929 1116h0M1192 1382h0M1266 1415h0M1226 1403h0M1402 1412h0M858 1048h0M833 959h0M605 1027h0M625 965h0M644 1002h0M786 998h0M699 983h0M1189 1388h0M713 1050h0M1344 1413h0M733 1010h0M1349 1407h0M1385 1408h0M874 1088h0M1316 1407h0M1011 1246h0M932 1074h0M1535 1414h0M1219 1399h0M1119 1344h0M891 1008h0M1049 1270h0M1004 1207h0M1359 1407h0M1224 1390h0M1358 1411h0M1197 1384h0M1456 1410h0M811 964h0M1286 1415h0M1258 1408h0M1019 1223h0M1411 1414h0M1102 1294h0M1464 1413h0M1503 1411h0M654 1008h0M1227 1406h0M933 1157h0M623 987h0M1230 1406h0M1230 1401h0M1500 1414h0M1062 1326h0M642 923h0M1531 1414h0M1475 1413h0M1543 1415h0M1489 1414h0M653 920h0M747 980h0M1010 1228h0M893 1062h0M1181 1400h0M1120 1341h0M1257 1392h0M1436 1407h0M1229 1403h0M830 966h0M767 965h0M1385 1408h0M873 1084h0M1395 1408h0M1218 1391h0M926 1113h0M1337 1415h0M1205 1385h0M754 960h0M1013 1246h0M1019 1265h0M1371 1415h0M812 959h0M1503 1414h0M815 1045h0M1460 1409h0M1036 1280h0M900 1060h0M1135 1375h0M970 1169h0M1029 1272h0M706 907h0M1256 1399h0M715 985h0M1293 1414h0M1141 1362h0M811 1018h0M1325 1415h0M1001 1192h0M1257 1399h0M1494 1415h0M803 957h0M914 1022h0M766 1033h0M645 982h0M1178 1374h0M943 1172h0M1348 1414h0M1060 1250h0M1341 1415h0M688 969h0M1143 1355h0M869 1080h0M994 1242h0M1118 1315h0M842 994h0M790 1019h0M827 1067h0M1463 1409h0M800 948h0M906 1004h0M746 1012h0M1364 1414h0M1290 1411h0M888 1047h0M1138 1372h0M1327 1415h0M596 922h0M1547 1414h0M878 1153h0M1397 1409h0M1450 1407h0M873 1009h0M807 959h0M1381 1406h0M1529 1414h0M815 998h0M719 985h0M984 1166h0M1492 1408h0M771 1036h0M1159 1369h0M1015 1224h0M667 1008h0M1132 1374h0M630 871h0M789 982h0M1466 1414h0M1525 1414h0M896 1101h0M1294 1414h0M1185 1391h0M1521 1414h0M921 1123h0M1200 1396h0M1420 1414h0M952 1168h0M723 975h0M1472 1414h0M1406 1413h0M1179 1401h0M1011 1269h0M739 977h0M1001 1203h0M1277 1409h0M1114 1363h0M1339 1411h0M767 1032h0M646 963h0M1353 1409h0M802 968h0M1038 1267h0M1055 1301h0M1106 1348h0M1486 1414h0M1118 1368h0M913 1033h0M1070 1284h0M779 974h0M641 926h0M1476 1414h0M1384 1414h0M936 1115h0M893 1095h0M1156 1377h0M1446 1413h0M600 995h0M1124 1315h0M834 1140h0M1551 1415h0M774 915h0M1451 1412h0M934 1137h0M1027 1228h0M1491 1415h0M1215 1395h0M1069 1321h0M1465 1413h0M970 1159h0M983 1138h0M921 1045h0M1476 1414h0M1061 1277h0M1303 1401h0M1281 1406h0M1493 1415h0M990 1272h0M975 1153h0M1396 1411h0M1055 1234h0M1478 1415h0M1185 1392h0M1296 1415h0M894 1066h0M1516 1414h0M1025 1231h0M1449 1409h0M1359 1413h0M893 1018h0M851 999h0M954 1118h0M1210 1404h0M851 1029h0M918 1066h0M1460 1414h0M987 1240h0M1043 1244h0M1469 1414h0M999 1203h0M1246 1399h0M908 1077h0M1304 1409h0M882 1023h0M1199 1397h0M1501 1413h0M1343 1406h0M1474 1409h0M976 1173h0M1433 1414h0M1214 1404h0M985 1153h0M874 1066h0M1312 1408h0M1239 1401h0M1003 1195h0M1361 1413h0M1022 1235h0M980 1129h0M1206 1399h0M970 1190h0M1297 1406h0M1278 1406h0M938 1078h0M1347 1414h0M976 1161h0M1032 1257h0M633 1017h0M1046 1282h0M1414 1415h0M1538 1414h0M1057 1293h0M1143 1368h0M805 1069h0M619 1017h0M1157 1353h0M782 1066h0M611 1030h0M893 1124h0M1129 1360h0M1274 1412h0M1545 1414h0M1101 1344h0M1235 1397h0M1547 1411h0M1297 1411h0M654 1002h0M1010 1163h0M734 968h0M1284 1411h0M612 981h0M1162 1382h0M1122 1371h0M1100 1350h0M804 901h0M1369 1409h0M1086 1308h0M996 1238h0M870 1065h0M1528 1414h0M1009 1213h0M696 956h0M1426 1415h0M1130 1388h0M1025 1262h0M1007 1192h0M638 1005h0M722 996h0M1405 1414h0M1042 1243h0M735 966h0M667 989h0M1301 1398h0M1132 1365h0M1283 1409h0M886 1047h0M1350 1411h0M1419 1415h0M748 956h0M834 1016h0M740 969h0M1473 1414h0M1410 1411h0M1006 1228h0M1358 1409h0M812 1006h0M696 923h0M906 1069h0M1426 1414h0M957 1143h0M681 989h0M781 1014h0M1128 1366h0M727 987h0M1543 1415h0M1069 1319h0M1383 1411h0M861 1045h0M1161 1385h0M1472 1414h0M1270 1409h0M817 968h0M1194 1392h0M1041 1274h0M1346 1412h0M794 1013h0M897 1060h0M1008 1210h0M668 923h0M836 991h0M913 1072h0M1213 1387h0M887 1033h0M1035 1277h0M879 996h0M1253 1411h0M1437 1413h0M897 1076h0M1112 1345h0M698 1009h0M1262 1410h0M1081 1339h0M974 1092h0M1466 1408h0M1246 1401h0M1014 1218h0M1318 1415h0M933 1082h0M647 964h0M922 1100h0M1147 1368h0M900 1020h0M1182 1368h0M682 897h0M1476 1411h0M1019 1267h0M1455 1415h0M973 1161h0M638 988h0M712 1043h0M739 1029h0M1036 1256h0M862 1000h0M1502 1414h0M928 1110h0M873 1041h0M1268 1399h0M1262 1401h0M1507 1414h0M1501 1415h0M958 1127h0M798 1001h0M1417 1408h0M1532 1409h0M1160 1354h0M1468 1411h0M959 1100h0M751 1043h0M601 1023h0M763 996h0M1062 1307h0M876 1065h0M722 957h0M1037 1277h0M636 1020h0M946 1085h0M1213 1400h0M1216 1397h0M1200 1384h0M836 966h0M1196 1402h0M798 984h0M1220 1386h0M1500 1415h0M1485 1414h0M963 1094h0M1100 1337h0M1404 1413h0M959 1100h0M924 1066h0M1503 1411h0M1543 1413h0M612 959h0M775 1052h0M872 1055h0M1299 1407h0M711 931h0M874 1007h0M812 998h0M688 972h0M1115 1344h0M1282 1413h0M1246 1403h0M1392 1411h0M1257 1400h0M1411 1409h0M715 970h0M1408 1414h0M623 978h0M960 1090h0M1389 1408h0M1273 1397h0M711 974h0M962 1138h0M1227 1401h0M954 1149h0M1300 1414h0M1466 1414h0M1367 1403h0M895 1057h0M1510 1413h0M601 951h0M854 1071h0M988 1194h0M899 1004h0M766 992h0M1533 1414h0M1417 1414h0M899 1030h0M1471 1411h0M1077 1296h0M882 1029h0M920 1101h0M651 1006h0M1170 1371h0M697 993h0M1402 1412h0M994 1211h0M1319 1415h0M598 1042h0M780 1031h0M626 1021h0M1374 1410h0M1011 1160h0M1302 1405h0M1293 1394h0M868 1009h0M1264 1406h0M1407 1404h0M1194 1412h0M1329 1412h0M695 943h0M972 1180h0M1356 1407h0M824 1049h0M842 1086h0M1132 1363h0M1514 1415h0M1154 1371h0M714 963h0M1387 1408h0M800 1063h0M1235 1404h0M1484 1413h0M726 1006h0M779 964h0M988 1171h0M1208 1408h0M974 1109h0M610 1046h0M949 1153h0M682 1048h0M1511 1414h0M730 977h0M815 1018h0M1407 1414h0M1345 1412h0M1021 1216h0M774 1019h0M1507 1414h0M1363 1411h0M845 1008h0M1433 1415h0M907 1085h0M1183 1377h0M659 998h0M906 1063h0M1224 1401h0M1251 1395h0M765 975h0M1269 1405h0M1030 1239h0M1341 1413h0M1093 1355h0M1164 1389h0M827 1001h0M709 909h0M1435 1412h0M1502 1410h0M935 1141h0M1324 1414h0M1192 1366h0M678 1018h0M1440 1404h0M665 929h0M805 1015h0M1115 1328h0M1233 1399h0M1544 1413h0M853 1072h0M774 1021h0M674 1015h0M1286 1412h0M1468 1414h0M1441 1406h0M699 992h0M979 1174h0M1166 1392h0M744 1027h0M1536 1408h0M1010 1233h0M896 1108h0M1417 1412h0M1478 1414h0M922 1034h0M1253 1402h0M902 1095h0M1117 1332h0M885 974h0M918 1089h0M1257 1406h0M1398 1408h0M807 1037h0M1491 1411h0M1027 1273h0M858 1028h0M1484 1410h0M1466 1407h0M1460 1413h0M1213 1409h0M1086 1319h0M855 983h0M923 1086h0M980 1188h0M1275 1402h0M665 1009h0M1460 1414h0M999 1206h0M1494 1412h0M620 962h0M1429 1415h0M731 1085h0M1498 1411h0M1091 1324h0M1322 1399h0M1068 1321h0M1371 1415h0M1222 1397h0M1089 1355h0M671 1016h0M862 1044h0M905 1078h0M781 996h0M1063 1247h0M1359 1413h0M851 986h0M1366 1408h0M1057 1281h0M1207 1390h0M1236 1403h0M1173 1379h0M1199 1394h0M1279 1404h0M1483 1414h0M1256 1405h0M1448 1415h0M870 1017h0M841 938h0M808 1031h0M1437 1414h0M601 952h0M1499 1415h0M1345 1410h0M1067 1289h0M1416 1414h0M1250 1401h0M1350 1412h0M834 1111h0M1323 1410h0M885 1101h0M1474 1414h0M694 943h0M1106 1331h0M863 1063h0M1018 1215h0M1338 1415h0M804 972h0M1491 1404h0M879 1010h0M1368 1409h0M1254 1388h0M1123 1365h0M1453 1413h0M782 984h0M908 1045h0M1284 1415h0M1483 1415h0M1420 1414h0M648 972h0M1197 1411h0M1011 1189h0M1516 1415h0M772 965h0M954 1176h0M1138 1364h0M684 950h0M890 1019h0M1000 1168h0M1018 1205h0M1253 1403h0M857 1027h0M1471 1414h0M1487 1415h0M1339 1411h0M1146 1368h0M1534 1415h0M1092 1286h0M1380 1408h0M1337 1407h0M873 1014h0M592 981h0M1326 1409h0M1374 1415h0M1470 1415h0M1395 1404h0M879 1025h0M1055 1262h0M1074 1309h0M645 920h0M1207 1398h0M791 985h0M1387 1412h0M1215 1402h0M747 987h0M897 1033h0M1280 1414h0M1168 1384h0M1261 1403h0M1092 1325h0M1131 1368h0M824 1015h0M1105 1347h0M935 1097h0M1425 1412h0M742 1077h0M1356 1412h0M899 1080h0M1394 1415h0M1107 1347h0M953 1153h0M1351 1412h0M1128 1339h0M1079 1297h0M1101 1335h0M1290 1414h0M1040 1227h0M1036 1166h0M687 951h0M1364 1414h0M1430 1411h0M928 1049h0M794 917h0M1275 1410h0M1411 1414h0M1277 1391h0M719 959h0M800 988h0M658 1018h0M1518 1413h0M1321 1413h0M755 1007h0M773 991h0M1414 1414h0M983 1180h0M1416 1414h0M921 1111h0M1313 1414h0M1101 1351h0M1511 1414h0M745 994h0M816 1013h0M1156 1376h0M1501 1414h0M933 1116h0M824 1021h0M844 1079h0M724 997h0M1134 1340h0M600 1010h0M659 973h0M1238 1400h0M1036 1277h0M968 1226h0M841 1020h0M1052 1269h0M1473 1409h0M649 945h0M789 1040h0M878 1121h0M653 991h0M1127 1366h0M946 1145h0" stroke-opacity="0.12"/><path d="M1142 1364h0M594 1005h0M1483 1415h0M1448 1413h0M638 986h0M644 986h0M912 1104h0M693 974h0M874 1022h0M1513 1414h0M1063 1311h0M1258 1415h0M1409 1415h0M1375 1413h0M1426 1412h0M1088 1311h0M863 1030h0M660 1008h0M950 1081h0M952 1154h0M840 1041h0M1225 1395h0M604 986h0M1342 1403h0M914 1032h0M1214 1403h0M1444 1415h0M1382 1405h0M1189 1380h0M1061 1283h0M1119 1345h0M1087 1292h0M1063 1269h0M931 1125h0M954 1161h0M623 947h0M1054 1274h0M666 920h0M1244 1380h0M724 976h0M1358 1412h0M650 971h0M1441 1410h0M899 1052h0M708 1004h0M1416 1414h0M729 1027h0M704 1029h0M637 1000h0M1356 1414h0M1478 1413h0M816 977h0M998 1196h0M762 944h0M1278 1404h0M1434 1414h0M1055 1297h0M942 1150h0M950 1143h0M660 1042h0M606 978h0M851 977h0M679 922h0M1369 1411h0M626 1046h0M1447 1412h0M799 981h0M621 988h0M1126 1361h0M1269 1400h0M1100 1357h0M1540 1413h0M1479 1413h0M1027 1243h0M1161 1392h0M1244 1402h0M592 1025h0M999 1207h0M754 985h0M1124 1368h0M890 1020h0M981 1175h0M617 945h0M701 937h0M701 945h0M1472 1414h0M1034 1250h0M1108 1343h0M1326 1406h0M1171 1380h0M1541 1413h0M1003 1156h0M854 1055h0M1323 1414h0M597 1008h0M1024 1238h0M1127 1356h0M1220 1397h0M1016 1208h0M744 912h0M1246 1404h0M1096 1360h0M1222 1406h0M710 921h0M1170 1386h0M656 958h0M1257 1410h0M676 970h0M730 1036h0M858 1002h0M853 1011h0M696 988h0M822 1036h0M801 1020h0M1394 1415h0M1133 1353h0M1346 1407h0M621 958h0M611 949h0M839 1013h0M760 1032h0M1399 1413h0M1101 1355h0M1071 1283h0M1137 1368h0M893 1050h0M1094 1322h0M701 1026h0M1422 1413h0M889 1074h0M652 984h0M1498 1413h0M1501 1414h0M825 1010h0M946 1094h0M1505 1414h0M881 1064h0M1325 1413h0M1254 1405h0M1273 1396h0M1166 1374h0M1348 1406h0M1192 1390h0M1536 1408h0M1075 1300h0M990 1185h0M1301 1414h0M1240 1409h0M1264 1404h0M1309 1410h0M750 1030h0M1093 1316h0M645 928h0M839 970h0M947 1179h0M1252 1413h0M1551 1413h0M1215 1400h0M704 874h0M944 1146h0M953 1107h0M1174 1367h0M1015 1185h0M1245 1393h0M1300 1408h0M1015 1171h0M1342 1413h0M1032 1291h0M1272 1400h0M1288 1413h0M659 1007h0M672 963h0M1356 1411h0M1145 1369h0M1341 1412h0M891 996h0M991 1174h0M945 1118h0M1160 1377h0M784 989h0M622 1010h0M646 951h0M796 1015h0M793 1030h0M1208 1390h0M1009 1204h0M1318 1412h0M762 935h0M933 1103h0M1491 1415h0M837 1048h0M1268 1402h0M1148 1393h0M1417 1413h0M979 1166h0M832 963h0M1294 1395h0M1284 1400h0M695 997h0M1262 1402h0M681 1014h0M963 1156h0M809 985h0M1103 1298h0M974 1197h0M1388 1413h0M1536 1414h0M1405 1414h0M993 1155h0M1117 1331h0M1161 1382h0M1314 1406h0M1487 1415h0M1078 1328h0M1134 1361h0M1172 1388h0M1308 1406h0M605 1008h0M1163 1363h0M1032 1267h0M676 966h0M1467 1414h0M1256 1407h0M1506 1413h0M959 1164h0M1236 1412h0M1504 1414h0M959 1077h0M684 1025h0M1363 1414h0M707 928h0M707 970h0M1183 1385h0M909 1040h0M950 1110h0M1214 1391h0M621 965h0M669 946h0M1383 1413h0M1012 1232h0M1550 1414h0M1407 1413h0M1263 1415h0M994 1187h0M1091 1317h0M1002 1199h0M1521 1415h0M1115 1378h0M1102 1339h0M691 1007h0M1325 1403h0M1233 1409h0M1447 1414h0M1471 1414h0M642 962h0M738 876h0M950 1140h0M773 1006h0M618 985h0M1070 1296h0M1071 1288h0M1242 1409h0M1196 1380h0M1223 1400h0M1168 1364h0M686 1047h0M667 960h0M819 1010h0M687 1099h0M1061 1273h0M630 1002h0M1270 1404h0M751 990h0M1080 1300h0M697 974h0M1346 1409h0M641 1009h0M1004 1208h0M1274 1405h0M1203 1392h0M1299 1415h0M999 1195h0M1545 1412h0M707 956h0M1253 1402h0M1524 1414h0M1276 1409h0M698 960h0M1542 1404h0M990 1215h0M632 998h0M878 1075h0M1193 1393h0M1533 1413h0M746 994h0M716 999h0M811 1032h0M1356 1415h0M820 1032h0M1284 1391h0M771 988h0M992 1209h0M1441 1408h0M722 998h0M1343 1412h0M1234 1409h0M869 992h0M1195 1392h0M807 976h0M1219 1400h0M880 1052h0M910 1081h0M647 941h0M1279 1412h0M934 1101h0M892 1033h0M1265 1405h0M685 966h0M864 1050h0M1537 1409h0M803 1014h0M990 1240h0M1110 1334h0M913 1161h0M1363 1414h0M1132 1357h0M937 1074h0M806 974h0M1214 1393h0M1363 1414h0M894 1060h0M995 1108h0M1166 1375h0M1148 1375h0M1035 1255h0M906 1050h0M758 922h0M1357 1415h0M1149 1362h0M1232 1406h0M1385 1415h0M731 1040h0M1271 1401h0M1468 1415h0M1406 1415h0M597 1003h0M1497 1414h0M793 1016h0M1525 1415h0M900 1107h0M1328 1415h0M702 1003h0M881 1059h0M1073 1327h0M1373 1414h0M767 976h0M989 1185h0M1285 1403h0M598 1014h0M737 1051h0M780 930h0M1267 1408h0M640 907h0M875 1007h0M1302 1406h0M1484 1414h0M1081 1314h0M802 1045h0M1252 1408h0M1083 1358h0M959 1145h0M689 925h0M1219 1395h0M885 1048h0M851 1013h0M1413 1415h0M917 1105h0M1398 1413h0M900 1116h0M733 1003h0M1123 1359h0M1133 1350h0M1088 1321h0M1406 1412h0M1220 1398h0M832 987h0M1354 1412h0M802 965h0M1290 1406h0M1516 1413h0M1261 1407h0M984 1205h0M1007 1207h0M1537 1415h0M1392 1415h0M783 1034h0M1393 1410h0M644 938h0M837 1033h0M849 999h0M1069 1255h0M1025 1236h0M1490 1414h0M1393 1414h0M1360 1413h0M1017 1209h0M940 1173h0M1205 1389h0M882 1115h0M1236 1407h0M1143 1375h0M676 898h0M1423 1410h0M1173 1400h0M1517 1415h0M725 954h0M637 998h0M954 1172h0M621 1008h0M1512 1412h0M1514 1414h0M908 1078h0M1103 1324h0M758 1017h0M1459 1409h0M1356 1415h0M1025 1242h0M702 983h0M1083 1292h0M1390 1412h0M978 1142h0M782 1012h0M1340 1415h0M1096 1317h0M1481 1412h0M1155 1381h0M972 1161h0M1107 1321h0M784 1007h0M1281 1407h0M1444 1414h0M1288 1406h0M1288 1409h0M1061 1293h0M899 1052h0M786 1030h0M1152 1362h0M936 1117h0M1407 1415h0M1164 1399h0M869 1061h0M1013 1239h0M1040 1280h0M746 1040h0M1542 1410h0M631 938h0M646 1005h0M1277 1414h0M1009 1223h0M1161 1379h0M927 1124h0M1168 1360h0M1474 1412h0M901 1046h0M1448 1414h0M774 1031h0M932 1145h0M1257 1383h0M1056 1277h0M660 933h0M1287 1404h0M1309 1414h0M727 1018h0M1168 1397h0M1514 1414h0M1288 1392h0M1133 1362h0M1100 1312h0M674 964h0M1543 1406h0M1334 1405h0M1102 1320h0M916 1096h0M1253 1412h0M1484 1414h0M1020 1198h0M616 974h0M1523 1411h0M884 1071h0M838 987h0M1127 1326h0M1341 1412h0M1134 1358h0M1113 1335h0M1490 1414h0M781 969h0M1453 1413h0M1032 1239h0M1010 1165h0M1035 1210h0M1315 1413h0M637 937h0M723 1020h0M1491 1415h0M1170 1369h0M1421 1414h0M889 1018h0M903 1044h0M1336 1410h0M1046 1260h0M972 1130h0M598 1000h0M1375 1412h0M853 1069h0M1195 1382h0M742 963h0M778 1018h0M1186 1384h0M811 1019h0M1548 1414h0M1234 1406h0M1269 1406h0M1386 1414h0M849 983h0M1469 1411h0M1462 1414h0M1446 1414h0M1036 1228h0M696 978h0M1239 1399h0M895 1051h0M904 1068h0M1336 1410h0M1132 1372h0M1190 1379h0M1251 1385h0M862 1038h0M841 1022h0M1116 1356h0M1017 1254h0M709 973h0M953 1152h0M843 1088h0M616 999h0M675 961h0M1543 1413h0M1492 1413h0M1197 1401h0M1028 1236h0M1148 1330h0M1521 1414h0M1460 1413h0M1199 1379h0M848 1042h0M918 1080h0M682 991h0M694 971h0M754 1007h0M1379 1414h0M851 1003h0M1142 1370h0M1010 1181h0M778 1015h0M1114 1303h0M607 955h0M964 1101h0M644 1026h0M970 1110h0M1395 1415h0M1241 1392h0M1378 1414h0M1534 1414h0M1419 1409h0M1551 1415h0M1497 1409h0M1116 1354h0M1175 1367h0M1192 1400h0M1180 1383h0M978 1150h0M1336 1413h0M876 1024h0M632 993h0M811 1019h0M809 1018h0M1486 1415h0M709 996h0M1388 1414h0M1391 1415h0M1293 1397h0M670 1008h0M1547 1414h0M1069 1322h0M931 1125h0M1321 1413h0M1405 1412h0M1207 1385h0M1181 1396h0M1467 1414h0M1487 1415h0M948 1162h0M625 1003h0M1067 1295h0M1507 1413h0M697 954h0M1011 1196h0M1133 1341h0M1273 1410h0M754 1054h0M922 1122h0M1370 1412h0M934 1109h0M1509 1414h0M868 1027h0M945 1116h0M862 1025h0M1195 1384h0M1043 1266h0M1201 1386h0M973 1171h0M691 1055h0M1502 1415h0M1202 1390h0M1199 1397h0M970 1159h0M926 1002h0M875 1039h0M877 1027h0M631 970h0M877 1020h0M1302 1399h0M1014 1200h0M1538 1414h0M1351 1405h0M1007 1172h0M622 982h0M900 1130h0M814 1037h0M631 1012h0M685 996h0M1334 1409h0M1198 1403h0M871 1041h0M603 1031h0M872 1080h0M1393 1409h0M1060 1281h0M1464 1410h0M1365 1414h0M1496 1413h0M817 964h0M718 1037h0M869 1045h0M864 1058h0M1072 1307h0M1520 1415h0M922 1076h0M1416 1410h0M775 1023h0M979 1126h0M1101 1306h0M633 1029h0M1366 1414h0M642 960h0M1105 1315h0M1295 1413h0M1241 1399h0M856 1067h0M1235 1403h0M901 1086h0M923 1085h0M1103 1339h0M1082 1318h0M1440 1415h0M1414 1413h0M1365 1407h0M1018 1248h0M690 886h0M1538 1409h0M1528 1412h0M1409 1410h0M1442 1413h0M699 1006h0M1327 1413h0M685 1010h0M1430 1414h0M1260 1395h0M1209 1379h0M975 1180h0M1476 1414h0M760 972h0M1431 1411h0M1516 1414h0M1489 1414h0M1512 1415h0M720 1073h0M709 972h0M1230 1407h0M988 1128h0M1133 1349h0M660 1022h0M1384 1415h0M1190 1400h0M1507 1414h0M1533 1412h0M1332 1403h0M1252 1396h0M1219 1401h0M996 1196h0M1518 1412h0M836 969h0M956 1165h0M1217 1397h0M802 1054h0M1149 1349h0M1032 1201h0M871 1042h0M1498 1414h0M1155 1391h0M1038 1266h0M606 986h0M657 970h0M904 1049h0M1381 1413h0M1025 1200h0M910 1105h0M1411 1414h0M1245 1401h0M825 1003h0M1130 1353h0M1343 1414h0M1005 1166h0M984 1214h0M654 968h0M604 952h0M1401 1414h0M1412 1412h0M667 958h0M721 972h0M653 937h0M1318 1413h0M968 1145h0M779 987h0M707 1000h0M1089 1320h0M1323 1413h0M981 1168h0M596 1013h0M842 1048h0M794 1008h0M1133 1337h0M1453 1414h0M1386 1414h0M1289 1403h0M653 917h0M1234 1400h0M1240 1412h0M1111 1333h0M1545 1415h0M985 1191h0M656 1005h0M1365 1415h0M878 1008h0M863 1030h0M1371 1414h0M1169 1373h0M623 989h0M1238 1407h0M631 1031h0M821 1011h0M671 972h0M1039 1292h0M1193 1391h0M719 1000h0M1211 1407h0M784 1038h0M1041 1263h0M700 933h0M1081 1294h0M892 1047h0M645 975h0M693 978h0M1008 1192h0M1414 1413h0M1185 1387h0M1131 1359h0M840 1018h0M1309 1409h0M906 1074h0M785 965h0M1397 1410h0M1064 1282h0M1385 1402h0M1279 1407h0M609 932h0M1032 1287h0M1399 1414h0M753 1006h0M1087 1287h0M829 1018h0M808 989h0M908 1111h0M884 1045h0M1000 1228h0M662 980h0M1083 1292h0M1036 1247h0M1545 1414h0M617 963h0M1108 1318h0M1389 1414h0M1429 1413h0M1236 1407h0M956 1120h0M1167 1391h0M1072 1300h0M677 975h0M895 1037h0M1033 1226h0M1340 1413h0M703 1025h0M593 947h0M758 1002h0M1370 1414h0M602 977h0M905 1037h0M989 1203h0M1262 1405h0M1097 1307h0M648 922h0M1059 1283h0M872 1005h0M1519 1406h0M1452 1409h0M800 1027h0M775 987h0M904 1088h0M1169 1388h0M925 1134h0M786 1004h0M1157 1387h0M748 948h0M763 974h0M678 1026h0M796 948h0M1124 1335h0M986 1184h0M794 1065h0M1475 1413h0M706 1077h0M668 984h0M1447 1413h0M832 1019h0M1131 1369h0M923 1050h0M812 936h0M1167 1377h0M987 1194h0M1201 1391h0M959 1134h0M1084 1313h0M907 1106h0M901 1058h0M874 1046h0M840 1059h0M1334 1414h0M1355 1411h0M601 996h0M959 1090h0M1400 1412h0M1138 1359h0M1103 1346h0M799 999h0M643 942h0M1515 1414h0M627 998h0M721 965h0M610 975h0M1015 1224h0M774 1002h0M834 1094h0M1370 1413h0M792 1031h0M626 930h0M721 959h0M1534 1414h0M784 947h0M1312 1414h0M1351 1413h0M1282 1410h0M1337 1412h0M1511 1413h0M1128 1366h0M1353 1413h0M843 1027h0M1430 1410h0M1099 1334h0M1372 1415h0M935 1151h0M1307 1404h0M737 959h0M944 1092h0M627 1025h0M688 934h0M718 942h0M1431 1408h0M1088 1345h0M661 1026h0M679 951h0M1070 1304h0M889 980h0M1402 1409h0M1110 1346h0M1230 1402h0M732 958h0M1447 1409h0M1354 1407h0M1323 1408h0M1449 1415h0M626 985h0M1490 1413h0M1057 1255h0M658 1030h0M712 987h0M1267 1406h0M1245 1397h0M1140 1379h0M1388 1411h0M1142 1386h0M1143 1363h0M1319 1406h0M1231 1414h0M994 1162h0M1188 1372h0M797 976h0M776 929h0M1183 1381h0M930 1058h0M1142 1367h0M1455 1414h0M1003 1205h0M1153 1403h0M1379 1407h0M599 989h0M1163 1389h0M847 1043h0M1226 1391h0M982 1122h0M1168 1368h0M834 1000h0M1174 1382h0M1241 1398h0M941 1067h0M1083 1325h0M1159 1389h0M884 1014h0M682 915h0M819 1022h0M1492 1415h0M1343 1415h0M1019 1234h0M1478 1414h0M877 1014h0M605 984h0M1480 1415h0M1523 1414h0M795 1025h0M1099 1324h0M1065 1306h0M611 1010h0M1457 1415h0M710 993h0M755 989h0M1260 1403h0M1244 1414h0M1513 1412h0M1363 1415h0M800 1076h0M616 987h0M1183 1375h0M765 1007h0M610 993h0M924 1068h0M845 1038h0M688 979h0M1245 1414h0M1025 1181h0M640 985h0M792 948h0M1192 1405h0M1444 1415h0M787 919h0M1474 1414h0M840 1014h0M1174 1369h0M855 1020h0M1010 1199h0M1072 1299h0M693 897h0M1225 1409h0M722 1023h0M617 995h0M832 958h0M1187 1382h0M1133 1399h0M1455 1415h0M910 1088h0M1360 1409h0M1504 1415h0M1467 1414h0M834 998h0M825 1009h0M885 1063h0M631 981h0M722 951h0M791 971h0M944 1112h0M1010 1238h0M1023 1220h0M727 948h0M1273 1409h0M936 1101h0M758 1018h0M1536 1413h0M1498 1408h0M1396 1414h0M740 983h0M827 1014h0M1210 1404h0M1210 1392h0M831 1061h0M1378 1414h0M1429 1408h0M813 954h0M1475 1414h0M1303 1415h0M691 986h0M603 945h0M1528 1415h0M825 966h0M1312 1411h0M1146 1374h0M1521 1414h0M1202 1385h0M1528 1412h0M1007 1219h0M947 1062h0M1514 1411h0M1270 1415h0M1092 1339h0M933 1079h0M1419 1412h0M1468 1414h0M1294 1402h0M602 938h0M1403 1409h0M1540 1415h0M1462 1413h0M775 871h0M604 949h0M902 1034h0M965 1179h0M1103 1348h0M1471 1410h0M702 1027h0M1278 1414h0M1282 1401h0M688 959h0M1534 1414h0M989 1205h0M1293 1410h0M1014 1220h0M718 1028h0M1495 1415h0M714 993h0M802 989h0M683 938h0M969 1114h0M1415 1411h0M1077 1315h0M1215 1396h0M1143 1380h0M905 1002h0M961 1166h0M794 984h0M669 1026h0M1377 1414h0M602 943h0M1167 1387h0M614 949h0M910 1111h0M1539 1414h0M1089 1314h0M886 1032h0M690 955h0M764 1057h0M1407 1412h0M897 1055h0M852 1045h0M1127 1355h0M1420 1413h0M1419 1415h0M712 960h0M1401 1407h0M1096 1321h0M1309 1412h0M891 1050h0M703 1051h0M1427 1415h0M1418 1412h0M1067 1336h0M1471 1413h0M1335 1402h0M1195 1399h0M1030 1260h0M1155 1387h0M727 975h0M1196 1400h0M1147 1364h0M1048 1295h0M761 979h0M841 1103h0M955 1086h0M1270 1409h0M881 1041h0M1236 1404h0M1255 1400h0M1043 1292h0M1374 1412h0M1076 1335h0M770 978h0M991 1193h0M976 1121h0M1182 1383h0M823 984h0M1489 1413h0M1200 1400h0M990 1171h0M867 1062h0M656 962h0M921 1128h0M1326 1408h0M1408 1411h0M1129 1372h0M947 1093h0M1491 1414h0M613 952h0M1080 1331h0M1533 1415h0M1423 1413h0M1550 1415h0M814 1008h0M603 948h0M1362 1414h0M903 1100h0M1545 1415h0M1474 1403h0M1460 1410h0M1512 1413h0M1435 1414h0M722 1028h0M991 1161h0M1046 1262h0M717 1049h0M1185 1387h0M1259 1405h0M627 1084h0M1227 1391h0M677 992h0M1445 1408h0M924 1091h0M758 976h0M1258 1402h0M932 1151h0M947 1104h0M1028 1262h0M1453 1406h0M772 1049h0M915 1076h0M1284 1409h0M1064 1293h0M1452 1413h0M1095 1330h0M988 1204h0M762 1026h0M1345 1413h0M964 1091h0M748 988h0M986 1198h0M999 1176h0M994 1172h0M1362 1406h0M722 958h0M756 1028h0M787 1063h0M1149 1390h0M1411 1413h0M971 1141h0M679 969h0M684 935h0M925 1131h0M614 990h0M1341 1412h0M1314 1402h0M979 1165h0M1031 1255h0M1000 1165h0M839 1039h0M1012 1202h0M1326 1409h0M1336 1410h0M1451 1412h0M607 983h0M1074 1299h0M909 1132h0M595 975h0M1308 1407h0M1148 1358h0M1244 1410h0M676 1011h0M709 986h0M1110 1327h0M1052 1252h0M1391 1412h0M1526 1414h0M602 1001h0M1353 1414h0M969 1165h0M1530 1415h0M886 1019h0M874 1078h0M1283 1409h0M893 1068h0M1153 1370h0M975 1174h0M600 948h0M1279 1404h0M885 1080h0M1064 1281h0M1089 1304h0M1159 1384h0M1367 1414h0M1152 1360h0M668 953h0M827 939h0M1401 1410h0M751 1009h0M881 1068h0M1427 1413h0M1480 1415h0M1427 1414h0M1357 1412h0M1508 1415h0M972 1191h0M649 907h0M778 956h0M1505 1415h0M1266 1406h0M712 979h0M662 959h0M1194 1385h0M1081 1300h0M1166 1377h0M1459 1412h0M974 1194h0M1013 1214h0M1446 1414h0M633 1048h0M1114 1330h0M1304 1411h0M1187 1397h0M940 1146h0M1188 1379h0M816 972h0M1027 1287h0M644 1019h0M1301 1415h0M1111 1335h0M1088 1321h0M1223 1392h0M751 954h0M665 949h0M927 1130h0M1351 1409h0M627 982h0M776 1022h0M954 1165h0M638 1006h0M874 965h0M1081 1329h0M991 1187h0M1495 1414h0M1407 1415h0M1371 1414h0M799 1029h0M1269 1415h0M1234 1396h0M1438 1415h0M773 987h0M900 1061h0M1205 1394h0M769 1020h0M1440 1415h0M606 991h0M911 1050h0M1531 1414h0M610 1024h0M895 1077h0M1278 1408h0M996 1181h0M1434 1415h0M908 1094h0M1418 1415h0M812 1034h0M1332 1406h0M1129 1367h0M771 971h0M744 959h0M1066 1310h0M820 1028h0M625 925h0M1169 1367h0M1084 1328h0M947 1083h0M734 1089h0M1509 1414h0M1406 1415h0M867 1072h0M1063 1294h0M958 1170h0M1143 1379h0M1091 1312h0M1168 1401h0M1146 1369h0M1041 1244h0M912 1028h0M1480 1413h0M796 1014h0M973 1171h0M1291 1414h0M1480 1413h0M709 1029h0M1427 1415h0M837 977h0M1306 1413h0M642 998h0M813 1026h0M1332 1404h0M1112 1356h0M1090 1324h0M1049 1215h0M1303 1412h0M888 1061h0M615 982h0M665 1002h0M660 990h0M1249 1405h0M1319 1415h0M1483 1412h0M784 943h0M765 977h0M1480 1411h0M697 980h0M1491 1415h0M1349 1410h0M871 1010h0M800 1025h0M1440 1410h0M1392 1414h0M1143 1350h0M836 1047h0M1155 1374h0M843 975h0M754 1018h0M1477 1413h0M1209 1373h0M1092 1278h0M672 972h0M845 1072h0M778 1039h0M1288 1410h0M844 989h0M860 1043h0M1082 1330h0M1068 1288h0M711 1034h0M984 1202h0M945 1078h0M902 1109h0M1436 1411h0M1523 1413h0M634 1005h0M823 1059h0M901 1090h0M743 969h0M675 995h0M1217 1389h0M1021 1247h0M878 1048h0M597 1013h0M1521 1414h0M618 1074h0M1362 1407h0M614 954h0M800 1017h0M736 954h0M915 1079h0M1441 1413h0M785 1010h0M959 1131h0M702 912h0M1502 1414h0M750 958h0M809 1003h0M1465 1411h0M988 1209h0M731 985h0M858 1022h0M649 948h0M978 1188h0M1211 1397h0M968 1125h0M1278 1403h0M762 1007h0M1044 1239h0M784 968h0M996 1149h0M666 1023h0M1141 1347h0M1379 1414h0M734 949h0M718 1027h0M1303 1415h0M615 1009h0M1335 1411h0M1020 1253h0M689 1020h0M1347 1412h0M706 959h0M868 1047h0M1238 1410h0M1090 1339h0M1439 1415h0M757 944h0M1522 1412h0M1452 1414h0M1132 1365h0M1209 1371h0M600 977h0M1164 1396h0M1302 1411h0M1157 1366h0M893 1082h0M1514 1411h0M1501 1413h0M877 1041h0M1330 1412h0M610 964h0M1318 1409h0M1526 1415h0M1390 1414h0M601 1061h0M609 911h0M676 998h0M781 966h0M1037 1212h0M774 1059h0M1206 1401h0M1311 1404h0M1493 1411h0M615 934h0M701 1021h0M1230 1401h0M1550 1414h0M674 955h0M875 914h0M853 1048h0M1179 1390h0M1207 1388h0M1513 1414h0M641 966h0M898 1055h0M751 992h0M784 1004h0M1286 1407h0M1420 1415h0M1436 1415h0M979 1136h0M602 962h0M933 1083h0M842 1061h0M1174 1378h0M1096 1354h0M1092 1344h0M667 961h0M926 1059h0M1412 1402h0M906 1105h0M893 1097h0M1064 1325h0M1541 1415h0M673 935h0M1227 1404h0M1464 1412h0M1523 1413h0M1092 1341h0M1113 1351h0M641 1000h0M1492 1415h0M1306 1409h0M1499 1413h0M660 933h0M1146 1356h0M1176 1390h0M1212 1404h0M1541 1413h0M1451 1413h0M706 956h0M1290 1404h0M1307 1413h0M1490 1415h0M967 1127h0M1162 1371h0M896 1085h0M1091 1336h0M705 968h0M1247 1412h0M761 1081h0M1115 1358h0M821 1010h0M929 1088h0M1199 1396h0M607 977h0M1473 1414h0M955 1141h0M1020 1219h0M932 1137h0M1435 1414h0M1145 1355h0M848 1071h0M881 1061h0M790 1005h0M978 1191h0M1072 1298h0M1063 1337h0M1409 1409h0M838 998h0M728 981h0M908 1009h0M908 1065h0M1325 1414h0M817 997h0M652 977h0M1524 1413h0M786 935h0M797 944h0M1421 1408h0M1400 1410h0M1281 1403h0M988 1158h0M655 1036h0M1041 1267h0M647 936h0M1461 1414h0M923 1118h0M926 1076h0M1434 1413h0M1483 1415h0M871 1144h0M1066 1310h0M1467 1413h0M1174 1382h0M920 1073h0M950 1120h0M1495 1406h0M854 1080h0M1274 1390h0M1008 1195h0M1433 1414h0M623 975h0M934 1095h0M698 946h0M637 972h0M1482 1414h0M1312 1408h0M1463 1414h0M974 1102h0M849 1028h0M803 1040h0M1423 1415h0M1346 1411h0M831 1018h0M1346 1414h0M877 1034h0M1174 1372h0M1077 1340h0M1443 1415h0M749 1012h0M934 1129h0M1498 1411h0M967 1162h0M1204 1390h0M945 1147h0M1423 1414h0M1516 1415h0M1196 1377h0M887 1039h0M935 1055h0M1394 1413h0M1315 1405h0M989 1179h0M1193 1393h0M1448 1408h0M1277 1410h0M1063 1283h0M706 977h0M1023 1259h0M664 1032h0M796 983h0M663 981h0M1383 1409h0M1211 1387h0M1246 1406h0M1283 1413h0M778 988h0M1285 1414h0M606 1000h0M1312 1411h0M641 945h0M907 1143h0M1476 1412h0M1290 1396h0M1278 1412h0M1277 1413h0M595 990h0M1460 1414h0M1348 1414h0M1307 1412h0M1461 1415h0M1499 1413h0M840 975h0M868 994h0M1291 1395h0M1177 1400h0M1112 1345h0M777 949h0M1007 1172h0M818 940h0M675 938h0M1018 1164h0M1090 1309h0M1157 1371h0M1518 1411h0M746 955h0M1082 1347h0M1315 1407h0M1095 1325h0M684 973h0M1228 1398h0M912 1092h0M1045 1263h0M749 1009h0M1542 1414h0M1483 1415h0M1326 1411h0M1265 1403h0M1467 1415h0M1029 1253h0M931 1089h0M905 1034h0M1374 1410h0M937 1074h0M608 921h0M1272 1407h0M938 1089h0M1177 1384h0M694 1028h0M1006 1192h0M756 969h0M935 1068h0M1503 1414h0M1368 1415h0M1214 1393h0M658 961h0M853 1018h0M1436 1415h0M980 1144h0M775 986h0M1297 1407h0M999 1152h0M1508 1415h0M712 935h0M1006 1210h0M1286 1414h0M919 1119h0M1385 1401h0M1338 1410h0M657 976h0M947 1125h0M894 1071h0M859 1013h0M744 996h0M1131 1377h0M775 1031h0M898 1080h0M1378 1415h0M1268 1415h0M943 1136h0M952 1107h0M616 999h0M1133 1354h0M1050 1299h0M1025 1271h0M1348 1398h0M1478 1415h0M734 980h0M1225 1406h0M1012 1237h0M1239 1404h0M718 1032h0M1345 1409h0M1236 1405h0M1403 1412h0M1440 1415h0M1303 1409h0M784 1014h0M820 1044h0M716 953h0M652 971h0M1360 1413h0M714 936h0M902 1101h0M1099 1344h0" stroke-opacity="0.2"/><path d="M1189 1389h0M619 959h0M766 988h0M1109 1355h0M844 956h0M791 983h0M1358 1415h0M1128 1378h0M873 1052h0M756 1006h0M750 947h0M625 972h0M1413 1414h0M993 1190h0M1175 1373h0M1471 1415h0M960 1126h0M1064 1263h0M1436 1412h0M927 1086h0M1028 1259h0M775 1048h0M883 1048h0M866 990h0M1549 1413h0M1307 1404h0M720 970h0M736 1019h0M1026 1226h0M1232 1397h0M1026 1239h0M1498 1415h0M1363 1414h0M591 964h0M704 1011h0M821 1019h0M1211 1393h0M985 1169h0M1069 1292h0M1413 1414h0M1313 1414h0M784 977h0M1385 1415h0M1420 1415h0M896 1082h0M1254 1406h0M864 1061h0M988 1169h0M1251 1410h0M1130 1354h0M902 1136h0M1198 1387h0M771 992h0M1124 1365h0M1495 1415h0M1515 1414h0M958 1110h0M1044 1237h0M1043 1255h0M1493 1414h0M1040 1253h0M912 1037h0M1117 1354h0M726 1007h0M1126 1340h0M652 982h0M844 955h0M633 1021h0M629 990h0M1145 1388h0M652 942h0M1095 1347h0M1030 1158h0M1393 1414h0M1253 1400h0M651 919h0M1473 1408h0M659 1005h0M720 931h0M1329 1411h0M1361 1408h0M914 1147h0M891 1096h0M1410 1405h0M1221 1411h0M949 1097h0M1454 1408h0M1328 1414h0M1382 1410h0M774 971h0M1423 1411h0M1193 1388h0M1288 1414h0M1169 1383h0M874 1060h0M982 1180h0M1339 1414h0M1141 1347h0M1445 1410h0M1006 1217h0M1186 1396h0M778 936h0M1320 1400h0M1042 1263h0M848 956h0M705 1015h0M1163 1373h0M881 1059h0M1303 1410h0M1015 1235h0M1331 1406h0M1183 1385h0M1413 1415h0M1225 1396h0M672 1036h0M1216 1382h0M1277 1415h0M691 992h0M1299 1412h0M1463 1403h0M1091 1274h0M1548 1414h0M707 981h0M1181 1375h0M814 993h0M876 978h0M1407 1411h0M919 1089h0M1484 1414h0M1165 1382h0M1530 1414h0M1538 1414h0M1143 1334h0M1320 1403h0M664 1007h0M1464 1414h0M1221 1404h0M1515 1410h0M1489 1409h0M1447 1412h0M945 1131h0M1439 1415h0M662 1002h0M898 995h0M1248 1398h0M939 1181h0M1350 1407h0M667 971h0M1010 1198h0M1257 1401h0M967 1097h0M1207 1390h0M1434 1411h0M1439 1410h0M1533 1412h0M1182 1381h0M1421 1404h0M618 934h0M1104 1331h0M1500 1415h0M973 1171h0M1514 1414h0M916 1088h0M1041 1280h0M608 1034h0M1294 1407h0M1290 1413h0M927 1093h0M932 1130h0M981 1129h0M1265 1397h0M994 1184h0M920 1057h0M1323 1413h0M622 905h0M1046 1245h0M1254 1410h0M946 1105h0M698 1026h0M941 1149h0M1489 1408h0M1294 1414h0M1476 1411h0M1520 1413h0M1070 1327h0M1332 1410h0M1539 1414h0M1447 1412h0M628 1022h0M982 1141h0M1067 1297h0M961 1123h0M1292 1402h0M870 1038h0M1115 1326h0M1192 1403h0M734 957h0M893 1030h0M842 1028h0M1130 1321h0M1144 1371h0M891 1019h0M1019 1213h0M1077 1322h0M852 1023h0M1298 1405h0M1349 1414h0M1405 1413h0M1108 1324h0M1039 1265h0M1263 1398h0M770 1011h0M686 962h0M605 1034h0M1291 1410h0M1462 1415h0M919 1039h0M1356 1408h0M1294 1415h0M1403 1410h0M705 1015h0M876 1093h0M1522 1411h0M849 1090h0M1284 1409h0M1041 1306h0M1310 1410h0M1110 1311h0M1161 1388h0M1049 1241h0M1534 1414h0M933 1167h0M1429 1414h0M1476 1414h0M1361 1410h0M934 1068h0M609 952h0M925 1062h0M1283 1407h0M1130 1342h0M790 1024h0M1447 1413h0M636 930h0M1465 1414h0M732 949h0M916 1144h0M1088 1284h0M1439 1414h0M1499 1409h0M999 1129h0M760 959h0M661 951h0M1422 1414h0M641 996h0M1194 1389h0M1262 1415h0M1433 1415h0M870 1030h0M1083 1310h0M782 1085h0M1506 1415h0M1284 1409h0M824 961h0M1200 1403h0M997 1210h0M1431 1415h0M1302 1409h0M1307 1402h0M1430 1413h0M1381 1414h0M1160 1381h0M1074 1293h0M834 1014h0M1243 1414h0M1484 1414h0M724 963h0M1416 1415h0M1464 1414h0M1256 1415h0M1091 1319h0M1442 1414h0M1413 1414h0M1362 1413h0M872 1055h0M907 1081h0M1368 1415h0M1110 1342h0M1187 1385h0M1317 1414h0M1429 1415h0M1378 1413h0M1432 1414h0M1339 1415h0M1454 1414h0M1173 1387h0M1307 1413h0M749 1070h0M656 1013h0M1097 1339h0M1379 1412h0M740 995h0M1486 1415h0M903 1024h0M890 1060h0M1204 1409h0M1541 1415h0M1109 1360h0M1462 1413h0M864 1025h0M1199 1389h0M1381 1409h0M970 1128h0M1329 1411h0M1033 1245h0M1079 1314h0M1393 1412h0M1264 1397h0M992 1130h0M1047 1263h0M1233 1405h0M877 1051h0M1448 1415h0M929 1199h0M1517 1414h0M1199 1397h0M592 921h0M1303 1408h0M1281 1401h0M1263 1415h0M1275 1407h0M1067 1298h0M1359 1415h0M934 1082h0M882 1059h0M1234 1373h0M1164 1385h0M754 1022h0M1485 1412h0M1080 1303h0M1240 1393h0M808 961h0M1067 1272h0M785 1034h0M1201 1389h0M1351 1414h0M1489 1410h0M1404 1413h0M1176 1382h0M939 1124h0M1448 1410h0M1202 1383h0M1347 1411h0M1055 1270h0M676 936h0M827 981h0M690 908h0M1400 1414h0M617 1072h0M715 978h0M724 1018h0M1222 1385h0M1061 1301h0M1411 1413h0M1397 1413h0M613 996h0M796 1015h0M1247 1398h0M1404 1412h0M1271 1405h0M1306 1408h0M1532 1414h0M639 943h0M804 1129h0M1161 1385h0M1041 1271h0M1435 1414h0M714 983h0M1055 1302h0M824 983h0M1505 1408h0M703 955h0M607 986h0M1369 1413h0M944 1127h0M864 1102h0M807 1094h0M1379 1408h0M1183 1369h0M1528 1411h0M1167 1374h0M803 988h0M1302 1406h0M1046 1269h0M931 1102h0M904 1038h0M1524 1415h0M1201 1388h0M1429 1409h0M715 990h0M1076 1303h0M869 1017h0M1229 1402h0M631 1009h0M1480 1412h0M807 956h0M1476 1404h0M1073 1297h0M638 998h0M1003 1226h0M734 966h0M1488 1415h0M1251 1410h0M1184 1378h0M1101 1319h0M1487 1414h0M625 1004h0M643 966h0M955 1149h0M1315 1408h0M646 960h0M805 1010h0M887 1053h0M1017 1239h0M948 1101h0M1265 1411h0M948 1121h0M1139 1391h0M640 1008h0M877 1086h0M704 1049h0M844 973h0M1461 1410h0M933 1120h0M1384 1412h0M1472 1415h0M1184 1384h0M1063 1292h0M993 1219h0M1420 1414h0M1426 1414h0M1079 1321h0M1084 1298h0M1277 1414h0M1228 1391h0M695 995h0M807 1009h0M1253 1401h0M1464 1412h0M703 985h0M930 1138h0M978 1228h0M1547 1413h0M935 1092h0M1207 1390h0M1407 1414h0M1432 1412h0M1412 1415h0M1223 1415h0M1119 1326h0M1273 1392h0M1048 1264h0M613 899h0M1216 1400h0M1321 1408h0M952 1092h0M996 1176h0M1314 1413h0M867 1047h0M941 1088h0M1253 1404h0M1263 1414h0M1284 1410h0M1326 1414h0M676 1052h0M733 997h0M812 1051h0M663 1014h0M845 1020h0M1475 1414h0M1316 1404h0M880 1029h0M1373 1414h0M1059 1278h0M1123 1352h0M1372 1404h0M1457 1407h0M1329 1415h0M1170 1368h0M1277 1412h0M619 952h0M1109 1356h0M1333 1414h0M1027 1229h0M1179 1379h0M620 1015h0M1516 1409h0M1389 1414h0M1277 1415h0M999 1183h0M1267 1410h0M783 983h0M631 998h0M1232 1400h0M1041 1261h0M908 1040h0M729 954h0M757 1017h0M800 995h0M1298 1402h0M821 994h0M1320 1415h0M1379 1408h0M951 1104h0M1099 1346h0M648 1029h0M659 956h0M1336 1413h0M965 1132h0M1148 1373h0M1264 1403h0M1378 1412h0M625 1013h0M1403 1411h0M764 1021h0M716 971h0M1409 1408h0M1086 1332h0M1063 1266h0M903 1089h0M1327 1404h0M1513 1414h0M1038 1250h0M742 1007h0M1075 1346h0M738 989h0M712 1039h0M1396 1412h0M1150 1371h0M1383 1408h0M924 1084h0M1478 1412h0M1131 1340h0M1324 1413h0M627 959h0M1225 1407h0M1467 1414h0M1217 1393h0M1264 1406h0M855 1047h0M1134 1367h0M1065 1296h0M1397 1411h0M856 1073h0M1110 1317h0M1534 1411h0M1270 1406h0M969 1163h0M617 1014h0M1540 1413h0M848 1013h0M1261 1398h0M1128 1337h0M1385 1414h0M612 1024h0M1064 1307h0M972 1134h0M818 945h0M623 996h0M1505 1415h0M1400 1415h0M1336 1413h0M1494 1414h0M1547 1414h0M1466 1410h0M689 994h0M1388 1412h0M1118 1317h0M1005 1166h0M1405 1415h0M883 1045h0M1007 1258h0M787 1011h0M705 976h0M1120 1351h0M724 1018h0M1273 1403h0M1444 1414h0M730 991h0M1248 1395h0M1169 1377h0M787 993h0M1146 1386h0M907 1087h0M830 1015h0M639 1022h0M971 1143h0M959 1121h0M796 968h0M846 1027h0M1546 1413h0M1011 1216h0M1428 1414h0M1214 1396h0M1503 1411h0M1295 1404h0M1269 1410h0M1337 1415h0M1372 1412h0M1013 1218h0M845 1041h0M823 988h0M656 1025h0M1415 1414h0M1326 1413h0M1088 1307h0M1235 1402h0M1183 1389h0M939 1096h0M978 1168h0M1549 1414h0M1132 1372h0M948 1157h0M1528 1413h0M1475 1409h0M717 958h0M798 1031h0M1268 1402h0M850 1024h0M1120 1348h0M1142 1369h0M771 1036h0M1339 1406h0M1061 1281h0M751 1013h0M803 1029h0M614 939h0M1417 1415h0M915 1080h0M1277 1404h0M1298 1411h0M955 1169h0M1254 1395h0M1547 1415h0M1364 1414h0M818 967h0M1192 1402h0M1358 1412h0M1351 1415h0M1055 1294h0M1105 1332h0M1248 1404h0M1317 1406h0M1245 1407h0M803 1038h0M879 1029h0M1445 1414h0M793 940h0M989 1172h0M1103 1336h0M1084 1335h0M1233 1404h0M1278 1399h0M1440 1413h0M1526 1409h0M1197 1391h0M1391 1413h0M852 1047h0M840 1017h0M594 975h0M1419 1415h0M1356 1410h0M1324 1410h0M702 1013h0M598 923h0M1172 1401h0M844 989h0M1129 1389h0M617 959h0M1082 1330h0M1446 1414h0M1285 1412h0M1157 1378h0M818 1033h0M1077 1316h0M820 969h0M1312 1413h0M1174 1389h0M973 1158h0M1097 1317h0M1222 1400h0M1187 1385h0M1198 1386h0M1238 1394h0M797 1038h0M661 969h0M1164 1384h0M1054 1292h0M1018 1164h0M956 1139h0M888 1065h0M875 1076h0M617 1006h0M870 1009h0M775 998h0M801 1003h0M720 999h0M1442 1410h0M940 1119h0M1021 1238h0M1057 1274h0M873 1028h0M1325 1409h0M1265 1406h0M690 893h0M754 1001h0M1006 1268h0M1261 1415h0M1411 1412h0M1421 1412h0M1401 1407h0M874 1043h0M721 996h0M1299 1414h0M1296 1411h0M711 987h0M1261 1413h0M832 1001h0M784 1048h0M1132 1376h0M808 1046h0M704 993h0M1424 1410h0M710 980h0M1291 1409h0M847 1008h0M836 1020h0M865 1013h0M872 1084h0M833 968h0M760 953h0M1497 1411h0M1133 1380h0M747 1017h0M1391 1411h0M1202 1398h0M1081 1320h0M1030 1226h0M822 1013h0M1213 1393h0M754 985h0M813 954h0M951 1078h0M1389 1410h0M989 1193h0M633 954h0M1255 1399h0M683 988h0M1446 1414h0M1324 1409h0M795 954h0M906 1093h0M923 1108h0M746 1029h0M1104 1347h0M1416 1415h0M1469 1413h0M1245 1406h0M812 1086h0M1374 1404h0M1403 1414h0M1181 1377h0M1113 1340h0M1471 1407h0M935 1141h0M1434 1411h0M1278 1410h0M1090 1333h0M1537 1415h0M1027 1254h0M1498 1413h0M939 1126h0M1102 1317h0M1162 1391h0M1086 1267h0M1415 1414h0M1139 1360h0M1186 1386h0M1300 1403h0M900 1042h0M1140 1388h0M1159 1387h0M887 1065h0M1410 1415h0M1262 1401h0M708 950h0M1302 1414h0M1208 1393h0M1089 1318h0M987 1168h0M914 1117h0M618 990h0M1060 1283h0M1077 1300h0M1364 1414h0M1048 1285h0M717 900h0M1135 1364h0M1095 1361h0M768 1038h0M1527 1412h0M1545 1415h0M1087 1304h0M1009 1252h0M660 1061h0M1361 1405h0M1391 1415h0M1527 1407h0M873 1155h0M827 1033h0M914 1080h0M1049 1320h0M902 1010h0M1517 1412h0M1406 1414h0M631 994h0M1033 1287h0M726 1004h0M896 1073h0M1348 1414h0M640 949h0M1181 1383h0M682 1089h0M1164 1382h0M1427 1410h0M1146 1382h0M1171 1382h0M1481 1410h0M1305 1410h0M796 986h0M1245 1411h0M824 926h0M1241 1407h0M1245 1397h0M1031 1229h0M991 1196h0M594 1004h0M764 1015h0M635 986h0M856 1069h0M826 1004h0M1242 1394h0M1056 1279h0M1311 1413h0M838 1006h0M703 996h0M1498 1412h0M1524 1411h0M1510 1414h0M1019 1279h0M955 1122h0M1465 1411h0M799 959h0M847 1090h0M1208 1394h0M1256 1414h0M785 1054h0M1285 1414h0M1541 1411h0M1533 1410h0M694 976h0M1230 1404h0M599 929h0M1182 1372h0M1433 1414h0M804 997h0M1001 1144h0M1385 1414h0M1470 1411h0M1173 1406h0M1379 1412h0M1544 1413h0M662 1001h0M669 974h0M966 1087h0M1351 1413h0M1098 1331h0M992 1188h0M708 959h0M865 1032h0M1005 1238h0M858 1047h0M1199 1382h0M781 976h0M859 951h0M981 1196h0M909 1045h0M919 1109h0M1332 1411h0M1372 1414h0M1447 1413h0M1121 1316h0M766 979h0M797 992h0M1366 1414h0M993 1232h0M885 1031h0M781 1029h0M1529 1414h0M1409 1412h0M943 1126h0M1147 1357h0M1367 1414h0M867 1030h0M1024 1242h0M662 968h0M817 933h0M749 977h0M1036 1281h0M1398 1413h0M931 1072h0M1164 1386h0M1174 1390h0M943 1161h0M1275 1400h0M803 1029h0M1459 1415h0M1334 1407h0M1508 1414h0M1253 1401h0M1391 1414h0M1253 1402h0M1296 1407h0M621 1079h0M1421 1413h0M1024 1235h0M863 997h0M1251 1401h0M961 1133h0M736 1002h0M1008 1239h0M1058 1276h0M1270 1411h0M839 1035h0M1095 1349h0M1473 1408h0M642 995h0M928 1124h0M714 973h0M1306 1411h0M1327 1412h0M1349 1407h0M788 1096h0M1237 1403h0M1544 1411h0M1363 1414h0M1358 1413h0M849 988h0M1443 1411h0M1002 1177h0M853 1019h0M1279 1405h0M1005 1201h0M734 975h0M873 1058h0M1475 1415h0M742 938h0M1060 1306h0M1015 1304h0M922 1066h0M1457 1414h0M1101 1348h0M830 969h0M1315 1403h0M1549 1410h0M1416 1408h0M1501 1413h0M893 1052h0M955 1133h0M962 1111h0M962 1172h0M1108 1336h0M1415 1415h0M1247 1409h0M754 975h0M1414 1410h0M1325 1406h0M1356 1415h0M1394 1410h0M1073 1308h0M738 943h0M1450 1405h0M835 1013h0M1211 1414h0M614 941h0M986 1134h0M618 989h0M1068 1312h0M1476 1411h0M636 972h0M999 1229h0M721 960h0M958 1126h0M680 989h0M1087 1321h0M727 1050h0M1448 1415h0M1156 1373h0M1480 1412h0M1319 1412h0M1129 1328h0M1457 1409h0M1464 1413h0M748 1013h0M648 979h0M1384 1415h0M683 1015h0M1383 1410h0M633 969h0M1154 1367h0M984 1163h0M1016 1207h0M866 1024h0M1041 1297h0M913 1124h0M1273 1400h0M1032 1273h0M1278 1413h0M1403 1415h0M932 1073h0M943 1082h0M940 1109h0M1408 1410h0M1352 1415h0M943 1098h0M1036 1253h0M613 924h0M838 1092h0M621 1034h0M1250 1402h0M928 1121h0M1091 1321h0M613 996h0M851 1072h0M1036 1279h0M1537 1415h0M1018 1263h0M1053 1276h0M1270 1399h0M657 922h0M1252 1408h0M1110 1365h0M1439 1414h0M741 983h0M1250 1393h0M998 1192h0M1459 1409h0M1378 1412h0M1116 1344h0M1281 1414h0M1228 1406h0M1205 1400h0M604 997h0M1195 1388h0M1028 1274h0M1197 1393h0M704 943h0M1508 1415h0M854 999h0M1047 1281h0M834 1043h0M1281 1406h0M782 946h0M1353 1414h0M1514 1415h0M1208 1386h0M1532 1410h0M889 1025h0M1153 1383h0M963 1129h0M610 1046h0M1192 1377h0M1418 1413h0M1339 1414h0M1035 1227h0M1403 1415h0M1262 1402h0M602 982h0M637 954h0M1361 1414h0M1303 1411h0M1236 1395h0M1114 1324h0M1392 1410h0M699 902h0M1088 1320h0M660 934h0M1207 1402h0M1484 1414h0M1205 1409h0M794 1018h0M634 1059h0M870 1055h0M697 940h0M1445 1414h0M635 953h0M1201 1399h0M970 1170h0M1524 1414h0M868 1081h0M1308 1413h0M711 855h0M758 1032h0M1357 1413h0M1374 1414h0M1059 1288h0M743 978h0M750 975h0M1248 1395h0M1310 1409h0M660 1002h0M974 1164h0M647 951h0M681 1021h0M1067 1314h0M943 1073h0M801 998h0M835 1035h0M1157 1376h0M1411 1409h0M1332 1414h0M863 997h0M917 1098h0M1488 1410h0M814 1029h0M964 1151h0M900 1079h0M1342 1407h0M1277 1406h0M1382 1413h0M808 1008h0M1239 1405h0M1430 1414h0M1118 1320h0M1186 1388h0M1098 1359h0M969 1145h0M1402 1410h0M592 952h0M1109 1357h0M1123 1356h0M1228 1402h0M635 1010h0M1117 1375h0M1024 1234h0M1091 1317h0M930 1104h0M1210 1400h0M641 1045h0M886 1008h0M1058 1288h0M980 1158h0M652 964h0M825 1017h0M1533 1412h0M1170 1354h0M1311 1415h0M1053 1261h0M1086 1294h0M871 1038h0M958 1112h0M1444 1412h0M1090 1330h0M1003 1182h0M1401 1413h0M1190 1377h0M757 1014h0M1007 1232h0M1474 1414h0M1426 1414h0M1225 1388h0M1121 1355h0M663 1012h0M1184 1370h0M1349 1415h0M1316 1409h0M1166 1384h0M1205 1406h0M1503 1410h0M1065 1308h0M1514 1414h0M864 1071h0M1078 1294h0M1502 1412h0M1211 1400h0M1172 1366h0M1029 1268h0M896 1072h0M683 973h0M1239 1402h0M991 1152h0M1427 1407h0M632 957h0M999 1200h0M1018 1220h0M1421 1414h0M1149 1364h0M995 1203h0M1261 1413h0M1127 1377h0M1144 1350h0M812 942h0M1547 1414h0M1495 1408h0M1337 1415h0M934 1060h0M1150 1378h0M667 1019h0M952 1129h0M899 998h0M823 963h0M1316 1415h0M1319 1405h0M1210 1392h0M1323 1414h0M1337 1411h0M1437 1413h0M1110 1302h0M1449 1413h0M1532 1413h0M822 964h0M1218 1408h0M1051 1269h0M1095 1332h0M1284 1415h0M837 962h0M1101 1305h0M1094 1306h0M951 1142h0M731 980h0M1039 1227h0M655 1022h0M645 989h0M1057 1260h0M780 1068h0M845 1055h0M669 1039h0M1265 1410h0M1346 1410h0M660 927h0M644 909h0M1539 1414h0M918 1076h0M1543 1413h0M867 985h0M936 1166h0M1525 1412h0M1308 1397h0M806 975h0M961 1116h0M831 1093h0M1501 1414h0M938 1107h0M1467 1413h0M1262 1397h0M704 1028h0M1446 1409h0M841 984h0M1479 1414h0M1205 1386h0M1018 1225h0M1064 1308h0M1227 1405h0M1147 1368h0M1093 1344h0M1107 1297h0M1217 1397h0M1235 1390h0M1150 1353h0M1186 1381h0M1550 1413h0M816 950h0M620 956h0M1282 1408h0M1167 1399h0M703 1025h0M1070 1323h0M1286 1410h0M1412 1415h0M954 1137h0M1464 1414h0M793 1073h0M1397 1414h0M1227 1411h0M1349 1404h0M818 1006h0M816 959h0M794 976h0M1425 1414h0M1462 1415h0M1383 1406h0M597 942h0M1351 1414h0M1468 1411h0M1252 1401h0M659 1020h0M1090 1316h0M1520 1406h0M814 1022h0M670 946h0M1122 1361h0M1381 1414h0M1024 1225h0M1005 1187h0M1438 1414h0M1491 1414h0M613 955h0M783 1027h0M1046 1246h0M685 979h0M780 1041h0M1417 1413h0M744 1046h0M1038 1262h0M833 1038h0M1278 1412h0M1045 1274h0M723 964h0M975 1206h0M1004 1266h0M632 956h0M919 1113h0M676 959h0M866 1064h0M1198 1396h0M1153 1373h0M870 1056h0M727 951h0M902 1059h0M968 1130h0M1118 1358h0M1330 1415h0M993 1226h0M815 1060h0M794 1000h0M984 1155h0M1334 1415h0M756 1015h0M936 1122h0M684 1056h0M1118 1372h0M1042 1284h0M1489 1414h0M1550 1414h0M622 988h0M1270 1396h0M957 1174h0M1371 1413h0M1422 1414h0M1169 1369h0M772 1052h0M1475 1414h0M884 1022h0M1108 1337h0M739 896h0M963 1172h0M1375 1413h0M719 983h0M819 1004h0M1361 1415h0M776 1023h0M1249 1408h0M841 1055h0M1426 1414h0M683 995h0M1208 1400h0M1120 1379h0M1071 1314h0M1355 1414h0M822 951h0M1200 1382h0M1088 1318h0M1438 1413h0M894 1070h0M1137 1368h0M1347 1408h0M1054 1281h0M1012 1168h0M1098 1300h0M1112 1366h0M878 995h0M1034 1272h0M1094 1320h0M949 1128h0M1139 1371h0M866 1013h0M1533 1411h0M869 1035h0M810 1048h0M1436 1413h0M805 1020h0M1476 1415h0M1361 1408h0M1442 1415h0M1225 1385h0M991 1177h0M715 958h0M1177 1406h0M782 954h0M1254 1406h0M596 1015h0M1206 1388h0M654 944h0M962 1125h0M600 996h0M1329 1415h0M1323 1403h0M1469 1414h0M1101 1330h0M1501 1415h0M756 987h0M1179 1391h0M1277 1398h0M1320 1406h0M620 890h0M664 937h0M893 1091h0M775 997h0M1066 1322h0M1254 1400h0M1411 1409h0M1299 1406h0M1360 1410h0M1395 1412h0M1028 1246h0M1272 1407h0M905 1140h0M1081 1312h0M646 1004h0M860 972h0M860 971h0M1292 1411h0M817 1059h0M948 1122h0M940 1113h0M1004 1208h0M624 946h0M1075 1303h0M1377 1411h0M1447 1405h0M636 975h0M1412 1414h0M1264 1405h0M1440 1410h0M1497 1414h0M1119 1371h0M1145 1379h0M902 1069h0M1519 1411h0M1418 1406h0M760 1007h0M1131 1341h0M895 1109h0M1007 1191h0M765 1007h0M703 981h0M1169 1388h0M794 1029h0M947 1155h0M1280 1407h0M654 919h0M1000 1146h0M1310 1409h0M1351 1410h0M1285 1415h0M1042 1244h0M676 1004h0M996 1174h0M1349 1414h0M1328 1412h0M1157 1384h0M615 926h0M1407 1413h0M1053 1305h0M1449 1410h0M1232 1394h0M969 1138h0M904 1068h0M911 1115h0M740 1035h0M1112 1358h0M850 1022h0M1402 1410h0M779 974h0M1330 1407h0M1126 1326h0M1400 1414h0M1147 1378h0M1486 1415h0M1309 1404h0M831 1013h0M604 1001h0M1050 1280h0M1488 1413h0M1506 1407h0M1184 1391h0M800 972h0M1062 1259h0M1202 1385h0M865 1055h0M1007 1202h0M622 939h0M901 1080h0M948 1098h0M1538 1411h0M1314 1402h0M1189 1403h0M1273 1409h0M871 998h0M1504 1413h0M1365 1414h0M1215 1389h0M802 1006h0M1322 1403h0M708 1038h0M1115 1363h0M1103 1335h0M991 1152h0M1015 1298h0M1177 1392h0M1370 1408h0M1328 1400h0M881 1064h0M1512 1411h0M907 1110h0M1038 1251h0M955 1103h0M1184 1372h0M995 1171h0M1428 1410h0M1056 1253h0M632 1001h0M750 942h0M1502 1415h0M1526 1412h0M1493 1415h0M673 946h0M799 985h0M643 896h0M1527 1413h0M779 943h0M1356 1415h0M735 1022h0M864 1012h0M786 977h0M1362 1405h0M1409 1414h0M1328 1414h0M925 1101h0M902 1076h0M1324 1409h0M907 1068h0M1441 1411h0M984 1186h0M1461 1414h0M932 1109h0M1308 1411h0M1033 1237h0M622 992h0M1079 1334h0M1225 1401h0M796 1007h0M1221 1382h0M1362 1414h0M1272 1404h0M1326 1406h0M1016 1265h0M1202 1386h0M679 964h0M698 942h0M1352 1406h0M1442 1415h0M1395 1404h0M739 964h0M984 1193h0M609 994h0M836 991h0M984 1192h0M976 1153h0M1354 1415h0M871 1071h0M665 933h0M1349 1414h0M834 1006h0M1288 1412h0M1518 1414h0M862 1014h0M651 958h0M1362 1415h0M733 940h0M1021 1211h0M1446 1412h0M1073 1286h0M669 1011h0M1480 1413h0M1031 1296h0M1352 1413h0M666 995h0M1405 1414h0M1165 1369h0M756 1023h0M863 1043h0M838 1066h0M1490 1412h0M1515 1415h0M1333 1411h0M683 904h0M1139 1364h0M1442 1409h0M1391 1412h0M662 997h0M1054 1284h0M1211 1393h0M641 1023h0M956 1142h0M1182 1386h0M1474 1414h0M1330 1414h0M739 1039h0M1486 1412h0M688 982h0M1023 1287h0M1381 1409h0M870 1055h0M622 975h0M1328 1407h0M905 991h0M1299 1404h0M942 1072h0M1143 1373h0M1029 1209h0M860 1057h0M1068 1300h0M649 967h0M1243 1398h0M1181 1401h0M1230 1404h0M1174 1380h0M826 1077h0M1329 1406h0M1279 1401h0M1546 1414h0M1415 1407h0M1523 1415h0M622 998h0M1080 1320h0M870 999h0M1413 1414h0M1483 1405h0M817 1007h0M1347 1414h0M1177 1404h0M1231 1400h0M1027 1198h0M791 984h0M1290 1409h0M1037 1265h0M910 1027h0M631 1030h0M997 1133h0M1539 1410h0M1165 1369h0M721 949h0M677 991h0M1380 1407h0M706 966h0M1043 1261h0M1434 1406h0M1381 1415h0M1498 1413h0M1449 1409h0M1110 1363h0M1541 1415h0M730 1020h0M1520 1415h0M1102 1330h0M1055 1290h0M1022 1243h0M1039 1276h0M1346 1414h0M694 1024h0M1338 1406h0M1023 1227h0M957 1159h0M1404 1412h0M870 1034h0M1090 1325h0M1212 1398h0M835 993h0M1233 1406h0M1040 1257h0M942 1093h0M684 982h0M1139 1385h0M1539 1413h0M1429 1413h0M593 991h0M1461 1409h0M1145 1389h0M1456 1414h0M1482 1415h0M944 1133h0M832 984h0M597 972h0M993 1181h0M1475 1414h0M694 943h0M1016 1191h0M1134 1334h0M1299 1408h0M1106 1339h0M1227 1404h0M877 945h0M1305 1409h0M1331 1411h0M950 1092h0M698 970h0M789 971h0M880 1063h0M1503 1406h0M980 1135h0M1541 1414h0M1548 1413h0M1311 1411h0M1059 1280h0M1448 1414h0M860 1021h0M1241 1396h0M1485 1410h0M972 1190h0M833 1039h0M666 961h0M867 1079h0M861 1061h0M1060 1289h0M1409 1413h0M942 1139h0M1012 1178h0M675 997h0M891 1056h0M594 950h0M972 1171h0M1543 1409h0M1413 1415h0" stroke-opacity="0.3"/></g>
<path d="M285.9,489.4 L288.4,489.4 L290.9,489.4 L293.4,489.4 L295.9,489.4 L298.4,489.4 L300.9,489.4 L303.4,489.5 L305.9,489.5 L308.4,489.5 L310.9,489.5 L313.4,489.6 L315.9,489.6 L318.3,489.6 L320.8,489.7 L323.3,489.7 L325.8,489.8 L328.3,489.8 L330.8,489.9 L333.3,489.9 L335.8,490 L338.3,490 L340.8,490.1 L343.3,490.2 L345.8,490.3 L348.3,490.4 L350.8,490.5 L353.3,490.6 L355.8,490.7 L358.3,490.9 L360.8,491 L363.3,491.2 L365.8,491.3 L368.3,491.5 L370.8,491.7 L373.3,492 L375.8,492.2 L378.3,492.5 L380.7,492.8 L383.2,493.1 L385.7,493.4 L388.2,493.8 L390.7,494.2 L393.2,494.6 L395.7,495.1 L398.2,495.6 L400.7,496.2 L403.2,496.8 L405.7,497.4 L408.2,498.2 L410.7,498.9 L413.2,499.8 L415.7,500.7 L418.2,501.7 L420.7,502.7 L423.2,503.8 L425.7,505.1 L428.2,506.4 L430.7,507.8 L433.2,509.4 L435.7,511 L438.2,512.8 L440.7,514.6 L443.1,516.6 L445.6,518.8 L448.1,521.1 L450.6,523.5 L453.1,526.1 L455.6,528.8 L458.1,531.7 L460.6,534.8 L463.1,538 L465.6,541.3 L468.1,544.8 L470.6,548.5 L473.1,552.3 L475.6,556.3 L478.1,560.4 L480.6,564.6 L483.1,568.9 L485.6,573.3 L488.1,577.9 L490.6,582.5 L493.1,587.1 L495.6,591.8 L498.1,596.5 L500.6,601.3 L503.1,606 L505.5,610.7 L508,615.3 L510.5,619.9 L513,624.4 L515.5,628.8 L518,633.1 L520.5,637.3 L523,641.4 L525.5,645.3 L528,649.1 L530.5,652.7 L533,656.2 L535.5,659.5 L538,662.7 L540.5,665.7 L543,668.5 L545.5,671.2 L548,673.8 L550.5,676.2 L553,678.4 L555.5,680.5 L558,682.5 L560.5,684.4 L563,686.1 L565.5,687.7 L567.9,689.2 L570.4,690.6 L572.9,691.9 L575.4,693.1 L577.9,694.3 L580.4,695.3 L582.9,696.3 L585.4,697.1 L587.9,698 L590.4,698.7 L592.9,699.4 L595.4,700.1 L597.9,700.7 L600.4,701.2 L602.9,701.7 L605.4,702.2 L607.9,702.6 L610.4,703 L612.9,703.4 L615.4,703.7 L617.9,704 L620.4,704.3 L622.9,704.6 L625.4,704.8 L627.9,705 L630.3,705.2 L632.8,705.4 L635.3,705.6 L637.8,705.8 L640.3,705.9 L642.8,706 L645.3,706.2 L647.8,706.3 L650.3,706.4 L652.8,706.5 L655.3,706.5 L657.8,706.6 L660.3,706.7 L662.8,706.8 L665.3,706.8 L667.8,706.9 L670.3,706.9 L672.8,707 L675.3,707 L677.8,707.1 L680.3,707.1 L682.8,707.1 L685.3,707.2 L687.8,707.2 L690.3,707.2 L692.7,707.2 L695.2,707.3 L697.7,707.3 L700.2,707.3 L702.7,707.3 L705.2,707.3 L707.7,707.3 L710.2,707.4 L712.7,707.4 L715.2,707.4 L717.7,707.4 L720.2,707.4 L722.7,707.4 L725.2,707.4 L727.7,707.4 L730.2,707.4 L732.7,707.4 L735.2,707.4 L737.7,707.4 L740.2,707.4 L742.7,707.5 L745.2,707.5 L747.7,707.5 L750.2,707.5 L752.7,707.5 L755.1,707.5 L757.6,707.5 L760.1,707.5 L762.6,707.5 L765.1,707.5 L767.6,707.5 L770.1,707.5 L772.6,707.5 L775.1,707.5 L777.6,707.5 L780.1,707.5 L782.6,707.5 L785.1,707.5" fill="none" stroke="#f00" stroke-opacity="0.5" stroke-width="1.5"/>
<path d="M285.9,489.5 L288.4,489.5 L290.9,489.5 L293.4,489.5 L295.9,489.6 L298.4,489.6 L300.9,489.6 L303.4,489.7 L305.9,489.7 L308.4,489.7 L310.9,489.8 L313.4,489.8 L315.9,489.9 L318.3,489.9 L320.8,490 L323.3,490 L325.8,490.1 L328.3,490.2 L330.8,490.3 L333.3,490.4 L335.8,490.5 L338.3,490.6 L340.8,490.7 L343.3,490.8 L345.8,490.9 L348.3,491.1 L350.8,491.2 L353.3,491.4 L355.8,491.5 L358.3,491.7 L360.8,491.9 L363.3,492.2 L365.8,492.4 L368.3,492.7 L370.8,493 L373.3,493.3 L375.8,493.6 L378.3,494 L380.7,494.3 L383.2,494.8 L385.7,495.2 L388.2,495.7 L390.7,496.2 L393.2,496.8 L395.7,497.4 L398.2,498 L400.7,498.7 L403.2,499.5 L405.7,500.3 L408.2,501.2 L410.7,502.1 L413.2,503.1 L415.7,504.2 L418.2,505.3 L420.7,506.6 L423.2,507.9 L425.7,509.3 L428.2,510.8 L430.7,512.4 L433.2,514.1 L435.7,516 L438.2,517.9 L440.7,519.9 L443.1,522.1 L445.6,524.4 L448.1,526.8 L450.6,529.4 L453.1,532.1 L455.6,534.9 L458.1,537.9 L460.6,541 L463.1,544.2 L465.6,547.5 L468.1,551 L470.6,554.6 L473.1,558.3 L475.6,562.2 L478.1,566.1 L480.6,570.1 L483.1,574.2 L485.6,578.4 L488.1,582.7 L490.6,587 L493.1,591.3 L495.6,595.7 L498.1,600 L500.6,604.4 L503.1,608.7 L505.5,613 L508,617.3 L510.5,621.5 L513,625.6 L515.5,629.7 L518,633.7 L520.5,637.5 L523,641.3 L525.5,644.9 L528,648.4 L530.5,651.8 L533,655 L535.5,658.2 L538,661.1 L540.5,664 L543,666.7 L545.5,669.3 L548,671.8 L550.5,674.1 L553,676.3 L555.5,678.4 L558,680.3 L560.5,682.2 L563,683.9 L565.5,685.5 L567.9,687.1 L570.4,688.5 L572.9,689.9 L575.4,691.1 L577.9,692.3 L580.4,693.4 L582.9,694.4 L585.4,695.3 L587.9,696.2 L590.4,697.1 L592.9,697.8 L595.4,698.5 L597.9,699.2 L600.4,699.8 L602.9,700.4 L605.4,700.9 L607.9,701.4 L610.4,701.9 L612.9,702.3 L615.4,702.7 L617.9,703 L620.4,703.4 L622.9,703.7 L625.4,704 L627.9,704.2 L630.3,704.5 L632.8,704.7 L635.3,704.9 L637.8,705.1 L640.3,705.3 L642.8,705.5 L645.3,705.6 L647.8,705.8 L650.3,705.9 L652.8,706 L655.3,706.1 L657.8,706.2 L660.3,706.3 L662.8,706.4 L665.3,706.5 L667.8,706.6 L670.3,706.7 L672.8,706.7 L675.3,706.8 L677.8,706.8 L680.3,706.9 L682.8,706.9 L685.3,707 L687.8,707 L690.3,707.1 L692.7,707.1 L695.2,707.1 L697.7,707.1 L700.2,707.2 L702.7,707.2 L705.2,707.2 L707.7,707.2 L710.2,707.3 L712.7,707.3 L715.2,707.3 L717.7,707.3 L720.2,707.3 L722.7,707.3 L725.2,707.4 L727.7,707.4 L730.2,707.4 L732.7,707.4 L735.2,707.4 L737.7,707.4 L740.2,707.4 L742.7,707.4 L745.2,707.4 L747.7,707.4 L750.2,707.4 L752.7,707.4 L755.1,707.4 L757.6,707.4 L760.1,707.5 L762.6,707.5 L765.1,707.5 L767.6,707.5 L770.1,707.5 L772.6,707.5 L775.1,707.5 L777.6,707.5 L780.1,707.5 L782.6,707.5 L785.1,707.5" fill="none" stroke="#f00" stroke-opacity="0.5" stroke-width="1.5"/>
<path d="M285.9,489.6 L288.4,489.6 L290.9,489.6 L293.4,489.7 L295.9,489.7 L298.4,489.7 L300.9,489.8 L303.4,489.8 L305.9,489.9 L308.4,489.9 L310.9,490 L313.4,490 L315.9,490.1 L318.3,490.2 L320.8,490.2 L323.3,490.3 L325.8,490.4 L328.3,490.5 L330.8,490.6 L333.3,490.7 L335.8,490.8 L338.3,490.9 L340.8,491.1 L343.3,491.2 L345.8,491.4 L348.3,491.5 L350.8,491.7 L353.3,491.9 L355.8,492.1 L358.3,492.3 L360.8,492.5 L363.3,492.8 L365.8,493.1 L368.3,493.3 L370.8,493.7 L373.3,494 L375.8,494.4 L378.3,494.7 L380.7,495.2 L383.2,495.6 L385.7,496.1 L388.2,496.6 L390.7,497.1 L393.2,497.7 L395.7,498.4 L398.2,499 L400.7,499.7 L403.2,500.5 L405.7,501.3 L408.2,502.2 L410.7,503.2 L413.2,504.2 L415.7,505.2 L418.2,506.4 L420.7,507.6 L423.2,508.9 L425.7,510.2 L428.2,511.7 L430.7,513.2 L433.2,514.8 L435.7,516.6 L438.2,518.4 L440.7,520.3 L443.1,522.4 L445.6,524.5 L448.1,526.8 L450.6,529.1 L453.1,531.6 L455.6,534.2 L458.1,536.9 L460.6,539.7 L463.1,542.7 L465.6,545.7 L468.1,548.9 L470.6,552.2 L473.1,555.6 L475.6,559 L478.1,562.6 L480.6,566.3 L483.1,570 L485.6,573.8 L488.1,577.7 L490.6,581.7 L493.1,585.6 L495.6,589.6 L498.1,593.7 L500.6,597.7 L503.1,601.8 L505.5,605.8 L508,609.9 L510.5,613.8 L513,617.8 L515.5,621.7 L518,625.5 L520.5,629.3 L523,633 L525.5,636.6 L528,640.1 L530.5,643.5 L533,646.8 L535.5,650 L538,653.1 L540.5,656.1 L543,658.9 L545.5,661.7 L548,664.3 L550.5,666.8 L553,669.2 L555.5,671.5 L558,673.7 L560.5,675.8 L563,677.7 L565.5,679.6 L567.9,681.3 L570.4,683 L572.9,684.6 L575.4,686.1 L577.9,687.5 L580.4,688.8 L582.9,690 L585.4,691.2 L587.9,692.2 L590.4,693.3 L592.9,694.2 L595.4,695.1 L597.9,696 L600.4,696.7 L602.9,697.5 L605.4,698.2 L607.9,698.8 L610.4,699.4 L612.9,700 L615.4,700.5 L617.9,701 L620.4,701.4 L622.9,701.9 L625.4,702.2 L627.9,702.6 L630.3,703 L632.8,703.3 L635.3,703.6 L637.8,703.9 L640.3,704.1 L642.8,704.3 L645.3,704.6 L647.8,704.8 L650.3,705 L652.8,705.1 L655.3,705.3 L657.8,705.5 L660.3,705.6 L662.8,705.7 L665.3,705.9 L667.8,706 L670.3,706.1 L672.8,706.2 L675.3,706.3 L677.8,706.4 L680.3,706.5 L682.8,706.5 L685.3,706.6 L687.8,706.7 L690.3,706.7 L692.7,706.8 L695.2,706.8 L697.7,706.9 L700.2,706.9 L702.7,707 L705.2,707 L707.7,707 L710.2,707.1 L712.7,707.1 L715.2,707.1 L717.7,707.2 L720.2,707.2 L722.7,707.2 L725.2,707.2 L727.7,707.2 L730.2,707.3 L732.7,707.3 L735.2,707.3 L737.7,707.3 L740.2,707.3 L742.7,707.3 L745.2,707.3 L747.7,707.4 L750.2,707.4 L752.7,707.4 L755.1,707.4 L757.6,707.4 L760.1,707.4 L762.6,707.4 L765.1,707.4 L767.6,707.4 L770.1,707.4 L772.6,707.4 L775.1,707.4 L777.6,707.4 L780.1,707.4 L782.6,707.5 L785.1,707.5" fill="none" stroke="#f00" stroke-opacity="0.5" stroke-width="1.5"/>
<path d="M285.9,489.9 L288.4,489.9 L290.9,489.9 L293.4,490 L295.9,490 L298.4,490.1 L300.9,490.2 L303.4,490.2 L305.9,490.3 L308.4,490.4 L310.9,490.5 L313.4,490.6 L315.9,490.7 L318.3,490.8 L320.8,490.9 L323.3,491 L325.8,491.1 L328.3,491.2 L330.8,491.4 L333.3,491.5 L335.8,491.7 L338.3,491.9 L340.8,492 L343.3,492.2 L345.8,492.4 L348.3,492.7 L350.8,492.9 L353.3,493.2 L355.8,493.4 L358.3,493.7 L360.8,494 L363.3,494.4 L365.8,494.7 L368.3,495.1 L370.8,495.5 L373.3,496 L375.8,496.4 L378.3,496.9 L380.7,497.4 L383.2,498 L385.7,498.6 L388.2,499.2 L390.7,499.9 L393.2,500.6 L395.7,501.4 L398.2,502.2 L400.7,503 L403.2,503.9 L405.7,504.9 L408.2,505.9 L410.7,507 L413.2,508.2 L415.7,509.4 L418.2,510.7 L420.7,512 L423.2,513.5 L425.7,515 L428.2,516.6 L430.7,518.3 L433.2,520 L435.7,521.9 L438.2,523.8 L440.7,525.9 L443.1,528 L445.6,530.3 L448.1,532.6 L450.6,535 L453.1,537.5 L455.6,540.2 L458.1,542.9 L460.6,545.7 L463.1,548.6 L465.6,551.6 L468.1,554.7 L470.6,557.9 L473.1,561.1 L475.6,564.5 L478.1,567.9 L480.6,571.4 L483.1,574.9 L485.6,578.5 L488.1,582.1 L490.6,585.8 L493.1,589.5 L495.6,593.2 L498.1,596.9 L500.6,600.7 L503.1,604.4 L505.5,608.1 L508,611.8 L510.5,615.5 L513,619.1 L515.5,622.6 L518,626.2 L520.5,629.6 L523,633 L525.5,636.3 L528,639.6 L530.5,642.7 L533,645.8 L535.5,648.8 L538,651.7 L540.5,654.5 L543,657.2 L545.5,659.8 L548,662.3 L550.5,664.7 L553,667 L555.5,669.2 L558,671.3 L560.5,673.3 L563,675.3 L565.5,677.1 L567.9,678.8 L570.4,680.5 L572.9,682.1 L575.4,683.6 L577.9,685 L580.4,686.3 L582.9,687.6 L585.4,688.8 L587.9,689.9 L590.4,691 L592.9,692 L595.4,693 L597.9,693.9 L600.4,694.7 L602.9,695.5 L605.4,696.3 L607.9,697 L610.4,697.7 L612.9,698.3 L615.4,698.9 L617.9,699.4 L620.4,699.9 L622.9,700.4 L625.4,700.9 L627.9,701.3 L630.3,701.7 L632.8,702.1 L635.3,702.4 L637.8,702.7 L640.3,703.1 L642.8,703.3 L645.3,703.6 L647.8,703.9 L650.3,704.1 L652.8,704.3 L655.3,704.5 L657.8,704.7 L660.3,704.9 L662.8,705.1 L665.3,705.2 L667.8,705.4 L670.3,705.5 L672.8,705.7 L675.3,705.8 L677.8,705.9 L680.3,706 L682.8,706.1 L685.3,706.2 L687.8,706.3 L690.3,706.4 L692.7,706.4 L695.2,706.5 L697.7,706.6 L700.2,706.6 L702.7,706.7 L705.2,706.7 L707.7,706.8 L710.2,706.8 L712.7,706.9 L715.2,706.9 L717.7,707 L720.2,707 L722.7,707 L725.2,707.1 L727.7,707.1 L730.2,707.1 L732.7,707.1 L735.2,707.2 L737.7,707.2 L740.2,707.2 L742.7,707.2 L745.2,707.2 L747.7,707.3 L750.2,707.3 L752.7,707.3 L755.1,707.3 L757.6,707.3 L760.1,707.3 L762.6,707.3 L765.1,707.4 L767.6,707.4 L770.1,707.4 L772.6,707.4 L775.1,707.4 L777.6,707.4 L780.1,707.4 L782.6,707.4 L785.1,707.4" fill="none" stroke="#f00" stroke-opacity="0.5" stroke-width="1.5"/>
<path d="M285.9,490.2 L288.4,490.2 L290.9,490.3 L293.4,490.4 L295.9,490.4 L298.4,490.5 L300.9,490.6 L303.4,490.7 L305.9,490.8 L308.4,490.9 L310.9,491 L313.4,491.1 L315.9,491.3 L318.3,491.4 L320.8,491.5 L323.3,491.7 L325.8,491.9 L328.3,492 L330.8,492.2 L333.3,492.4 L335.8,492.6 L338.3,492.8 L340.8,493.1 L343.3,493.3 L345.8,493.6 L348.3,493.9 L350.8,494.2 L353.3,494.5 L355.8,494.8 L358.3,495.2 L360.8,495.6 L363.3,496 L365.8,496.4 L368.3,496.9 L370.8,497.4 L373.3,497.9 L375.8,498.4 L378.3,499 L380.7,499.6 L383.2,500.3 L385.7,501 L388.2,501.7 L390.7,502.5 L393.2,503.3 L395.7,504.2 L398.2,505.1 L400.7,506.1 L403.2,507.1 L405.7,508.2 L408.2,509.4 L410.7,510.6 L413.2,511.8 L415.7,513.2 L418.2,514.6 L420.7,516 L423.2,517.6 L425.7,519.2 L428.2,520.9 L430.7,522.7 L433.2,524.6 L435.7,526.5 L438.2,528.5 L440.7,530.6 L443.1,532.8 L445.6,535.1 L448.1,537.5 L450.6,539.9 L453.1,542.5 L455.6,545.1 L458.1,547.8 L460.6,550.6 L463.1,553.5 L465.6,556.4 L468.1,559.5 L470.6,562.5 L473.1,565.7 L475.6,568.9 L478.1,572.2 L480.6,575.5 L483.1,578.9 L485.6,582.3 L488.1,585.8 L490.6,589.2 L493.1,592.7 L495.6,596.2 L498.1,599.7 L500.6,603.2 L503.1,606.7 L505.5,610.2 L508,613.6 L510.5,617 L513,620.4 L515.5,623.8 L518,627 L520.5,630.3 L523,633.4 L525.5,636.6 L528,639.6 L530.5,642.6 L533,645.5 L535.5,648.3 L538,651 L540.5,653.6 L543,656.2 L545.5,658.7 L548,661.1 L550.5,663.4 L553,665.6 L555.5,667.7 L558,669.8 L560.5,671.7 L563,673.6 L565.5,675.4 L567.9,677.1 L570.4,678.8 L572.9,680.3 L575.4,681.8 L577.9,683.2 L580.4,684.6 L582.9,685.9 L585.4,687.1 L587.9,688.2 L590.4,689.3 L592.9,690.4 L595.4,691.4 L597.9,692.3 L600.4,693.2 L602.9,694 L605.4,694.8 L607.9,695.6 L610.4,696.3 L612.9,696.9 L615.4,697.6 L617.9,698.1 L620.4,698.7 L622.9,699.2 L625.4,699.7 L627.9,700.2 L630.3,700.6 L632.8,701 L635.3,701.4 L637.8,701.8 L640.3,702.2 L642.8,702.5 L645.3,702.8 L647.8,703.1 L650.3,703.3 L652.8,703.6 L655.3,703.8 L657.8,704.1 L660.3,704.3 L662.8,704.5 L665.3,704.7 L667.8,704.8 L670.3,705 L672.8,705.1 L675.3,705.3 L677.8,705.4 L680.3,705.6 L682.8,705.7 L685.3,705.8 L687.8,705.9 L690.3,706 L692.7,706.1 L695.2,706.2 L697.7,706.3 L700.2,706.3 L702.7,706.4 L705.2,706.5 L707.7,706.5 L710.2,706.6 L712.7,706.7 L715.2,706.7 L717.7,706.8 L720.2,706.8 L722.7,706.8 L725.2,706.9 L727.7,706.9 L730.2,707 L732.7,707 L735.2,707 L737.7,707.1 L740.2,707.1 L742.7,707.1 L745.2,707.1 L747.7,707.2 L750.2,707.2 L752.7,707.2 L755.1,707.2 L757.6,707.2 L760.1,707.2 L762.6,707.3 L765.1,707.3 L767.6,707.3 L770.1,707.3 L772.6,707.3 L775.1,707.3 L777.6,707.3 L780.1,707.3 L782.6,707.4 L785.1,707.4" fill="none" stroke="#f00" stroke-opacity="0.5" stroke-width="1.5"/>
<path d="M285.9,490.4 L288.4,490.5 L290.9,490.6 L293.4,490.7 L295.9,490.8 L298.4,490.9 L300.9,491 L303.4,491.1 L305.9,491.2 L308.4,491.3 L310.9,491.4 L313.4,491.6 L315.9,491.7 L318.3,491.9 L320.8,492 L323.3,492.2 L325.8,492.4 L328.3,492.6 L330.8,492.8 L333.3,493 L335.8,493.2 L338.3,493.5 L340.8,493.7 L343.3,494 L345.8,494.3 L348.3,494.6 L350.8,494.9 L353.3,495.3 L355.8,495.7 L358.3,496.1 L360.8,496.5 L363.3,496.9 L365.8,497.4 L368.3,497.8 L370.8,498.4 L373.3,498.9 L375.8,499.5 L378.3,500.1 L380.7,500.7 L383.2,501.4 L385.7,502.1 L388.2,502.9 L390.7,503.7 L393.2,504.5 L395.7,505.4 L398.2,506.3 L400.7,507.3 L403.2,508.3 L405.7,509.4 L408.2,510.5 L410.7,511.7 L413.2,513 L415.7,514.3 L418.2,515.7 L420.7,517.1 L423.2,518.6 L425.7,520.2 L428.2,521.8 L430.7,523.5 L433.2,525.3 L435.7,527.2 L438.2,529.1 L440.7,531.1 L443.1,533.2 L445.6,535.4 L448.1,537.6 L450.6,539.9 L453.1,542.3 L455.6,544.8 L458.1,547.3 L460.6,549.9 L463.1,552.6 L465.6,555.4 L468.1,558.2 L470.6,561.1 L473.1,564 L475.6,567 L478.1,570.1 L480.6,573.2 L483.1,576.3 L485.6,579.5 L488.1,582.7 L490.6,586 L493.1,589.2 L495.6,592.5 L498.1,595.8 L500.6,599.1 L503.1,602.4 L505.5,605.7 L508,609 L510.5,612.2 L513,615.5 L515.5,618.7 L518,621.8 L520.5,625 L523,628.1 L525.5,631.1 L528,634.1 L530.5,637 L533,639.8 L535.5,642.6 L538,645.3 L540.5,648 L543,650.6 L545.5,653.1 L548,655.5 L550.5,657.9 L553,660.2 L555.5,662.4 L558,664.5 L560.5,666.5 L563,668.5 L565.5,670.4 L567.9,672.2 L570.4,674 L572.9,675.7 L575.4,677.3 L577.9,678.8 L580.4,680.3 L582.9,681.7 L585.4,683 L587.9,684.3 L590.4,685.5 L592.9,686.7 L595.4,687.8 L597.9,688.9 L600.4,689.9 L602.9,690.8 L605.4,691.7 L607.9,692.6 L610.4,693.4 L612.9,694.2 L615.4,694.9 L617.9,695.6 L620.4,696.3 L622.9,696.9 L625.4,697.5 L627.9,698.1 L630.3,698.6 L632.8,699.1 L635.3,699.6 L637.8,700 L640.3,700.5 L642.8,700.9 L645.3,701.2 L647.8,701.6 L650.3,701.9 L652.8,702.2 L655.3,702.5 L657.8,702.8 L660.3,703.1 L662.8,703.4 L665.3,703.6 L667.8,703.8 L670.3,704 L672.8,704.2 L675.3,704.4 L677.8,704.6 L680.3,704.8 L682.8,704.9 L685.3,705.1 L687.8,705.2 L690.3,705.3 L692.7,705.5 L695.2,705.6 L697.7,705.7 L700.2,705.8 L702.7,705.9 L705.2,706 L707.7,706.1 L710.2,706.2 L712.7,706.2 L715.2,706.3 L717.7,706.4 L720.2,706.5 L722.7,706.5 L725.2,706.6 L727.7,706.6 L730.2,706.7 L732.7,706.7 L735.2,706.8 L737.7,706.8 L740.2,706.9 L742.7,706.9 L745.2,706.9 L747.7,707 L750.2,707 L752.7,707 L755.1,707 L757.6,707.1 L760.1,707.1 L762.6,707.1 L765.1,707.1 L767.6,707.2 L770.1,707.2 L772.6,707.2 L775.1,707.2 L777.6,707.2 L780.1,707.3 L782.6,707.3 L785.1,707.3" fill="none" stroke="#f00" stroke-opacity="0.5" stroke-width="1.5"/>
<path d="M285.9,489.7 L288.4,489.7 L290.9,489.7 L293.4,489.8 L295.9,489.8 L298.4,489.9 L300.9,489.9 L303.4,490 L305.9,490 L308.4,490.1 L310.9,490.2 L313.4,490.2 L315.9,490.3 L318.3,490.4 L320.8,490.5 L323.3,490.6 L325.8,490.7 L328.3,490.8 L330.8,490.9 L333.3,491 L335.8,491.1 L338.3,491.3 L340.8,491.4 L343.3,491.6 L345.8,491.8 L348.3,492 L350.8,492.2 L353.3,492.4 L355.8,492.6 L358.3,492.9 L360.8,493.1 L363.3,493.4 L365.8,493.7 L368.3,494.1 L370.8,494.4 L373.3,494.8 L375.8,495.2 L378.3,495.7 L380.7,496.1 L383.2,496.6 L385.7,497.2 L388.2,497.7 L390.7,498.3 L393.2,499 L395.7,499.7 L398.2,500.4 L400.7,501.2 L403.2,502.1 L405.7,503 L408.2,503.9 L410.7,504.9 L413.2,506 L415.7,507.2 L418.2,508.4 L420.7,509.7 L423.2,511.1 L425.7,512.6 L428.2,514.1 L430.7,515.8 L433.2,517.5 L435.7,519.3 L438.2,521.2 L440.7,523.3 L443.1,525.4 L445.6,527.6 L448.1,530 L450.6,532.4 L453.1,535 L455.6,537.6 L458.1,540.4 L460.6,543.3 L463.1,546.3 L465.6,549.4 L468.1,552.6 L470.6,555.9 L473.1,559.2 L475.6,562.7 L478.1,566.3 L480.6,569.9 L483.1,573.6 L485.6,577.4 L488.1,581.2 L490.6,585.1 L493.1,589 L495.6,592.9 L498.1,596.8 L500.6,600.8 L503.1,604.7 L505.5,608.6 L508,612.5 L510.5,616.4 L513,620.2 L515.5,623.9 L518,627.6 L520.5,631.3 L523,634.8 L525.5,638.3 L528,641.6 L530.5,644.9 L533,648.1 L535.5,651.1 L538,654.1 L540.5,657 L543,659.7 L545.5,662.4 L548,664.9 L550.5,667.3 L553,669.6 L555.5,671.8 L558,673.9 L560.5,675.9 L563,677.8 L565.5,679.6 L567.9,681.4 L570.4,683 L572.9,684.5 L575.4,685.9 L577.9,687.3 L580.4,688.6 L582.9,689.8 L585.4,690.9 L587.9,692 L590.4,693 L592.9,694 L595.4,694.9 L597.9,695.7 L600.4,696.5 L602.9,697.2 L605.4,697.9 L607.9,698.5 L610.4,699.1 L612.9,699.7 L615.4,700.2 L617.9,700.7 L620.4,701.2 L622.9,701.6 L625.4,702 L627.9,702.4 L630.3,702.7 L632.8,703 L635.3,703.4 L637.8,703.6 L640.3,703.9 L642.8,704.1 L645.3,704.4 L647.8,704.6 L650.3,704.8 L652.8,705 L655.3,705.2 L657.8,705.3 L660.3,705.5 L662.8,705.6 L665.3,705.7 L667.8,705.9 L670.3,706 L672.8,706.1 L675.3,706.2 L677.8,706.3 L680.3,706.4 L682.8,706.4 L685.3,706.5 L687.8,706.6 L690.3,706.6 L692.7,706.7 L695.2,706.8 L697.7,706.8 L700.2,706.9 L702.7,706.9 L705.2,706.9 L707.7,707 L710.2,707 L712.7,707.1 L715.2,707.1 L717.7,707.1 L720.2,707.1 L722.7,707.2 L725.2,707.2 L727.7,707.2 L730.2,707.2 L732.7,707.2 L735.2,707.3 L737.7,707.3 L740.2,707.3 L742.7,707.3 L745.2,707.3 L747.7,707.3 L750.2,707.3 L752.7,707.4 L755.1,707.4 L757.6,707.4 L760.1,707.4 L762.6,707.4 L765.1,707.4 L767.6,707.4 L770.1,707.4 L772.6,707.4 L775.1,707.4 L777.6,707.4 L780.1,707.4 L782.6,707.4 L785.1,707.4" fill="none" stroke="#f00" stroke-opacity="0.8" stroke-width="2.0"/>
<path d="M423.7,418.5V707.5M575.4,418.5V707.5" stroke="#0a930a" stroke-width="4.2" stroke-dasharray="4.2 13.1" stroke-dashoffset="9.4"/>
<path d="M499.2,418.5V707.5" stroke="#0a930a" stroke-width="3.8" stroke-dasharray="14.7 8.25" stroke-dashoffset="2.05"/>
</g>
<path d="M343.5,707.5v-9.5M343.5,418.5v9.5M391.5,707.5v-19M391.5,418.5v19M439.5,707.5v-9.5M439.5,418.5v9.5M487.5,707.5v-19M487.5,418.5v19M535.5,707.5v-9.5M535.5,418.5v9.5M583.5,707.5v-19M583.5,418.5v19M631.5,707.5v-9.5M631.5,418.5v9.5M679.5,707.5v-19M679.5,418.5v19M727.5,707.5v-9.5M727.5,418.5v9.5M295.5,690.5h9.5M775.5,690.5h-9.5M295.5,673.5h9.5M775.5,673.5h-9.5M295.5,656.5h9.5M775.5,656.5h-9.5M295.5,639.5h19M775.5,639.5h-19M295.5,622.5h9.5M775.5,622.5h-9.5M295.5,605.5h9.5M775.5,605.5h-9.5M295.5,588.5h9.5M775.5,588.5h-9.5M295.5,571.5h19M775.5,571.5h-19M295.5,554.5h9.5M775.5,554.5h-9.5M295.5,537.5h9.5M775.5,537.5h-9.5M295.5,520.5h9.5M775.5,520.5h-9.5M295.5,503.5h19M775.5,503.5h-19M295.5,486.5h9.5M775.5,486.5h-9.5M295.5,469.5h9.5M775.5,469.5h-9.5M295.5,452.5h9.5M775.5,452.5h-9.5M295.5,435.5h19M775.5,435.5h-19" stroke="#333" stroke-width="1.4" fill="none"/>
<rect x="295.5" y="418.5" width="480" height="289" fill="none" stroke="#262626" stroke-width="2.5"/>
<g font-family="Liberation Serif" font-size="35" fill="#000">
<text x="287" y="706.4" text-anchor="end" transform="scale(1 1.02)">0</text>
<text x="287" y="639.7" text-anchor="end" transform="scale(1 1.02)">0.2</text>
<text x="287" y="573" text-anchor="end" transform="scale(1 1.02)">0.4</text>
<text x="287" y="506.4" text-anchor="end" transform="scale(1 1.02)">0.6</text>
<text x="287" y="439.7" text-anchor="end" transform="scale(1 1.02)">0.8</text>
<text x="391.5" y="725.8" text-anchor="middle" transform="scale(1 1.02)">260</text>
<text x="487.5" y="725.8" text-anchor="middle" transform="scale(1 1.02)">270</text>
<text x="583.5" y="725.8" text-anchor="middle" transform="scale(1 1.02)">280</text>
<text x="679.5" y="725.8" text-anchor="middle" transform="scale(1 1.02)">290</text>
<text x="775.5" y="725.8" text-anchor="middle" transform="scale(1 1.02)">300</text>
</g>
<clipPath id="slabc"><polygon points="157.9,947.3 160.1,951.8 156.6,955 157.9,959.1 161.5,964 157.4,969.5 159.6,976 156.9,981.7 158.3,987 159.3,993.5 160.8,1000 161.3,1004.6 161.8,1011.3 157.8,1014.9 160.3,1019.6 158.8,1024.7 160,1030 162.1,1035.7 160.5,1042.7 162.3,1049.1 160.8,1054.4 159.9,1060.7 161.6,1064 161.3,1067.3 158.3,1070.9 156.8,1077.4 160.8,1080.6 162.4,1087.1 158.4,1094.1 156.7,1099.5 160.2,1104.2 161.7,1107.3 161.9,1114.2 159.6,1119 159.9,1124.4 159.5,1131.2 157.9,1137 159.6,1143.9 159,1147 160.2,1150.1 160.3,1153.3 158.6,1159 156.6,1165 162.3,1170.7 160.1,1175.5 158.4,1180 158.3,1185.4 156.7,1191.4 158.4,1197.4 157.9,1203.6 160.7,1208.3 158.5,1212.6 161.6,1217.4 160.4,1221.7 157.9,1226.5 157.6,1231.6 157.6,1238 160.4,1244.2 157.3,1248.6 158.1,1254.8 159,1259.5 157.4,1266.1 161.8,1272.9 162.2,1277.6 161,1281.5 159.6,1287.2 157.9,1291.6 158.2,1296.9 161.9,1300.1 161.9,1306.8 156.6,1312.1 158.3,1315.8 159,1320.9 158.5,1326.3 159.4,1332.8 157.7,1337.2 157.5,1343.4 161.3,1350.1 160.3,1353.2 158.1,1356.4 159,1361.5 156.5,1367.6 157.2,1371.1 161.6,1378 158.4,1383 160.4,1387.4 157.6,1391.8 159.8,1395.3 157,1399.9 160.1,1404.4 161.3,1408.9 158.7,1413.6 159,1419.4 158,1424.3 156.9,1430 161.8,1434.7 161.9,1439.2 159.3,1443.3 160.5,1449.5 160.5,1455.7 157.1,1461 157.4,1464 157.1,1467.2 157.6,1473.7 157.2,1480 161.5,1485.7 161.3,1491.1 159.6,1497.1 161,1500.6 158.4,1503.8 158,1510.1 160.2,1514.1 158.7,1518.7 159,1523.1 162.3,1528.1 157.5,1534.1 160.5,1540.1 160.4,1545 157.1,1548.6 159.6,1555.3 157.6,1561.2 160,1565 160.6,1568.9 160.7,1573.1 160,1579.5 156.6,1583.4 157.5,1587.9 161.1,1592.2 159.4,1599.2 161.5,1604 159.4,1609.3 158.9,1615.7 159.3,1622.5 160.8,1626.5 161.6,1633.3 158.1,1637.1 161.7,1642.9 161.7,1646.9 160.9,1651.6 161.5,1655 160,1659.4 158.5,1662.4 157.8,1667.4 158.8,1674.2 158.1,1677.7 161.8,1681.1 162.1,1684.5 161,1690.6 160.4,1696.3 161,1700.3 159.7,1706 158.6,1711 159.9,1716.7 160.3,1722.3 160.4,1728.9 157.3,1735.6 160.1,1741.5 159.2,1747.1 156.9,1750.8 159.8,1756.8 158.1,1761.2 156.8,1767.7 161.1,1771.7 158.9,1776 158.6,1782.1 158.1,1785.6 161.2,1789 157.6,1792.8 161.4,1798.7 157.4,1804.1 159.7,1807.9 158,1811.7 161.3,1814.8 158.8,1821.6 160.3,1826.9 158.3,1832.7 160.1,1837.6 161.1,1840.6 159.6,1845.6 159.7,1849.4 160.4,1854.4 162.3,1859.6 161.3,1863.2 158.7,1866.4 159.7,1869.7 161.7,1874 161.6,1877.5 160.8,1884.2 161.3,1888.6 159.1,1895.1 157.2,1900 157.7,1903.3 160.7,1908.3 160.4,1913 160,1914.8 891,1914.8 890.3,1913 891.7,1908.3 889.5,1903.3 888.8,1900 893,1895.1 894.1,1888.6 892.9,1884.2 892.1,1877.5 892.7,1874 894.1,1869.7 889.9,1866.4 892.2,1863.2 893.9,1859.6 891.2,1854.4 888.7,1849.4 891.3,1845.6 892.5,1840.6 892.9,1837.6 893.7,1832.7 894.4,1826.9 891.8,1821.6 893.8,1814.8 893.2,1811.7 891.9,1807.9 890.9,1804.1 893,1798.7 891,1792.8 892.9,1789 889.1,1785.6 893.6,1782.1 891.7,1776 890.6,1771.7 891.5,1767.7 890.8,1761.2 892.9,1756.8 892.8,1750.8 890.4,1747.1 891.8,1741.5 890.5,1735.6 889.2,1728.9 889.6,1722.3 889.6,1716.7 892.8,1711 889.2,1706 894.3,1700.3 893.3,1696.3 890.3,1690.6 890.7,1684.5 894,1681.1 892.5,1677.7 891.8,1674.2 892,1667.4 891.1,1662.4 892.6,1659.4 890.3,1655 889,1651.6 890.4,1646.9 893.9,1642.9 889.6,1637.1 890,1633.3 892.6,1626.5 889.9,1622.5 892.9,1615.7 892.8,1609.3 893.4,1604 892.1,1599.2 889.4,1592.2 890.7,1587.9 891.4,1583.4 890.1,1579.5 891,1573.1 894.2,1568.9 890.4,1565 890.1,1561.2 891.2,1555.3 893,1548.6 893.9,1545 891.6,1540.1 892.6,1534.1 891,1528.1 889,1523.1 890.9,1518.7 893,1514.1 889.6,1510.1 891.9,1503.8 894.1,1500.6 892.8,1497.1 888.7,1491.1 894.2,1485.7 893.6,1480 888.6,1473.7 889.1,1467.2 893.1,1464 892,1461 892.9,1455.7 893.8,1449.5 889.2,1443.3 893.2,1439.2 894.1,1434.7 891,1430 891.7,1424.3 892.7,1419.4 891.5,1413.6 892.2,1408.9 893.2,1404.4 889.6,1399.9 892.8,1395.3 890.5,1391.8 892,1387.4 890.4,1383 889,1378 888.9,1371.1 888.8,1367.6 891.3,1361.5 890.1,1356.4 893.7,1353.2 893.4,1350.1 893.3,1343.4 891.7,1337.2 893.2,1332.8 890,1326.3 894.1,1320.9 892.5,1315.8 893,1312.1 893.9,1306.8 892.7,1300.1 893.4,1296.9 888.9,1291.6 890.2,1287.2 893.5,1281.5 894.1,1277.6 894.4,1272.9 888.5,1266.1 891,1259.5 890.6,1254.8 890.3,1248.6 893.3,1244.2 890.2,1238 893.3,1231.6 889.2,1226.5 893.8,1221.7 889.5,1217.4 893.5,1212.6 889.1,1208.3 889.6,1203.6 889.8,1197.4 891.9,1191.4 890.8,1185.4 890.7,1180 890.4,1175.5 890,1170.7 888.9,1165 892.7,1159 891.3,1153.3 892.3,1150.1 892,1147 891.8,1143.9 890.3,1137 891.1,1131.2 892.2,1124.4 892.4,1119 890.8,1114.2 890.4,1107.3 889.4,1104.2 889.7,1099.5 889,1094.1 891.5,1087.1 890.5,1080.6 892.2,1077.4 893.1,1070.9 891,1067.3 894.4,1064 890.2,1060.7 889.8,1054.4 893.9,1049.1 889.5,1042.7 893.6,1035.7 893.9,1030 890.6,1024.7 890.3,1019.6 894.3,1014.9 889.1,1011.3 891.2,1004.6 894,1000 892.8,993.5 888.7,987 893,981.7 892.9,976 892.3,969.5 891.4,964 894.5,959.1 893.5,955 892.3,951.8 891.8,947.3"/></clipPath>
<g clip-path="url(#slabc)"><g filter="url(#grain)">
<rect x="150" y="947.3" width="750" height="967.5" fill="url(#mt)"/>
</g>
<path d="M326.3 1876.5h0M253.1 1628.4h0M223.1 1187.7h0M889.4 1151.1h0M301.1 1749.5h0M226.3 1174.9h0M175.6 1206.3h0M458.2 1818.4h0M437.3 1058.9h0M349.3 1904.7h0M436 1586h0M407.7 1615.4h0M523.7 1575.3h0M264.6 1011.3h0M302.3 1860.8h0M583.1 1651.6h0M803.2 1224.5h0M421 1795.3h0M259.4 1685.7h0M232.2 1614.3h0M672.9 1864.6h0M305.1 1094h0M213.1 1819.6h0M530.9 1625h0M321.3 1184.3h0M169.7 1280h0M435.8 1753.2h0M810.9 1118.2h0M449.9 1109.4h0M644.5 1888.6h0M308.1 1687.8h0M379.7 962h0M718.2 1278.6h0M590 1227.5h0M230.3 1031.4h0M423.6 1727.5h0M529.1 1631.6h0M875.5 1010h0M173.4 1084.6h0M703.2 1287.9h0M864.5 952.1h0M770.2 1151.7h0M799 981.2h0M864.6 1681h0M290.6 1883.8h0M482.9 1029.6h0M506 1098.2h0M491 1071.1h0M481.4 1648.3h0M448 1296.9h0M325.4 1139.6h0M486.3 1053.5h0M689.6 1631.8h0M606.8 971.1h0M229 1881.8h0M675.1 1142.7h0M703.3 1572.9h0M823.6 1665.5h0M837.2 1895.2h0M324.1 1234.9h0M560 1890.5h0M430.2 1856.4h0M616.7 1871.4h0M732 1234.3h0M777.5 1137.9h0M430.7 1872.9h0M778.5 1249.9h0M775.3 1608.7h0M843.4 1650.8h0M772 1208.3h0M211 1655.7h0M246.3 1748.4h0M360.7 1230.3h0M363.2 1805.3h0M461.2 1297.5h0M864.8 1710.6h0M705.8 1190.1h0M765.9 1303.8h0M730.2 1713.8h0M443.8 1580.1h0M729.8 1906.1h0M832 1706.9h0M660.4 1033.2h0M498.3 1786.3h0M821.1 1840.8h0M791.6 1578.2h0M394.2 986.6h0M831.5 1777h0M637.5 1302.2h0M764.9 1734.4h0M393.8 1235.1h0M421.6 1264.2h0M540.1 1059.1h0M686.9 1284.6h0M277.4 1194.9h0M731.2 1045.4h0M323.3 1231.8h0M289.8 1671.4h0M240.5 998.3h0M566.2 1658.6h0M399.2 1799h0M571.3 1851.2h0M888.1 1846.6h0M257.7 1264.2h0M458.3 1112.1h0M716.5 1007.9h0M814.6 1838.3h0M665.6 1896.8h0M517.9 1302.5h0M386.1 1604.6h0M507.9 1072.5h0M844 1227.9h0M719.9 1744.1h0M633 1069h0M448.3 983h0M431.8 1859.6h0M414 1622.7h0M614 1087.3h0M662.8 1026.1h0M253.9 1878.6h0M864.6 1053.4h0M889.3 987.5h0M599.3 1581.3h0M879.7 1294.4h0M851.2 1575.8h0M508.5 1112.8h0M332.9 1301.2h0M413.4 1307.5h0M750.1 1310.5h0M619.3 986.5h0M263.6 1633.3h0M810.2 1251h0M184.7 1173.4h0M423.8 1302.3h0M570.3 1240h0M632.7 1706.5h0M732 1663.7h0M586.8 1200.6h0M774.4 1228.3h0M637.7 1277.9h0M582.6 1659h0M678.1 1116.7h0M267.5 1742.5h0M225.5 1713.4h0M714.4 1159h0M624.7 1193.5h0M803.7 1139.4h0M245.3 984.6h0M684.8 1153.4h0M390.1 1890.6h0M697.6 1660h0M169.1 1732.2h0M400.9 1772.8h0M463.2 1827.3h0M161.3 1893.9h0M512 1899.6h0M683.6 1895.4h0M268.7 1089.9h0M678.2 1865.8h0M645.8 1282.9h0M596.4 1582.2h0M345.4 1618h0M306.2 976.1h0M668.4 1166.6h0M450.3 1617.1h0M313 1616.7h0M672.1 1131.4h0M749.5 1580.6h0M792.7 1701h0M521.4 1638.9h0M390.3 1579h0M221 1282.6h0M529.9 1802.6h0M659.5 1825.1h0M794.7 1884.6h0M502.8 1162.4h0M278.9 1180.5h0M322 1645.6h0M596.5 1142.9h0M884.7 1085.1h0M773.3 1837.4h0M452 1690.1h0M247.4 1321.4h0M785.7 1590.1h0M805.5 1889.3h0M307 1676.8h0M525.8 1308.2h0M606.7 1059.1h0M889.1 1215.2h0M560.1 1140.3h0M621.3 1021.2h0M405.5 1319.9h0M868.2 1864.7h0M716.8 1797h0M555.4 1592.2h0M746.2 1103.3h0M246.8 1839h0M533 1620.8h0M828.6 1658.7h0M574 1866.6h0M294.2 1102.8h0M738.6 1813.1h0M361.7 1827.4h0M563.3 1637.5h0M672.2 1132.3h0M560.4 1577h0M619.8 1230.9h0M293.3 1046.9h0M251.2 1126.8h0M720.7 977.8h0M414.9 1064.3h0M429.4 1265.8h0M238.4 1135.5h0M234.3 1763.6h0M181.2 1070.8h0M487.6 1270.1h0M540.1 1614.1h0M594.5 1705.7h0M503.7 1600.9h0M465.7 1070.9h0M215.1 1124.6h0M484.6 1215.3h0M569.7 1592.2h0M831.1 1093.6h0M859.1 950.5h0M809.3 1898.2h0M427.2 1718.7h0M786 1856.5h0M379.9 1160.9h0M818.4 1162.3h0M780 1103h0M268 1227.1h0M837.2 1322.5h0M482 1227.7h0M523.2 1271.7h0M693.7 1247.8h0M875.1 1825.4h0M583 1047.2h0M689.5 1909.6h0M673 988.9h0M558.5 1853.3h0M199.2 965.8h0M687.5 1046h0M261.1 1736.8h0M424.6 1800.4h0M744.8 1587.7h0M422.6 1028.8h0M872.6 1788.2h0M466.6 1134.2h0M269.1 1207.5h0M873.4 1848.9h0M717.1 1107.2h0M613.5 1888.2h0M737.5 1899.6h0M618.7 1242h0M176.1 1210h0M615.5 1722.6h0M376.3 1084.9h0M180.8 1620.6h0M686.7 1682.8h0M256.7 1212.6h0M688.4 1594.1h0M413.5 1882.8h0M381.3 1807.9h0M884.5 1618.2h0M712.9 1800.6h0M859.4 1682.6h0M161.9 1226.4h0M806.1 1062.2h0M666.8 1894.3h0M780.4 1616.1h0M197.7 1272.2h0M404.2 1836.1h0M321.8 1311.9h0M572.5 1147.1h0M491.4 1235.3h0M687 1713.9h0M585.5 1785.3h0M519 1669h0M230 1322.3h0M396.3 1803.8h0M524.1 1312h0M647.2 1868.7h0M766.2 1723.5h0M646.6 1723.7h0M570.6 1323.7h0M392 1202.6h0M789.2 1177h0M446.4 1201.1h0M512.2 1008.1h0M615.1 1776.2h0M825.4 1294.9h0M284.2 1653.4h0M711.7 1132.6h0M205.3 1594.8h0M572.6 1801h0M252.7 1199.4h0M186 1613.1h0M218.7 1771.2h0M356 1786.8h0M766 1583h0M197 1056.9h0M369.2 1653.4h0M260.9 1870.2h0M645.2 1295.9h0M652.9 1272.1h0M215.8 1267h0M486.8 1175.5h0M762 1801.6h0M459.1 951.1h0M472.7 1791.9h0M635.9 1169.1h0M237.7 1803.5h0M595.1 1125h0M483 1780.3h0M888.1 1021.4h0M183.6 1199.4h0M197.6 1843.7h0M219.6 1303.2h0M331.3 1009.5h0M326.2 1248h0M563.8 1202.5h0M458.3 1843.3h0M244.3 1624.8h0M686 1285.7h0M514.3 1020.6h0M447.2 1315.4h0M466.9 1225.7h0M488 1663h0M214.6 1021.8h0M743.6 980.8h0M375.4 1033.3h0M569.9 1253.1h0M515.9 1786.6h0M489 1760.8h0M374.4 1124.3h0M454.4 1236.1h0M691 1065.7h0M688.3 1160.8h0M458.6 1157.3h0M266.4 1083.2h0M879.8 1044.9h0M804.1 1122h0M586.7 1606.8h0M772.9 1291.7h0M229.8 1018.2h0M625.9 1806h0M294.8 1821.1h0M191.6 956.3h0M580.7 1801.4h0M624.6 1074.3h0M643.3 1074.5h0M503.6 1671.8h0M443.4 1255.6h0M394.5 1229.4h0M172.5 1649.6h0M446.6 1129.6h0M387.7 988.9h0M882 1094.1h0M461.6 1241.4h0M573.6 1615.9h0M881.1 1105.2h0M717.5 1035h0M245 1207h0M647.3 1151.3h0M273.6 1611.4h0M853 1675.5h0M540.8 1238.8h0M458.5 1857.5h0M432.5 1202.1h0M482.6 1850.1h0M392.6 1269.5h0M665.4 1076.4h0M854 1616.6h0M825.1 1105.2h0M173.9 1258.2h0M614.6 983.1h0M843.6 1095.5h0M296.6 1070.9h0M438.7 1104.4h0M681.7 1289h0M252.7 1303h0M707.3 1088.3h0M670 1692.9h0M828.8 1321.2h0M323.5 1633h0M887.7 1884.3h0M594.2 1258.3h0M833.2 1095.9h0M630.3 1774.5h0M570.1 1664.4h0M473.7 1627.5h0M317.3 1605.5h0M261.9 1116.8h0M248.9 1260.2h0M165.4 1625.9h0M826.9 1757.2h0M170.3 1867.3h0M492.3 1117.4h0M463.3 1249.5h0M866.5 1252.2h0M508.2 1292.8h0M862.8 1762.7h0M459.7 1082.6h0M803.4 1723.5h0M545.1 1656.5h0M263.2 1878.8h0M552.9 1228.1h0M600 1013.3h0M308.9 998.2h0M549.7 1718.4h0M335 1870.7h0" stroke="#7a6a58" stroke-width="5.0" stroke-linecap="round" stroke-opacity="0.45"/><path d="M326.3 1876.5h0M253.1 1628.4h0M223.1 1187.7h0M889.4 1151.1h0M301.1 1749.5h0M226.3 1174.9h0M175.6 1206.3h0M458.2 1818.4h0M437.3 1058.9h0M349.3 1904.7h0M436 1586h0M407.7 1615.4h0M523.7 1575.3h0M264.6 1011.3h0M302.3 1860.8h0M583.1 1651.6h0M803.2 1224.5h0M421 1795.3h0M259.4 1685.7h0M232.2 1614.3h0M672.9 1864.6h0M305.1 1094h0M213.1 1819.6h0M530.9 1625h0M321.3 1184.3h0M169.7 1280h0M435.8 1753.2h0M810.9 1118.2h0M449.9 1109.4h0M644.5 1888.6h0M308.1 1687.8h0M379.7 962h0M718.2 1278.6h0M590 1227.5h0M230.3 1031.4h0M423.6 1727.5h0M529.1 1631.6h0M875.5 1010h0M173.4 1084.6h0M703.2 1287.9h0M864.5 952.1h0M770.2 1151.7h0M799 981.2h0M864.6 1681h0M290.6 1883.8h0M482.9 1029.6h0M506 1098.2h0M491 1071.1h0M481.4 1648.3h0M448 1296.9h0M325.4 1139.6h0M486.3 1053.5h0M689.6 1631.8h0M606.8 971.1h0M229 1881.8h0M675.1 1142.7h0M703.3 1572.9h0M823.6 1665.5h0M837.2 1895.2h0M324.1 1234.9h0M560 1890.5h0M430.2 1856.4h0M616.7 1871.4h0M732 1234.3h0M777.5 1137.9h0M430.7 1872.9h0M778.5 1249.9h0M775.3 1608.7h0M843.4 1650.8h0M772 1208.3h0M211 1655.7h0M246.3 1748.4h0M360.7 1230.3h0M363.2 1805.3h0M461.2 1297.5h0M864.8 1710.6h0M705.8 1190.1h0M765.9 1303.8h0M730.2 1713.8h0M443.8 1580.1h0M729.8 1906.1h0M832 1706.9h0M660.4 1033.2h0M498.3 1786.3h0M821.1 1840.8h0M791.6 1578.2h0M394.2 986.6h0M831.5 1777h0M637.5 1302.2h0M764.9 1734.4h0M393.8 1235.1h0M421.6 1264.2h0M540.1 1059.1h0M686.9 1284.6h0M277.4 1194.9h0M731.2 1045.4h0M323.3 1231.8h0M289.8 1671.4h0M240.5 998.3h0M566.2 1658.6h0M399.2 1799h0M571.3 1851.2h0M888.1 1846.6h0M257.7 1264.2h0M458.3 1112.1h0M716.5 1007.9h0M814.6 1838.3h0M665.6 1896.8h0M517.9 1302.5h0M386.1 1604.6h0M507.9 1072.5h0M844 1227.9h0M719.9 1744.1h0M633 1069h0M448.3 983h0M431.8 1859.6h0M414 1622.7h0M614 1087.3h0M662.8 1026.1h0M253.9 1878.6h0M864.6 1053.4h0M889.3 987.5h0M599.3 1581.3h0M879.7 1294.4h0M851.2 1575.8h0M508.5 1112.8h0M332.9 1301.2h0M413.4 1307.5h0M750.1 1310.5h0M619.3 986.5h0M263.6 1633.3h0M810.2 1251h0M184.7 1173.4h0M423.8 1302.3h0M570.3 1240h0M632.7 1706.5h0M732 1663.7h0M586.8 1200.6h0M774.4 1228.3h0M637.7 1277.9h0M582.6 1659h0M678.1 1116.7h0M267.5 1742.5h0M225.5 1713.4h0M714.4 1159h0M624.7 1193.5h0M803.7 1139.4h0M245.3 984.6h0M684.8 1153.4h0M390.1 1890.6h0M697.6 1660h0M169.1 1732.2h0M400.9 1772.8h0M463.2 1827.3h0M161.3 1893.9h0M512 1899.6h0M683.6 1895.4h0M268.7 1089.9h0M678.2 1865.8h0M645.8 1282.9h0M596.4 1582.2h0M345.4 1618h0M306.2 976.1h0M668.4 1166.6h0M450.3 1617.1h0M313 1616.7h0M672.1 1131.4h0M749.5 1580.6h0M792.7 1701h0M521.4 1638.9h0M390.3 1579h0M221 1282.6h0M529.9 1802.6h0M659.5 1825.1h0M794.7 1884.6h0M502.8 1162.4h0M278.9 1180.5h0M322 1645.6h0M596.5 1142.9h0M884.7 1085.1h0M773.3 1837.4h0M452 1690.1h0M247.4 1321.4h0M785.7 1590.1h0M805.5 1889.3h0M307 1676.8h0M525.8 1308.2h0M606.7 1059.1h0M889.1 1215.2h0M560.1 1140.3h0M621.3 1021.2h0M405.5 1319.9h0M868.2 1864.7h0M716.8 1797h0M555.4 1592.2h0M746.2 1103.3h0M246.8 1839h0M533 1620.8h0M828.6 1658.7h0M574 1866.6h0M294.2 1102.8h0M738.6 1813.1h0M361.7 1827.4h0M563.3 1637.5h0M672.2 1132.3h0M560.4 1577h0M619.8 1230.9h0M293.3 1046.9h0M251.2 1126.8h0M720.7 977.8h0M414.9 1064.3h0M429.4 1265.8h0M238.4 1135.5h0M234.3 1763.6h0M181.2 1070.8h0M487.6 1270.1h0M540.1 1614.1h0M594.5 1705.7h0M503.7 1600.9h0M465.7 1070.9h0M215.1 1124.6h0M484.6 1215.3h0M569.7 1592.2h0M831.1 1093.6h0M859.1 950.5h0M809.3 1898.2h0M427.2 1718.7h0M786 1856.5h0M379.9 1160.9h0M818.4 1162.3h0M780 1103h0M268 1227.1h0M837.2 1322.5h0M482 1227.7h0M523.2 1271.7h0M693.7 1247.8h0M875.1 1825.4h0M583 1047.2h0M689.5 1909.6h0M673 988.9h0M558.5 1853.3h0M199.2 965.8h0M687.5 1046h0M261.1 1736.8h0M424.6 1800.4h0M744.8 1587.7h0M422.6 1028.8h0M872.6 1788.2h0M466.6 1134.2h0M269.1 1207.5h0M873.4 1848.9h0M717.1 1107.2h0M613.5 1888.2h0M737.5 1899.6h0M618.7 1242h0M176.1 1210h0M615.5 1722.6h0M376.3 1084.9h0M180.8 1620.6h0M686.7 1682.8h0M256.7 1212.6h0M688.4 1594.1h0M413.5 1882.8h0M381.3 1807.9h0M884.5 1618.2h0M712.9 1800.6h0M859.4 1682.6h0M161.9 1226.4h0M806.1 1062.2h0M666.8 1894.3h0M780.4 1616.1h0M197.7 1272.2h0M404.2 1836.1h0M321.8 1311.9h0M572.5 1147.1h0M491.4 1235.3h0M687 1713.9h0M585.5 1785.3h0M519 1669h0M230 1322.3h0M396.3 1803.8h0M524.1 1312h0M647.2 1868.7h0M766.2 1723.5h0M646.6 1723.7h0M570.6 1323.7h0M392 1202.6h0M789.2 1177h0M446.4 1201.1h0M512.2 1008.1h0M615.1 1776.2h0M825.4 1294.9h0M284.2 1653.4h0M711.7 1132.6h0M205.3 1594.8h0M572.6 1801h0M252.7 1199.4h0M186 1613.1h0M218.7 1771.2h0M356 1786.8h0M766 1583h0M197 1056.9h0M369.2 1653.4h0M260.9 1870.2h0M645.2 1295.9h0M652.9 1272.1h0M215.8 1267h0M486.8 1175.5h0M762 1801.6h0M459.1 951.1h0M472.7 1791.9h0M635.9 1169.1h0M237.7 1803.5h0M595.1 1125h0M483 1780.3h0M888.1 1021.4h0M183.6 1199.4h0M197.6 1843.7h0M219.6 1303.2h0M331.3 1009.5h0M326.2 1248h0M563.8 1202.5h0M458.3 1843.3h0M244.3 1624.8h0M686 1285.7h0M514.3 1020.6h0M447.2 1315.4h0M466.9 1225.7h0M488 1663h0M214.6 1021.8h0M743.6 980.8h0M375.4 1033.3h0M569.9 1253.1h0M515.9 1786.6h0M489 1760.8h0M374.4 1124.3h0M454.4 1236.1h0M691 1065.7h0M688.3 1160.8h0M458.6 1157.3h0M266.4 1083.2h0M879.8 1044.9h0M804.1 1122h0M586.7 1606.8h0M772.9 1291.7h0M229.8 1018.2h0M625.9 1806h0M294.8 1821.1h0M191.6 956.3h0M580.7 1801.4h0M624.6 1074.3h0M643.3 1074.5h0M503.6 1671.8h0M443.4 1255.6h0M394.5 1229.4h0M172.5 1649.6h0M446.6 1129.6h0M387.7 988.9h0M882 1094.1h0M461.6 1241.4h0M573.6 1615.9h0M881.1 1105.2h0M717.5 1035h0M245 1207h0M647.3 1151.3h0M273.6 1611.4h0M853 1675.5h0M540.8 1238.8h0M458.5 1857.5h0M432.5 1202.1h0M482.6 1850.1h0M392.6 1269.5h0M665.4 1076.4h0M854 1616.6h0M825.1 1105.2h0M173.9 1258.2h0M614.6 983.1h0M843.6 1095.5h0M296.6 1070.9h0M438.7 1104.4h0M681.7 1289h0M252.7 1303h0M707.3 1088.3h0M670 1692.9h0M828.8 1321.2h0M323.5 1633h0M887.7 1884.3h0M594.2 1258.3h0M833.2 1095.9h0M630.3 1774.5h0M570.1 1664.4h0M473.7 1627.5h0M317.3 1605.5h0M261.9 1116.8h0M248.9 1260.2h0M165.4 1625.9h0M826.9 1757.2h0M170.3 1867.3h0M492.3 1117.4h0M463.3 1249.5h0M866.5 1252.2h0M508.2 1292.8h0M862.8 1762.7h0M459.7 1082.6h0M803.4 1723.5h0M545.1 1656.5h0M263.2 1878.8h0M552.9 1228.1h0M600 1013.3h0M308.9 998.2h0M549.7 1718.4h0M335 1870.7h0" stroke="#e2c09e" stroke-width="3.8" stroke-linecap="round"/>
</g>
<rect x="116" y="1324.7" width="807" height="242.4" fill="#c9d5ee"/>
<g clip-path="url(#slabc)"><g filter="url(#grain)">
<rect x="150" y="1324.7" width="750" height="242.4" fill="url(#mb)"/>
</g>
<path d="M628.9 1391.7h0M491.3 1426.2h0M207 1546.8h0M818.1 1509.6h0M850.7 1420.1h0M775.9 1434.5h0M546.4 1440.5h0M355.5 1357.2h0M285 1369h0M329.9 1344.4h0M486.2 1352h0M238.7 1451.2h0M442.6 1502h0M883 1508.1h0M602.3 1428.4h0M250 1508.8h0M682.6 1403.4h0M426.4 1365.9h0M711.9 1433.5h0M328.3 1455.9h0M165.9 1540.1h0M781 1446.7h0M372.8 1540h0M759.5 1532.2h0M425 1361.2h0M518.2 1458.9h0M358.5 1353.7h0M747.3 1435.1h0M753.9 1524.1h0M260.7 1537.3h0M228.6 1534.2h0M689.3 1527.1h0M444.8 1364.8h0M762.5 1488.4h0M697.7 1410.7h0M808 1513.5h0M608.4 1349h0M843.7 1506.5h0M776.3 1458h0M771.8 1431h0M869.3 1463.5h0M319.6 1456.6h0M295.6 1508h0M471.2 1556.6h0M788 1380.1h0M619.7 1430.3h0M424.4 1527.8h0M493.7 1402.2h0M440.7 1476h0M580.8 1566.5h0M230.9 1441.6h0M821.3 1358.9h0M207.8 1419.7h0M352.8 1452.6h0M600.5 1340.5h0M611.2 1543.6h0M741.7 1537.4h0M662.3 1492.1h0M355.3 1377.6h0M333.5 1521.4h0M486.6 1526h0M516.3 1477.2h0M849.7 1534.4h0M513.9 1508.8h0M389.2 1418.7h0M276.3 1422.1h0M741 1555h0M509.1 1400.1h0M664.6 1444.5h0M531.5 1335.7h0M488.2 1406.1h0M616 1379.6h0M421.3 1459h0M655.6 1533.9h0M662.8 1371.6h0M514.8 1497.1h0M675.7 1371.3h0M537.5 1500.9h0M586.2 1376.7h0M515.7 1496.2h0M529.3 1490.8h0M829 1519.7h0M215.5 1374.9h0M569 1547.7h0M634.9 1359.1h0M618.9 1549.8h0M829.7 1439.7h0M365.7 1554.1h0M243.2 1342.3h0M806.6 1442.9h0M765.3 1457.9h0M807.8 1528.1h0M259.8 1389.9h0M618.2 1475.3h0M762.4 1461.4h0M172 1509.7h0M862.8 1552.9h0M671.1 1460.5h0M254.9 1552.6h0M406.7 1431.9h0M437.7 1452.5h0M605.6 1442.8h0M244.4 1508.7h0M806.8 1500.5h0M800.3 1561.3h0M277.7 1338.9h0M178.5 1371.5h0M882.2 1338.5h0M826.9 1344.6h0M357.2 1363.1h0M699.7 1339h0M218.8 1542.4h0M785.6 1396.4h0M778.6 1367.2h0M389.5 1352h0M517.4 1419.2h0M551.1 1506h0M167.9 1534.7h0M318.1 1425.1h0M835 1392.6h0M384.3 1540.4h0M819.6 1350.3h0M182.2 1537h0M730.4 1387.5h0M490.2 1365.8h0M398.8 1352h0M503.8 1511.4h0M613.8 1377.8h0M304.2 1490.3h0M689.8 1445.4h0M468.2 1442.5h0M500 1539.5h0M186.5 1353.3h0M575.4 1341.4h0M180.4 1368.4h0M191.5 1398.9h0M882.1 1458.8h0M501.7 1458.2h0M760.4 1477.9h0M210.6 1515h0M519.8 1449.3h0M191.5 1424.9h0M257.7 1501.3h0M514 1346.8h0M208.9 1481.8h0M835.7 1335.3h0M331.6 1453.4h0M764.8 1468.5h0" stroke="#5a6070" stroke-width="5.0" stroke-linecap="round" stroke-opacity="0.45"/><path d="M628.9 1391.7h0M491.3 1426.2h0M207 1546.8h0M818.1 1509.6h0M850.7 1420.1h0M775.9 1434.5h0M546.4 1440.5h0M355.5 1357.2h0M285 1369h0M329.9 1344.4h0M486.2 1352h0M238.7 1451.2h0M442.6 1502h0M883 1508.1h0M602.3 1428.4h0M250 1508.8h0M682.6 1403.4h0M426.4 1365.9h0M711.9 1433.5h0M328.3 1455.9h0M165.9 1540.1h0M781 1446.7h0M372.8 1540h0M759.5 1532.2h0M425 1361.2h0M518.2 1458.9h0M358.5 1353.7h0M747.3 1435.1h0M753.9 1524.1h0M260.7 1537.3h0M228.6 1534.2h0M689.3 1527.1h0M444.8 1364.8h0M762.5 1488.4h0M697.7 1410.7h0M808 1513.5h0M608.4 1349h0M843.7 1506.5h0M776.3 1458h0M771.8 1431h0M869.3 1463.5h0M319.6 1456.6h0M295.6 1508h0M471.2 1556.6h0M788 1380.1h0M619.7 1430.3h0M424.4 1527.8h0M493.7 1402.2h0M440.7 1476h0M580.8 1566.5h0M230.9 1441.6h0M821.3 1358.9h0M207.8 1419.7h0M352.8 1452.6h0M600.5 1340.5h0M611.2 1543.6h0M741.7 1537.4h0M662.3 1492.1h0M355.3 1377.6h0M333.5 1521.4h0M486.6 1526h0M516.3 1477.2h0M849.7 1534.4h0M513.9 1508.8h0M389.2 1418.7h0M276.3 1422.1h0M741 1555h0M509.1 1400.1h0M664.6 1444.5h0M531.5 1335.7h0M488.2 1406.1h0M616 1379.6h0M421.3 1459h0M655.6 1533.9h0M662.8 1371.6h0M514.8 1497.1h0M675.7 1371.3h0M537.5 1500.9h0M586.2 1376.7h0M515.7 1496.2h0M529.3 1490.8h0M829 1519.7h0M215.5 1374.9h0M569 1547.7h0M634.9 1359.1h0M618.9 1549.8h0M829.7 1439.7h0M365.7 1554.1h0M243.2 1342.3h0M806.6 1442.9h0M765.3 1457.9h0M807.8 1528.1h0M259.8 1389.9h0M618.2 1475.3h0M762.4 1461.4h0M172 1509.7h0M862.8 1552.9h0M671.1 1460.5h0M254.9 1552.6h0M406.7 1431.9h0M437.7 1452.5h0M605.6 1442.8h0M244.4 1508.7h0M806.8 1500.5h0M800.3 1561.3h0M277.7 1338.9h0M178.5 1371.5h0M882.2 1338.5h0M826.9 1344.6h0M357.2 1363.1h0M699.7 1339h0M218.8 1542.4h0M785.6 1396.4h0M778.6 1367.2h0M389.5 1352h0M517.4 1419.2h0M551.1 1506h0M167.9 1534.7h0M318.1 1425.1h0M835 1392.6h0M384.3 1540.4h0M819.6 1350.3h0M182.2 1537h0M730.4 1387.5h0M490.2 1365.8h0M398.8 1352h0M503.8 1511.4h0M613.8 1377.8h0M304.2 1490.3h0M689.8 1445.4h0M468.2 1442.5h0M500 1539.5h0M186.5 1353.3h0M575.4 1341.4h0M180.4 1368.4h0M191.5 1398.9h0M882.1 1458.8h0M501.7 1458.2h0M760.4 1477.9h0M210.6 1515h0M519.8 1449.3h0M191.5 1424.9h0M257.7 1501.3h0M514 1346.8h0M208.9 1481.8h0M835.7 1335.3h0M331.6 1453.4h0M764.8 1468.5h0" stroke="#d2c0c0" stroke-width="3.8" stroke-linecap="round"/>
</g>
<g fill="#000">
<rect x="111.8" y="947.3" width="6" height="967.5"/>
<rect x="921.8" y="947.3" width="6" height="967.5"/>
<rect x="111.8" y="1072.7" width="816" height="8.6"/>
<rect x="111.8" y="1318.2" width="816" height="6.5"/>
<rect x="111.8" y="1567.1" width="816" height="7"/>
<rect x="111.8" y="1817.1" width="816" height="6"/>
</g>
</svg>
</body></html>
